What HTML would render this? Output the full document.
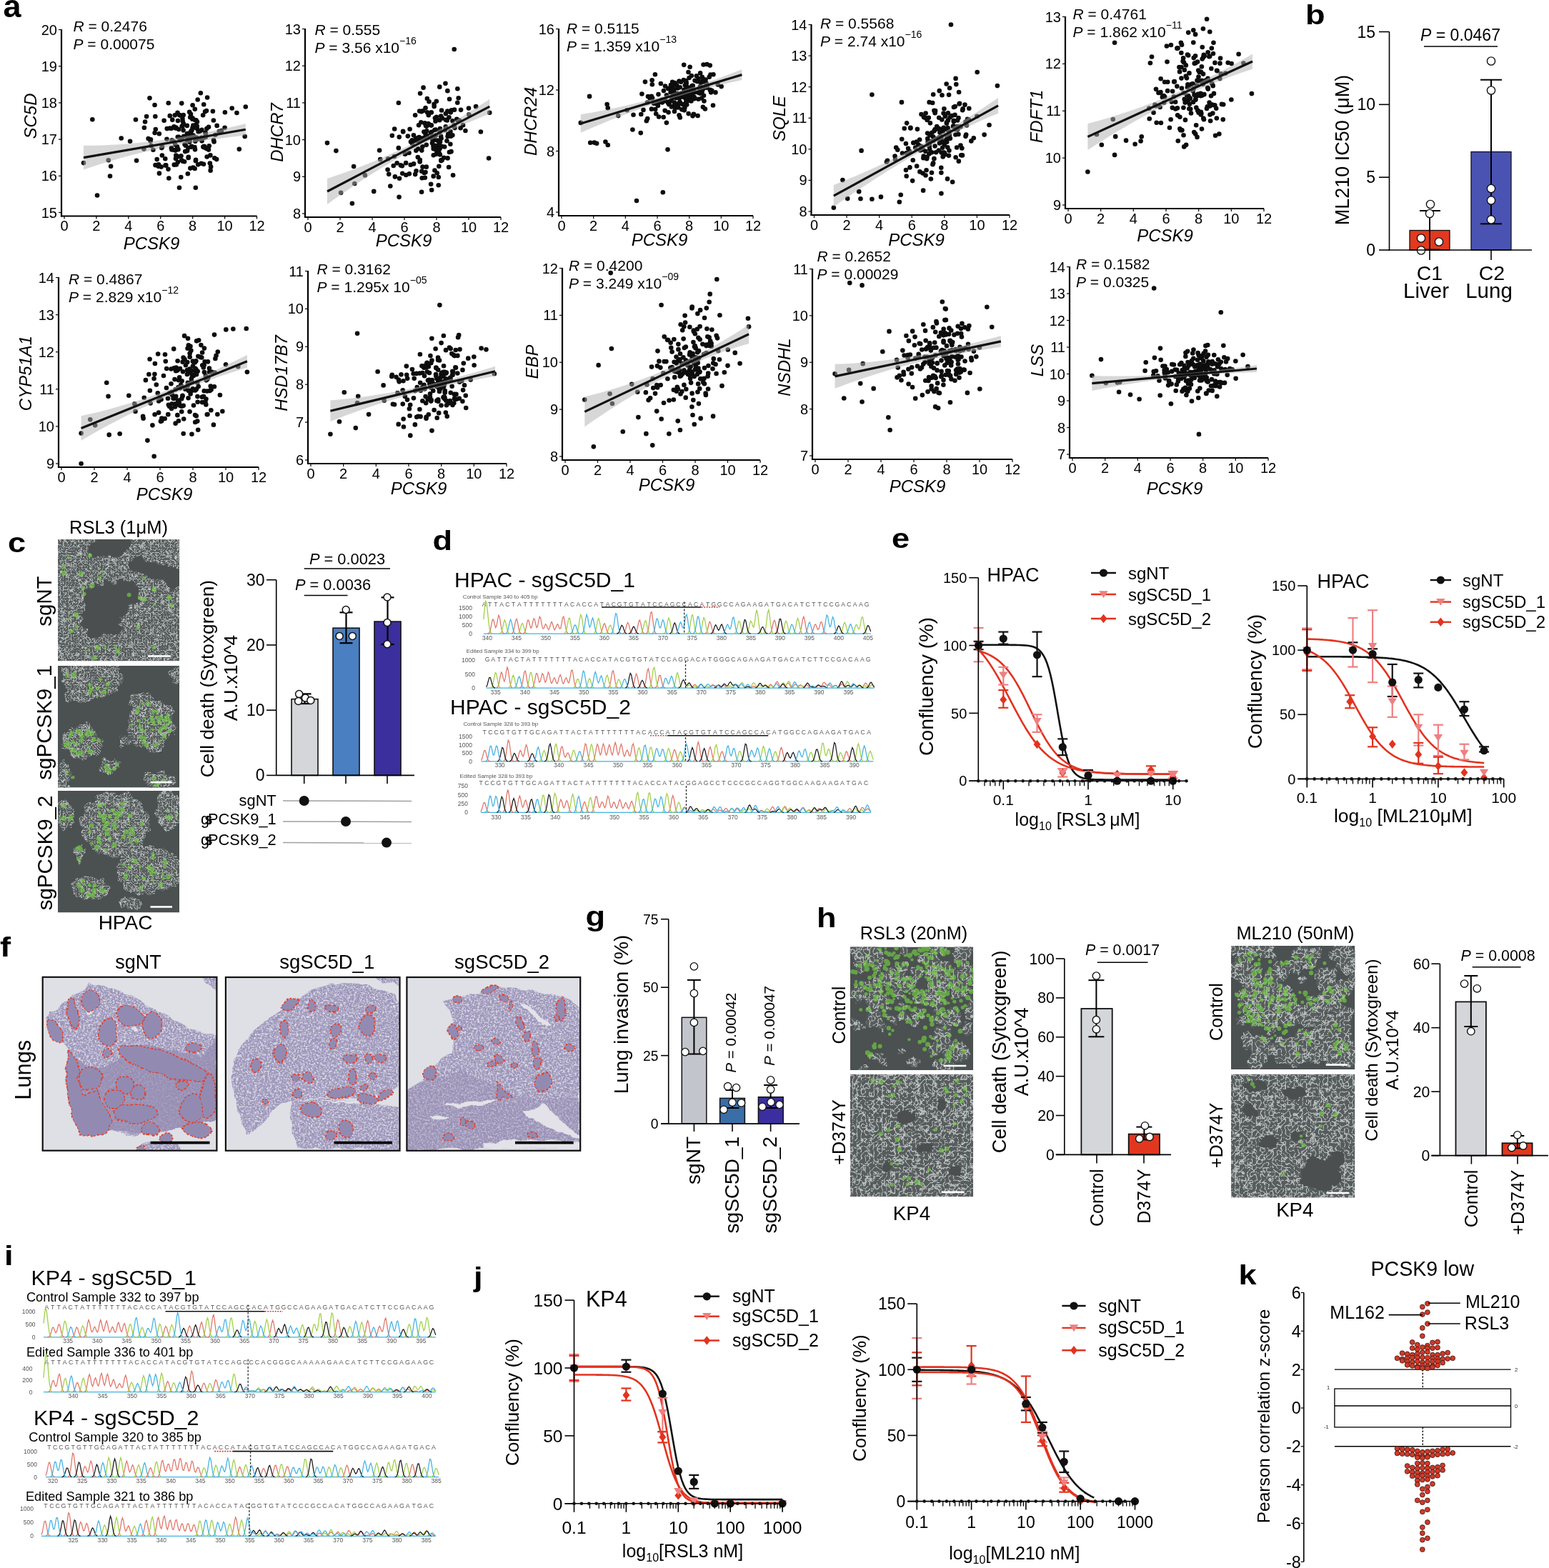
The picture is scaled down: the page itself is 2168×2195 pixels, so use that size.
<!DOCTYPE html>
<html><head><meta charset="utf-8"><title>Figure</title><style>html,body{margin:0;padding:0;background:#fff;width:2168px;height:2195px;overflow:hidden}svg{display:block}</style></head><body>
<svg width="2168" height="2195" viewBox="0 0 2168 2195" font-family="'Liberation Sans', Arial, Helvetica, sans-serif">
<defs>
<filter id="cellTex" x="0" y="0" width="100%" height="100%" color-interpolation-filters="sRGB">
  <feTurbulence type="turbulence" baseFrequency="0.27" numOctaves="2" seed="5" result="n"/>
  <feColorMatrix in="n" type="matrix" values="0 0 0 0 0.76  0 0 0 0 0.78  0 0 0 0 0.78  -6 0 0 0 1.45" result="w"/>
  <feFlood flood-color="#575c5c" result="d"/>
  <feComposite in="w" in2="d" operator="over" result="c"/>
  <feGaussianBlur in="c" stdDeviation="0.4" result="cb"/>
  <feComposite in="cb" in2="SourceAlpha" operator="in"/>
</filter>
<filter id="cellTex2" x="0" y="0" width="100%" height="100%" color-interpolation-filters="sRGB">
  <feTurbulence type="turbulence" baseFrequency="0.17" numOctaves="2" seed="9" result="n"/>
  <feColorMatrix in="n" type="matrix" values="0 0 0 0 0.75  0 0 0 0 0.77  0 0 0 0 0.77  -6 0 0 0 1.42" result="w"/>
  <feFlood flood-color="#575c5c" result="d"/>
  <feComposite in="w" in2="d" operator="over" result="c"/>
  <feGaussianBlur in="c" stdDeviation="0.4" result="cb"/>
  <feComposite in="cb" in2="SourceAlpha" operator="in"/>
</filter>
<filter id="greenTex" x="0" y="0" width="100%" height="100%" color-interpolation-filters="sRGB">
  <feTurbulence type="fractalNoise" baseFrequency="0.16" numOctaves="2" seed="5" result="n"/>
  <feColorMatrix in="n" type="matrix" values="0 0 0 0 0.36  0 0 0 0 0.82  0 0 0 0 0.24  5 0 0 0 -2.2" result="g"/>
  <feComposite in="g" in2="SourceAlpha" operator="in"/>
</filter>
<filter id="soft" x="-20%" y="-20%" width="140%" height="140%"><feGaussianBlur stdDeviation="0.7"/></filter>
<filter id="rough2" x="-5%" y="-5%" width="110%" height="110%">
  <feTurbulence type="fractalNoise" baseFrequency="0.05" numOctaves="2" seed="21" result="dn"/>
  <feDisplacementMap in="SourceGraphic" in2="dn" scale="9" xChannelSelector="R" yChannelSelector="G"/>
</filter>
<filter id="rough" x="-10%" y="-10%" width="120%" height="120%">
  <feTurbulence type="fractalNoise" baseFrequency="0.07" numOctaves="3" seed="12" result="dn"/>
  <feDisplacementMap in="SourceGraphic" in2="dn" scale="16" xChannelSelector="R" yChannelSelector="G"/>
</filter>
<filter id="lungTex" x="0" y="0" width="100%" height="100%" color-interpolation-filters="sRGB">
  <feTurbulence type="fractalNoise" baseFrequency="0.42" numOctaves="2" seed="6" result="n"/>
  <feColorMatrix in="n" type="matrix" values="0 0 0 0 0  0 0 0 0 0  0 0 0 0 0  -3.2 0 0 0 1.85" result="a"/>
  <feFlood flood-color="#dddce6" result="w"/>
  <feComposite in="w" in2="a" operator="in" result="wa"/>
  <feComposite in="wa" in2="SourceAlpha" operator="in"/>
</filter>
</defs>
<rect width="2168" height="2195" fill="#fff"/>
<text x="0" y="0" font-size="45" font-weight="bold" transform="translate(4.5 24.3) scale(1 1)">a</text>
<g fill="#0d0d0d"><circle cx="251.25" cy="161.08" r="3.3"/><circle cx="272.79" cy="152.8" r="3.3"/><circle cx="252.09" cy="195.34" r="3.3"/><circle cx="249.59" cy="219.18" r="3.3"/><circle cx="232.33" cy="231.4" r="3.3"/><circle cx="252.45" cy="196.27" r="3.3"/><circle cx="289.65" cy="219.47" r="3.3"/><circle cx="270.34" cy="234.5" r="3.3"/><circle cx="287.55" cy="185.44" r="3.3"/><circle cx="265.42" cy="191.14" r="3.3"/><circle cx="269.52" cy="178.79" r="3.3"/><circle cx="263.64" cy="220.94" r="3.3"/><circle cx="211.67" cy="204.1" r="3.3"/><circle cx="282.45" cy="193.76" r="3.3"/><circle cx="272.65" cy="236.04" r="3.3"/><circle cx="272.44" cy="178.52" r="3.3"/><circle cx="210.96" cy="195.33" r="3.3"/><circle cx="209.48" cy="137.34" r="3.3"/><circle cx="233.46" cy="194.73" r="3.3"/><circle cx="245.29" cy="202.47" r="3.3"/><circle cx="267.01" cy="159.9" r="3.3"/><circle cx="257.15" cy="190.73" r="3.3"/><circle cx="273.06" cy="167.97" r="3.3"/><circle cx="240.41" cy="209.54" r="3.3"/><circle cx="267.1" cy="188.46" r="3.3"/><circle cx="269.5" cy="165.34" r="3.3"/><circle cx="239.88" cy="179.73" r="3.3"/><circle cx="306.65" cy="184.11" r="3.3"/><circle cx="274.06" cy="223.87" r="3.3"/><circle cx="292.04" cy="177.73" r="3.3"/><circle cx="241.02" cy="196.97" r="3.3"/><circle cx="237.68" cy="179.43" r="3.3"/><circle cx="248.78" cy="191.7" r="3.3"/><circle cx="255.45" cy="165.98" r="3.3"/><circle cx="276.18" cy="194.48" r="3.3"/><circle cx="265.41" cy="189.21" r="3.3"/><circle cx="245.88" cy="179.52" r="3.3"/><circle cx="231.57" cy="231.38" r="3.3"/><circle cx="243.82" cy="209.96" r="3.3"/><circle cx="292.71" cy="204.23" r="3.3"/><circle cx="235.76" cy="144.28" r="3.3"/><circle cx="265.31" cy="197.53" r="3.3"/><circle cx="270.41" cy="175.66" r="3.3"/><circle cx="216.62" cy="185.94" r="3.3"/><circle cx="259.8" cy="203.78" r="3.3"/><circle cx="295.11" cy="233.41" r="3.3"/><circle cx="201.89" cy="178.77" r="3.3"/><circle cx="249.41" cy="209.14" r="3.3"/><circle cx="255.46" cy="176.41" r="3.3"/><circle cx="235.49" cy="236.85" r="3.3"/><circle cx="272.4" cy="206.02" r="3.3"/><circle cx="256.69" cy="161.02" r="3.3"/><circle cx="217.32" cy="162.96" r="3.3"/><circle cx="281.68" cy="228.75" r="3.3"/><circle cx="277.23" cy="230.37" r="3.3"/><circle cx="284.99" cy="192.74" r="3.3"/><circle cx="298.88" cy="168.57" r="3.3"/><circle cx="268.61" cy="189.82" r="3.3"/><circle cx="261.79" cy="186.98" r="3.3"/><circle cx="221.97" cy="230.29" r="3.3"/><circle cx="275.71" cy="176.58" r="3.3"/><circle cx="241.26" cy="167.64" r="3.3"/><circle cx="245.73" cy="210.59" r="3.3"/><circle cx="222.93" cy="242.65" r="3.3"/><circle cx="231.27" cy="222.2" r="3.3"/><circle cx="243.53" cy="177.25" r="3.3"/><circle cx="294.62" cy="238.64" r="3.3"/><circle cx="201.4" cy="208.61" r="3.3"/><circle cx="217.52" cy="231.13" r="3.3"/><circle cx="265.16" cy="198.63" r="3.3"/><circle cx="298.96" cy="195.95" r="3.3"/><circle cx="274.68" cy="192.84" r="3.3"/><circle cx="205.1" cy="163.11" r="3.3"/><circle cx="268.47" cy="182.52" r="3.3"/><circle cx="237.77" cy="162.14" r="3.3"/><circle cx="227" cy="205.55" r="3.3"/><circle cx="285.88" cy="204.85" r="3.3"/><circle cx="289.37" cy="180.07" r="3.3"/><circle cx="262.85" cy="243.26" r="3.3"/><circle cx="265.34" cy="196.03" r="3.3"/><circle cx="270.63" cy="189.48" r="3.3"/><circle cx="303.19" cy="223.11" r="3.3"/><circle cx="275.82" cy="180.01" r="3.3"/><circle cx="273" cy="209.33" r="3.3"/><circle cx="273.81" cy="262.68" r="3.3"/><circle cx="214.41" cy="209.77" r="3.3"/><circle cx="294.42" cy="217.42" r="3.3"/><circle cx="285.25" cy="206.11" r="3.3"/><circle cx="273.31" cy="197.81" r="3.3"/><circle cx="203.03" cy="170.51" r="3.3"/><circle cx="240.65" cy="196.3" r="3.3"/><circle cx="282.08" cy="192.8" r="3.3"/><circle cx="207.59" cy="193.99" r="3.3"/><circle cx="253.27" cy="248.04" r="3.3"/><circle cx="287.06" cy="156.21" r="3.3"/><circle cx="221.63" cy="232.84" r="3.3"/><circle cx="303.64" cy="175.89" r="3.3"/><circle cx="273.93" cy="225.15" r="3.3"/><circle cx="254.22" cy="224.34" r="3.3"/><circle cx="267.56" cy="205.68" r="3.3"/><circle cx="276.68" cy="139.55" r="3.3"/><circle cx="261.82" cy="175.88" r="3.3"/><circle cx="290.6" cy="207.53" r="3.3"/><circle cx="239.87" cy="207.34" r="3.3"/><circle cx="246.79" cy="230.56" r="3.3"/><circle cx="287.68" cy="191.99" r="3.3"/><circle cx="259.19" cy="212.12" r="3.3"/><circle cx="233.72" cy="180.08" r="3.3"/><circle cx="285.01" cy="229.71" r="3.3"/><circle cx="299.58" cy="198.38" r="3.3"/><circle cx="245.95" cy="221.99" r="3.3"/><circle cx="219.7" cy="223.08" r="3.3"/><circle cx="254.65" cy="176.74" r="3.3"/><circle cx="254.25" cy="193.28" r="3.3"/><circle cx="250.07" cy="181.08" r="3.3"/><circle cx="297.87" cy="155.77" r="3.3"/><circle cx="229.61" cy="168.75" r="3.3"/><circle cx="293.83" cy="228.59" r="3.3"/><circle cx="222.83" cy="187.18" r="3.3"/><circle cx="236.34" cy="249.55" r="3.3"/><circle cx="276.17" cy="194.83" r="3.3"/><circle cx="290.12" cy="136.56" r="3.3"/><circle cx="282.55" cy="197.37" r="3.3"/><circle cx="268.13" cy="204.82" r="3.3"/><circle cx="262.43" cy="190.62" r="3.3"/><circle cx="262.72" cy="194.86" r="3.3"/><circle cx="274.59" cy="192.55" r="3.3"/><circle cx="253.49" cy="218.29" r="3.3"/><circle cx="266.23" cy="164.29" r="3.3"/><circle cx="274.52" cy="168.28" r="3.3"/><circle cx="258.46" cy="202.08" r="3.3"/><circle cx="279.88" cy="183.52" r="3.3"/><circle cx="274.32" cy="174.81" r="3.3"/><circle cx="314.88" cy="157.23" r="3.3"/><circle cx="267.56" cy="183.46" r="3.3"/><circle cx="246.43" cy="178.62" r="3.3"/><circle cx="247.98" cy="205.34" r="3.3"/><circle cx="258.07" cy="226.29" r="3.3"/><circle cx="284.37" cy="205.55" r="3.3"/><circle cx="248.99" cy="169.05" r="3.3"/><circle cx="269.27" cy="166.69" r="3.3"/><circle cx="310.02" cy="183.03" r="3.3"/><circle cx="226.89" cy="217.57" r="3.3"/><circle cx="265.28" cy="186.25" r="3.3"/><circle cx="269.62" cy="147.32" r="3.3"/><circle cx="265.13" cy="156.8" r="3.3"/><circle cx="246.33" cy="217.46" r="3.3"/><circle cx="276.83" cy="194.14" r="3.3"/><circle cx="266.36" cy="235.61" r="3.3"/><circle cx="243.78" cy="230.63" r="3.3"/><circle cx="268.41" cy="189.07" r="3.3"/><circle cx="242.88" cy="198.12" r="3.3"/><circle cx="255.65" cy="169.43" r="3.3"/><circle cx="252.1" cy="161.51" r="3.3"/><circle cx="256.68" cy="172.9" r="3.3"/><circle cx="244.77" cy="161.32" r="3.3"/><circle cx="286.75" cy="206.59" r="3.3"/><circle cx="225.63" cy="233.6" r="3.3"/><circle cx="256.57" cy="182.34" r="3.3"/><circle cx="285.21" cy="146.2" r="3.3"/><circle cx="282.47" cy="181.88" r="3.3"/><circle cx="300.3" cy="221.27" r="3.3"/><circle cx="210.67" cy="197.58" r="3.3"/><circle cx="248.52" cy="157.69" r="3.3"/><circle cx="248.87" cy="226.9" r="3.3"/><circle cx="275.94" cy="170.44" r="3.3"/><circle cx="289.09" cy="207.99" r="3.3"/><circle cx="289" cy="154.95" r="3.3"/><circle cx="217.8" cy="181.05" r="3.3"/><circle cx="277.62" cy="184.21" r="3.3"/><circle cx="216.55" cy="147.07" r="3.3"/><circle cx="263.37" cy="206.77" r="3.3"/><circle cx="291.97" cy="209.6" r="3.3"/><circle cx="254.25" cy="144.61" r="3.3"/><circle cx="263.8" cy="219.86" r="3.3"/><circle cx="280.82" cy="130.3" r="3.3"/><circle cx="262.41" cy="196.55" r="3.3"/><circle cx="255.95" cy="225.73" r="3.3"/><circle cx="301.48" cy="188.68" r="3.3"/><circle cx="287.87" cy="187.32" r="3.3"/><circle cx="250.19" cy="191.88" r="3.3"/><circle cx="226.24" cy="207.11" r="3.3"/><circle cx="284.11" cy="161.2" r="3.3"/><circle cx="250.98" cy="262.73" r="3.3"/><circle cx="262.15" cy="211.08" r="3.3"/><circle cx="116.95" cy="228.08" r="3.3"/><circle cx="129.3" cy="167.31" r="3.3"/><circle cx="136.04" cy="273.5" r="3.3"/><circle cx="151.76" cy="224.22" r="3.3"/><circle cx="154.01" cy="246.45" r="3.3"/><circle cx="155.13" cy="232.79" r="3.3"/><circle cx="169.73" cy="193.49" r="3.3"/><circle cx="182.08" cy="197.81" r="3.3"/><circle cx="189.94" cy="167.46" r="3.3"/><circle cx="191.06" cy="224.7" r="3.3"/><circle cx="314.58" cy="178.78" r="3.3"/><circle cx="324.69" cy="151.55" r="3.3"/><circle cx="331.43" cy="157.98" r="3.3"/><circle cx="342.66" cy="190.93" r="3.3"/><circle cx="343.78" cy="149.51" r="3.3"/><circle cx="334.8" cy="208.85" r="3.3"/></g>
<polygon points="116.95,203.8 124.51,203.75 132.07,203.63 139.63,203.44 147.19,203.17 154.75,202.84 162.32,202.43 169.88,201.95 177.44,201.39 185,200.77 192.56,200.07 200.12,199.31 207.68,198.47 215.24,197.56 222.8,196.57 230.36,195.52 237.93,194.39 245.49,193.19 253.05,191.93 260.61,190.59 268.17,189.22 275.73,187.8 283.29,186.34 290.85,184.84 298.41,183.29 305.97,181.7 313.54,180.06 321.1,178.38 328.66,176.66 336.22,174.89 343.78,173.08 343.78,189.47 336.22,190.29 328.66,191.15 321.1,192.05 313.54,193 305.97,194 298.41,195.03 290.85,196.11 283.29,197.24 275.73,198.4 268.17,199.61 260.61,200.87 253.05,202.17 245.49,203.52 237.93,204.95 230.36,206.46 222.8,208.03 215.24,209.68 207.68,211.39 200.12,213.18 192.56,215.04 185,216.98 177.44,218.98 169.88,221.06 162.32,223.2 154.75,225.42 147.19,227.71 139.63,230.08 132.07,232.51 124.51,235.02 116.95,237.6" fill="#b0b0b0" fill-opacity="0.5"/>
<line x1="116.95" y1="220.7" x2="343.78" y2="181.28" stroke="#111" stroke-width="3.2"/>
<line x1="86" y1="41" x2="86" y2="303.5" stroke="#000" stroke-width="2.2"/>
<line x1="85" y1="302.5" x2="359.5" y2="302.5" stroke="#000" stroke-width="2.2"/>
<line x1="82" y1="297.5" x2="86" y2="297.5" stroke="#000" stroke-width="1.2"/>
<text x="80" y="304.5" font-size="20" text-anchor="end">15</text>
<line x1="82" y1="246.3" x2="86" y2="246.3" stroke="#000" stroke-width="1.2"/>
<text x="80" y="253.3" font-size="20" text-anchor="end">16</text>
<line x1="82" y1="195.1" x2="86" y2="195.1" stroke="#000" stroke-width="1.2"/>
<text x="80" y="202.1" font-size="20" text-anchor="end">17</text>
<line x1="82" y1="143.9" x2="86" y2="143.9" stroke="#000" stroke-width="1.2"/>
<text x="80" y="150.9" font-size="20" text-anchor="end">18</text>
<line x1="82" y1="92.7" x2="86" y2="92.7" stroke="#000" stroke-width="1.2"/>
<text x="80" y="99.7" font-size="20" text-anchor="end">19</text>
<line x1="82" y1="41.5" x2="86" y2="41.5" stroke="#000" stroke-width="1.2"/>
<text x="80" y="48.5" font-size="20" text-anchor="end">20</text>
<line x1="90" y1="302.5" x2="90" y2="306.5" stroke="#000" stroke-width="1.2"/>
<text x="90" y="323" font-size="20" text-anchor="middle">0</text>
<line x1="134.92" y1="302.5" x2="134.92" y2="306.5" stroke="#000" stroke-width="1.2"/>
<text x="134.92" y="323" font-size="20" text-anchor="middle">2</text>
<line x1="179.83" y1="302.5" x2="179.83" y2="306.5" stroke="#000" stroke-width="1.2"/>
<text x="179.83" y="323" font-size="20" text-anchor="middle">4</text>
<line x1="224.75" y1="302.5" x2="224.75" y2="306.5" stroke="#000" stroke-width="1.2"/>
<text x="224.75" y="323" font-size="20" text-anchor="middle">6</text>
<line x1="269.67" y1="302.5" x2="269.67" y2="306.5" stroke="#000" stroke-width="1.2"/>
<text x="269.67" y="323" font-size="20" text-anchor="middle">8</text>
<line x1="314.58" y1="302.5" x2="314.58" y2="306.5" stroke="#000" stroke-width="1.2"/>
<text x="314.58" y="323" font-size="20" text-anchor="middle">10</text>
<line x1="359.5" y1="302.5" x2="359.5" y2="306.5" stroke="#000" stroke-width="1.2"/>
<text x="359.5" y="323" font-size="20" text-anchor="middle">12</text>
<text x="212" y="349" font-size="24" text-anchor="middle" font-style="italic">PCSK9</text>
<text x="42.5" y="162.5" font-size="24" text-anchor="middle" font-style="italic" transform="rotate(-90 42.5 162.5)" dy="8.6">SC5D</text>
<text x="102.5" y="44" font-size="21"><tspan font-style="italic">R</tspan> = 0.2476</text>
<text x="102.5" y="69" font-size="21"><tspan font-style="italic">P</tspan> = 0.00075</text>
<g fill="#0d0d0d"><circle cx="592.55" cy="122.63" r="3.3"/><circle cx="614.13" cy="207.53" r="3.3"/><circle cx="593.39" cy="184.48" r="3.3"/><circle cx="590.89" cy="193.75" r="3.3"/><circle cx="573.59" cy="180.73" r="3.3"/><circle cx="593.75" cy="241.89" r="3.3"/><circle cx="631.02" cy="190.74" r="3.3"/><circle cx="611.68" cy="211.65" r="3.3"/><circle cx="628.91" cy="213" r="3.3"/><circle cx="606.75" cy="217.19" r="3.3"/><circle cx="610.85" cy="204.42" r="3.3"/><circle cx="604.96" cy="200.27" r="3.3"/><circle cx="552.89" cy="247.39" r="3.3"/><circle cx="623.8" cy="167.69" r="3.3"/><circle cx="613.99" cy="203.91" r="3.3"/><circle cx="613.78" cy="247.97" r="3.3"/><circle cx="552.18" cy="180.53" r="3.3"/><circle cx="550.7" cy="232.03" r="3.3"/><circle cx="574.73" cy="230.73" r="3.3"/><circle cx="586.58" cy="192.1" r="3.3"/><circle cx="608.34" cy="181.94" r="3.3"/><circle cx="598.46" cy="192.79" r="3.3"/><circle cx="614.4" cy="213.53" r="3.3"/><circle cx="581.69" cy="197.12" r="3.3"/><circle cx="608.43" cy="238.55" r="3.3"/><circle cx="610.84" cy="141.74" r="3.3"/><circle cx="581.16" cy="244.1" r="3.3"/><circle cx="648.06" cy="175.15" r="3.3"/><circle cx="615.4" cy="185" r="3.3"/><circle cx="633.42" cy="169.18" r="3.3"/><circle cx="582.3" cy="210.84" r="3.3"/><circle cx="578.95" cy="189.21" r="3.3"/><circle cx="590.07" cy="268.78" r="3.3"/><circle cx="596.76" cy="202.87" r="3.3"/><circle cx="617.53" cy="193.79" r="3.3"/><circle cx="606.74" cy="208.22" r="3.3"/><circle cx="587.17" cy="155.5" r="3.3"/><circle cx="572.84" cy="243.37" r="3.3"/><circle cx="585.11" cy="208.3" r="3.3"/><circle cx="634.09" cy="245.3" r="3.3"/><circle cx="577.03" cy="201.12" r="3.3"/><circle cx="606.63" cy="246.63" r="3.3"/><circle cx="611.75" cy="242.29" r="3.3"/><circle cx="557.85" cy="144.02" r="3.3"/><circle cx="601.11" cy="174.63" r="3.3"/><circle cx="636.49" cy="179.09" r="3.3"/><circle cx="543.1" cy="222.18" r="3.3"/><circle cx="590.71" cy="249.32" r="3.3"/><circle cx="596.76" cy="233.63" r="3.3"/><circle cx="576.76" cy="196.37" r="3.3"/><circle cx="613.74" cy="259.27" r="3.3"/><circle cx="598" cy="190.15" r="3.3"/><circle cx="558.56" cy="275.86" r="3.3"/><circle cx="623.03" cy="181.95" r="3.3"/><circle cx="618.58" cy="224.29" r="3.3"/><circle cx="626.35" cy="127.16" r="3.3"/><circle cx="640.27" cy="143.82" r="3.3"/><circle cx="609.94" cy="209.48" r="3.3"/><circle cx="603.1" cy="257.73" r="3.3"/><circle cx="563.21" cy="242.68" r="3.3"/><circle cx="617.06" cy="190.82" r="3.3"/><circle cx="582.54" cy="239.32" r="3.3"/><circle cx="587.02" cy="195.47" r="3.3"/><circle cx="564.18" cy="184.46" r="3.3"/><circle cx="572.54" cy="214.07" r="3.3"/><circle cx="584.81" cy="219.98" r="3.3"/><circle cx="636" cy="153.63" r="3.3"/><circle cx="542.61" cy="237.56" r="3.3"/><circle cx="558.75" cy="191.84" r="3.3"/><circle cx="606.48" cy="204.87" r="3.3"/><circle cx="640.34" cy="124.19" r="3.3"/><circle cx="616.02" cy="198.58" r="3.3"/><circle cx="546.31" cy="260.47" r="3.3"/><circle cx="609.8" cy="189.58" r="3.3"/><circle cx="579.04" cy="229.42" r="3.3"/><circle cx="568.26" cy="245.04" r="3.3"/><circle cx="627.24" cy="187.71" r="3.3"/><circle cx="630.74" cy="157.35" r="3.3"/><circle cx="604.17" cy="266.05" r="3.3"/><circle cx="606.66" cy="195.77" r="3.3"/><circle cx="611.97" cy="196.49" r="3.3"/><circle cx="644.58" cy="179.23" r="3.3"/><circle cx="617.16" cy="162.62" r="3.3"/><circle cx="614.34" cy="232.79" r="3.3"/><circle cx="615.16" cy="168.27" r="3.3"/><circle cx="555.64" cy="228.34" r="3.3"/><circle cx="635.8" cy="175.31" r="3.3"/><circle cx="626.61" cy="190.9" r="3.3"/><circle cx="614.65" cy="200.68" r="3.3"/><circle cx="544.23" cy="243.84" r="3.3"/><circle cx="581.93" cy="193.56" r="3.3"/><circle cx="623.44" cy="116.69" r="3.3"/><circle cx="548.81" cy="189.86" r="3.3"/><circle cx="594.57" cy="172.39" r="3.3"/><circle cx="628.42" cy="164.21" r="3.3"/><circle cx="562.87" cy="232.18" r="3.3"/><circle cx="645.03" cy="153.87" r="3.3"/><circle cx="615.27" cy="121.63" r="3.3"/><circle cx="595.53" cy="241.09" r="3.3"/><circle cx="608.89" cy="165.31" r="3.3"/><circle cx="618.03" cy="154.44" r="3.3"/><circle cx="603.14" cy="185.99" r="3.3"/><circle cx="631.97" cy="154.36" r="3.3"/><circle cx="581.14" cy="161.29" r="3.3"/><circle cx="588.09" cy="130.78" r="3.3"/><circle cx="629.05" cy="138.81" r="3.3"/><circle cx="600.5" cy="142.24" r="3.3"/><circle cx="574.99" cy="198.55" r="3.3"/><circle cx="626.37" cy="155.46" r="3.3"/><circle cx="640.97" cy="168.98" r="3.3"/><circle cx="587.24" cy="193.09" r="3.3"/><circle cx="560.94" cy="231.39" r="3.3"/><circle cx="595.96" cy="175.91" r="3.3"/><circle cx="595.56" cy="151.04" r="3.3"/><circle cx="591.37" cy="205.36" r="3.3"/><circle cx="639.26" cy="166.86" r="3.3"/><circle cx="570.87" cy="190.59" r="3.3"/><circle cx="635.2" cy="176.41" r="3.3"/><circle cx="564.08" cy="183.79" r="3.3"/><circle cx="577.61" cy="198.74" r="3.3"/><circle cx="617.51" cy="224.07" r="3.3"/><circle cx="631.49" cy="212.17" r="3.3"/><circle cx="623.91" cy="159.13" r="3.3"/><circle cx="609.46" cy="169.76" r="3.3"/><circle cx="603.75" cy="157.39" r="3.3"/><circle cx="604.04" cy="184.84" r="3.3"/><circle cx="615.93" cy="180.07" r="3.3"/><circle cx="594.79" cy="248.75" r="3.3"/><circle cx="607.55" cy="145.79" r="3.3"/><circle cx="615.86" cy="216.45" r="3.3"/><circle cx="599.77" cy="161.27" r="3.3"/><circle cx="621.24" cy="220.68" r="3.3"/><circle cx="615.67" cy="208.06" r="3.3"/><circle cx="656.3" cy="160.32" r="3.3"/><circle cx="608.89" cy="203.88" r="3.3"/><circle cx="587.72" cy="223.78" r="3.3"/><circle cx="589.27" cy="171.3" r="3.3"/><circle cx="599.38" cy="173.11" r="3.3"/><circle cx="625.73" cy="168.39" r="3.3"/><circle cx="590.28" cy="210.62" r="3.3"/><circle cx="610.6" cy="215.7" r="3.3"/><circle cx="651.42" cy="183.06" r="3.3"/><circle cx="568.14" cy="228.13" r="3.3"/><circle cx="606.61" cy="191.88" r="3.3"/><circle cx="610.95" cy="163.91" r="3.3"/><circle cx="606.46" cy="196.51" r="3.3"/><circle cx="587.62" cy="226.44" r="3.3"/><circle cx="618.18" cy="204.84" r="3.3"/><circle cx="607.68" cy="148.96" r="3.3"/><circle cx="585.07" cy="196.86" r="3.3"/><circle cx="609.74" cy="181.63" r="3.3"/><circle cx="584.16" cy="193.49" r="3.3"/><circle cx="596.95" cy="176.69" r="3.3"/><circle cx="593.41" cy="193.15" r="3.3"/><circle cx="597.99" cy="157.23" r="3.3"/><circle cx="586.06" cy="175.19" r="3.3"/><circle cx="628.12" cy="233.98" r="3.3"/><circle cx="566.88" cy="215.77" r="3.3"/><circle cx="597.87" cy="137.96" r="3.3"/><circle cx="626.57" cy="221.38" r="3.3"/><circle cx="623.83" cy="177.39" r="3.3"/><circle cx="641.69" cy="137.31" r="3.3"/><circle cx="551.9" cy="219.06" r="3.3"/><circle cx="589.81" cy="156.13" r="3.3"/><circle cx="590.16" cy="239.72" r="3.3"/><circle cx="617.28" cy="225.1" r="3.3"/><circle cx="630.46" cy="183.96" r="3.3"/><circle cx="630.37" cy="201.68" r="3.3"/><circle cx="559.04" cy="249.79" r="3.3"/><circle cx="618.96" cy="165.53" r="3.3"/><circle cx="557.78" cy="207.15" r="3.3"/><circle cx="604.7" cy="190.96" r="3.3"/><circle cx="633.35" cy="189.3" r="3.3"/><circle cx="595.55" cy="187.56" r="3.3"/><circle cx="605.12" cy="194.9" r="3.3"/><circle cx="622.17" cy="205.55" r="3.3"/><circle cx="603.73" cy="175.29" r="3.3"/><circle cx="597.26" cy="183.2" r="3.3"/><circle cx="642.87" cy="168.65" r="3.3"/><circle cx="629.24" cy="156.09" r="3.3"/><circle cx="591.49" cy="233.65" r="3.3"/><circle cx="567.5" cy="215.34" r="3.3"/><circle cx="625.47" cy="197.18" r="3.3"/><circle cx="592.28" cy="154.99" r="3.3"/><circle cx="603.47" cy="175.55" r="3.3"/><circle cx="458" cy="200.12" r="3.3"/><circle cx="470.38" cy="211.1" r="3.3"/><circle cx="477.12" cy="269.87" r="3.3"/><circle cx="492.88" cy="284.82" r="3.3"/><circle cx="495.12" cy="233.04" r="3.3"/><circle cx="496.25" cy="257.04" r="3.3"/><circle cx="510.88" cy="245.38" r="3.3"/><circle cx="523.25" cy="267.88" r="3.3"/><circle cx="531.12" cy="210.45" r="3.3"/><circle cx="532.25" cy="223.17" r="3.3"/><circle cx="656" cy="151.46" r="3.3"/><circle cx="666.12" cy="149.13" r="3.3"/><circle cx="672.88" cy="184.5" r="3.3"/><circle cx="684.12" cy="221.44" r="3.3"/><circle cx="685.25" cy="157.78" r="3.3"/><circle cx="635.75" cy="68.94" r="3.3"/></g>
<polygon points="458,249.89 465.57,247.42 473.15,244.87 480.73,242.23 488.3,239.51 495.88,236.71 503.45,233.82 511.03,230.84 518.6,227.78 526.17,224.64 533.75,221.4 541.33,218.09 548.9,214.69 556.48,211.2 564.05,207.63 571.62,203.98 579.2,200.23 586.77,196.41 594.35,192.5 601.92,188.5 609.5,184.42 617.08,180.24 624.65,175.98 632.23,171.63 639.8,167.2 647.38,162.67 654.95,158.06 662.53,153.36 670.1,148.57 677.67,143.69 685.25,138.73 685.25,159.41 677.67,162.37 670.1,165.42 662.53,168.56 654.95,171.79 647.38,175.11 639.8,178.51 632.23,182 624.65,185.58 617.08,189.24 609.5,193 601.92,196.84 594.35,200.77 586.77,204.79 579.2,208.89 571.62,213.07 564.05,217.35 556.48,221.7 548.9,226.14 541.33,230.67 533.75,235.28 526.17,239.98 518.6,244.76 511.03,249.63 503.45,254.58 495.88,259.62 488.3,264.74 480.73,269.94 473.15,275.24 465.57,280.61 458,286.07" fill="#b0b0b0" fill-opacity="0.5"/>
<line x1="458" y1="267.98" x2="685.25" y2="149.07" stroke="#111" stroke-width="3.2"/>
<line x1="427" y1="40" x2="427" y2="305" stroke="#000" stroke-width="2.2"/>
<line x1="426" y1="304" x2="701" y2="304" stroke="#000" stroke-width="2.2"/>
<line x1="423" y1="299" x2="427" y2="299" stroke="#000" stroke-width="1.2"/>
<text x="421" y="306" font-size="20" text-anchor="end">8</text>
<line x1="423" y1="247.3" x2="427" y2="247.3" stroke="#000" stroke-width="1.2"/>
<text x="421" y="254.3" font-size="20" text-anchor="end">9</text>
<line x1="423" y1="195.6" x2="427" y2="195.6" stroke="#000" stroke-width="1.2"/>
<text x="421" y="202.6" font-size="20" text-anchor="end">10</text>
<line x1="423" y1="143.9" x2="427" y2="143.9" stroke="#000" stroke-width="1.2"/>
<text x="421" y="150.9" font-size="20" text-anchor="end">11</text>
<line x1="423" y1="92.2" x2="427" y2="92.2" stroke="#000" stroke-width="1.2"/>
<text x="421" y="99.2" font-size="20" text-anchor="end">12</text>
<line x1="423" y1="40.5" x2="427" y2="40.5" stroke="#000" stroke-width="1.2"/>
<text x="421" y="47.5" font-size="20" text-anchor="end">13</text>
<line x1="431" y1="304" x2="431" y2="308" stroke="#000" stroke-width="1.2"/>
<text x="431" y="324.5" font-size="20" text-anchor="middle">0</text>
<line x1="476" y1="304" x2="476" y2="308" stroke="#000" stroke-width="1.2"/>
<text x="476" y="324.5" font-size="20" text-anchor="middle">2</text>
<line x1="521" y1="304" x2="521" y2="308" stroke="#000" stroke-width="1.2"/>
<text x="521" y="324.5" font-size="20" text-anchor="middle">4</text>
<line x1="566" y1="304" x2="566" y2="308" stroke="#000" stroke-width="1.2"/>
<text x="566" y="324.5" font-size="20" text-anchor="middle">6</text>
<line x1="611" y1="304" x2="611" y2="308" stroke="#000" stroke-width="1.2"/>
<text x="611" y="324.5" font-size="20" text-anchor="middle">8</text>
<line x1="656" y1="304" x2="656" y2="308" stroke="#000" stroke-width="1.2"/>
<text x="656" y="324.5" font-size="20" text-anchor="middle">10</text>
<line x1="701" y1="304" x2="701" y2="308" stroke="#000" stroke-width="1.2"/>
<text x="701" y="324.5" font-size="20" text-anchor="middle">12</text>
<text x="565" y="345" font-size="24" text-anchor="middle" font-style="italic">PCSK9</text>
<text x="387.4" y="185.5" font-size="24" text-anchor="middle" font-style="italic" transform="rotate(-90 387.4 185.5)" dy="8.6">DHCR7</text>
<text x="440.5" y="49" font-size="21"><tspan font-style="italic">R</tspan> = 0.555</text>
<text x="440.5" y="74" font-size="21"><tspan font-style="italic">P</tspan> = 3.56 x10<tspan font-size="14" dy="-12">−16</tspan></text>
<g fill="#0d0d0d"><circle cx="946.36" cy="131.01" r="3.3"/><circle cx="967.78" cy="105.99" r="3.3"/><circle cx="947.19" cy="147.2" r="3.3"/><circle cx="944.7" cy="117.12" r="3.3"/><circle cx="927.54" cy="142.39" r="3.3"/><circle cx="947.55" cy="136.36" r="3.3"/><circle cx="984.54" cy="90.49" r="3.3"/><circle cx="965.34" cy="124.24" r="3.3"/><circle cx="982.45" cy="122.27" r="3.3"/><circle cx="960.45" cy="116.56" r="3.3"/><circle cx="964.52" cy="108.95" r="3.3"/><circle cx="958.67" cy="129.29" r="3.3"/><circle cx="906.99" cy="135.04" r="3.3"/><circle cx="977.38" cy="138.73" r="3.3"/><circle cx="967.64" cy="131.95" r="3.3"/><circle cx="967.43" cy="133.16" r="3.3"/><circle cx="906.28" cy="166.04" r="3.3"/><circle cx="904.82" cy="169.31" r="3.3"/><circle cx="928.66" cy="163.97" r="3.3"/><circle cx="940.43" cy="138.15" r="3.3"/><circle cx="962.03" cy="130.54" r="3.3"/><circle cx="952.22" cy="135.88" r="3.3"/><circle cx="968.04" cy="124.84" r="3.3"/><circle cx="935.57" cy="157.21" r="3.3"/><circle cx="962.12" cy="129.02" r="3.3"/><circle cx="964.5" cy="123.21" r="3.3"/><circle cx="935.04" cy="123.92" r="3.3"/><circle cx="1001.45" cy="129.39" r="3.3"/><circle cx="969.04" cy="132.06" r="3.3"/><circle cx="986.92" cy="152.53" r="3.3"/><circle cx="936.18" cy="143.69" r="3.3"/><circle cx="932.86" cy="171.84" r="3.3"/><circle cx="943.9" cy="156.03" r="3.3"/><circle cx="950.53" cy="113.6" r="3.3"/><circle cx="971.15" cy="160.3" r="3.3"/><circle cx="960.44" cy="115.45" r="3.3"/><circle cx="941.01" cy="128.89" r="3.3"/><circle cx="926.79" cy="143.47" r="3.3"/><circle cx="938.97" cy="127.4" r="3.3"/><circle cx="987.58" cy="111.57" r="3.3"/><circle cx="930.94" cy="120.44" r="3.3"/><circle cx="960.33" cy="131.98" r="3.3"/><circle cx="965.41" cy="136.24" r="3.3"/><circle cx="911.91" cy="152.66" r="3.3"/><circle cx="954.85" cy="145.76" r="3.3"/><circle cx="989.97" cy="120.02" r="3.3"/><circle cx="897.27" cy="160.01" r="3.3"/><circle cx="944.52" cy="115.95" r="3.3"/><circle cx="950.54" cy="161.23" r="3.3"/><circle cx="930.68" cy="154.81" r="3.3"/><circle cx="967.39" cy="141.43" r="3.3"/><circle cx="951.76" cy="164.44" r="3.3"/><circle cx="912.61" cy="112.26" r="3.3"/><circle cx="976.61" cy="161.96" r="3.3"/><circle cx="972.19" cy="129.23" r="3.3"/><circle cx="979.9" cy="130.77" r="3.3"/><circle cx="993.72" cy="91.62" r="3.3"/><circle cx="963.61" cy="159.12" r="3.3"/><circle cx="956.83" cy="112.17" r="3.3"/><circle cx="917.23" cy="153.08" r="3.3"/><circle cx="970.68" cy="127.64" r="3.3"/><circle cx="936.42" cy="146.29" r="3.3"/><circle cx="940.86" cy="123.92" r="3.3"/><circle cx="918.19" cy="159.3" r="3.3"/><circle cx="926.49" cy="139.82" r="3.3"/><circle cx="938.67" cy="129.19" r="3.3"/><circle cx="989.48" cy="89.95" r="3.3"/><circle cx="896.78" cy="186.12" r="3.3"/><circle cx="912.81" cy="118.25" r="3.3"/><circle cx="960.18" cy="113.13" r="3.3"/><circle cx="993.79" cy="125.89" r="3.3"/><circle cx="969.65" cy="120.57" r="3.3"/><circle cx="900.46" cy="153.91" r="3.3"/><circle cx="963.48" cy="100.94" r="3.3"/><circle cx="932.95" cy="133.23" r="3.3"/><circle cx="922.24" cy="143.29" r="3.3"/><circle cx="980.78" cy="125.74" r="3.3"/><circle cx="984.26" cy="124.24" r="3.3"/><circle cx="957.89" cy="131.86" r="3.3"/><circle cx="960.36" cy="142.37" r="3.3"/><circle cx="965.63" cy="93.68" r="3.3"/><circle cx="998" cy="147.5" r="3.3"/><circle cx="970.78" cy="159.8" r="3.3"/><circle cx="967.98" cy="127.94" r="3.3"/><circle cx="968.79" cy="128.07" r="3.3"/><circle cx="909.72" cy="137.67" r="3.3"/><circle cx="989.28" cy="122.79" r="3.3"/><circle cx="980.16" cy="124.65" r="3.3"/><circle cx="968.29" cy="120.55" r="3.3"/><circle cx="898.4" cy="131.54" r="3.3"/><circle cx="935.81" cy="142.91" r="3.3"/><circle cx="977.01" cy="129.21" r="3.3"/><circle cx="902.94" cy="114.58" r="3.3"/><circle cx="948.36" cy="123.42" r="3.3"/><circle cx="981.96" cy="137.53" r="3.3"/><circle cx="916.9" cy="104.2" r="3.3"/><circle cx="998.45" cy="104.29" r="3.3"/><circle cx="968.91" cy="135.13" r="3.3"/><circle cx="949.31" cy="150.46" r="3.3"/><circle cx="962.57" cy="122.83" r="3.3"/><circle cx="971.64" cy="138.2" r="3.3"/><circle cx="956.86" cy="146.29" r="3.3"/><circle cx="985.48" cy="141.44" r="3.3"/><circle cx="935.03" cy="144.07" r="3.3"/><circle cx="941.92" cy="116.12" r="3.3"/><circle cx="982.58" cy="128.49" r="3.3"/><circle cx="954.25" cy="153.37" r="3.3"/><circle cx="928.92" cy="127.09" r="3.3"/><circle cx="979.92" cy="121.29" r="3.3"/><circle cx="994.41" cy="104.43" r="3.3"/><circle cx="941.08" cy="114.86" r="3.3"/><circle cx="914.98" cy="144.75" r="3.3"/><circle cx="949.74" cy="133.82" r="3.3"/><circle cx="949.34" cy="132.35" r="3.3"/><circle cx="945.18" cy="151.07" r="3.3"/><circle cx="992.72" cy="107.74" r="3.3"/><circle cx="924.83" cy="117.05" r="3.3"/><circle cx="988.69" cy="116.9" r="3.3"/><circle cx="918.09" cy="144.9" r="3.3"/><circle cx="931.53" cy="141.19" r="3.3"/><circle cx="971.13" cy="137.53" r="3.3"/><circle cx="985.01" cy="133.69" r="3.3"/><circle cx="977.48" cy="129.51" r="3.3"/><circle cx="963.14" cy="140.93" r="3.3"/><circle cx="957.47" cy="136.17" r="3.3"/><circle cx="957.76" cy="154.35" r="3.3"/><circle cx="969.56" cy="119.88" r="3.3"/><circle cx="948.58" cy="131.06" r="3.3"/><circle cx="961.25" cy="146.49" r="3.3"/><circle cx="969.49" cy="162.36" r="3.3"/><circle cx="953.52" cy="130.48" r="3.3"/><circle cx="974.83" cy="106.19" r="3.3"/><circle cx="969.3" cy="137.33" r="3.3"/><circle cx="1009.63" cy="121.08" r="3.3"/><circle cx="962.57" cy="136.72" r="3.3"/><circle cx="941.56" cy="123.51" r="3.3"/><circle cx="943.1" cy="148.2" r="3.3"/><circle cx="953.13" cy="114.67" r="3.3"/><circle cx="979.29" cy="127.4" r="3.3"/><circle cx="944.1" cy="118.38" r="3.3"/><circle cx="964.27" cy="126.57" r="3.3"/><circle cx="1004.79" cy="118.51" r="3.3"/><circle cx="922.12" cy="163.57" r="3.3"/><circle cx="960.31" cy="139.31" r="3.3"/><circle cx="964.62" cy="131.18" r="3.3"/><circle cx="960.16" cy="117.76" r="3.3"/><circle cx="941.46" cy="130.08" r="3.3"/><circle cx="971.79" cy="135.98" r="3.3"/><circle cx="961.38" cy="121.4" r="3.3"/><circle cx="938.93" cy="118.95" r="3.3"/><circle cx="963.41" cy="129.74" r="3.3"/><circle cx="938.03" cy="142.09" r="3.3"/><circle cx="950.72" cy="137.51" r="3.3"/><circle cx="947.2" cy="119.27" r="3.3"/><circle cx="951.75" cy="122.26" r="3.3"/><circle cx="939.91" cy="149.38" r="3.3"/><circle cx="981.66" cy="115.81" r="3.3"/><circle cx="920.88" cy="147.95" r="3.3"/><circle cx="951.64" cy="142.97" r="3.3"/><circle cx="980.12" cy="102.42" r="3.3"/><circle cx="977.4" cy="109.95" r="3.3"/><circle cx="995.13" cy="129.36" r="3.3"/><circle cx="906" cy="143.49" r="3.3"/><circle cx="943.63" cy="125.31" r="3.3"/><circle cx="943.98" cy="143.5" r="3.3"/><circle cx="970.9" cy="127.01" r="3.3"/><circle cx="983.98" cy="110.43" r="3.3"/><circle cx="983.89" cy="149.83" r="3.3"/><circle cx="913.09" cy="137.36" r="3.3"/><circle cx="972.57" cy="112.73" r="3.3"/><circle cx="911.84" cy="134.91" r="3.3"/><circle cx="958.41" cy="150.38" r="3.3"/><circle cx="986.85" cy="115.14" r="3.3"/><circle cx="949.33" cy="145.47" r="3.3"/><circle cx="958.83" cy="119.6" r="3.3"/><circle cx="975.75" cy="113.92" r="3.3"/><circle cx="957.45" cy="125.69" r="3.3"/><circle cx="951.03" cy="143.38" r="3.3"/><circle cx="996.3" cy="126.86" r="3.3"/><circle cx="982.77" cy="107.79" r="3.3"/><circle cx="945.3" cy="147.26" r="3.3"/><circle cx="921.48" cy="132.12" r="3.3"/><circle cx="979.03" cy="114.42" r="3.3"/><circle cx="946.08" cy="137.08" r="3.3"/><circle cx="957.2" cy="90.85" r="3.3"/><circle cx="812.8" cy="171.9" r="3.3"/><circle cx="825.08" cy="134.89" r="3.3"/><circle cx="831.78" cy="199.59" r="3.3"/><circle cx="847.42" cy="198.5" r="3.3"/><circle cx="849.65" cy="146.11" r="3.3"/><circle cx="850.77" cy="151.31" r="3.3"/><circle cx="865.28" cy="162.12" r="3.3"/><circle cx="877.57" cy="154.24" r="3.3"/><circle cx="885.38" cy="181.52" r="3.3"/><circle cx="886.5" cy="160.76" r="3.3"/><circle cx="850.77" cy="202.95" r="3.3"/><circle cx="835.13" cy="200.81" r="3.3"/><circle cx="826.2" cy="199.74" r="3.3"/><circle cx="934.52" cy="209.36" r="3.3"/><circle cx="927.82" cy="269.21" r="3.3"/><circle cx="890.97" cy="280.97" r="3.3"/></g>
<polygon points="812.8,160.2 820.32,158.95 827.84,157.65 835.36,156.28 842.88,154.86 850.39,153.38 857.91,151.84 865.43,150.24 872.95,148.58 880.47,146.86 887.99,145.09 895.51,143.25 903.03,141.36 910.55,139.41 918.06,137.4 925.58,135.33 933.1,133.21 940.62,131.02 948.14,128.78 955.66,126.48 963.18,124.11 970.7,121.69 978.22,119.2 985.73,116.66 993.25,114.05 1000.77,111.38 1008.29,108.66 1015.81,105.87 1023.33,103.02 1030.85,100.11 1038.37,97.14 1038.37,112.11 1030.85,113.7 1023.33,115.35 1015.81,117.06 1008.29,118.83 1000.77,120.67 993.25,122.56 985.73,124.51 978.22,126.53 970.7,128.6 963.18,130.74 955.66,132.93 948.14,135.19 940.62,137.51 933.1,139.88 925.58,142.32 918.06,144.81 910.55,147.36 903.03,149.97 895.51,152.64 887.99,155.36 880.47,158.15 872.95,160.99 865.43,163.89 857.91,166.85 850.39,169.87 842.88,172.95 835.36,176.09 827.84,179.28 820.32,182.54 812.8,185.85" fill="#b0b0b0" fill-opacity="0.5"/>
<line x1="812.8" y1="173.02" x2="1038.37" y2="104.62" stroke="#111" stroke-width="3.2"/>
<line x1="782" y1="40" x2="782" y2="303" stroke="#000" stroke-width="2.2"/>
<line x1="781" y1="302" x2="1054" y2="302" stroke="#000" stroke-width="2.2"/>
<line x1="778" y1="297" x2="782" y2="297" stroke="#000" stroke-width="1.2"/>
<text x="776" y="304" font-size="20" text-anchor="end">4</text>
<line x1="778" y1="211.5" x2="782" y2="211.5" stroke="#000" stroke-width="1.2"/>
<text x="776" y="218.5" font-size="20" text-anchor="end">8</text>
<line x1="778" y1="126" x2="782" y2="126" stroke="#000" stroke-width="1.2"/>
<text x="776" y="133" font-size="20" text-anchor="end">12</text>
<line x1="778" y1="40.5" x2="782" y2="40.5" stroke="#000" stroke-width="1.2"/>
<text x="776" y="47.5" font-size="20" text-anchor="end">16</text>
<line x1="786" y1="302" x2="786" y2="306" stroke="#000" stroke-width="1.2"/>
<text x="786" y="322.5" font-size="20" text-anchor="middle">0</text>
<line x1="830.67" y1="302" x2="830.67" y2="306" stroke="#000" stroke-width="1.2"/>
<text x="830.67" y="322.5" font-size="20" text-anchor="middle">2</text>
<line x1="875.33" y1="302" x2="875.33" y2="306" stroke="#000" stroke-width="1.2"/>
<text x="875.33" y="322.5" font-size="20" text-anchor="middle">4</text>
<line x1="920" y1="302" x2="920" y2="306" stroke="#000" stroke-width="1.2"/>
<text x="920" y="322.5" font-size="20" text-anchor="middle">6</text>
<line x1="964.67" y1="302" x2="964.67" y2="306" stroke="#000" stroke-width="1.2"/>
<text x="964.67" y="322.5" font-size="20" text-anchor="middle">8</text>
<line x1="1009.33" y1="302" x2="1009.33" y2="306" stroke="#000" stroke-width="1.2"/>
<text x="1009.33" y="322.5" font-size="20" text-anchor="middle">10</text>
<line x1="1054" y1="302" x2="1054" y2="306" stroke="#000" stroke-width="1.2"/>
<text x="1054" y="322.5" font-size="20" text-anchor="middle">12</text>
<text x="923" y="343.5" font-size="24" text-anchor="middle" font-style="italic">PCSK9</text>
<text x="742" y="170" font-size="24" text-anchor="middle" font-style="italic" transform="rotate(-90 742 170)" dy="8.6">DHCR24</text>
<text x="793" y="47" font-size="21"><tspan font-style="italic">R</tspan> = 0.5115</text>
<text x="793" y="72" font-size="21"><tspan font-style="italic">P</tspan> = 1.359 x10<tspan font-size="14" dy="-12">−13</tspan></text>
<g fill="#0d0d0d"><circle cx="1303.15" cy="198.09" r="3.3"/><circle cx="1325.01" cy="172.78" r="3.3"/><circle cx="1304" cy="213.37" r="3.3"/><circle cx="1301.46" cy="189.23" r="3.3"/><circle cx="1283.94" cy="180.85" r="3.3"/><circle cx="1304.36" cy="185.8" r="3.3"/><circle cx="1342.12" cy="128.96" r="3.3"/><circle cx="1322.52" cy="216.51" r="3.3"/><circle cx="1339.98" cy="177.04" r="3.3"/><circle cx="1317.53" cy="213.61" r="3.3"/><circle cx="1321.68" cy="213.78" r="3.3"/><circle cx="1315.72" cy="198.24" r="3.3"/><circle cx="1262.97" cy="214.49" r="3.3"/><circle cx="1334.8" cy="168.84" r="3.3"/><circle cx="1324.86" cy="171.5" r="3.3"/><circle cx="1324.65" cy="117.47" r="3.3"/><circle cx="1262.25" cy="194.76" r="3.3"/><circle cx="1260.75" cy="272.69" r="3.3"/><circle cx="1285.09" cy="202.87" r="3.3"/><circle cx="1297.1" cy="222.24" r="3.3"/><circle cx="1319.14" cy="206.78" r="3.3"/><circle cx="1309.13" cy="155.1" r="3.3"/><circle cx="1325.28" cy="194.22" r="3.3"/><circle cx="1292.14" cy="266.65" r="3.3"/><circle cx="1319.23" cy="180.79" r="3.3"/><circle cx="1321.67" cy="198.35" r="3.3"/><circle cx="1291.6" cy="242.57" r="3.3"/><circle cx="1359.37" cy="197.41" r="3.3"/><circle cx="1326.3" cy="206.28" r="3.3"/><circle cx="1344.54" cy="177.38" r="3.3"/><circle cx="1292.76" cy="218.46" r="3.3"/><circle cx="1289.37" cy="204.7" r="3.3"/><circle cx="1300.64" cy="143.13" r="3.3"/><circle cx="1307.41" cy="222.15" r="3.3"/><circle cx="1328.45" cy="210.82" r="3.3"/><circle cx="1317.52" cy="199.3" r="3.3"/><circle cx="1297.69" cy="167.99" r="3.3"/><circle cx="1283.18" cy="232.5" r="3.3"/><circle cx="1295.61" cy="158.51" r="3.3"/><circle cx="1345.22" cy="217.32" r="3.3"/><circle cx="1287.42" cy="240.4" r="3.3"/><circle cx="1317.41" cy="193.25" r="3.3"/><circle cx="1322.59" cy="215.79" r="3.3"/><circle cx="1268" cy="238.08" r="3.3"/><circle cx="1311.82" cy="180.45" r="3.3"/><circle cx="1347.65" cy="152.21" r="3.3"/><circle cx="1253.05" cy="223.3" r="3.3"/><circle cx="1301.28" cy="209.02" r="3.3"/><circle cx="1307.41" cy="154.85" r="3.3"/><circle cx="1287.15" cy="195.52" r="3.3"/><circle cx="1324.61" cy="194.97" r="3.3"/><circle cx="1308.66" cy="158.24" r="3.3"/><circle cx="1268.71" cy="246.57" r="3.3"/><circle cx="1334.02" cy="177.25" r="3.3"/><circle cx="1329.51" cy="164.2" r="3.3"/><circle cx="1337.38" cy="180.93" r="3.3"/><circle cx="1351.48" cy="190.86" r="3.3"/><circle cx="1320.76" cy="178.7" r="3.3"/><circle cx="1313.84" cy="210.47" r="3.3"/><circle cx="1273.42" cy="234.38" r="3.3"/><circle cx="1327.97" cy="217.84" r="3.3"/><circle cx="1293.01" cy="164" r="3.3"/><circle cx="1297.54" cy="219.69" r="3.3"/><circle cx="1274.4" cy="178.92" r="3.3"/><circle cx="1282.87" cy="198.57" r="3.3"/><circle cx="1295.31" cy="211.87" r="3.3"/><circle cx="1347.16" cy="154.26" r="3.3"/><circle cx="1252.55" cy="218.61" r="3.3"/><circle cx="1268.91" cy="214.05" r="3.3"/><circle cx="1317.26" cy="234.81" r="3.3"/><circle cx="1351.56" cy="170.57" r="3.3"/><circle cx="1326.92" cy="158.27" r="3.3"/><circle cx="1256.31" cy="209.79" r="3.3"/><circle cx="1320.62" cy="158.54" r="3.3"/><circle cx="1289.46" cy="160.12" r="3.3"/><circle cx="1278.54" cy="199.99" r="3.3"/><circle cx="1338.28" cy="118.11" r="3.3"/><circle cx="1341.83" cy="225.63" r="3.3"/><circle cx="1314.92" cy="200.46" r="3.3"/><circle cx="1317.44" cy="270.75" r="3.3"/><circle cx="1322.81" cy="162.83" r="3.3"/><circle cx="1355.85" cy="167.48" r="3.3"/><circle cx="1328.07" cy="132.7" r="3.3"/><circle cx="1325.21" cy="198.75" r="3.3"/><circle cx="1326.04" cy="250.39" r="3.3"/><circle cx="1265.76" cy="179.79" r="3.3"/><circle cx="1346.95" cy="217.41" r="3.3"/><circle cx="1337.65" cy="220.21" r="3.3"/><circle cx="1325.53" cy="192.6" r="3.3"/><circle cx="1254.2" cy="206.55" r="3.3"/><circle cx="1292.38" cy="221.24" r="3.3"/><circle cx="1334.43" cy="176.35" r="3.3"/><circle cx="1258.84" cy="282.72" r="3.3"/><circle cx="1305.19" cy="143.96" r="3.3"/><circle cx="1339.48" cy="181.53" r="3.3"/><circle cx="1273.08" cy="212.12" r="3.3"/><circle cx="1356.31" cy="151.81" r="3.3"/><circle cx="1326.16" cy="181.42" r="3.3"/><circle cx="1306.16" cy="191.45" r="3.3"/><circle cx="1319.69" cy="219.41" r="3.3"/><circle cx="1328.95" cy="188.76" r="3.3"/><circle cx="1313.87" cy="179.76" r="3.3"/><circle cx="1343.08" cy="144.71" r="3.3"/><circle cx="1291.59" cy="209.49" r="3.3"/><circle cx="1298.62" cy="198.99" r="3.3"/><circle cx="1340.11" cy="168.48" r="3.3"/><circle cx="1311.2" cy="177.02" r="3.3"/><circle cx="1285.35" cy="202.65" r="3.3"/><circle cx="1337.4" cy="188.49" r="3.3"/><circle cx="1352.19" cy="188.46" r="3.3"/><circle cx="1297.76" cy="167.07" r="3.3"/><circle cx="1271.12" cy="207.69" r="3.3"/><circle cx="1306.6" cy="196.83" r="3.3"/><circle cx="1306.19" cy="132.22" r="3.3"/><circle cx="1301.95" cy="172.33" r="3.3"/><circle cx="1350.46" cy="146.63" r="3.3"/><circle cx="1281.18" cy="206.64" r="3.3"/><circle cx="1346.35" cy="207.49" r="3.3"/><circle cx="1274.3" cy="179.55" r="3.3"/><circle cx="1288.02" cy="210.45" r="3.3"/><circle cx="1328.43" cy="183.84" r="3.3"/><circle cx="1342.59" cy="145.49" r="3.3"/><circle cx="1334.91" cy="149.99" r="3.3"/><circle cx="1320.27" cy="182.44" r="3.3"/><circle cx="1314.49" cy="192.56" r="3.3"/><circle cx="1314.78" cy="127.15" r="3.3"/><circle cx="1326.83" cy="168.4" r="3.3"/><circle cx="1305.42" cy="230.32" r="3.3"/><circle cx="1318.34" cy="167.46" r="3.3"/><circle cx="1326.75" cy="181.66" r="3.3"/><circle cx="1310.46" cy="194.33" r="3.3"/><circle cx="1332.2" cy="162.01" r="3.3"/><circle cx="1326.56" cy="179.16" r="3.3"/><circle cx="1367.72" cy="100.99" r="3.3"/><circle cx="1319.69" cy="183.88" r="3.3"/><circle cx="1298.26" cy="194.14" r="3.3"/><circle cx="1299.82" cy="164.76" r="3.3"/><circle cx="1310.06" cy="213.27" r="3.3"/><circle cx="1336.76" cy="149.1" r="3.3"/><circle cx="1300.85" cy="202.52" r="3.3"/><circle cx="1321.43" cy="152.19" r="3.3"/><circle cx="1362.78" cy="193.28" r="3.3"/><circle cx="1278.42" cy="199.78" r="3.3"/><circle cx="1317.39" cy="241.71" r="3.3"/><circle cx="1321.79" cy="202.99" r="3.3"/><circle cx="1317.23" cy="191.14" r="3.3"/><circle cx="1298.15" cy="186.59" r="3.3"/><circle cx="1329.1" cy="123.19" r="3.3"/><circle cx="1318.48" cy="133.3" r="3.3"/><circle cx="1295.56" cy="245.56" r="3.3"/><circle cx="1320.56" cy="213.57" r="3.3"/><circle cx="1294.65" cy="164.77" r="3.3"/><circle cx="1307.6" cy="183.15" r="3.3"/><circle cx="1304.01" cy="241.75" r="3.3"/><circle cx="1308.65" cy="181.12" r="3.3"/><circle cx="1296.57" cy="238.29" r="3.3"/><circle cx="1339.17" cy="206.51" r="3.3"/><circle cx="1277.15" cy="253.11" r="3.3"/><circle cx="1308.54" cy="204.56" r="3.3"/><circle cx="1337.6" cy="109.9" r="3.3"/><circle cx="1334.83" cy="170.1" r="3.3"/><circle cx="1352.92" cy="175.39" r="3.3"/><circle cx="1261.96" cy="143.13" r="3.3"/><circle cx="1300.37" cy="215.38" r="3.3"/><circle cx="1300.72" cy="205.35" r="3.3"/><circle cx="1328.19" cy="193.87" r="3.3"/><circle cx="1341.54" cy="165.09" r="3.3"/><circle cx="1341.45" cy="188.06" r="3.3"/><circle cx="1269.2" cy="172.37" r="3.3"/><circle cx="1329.9" cy="193.83" r="3.3"/><circle cx="1267.93" cy="201.08" r="3.3"/><circle cx="1315.45" cy="185.58" r="3.3"/><circle cx="1344.47" cy="203.58" r="3.3"/><circle cx="1306.18" cy="228.29" r="3.3"/><circle cx="1315.88" cy="193.96" r="3.3"/><circle cx="1333.15" cy="254.77" r="3.3"/><circle cx="1314.47" cy="192.66" r="3.3"/><circle cx="1307.92" cy="194.26" r="3.3"/><circle cx="1354.12" cy="166.88" r="3.3"/><circle cx="1340.31" cy="181.36" r="3.3"/><circle cx="1302.07" cy="188.85" r="3.3"/><circle cx="1277.76" cy="224.22" r="3.3"/><circle cx="1336.49" cy="160.91" r="3.3"/><circle cx="1302.87" cy="250.54" r="3.3"/><circle cx="1314.21" cy="164.73" r="3.3"/><circle cx="1166.85" cy="290.77" r="3.3"/><circle cx="1179.39" cy="252.09" r="3.3"/><circle cx="1186.22" cy="278.11" r="3.3"/><circle cx="1202.18" cy="268.13" r="3.3"/><circle cx="1204.46" cy="278.32" r="3.3"/><circle cx="1205.6" cy="210.88" r="3.3"/><circle cx="1220.41" cy="278.82" r="3.3"/><circle cx="1232.95" cy="275.67" r="3.3"/><circle cx="1240.92" cy="226.71" r="3.3"/><circle cx="1242.06" cy="224.75" r="3.3"/><circle cx="1367.42" cy="162.72" r="3.3"/><circle cx="1377.67" cy="188.59" r="3.3"/><circle cx="1384.51" cy="175.04" r="3.3"/><circle cx="1395.91" cy="120.09" r="3.3"/><circle cx="1220.41" cy="132.56" r="3.3"/><circle cx="1330.95" cy="34.5" r="3.3"/></g>
<polygon points="1166.85,258.95 1174.52,255.91 1182.2,252.8 1189.87,249.62 1197.54,246.38 1205.22,243.07 1212.89,239.7 1220.56,236.26 1228.24,232.75 1235.91,229.17 1243.58,225.53 1251.26,221.82 1258.93,218.05 1266.6,214.21 1274.27,210.3 1281.95,206.33 1289.62,202.29 1297.29,198.19 1304.97,194.01 1312.64,189.77 1320.31,185.42 1327.99,180.99 1335.66,176.47 1343.33,171.85 1351.01,167.13 1358.68,162.33 1366.35,157.43 1374.03,152.44 1381.7,147.36 1389.37,142.19 1397.05,136.92 1397.05,158.71 1389.37,161.87 1381.7,165.12 1374.03,168.47 1366.35,171.9 1358.68,175.43 1351.01,179.06 1343.33,182.77 1335.66,186.58 1327.99,190.48 1320.31,194.47 1312.64,198.55 1304.97,202.73 1297.29,206.99 1289.62,211.31 1281.95,215.69 1274.27,220.15 1266.6,224.67 1258.93,229.25 1251.26,233.91 1243.58,238.62 1235.91,243.41 1228.24,248.26 1220.56,253.18 1212.89,258.16 1205.22,263.21 1197.54,268.33 1189.87,273.51 1182.2,278.76 1174.52,284.08 1166.85,289.46" fill="#b0b0b0" fill-opacity="0.5"/>
<line x1="1166.85" y1="274.21" x2="1397.05" y2="147.82" stroke="#111" stroke-width="3.2"/>
<line x1="1135.5" y1="34" x2="1135.5" y2="302" stroke="#000" stroke-width="2.2"/>
<line x1="1134.5" y1="301" x2="1413" y2="301" stroke="#000" stroke-width="2.2"/>
<line x1="1131.5" y1="296" x2="1135.5" y2="296" stroke="#000" stroke-width="1.2"/>
<text x="1129.5" y="303" font-size="20" text-anchor="end">8</text>
<line x1="1131.5" y1="252.42" x2="1135.5" y2="252.42" stroke="#000" stroke-width="1.2"/>
<text x="1129.5" y="259.42" font-size="20" text-anchor="end">9</text>
<line x1="1131.5" y1="208.83" x2="1135.5" y2="208.83" stroke="#000" stroke-width="1.2"/>
<text x="1129.5" y="215.83" font-size="20" text-anchor="end">10</text>
<line x1="1131.5" y1="165.25" x2="1135.5" y2="165.25" stroke="#000" stroke-width="1.2"/>
<text x="1129.5" y="172.25" font-size="20" text-anchor="end">11</text>
<line x1="1131.5" y1="121.67" x2="1135.5" y2="121.67" stroke="#000" stroke-width="1.2"/>
<text x="1129.5" y="128.67" font-size="20" text-anchor="end">12</text>
<line x1="1131.5" y1="78.08" x2="1135.5" y2="78.08" stroke="#000" stroke-width="1.2"/>
<text x="1129.5" y="85.08" font-size="20" text-anchor="end">13</text>
<line x1="1131.5" y1="34.5" x2="1135.5" y2="34.5" stroke="#000" stroke-width="1.2"/>
<text x="1129.5" y="41.5" font-size="20" text-anchor="end">14</text>
<line x1="1139.5" y1="301" x2="1139.5" y2="305" stroke="#000" stroke-width="1.2"/>
<text x="1139.5" y="321.5" font-size="20" text-anchor="middle">0</text>
<line x1="1185.08" y1="301" x2="1185.08" y2="305" stroke="#000" stroke-width="1.2"/>
<text x="1185.08" y="321.5" font-size="20" text-anchor="middle">2</text>
<line x1="1230.67" y1="301" x2="1230.67" y2="305" stroke="#000" stroke-width="1.2"/>
<text x="1230.67" y="321.5" font-size="20" text-anchor="middle">4</text>
<line x1="1276.25" y1="301" x2="1276.25" y2="305" stroke="#000" stroke-width="1.2"/>
<text x="1276.25" y="321.5" font-size="20" text-anchor="middle">6</text>
<line x1="1321.83" y1="301" x2="1321.83" y2="305" stroke="#000" stroke-width="1.2"/>
<text x="1321.83" y="321.5" font-size="20" text-anchor="middle">8</text>
<line x1="1367.42" y1="301" x2="1367.42" y2="305" stroke="#000" stroke-width="1.2"/>
<text x="1367.42" y="321.5" font-size="20" text-anchor="middle">10</text>
<line x1="1413" y1="301" x2="1413" y2="305" stroke="#000" stroke-width="1.2"/>
<text x="1413" y="321.5" font-size="20" text-anchor="middle">12</text>
<text x="1282.5" y="343.5" font-size="24" text-anchor="middle" font-style="italic">PCSK9</text>
<text x="1090" y="166" font-size="24" text-anchor="middle" font-style="italic" transform="rotate(-90 1090 166)" dy="8.6">SQLE</text>
<text x="1148" y="39.5" font-size="21"><tspan font-style="italic">R</tspan> = 0.5568</text>
<text x="1148" y="64.5" font-size="21"><tspan font-style="italic">P</tspan> = 2.74 x10<tspan font-size="14" dy="-12">−16</tspan></text>
<g fill="#0d0d0d"><circle cx="1658.95" cy="167.9" r="3.3"/><circle cx="1680.85" cy="156.88" r="3.3"/><circle cx="1659.8" cy="106.64" r="3.3"/><circle cx="1657.26" cy="205.4" r="3.3"/><circle cx="1639.71" cy="142.59" r="3.3"/><circle cx="1660.16" cy="202.83" r="3.3"/><circle cx="1697.99" cy="74.97" r="3.3"/><circle cx="1678.36" cy="113.52" r="3.3"/><circle cx="1695.84" cy="67.54" r="3.3"/><circle cx="1673.35" cy="139.1" r="3.3"/><circle cx="1677.52" cy="107.47" r="3.3"/><circle cx="1671.54" cy="132.74" r="3.3"/><circle cx="1618.7" cy="171.79" r="3.3"/><circle cx="1690.66" cy="109.79" r="3.3"/><circle cx="1680.7" cy="160.54" r="3.3"/><circle cx="1680.49" cy="130.91" r="3.3"/><circle cx="1617.98" cy="124.86" r="3.3"/><circle cx="1616.48" cy="146.59" r="3.3"/><circle cx="1640.86" cy="150.86" r="3.3"/><circle cx="1652.89" cy="59.73" r="3.3"/><circle cx="1674.97" cy="119.84" r="3.3"/><circle cx="1664.94" cy="145.66" r="3.3"/><circle cx="1681.12" cy="113.69" r="3.3"/><circle cx="1647.92" cy="151.33" r="3.3"/><circle cx="1675.06" cy="134.39" r="3.3"/><circle cx="1677.5" cy="132.13" r="3.3"/><circle cx="1647.38" cy="67.65" r="3.3"/><circle cx="1715.27" cy="102.59" r="3.3"/><circle cx="1682.14" cy="112.69" r="3.3"/><circle cx="1700.41" cy="87.92" r="3.3"/><circle cx="1648.54" cy="67.4" r="3.3"/><circle cx="1645.14" cy="142.75" r="3.3"/><circle cx="1656.43" cy="150.77" r="3.3"/><circle cx="1663.21" cy="45.62" r="3.3"/><circle cx="1684.29" cy="165.57" r="3.3"/><circle cx="1673.34" cy="134.59" r="3.3"/><circle cx="1653.48" cy="109.61" r="3.3"/><circle cx="1638.94" cy="63" r="3.3"/><circle cx="1651.39" cy="163.81" r="3.3"/><circle cx="1701.1" cy="189.77" r="3.3"/><circle cx="1643.19" cy="114.48" r="3.3"/><circle cx="1673.24" cy="139.73" r="3.3"/><circle cx="1678.42" cy="132.94" r="3.3"/><circle cx="1623.73" cy="129.98" r="3.3"/><circle cx="1667.63" cy="117.74" r="3.3"/><circle cx="1703.53" cy="99.11" r="3.3"/><circle cx="1608.76" cy="166.21" r="3.3"/><circle cx="1657.07" cy="87.47" r="3.3"/><circle cx="1663.22" cy="77.55" r="3.3"/><circle cx="1642.92" cy="135.34" r="3.3"/><circle cx="1680.45" cy="134.13" r="3.3"/><circle cx="1664.47" cy="102.39" r="3.3"/><circle cx="1624.45" cy="129.11" r="3.3"/><circle cx="1689.88" cy="149.21" r="3.3"/><circle cx="1685.35" cy="132.16" r="3.3"/><circle cx="1693.25" cy="78.84" r="3.3"/><circle cx="1707.37" cy="110.12" r="3.3"/><circle cx="1676.59" cy="131.84" r="3.3"/><circle cx="1669.65" cy="117.18" r="3.3"/><circle cx="1629.17" cy="143.79" r="3.3"/><circle cx="1683.82" cy="117.79" r="3.3"/><circle cx="1648.79" cy="197.31" r="3.3"/><circle cx="1653.33" cy="74.02" r="3.3"/><circle cx="1630.15" cy="135.67" r="3.3"/><circle cx="1638.63" cy="167.23" r="3.3"/><circle cx="1651.09" cy="100.4" r="3.3"/><circle cx="1703.04" cy="98.75" r="3.3"/><circle cx="1608.26" cy="151.66" r="3.3"/><circle cx="1624.64" cy="110.23" r="3.3"/><circle cx="1673.08" cy="48.14" r="3.3"/><circle cx="1707.45" cy="88.67" r="3.3"/><circle cx="1682.76" cy="65.98" r="3.3"/><circle cx="1612.02" cy="79.46" r="3.3"/><circle cx="1676.45" cy="154.7" r="3.3"/><circle cx="1645.24" cy="152.57" r="3.3"/><circle cx="1634.29" cy="114.77" r="3.3"/><circle cx="1694.15" cy="169.24" r="3.3"/><circle cx="1697.7" cy="120.17" r="3.3"/><circle cx="1670.74" cy="81.1" r="3.3"/><circle cx="1673.26" cy="88.17" r="3.3"/><circle cx="1678.65" cy="100.98" r="3.3"/><circle cx="1711.75" cy="167.37" r="3.3"/><circle cx="1683.92" cy="40.23" r="3.3"/><circle cx="1681.05" cy="100.83" r="3.3"/><circle cx="1681.88" cy="93.33" r="3.3"/><circle cx="1621.49" cy="129.9" r="3.3"/><circle cx="1702.83" cy="165.54" r="3.3"/><circle cx="1693.51" cy="160.54" r="3.3"/><circle cx="1681.37" cy="158.9" r="3.3"/><circle cx="1609.91" cy="88.31" r="3.3"/><circle cx="1648.16" cy="161.37" r="3.3"/><circle cx="1690.29" cy="122.73" r="3.3"/><circle cx="1614.55" cy="157.75" r="3.3"/><circle cx="1661" cy="109.33" r="3.3"/><circle cx="1695.35" cy="95.95" r="3.3"/><circle cx="1628.83" cy="134.02" r="3.3"/><circle cx="1712.21" cy="146.29" r="3.3"/><circle cx="1682" cy="180.57" r="3.3"/><circle cx="1661.96" cy="122.21" r="3.3"/><circle cx="1675.52" cy="112.67" r="3.3"/><circle cx="1684.8" cy="76.73" r="3.3"/><circle cx="1669.69" cy="127.56" r="3.3"/><circle cx="1698.95" cy="130.92" r="3.3"/><circle cx="1647.37" cy="120.85" r="3.3"/><circle cx="1654.41" cy="182.34" r="3.3"/><circle cx="1695.98" cy="146.45" r="3.3"/><circle cx="1667.01" cy="158.53" r="3.3"/><circle cx="1641.12" cy="127.74" r="3.3"/><circle cx="1693.26" cy="44.51" r="3.3"/><circle cx="1708.08" cy="81.48" r="3.3"/><circle cx="1653.55" cy="93.93" r="3.3"/><circle cx="1626.86" cy="135.89" r="3.3"/><circle cx="1662.4" cy="118.3" r="3.3"/><circle cx="1662" cy="142.48" r="3.3"/><circle cx="1657.74" cy="138.89" r="3.3"/><circle cx="1706.34" cy="187.45" r="3.3"/><circle cx="1636.94" cy="178.74" r="3.3"/><circle cx="1702.23" cy="151.68" r="3.3"/><circle cx="1630.05" cy="114.71" r="3.3"/><circle cx="1643.79" cy="114.16" r="3.3"/><circle cx="1684.27" cy="79.89" r="3.3"/><circle cx="1698.46" cy="59.76" r="3.3"/><circle cx="1690.77" cy="124.59" r="3.3"/><circle cx="1676.1" cy="86.47" r="3.3"/><circle cx="1670.31" cy="59.47" r="3.3"/><circle cx="1670.6" cy="124.03" r="3.3"/><circle cx="1682.67" cy="82.43" r="3.3"/><circle cx="1661.22" cy="133.47" r="3.3"/><circle cx="1674.17" cy="175.23" r="3.3"/><circle cx="1682.6" cy="114.31" r="3.3"/><circle cx="1666.27" cy="152.81" r="3.3"/><circle cx="1688.06" cy="112.18" r="3.3"/><circle cx="1682.4" cy="133.61" r="3.3"/><circle cx="1723.64" cy="88.97" r="3.3"/><circle cx="1675.52" cy="191.89" r="3.3"/><circle cx="1654.05" cy="62.67" r="3.3"/><circle cx="1655.62" cy="85.81" r="3.3"/><circle cx="1665.88" cy="137.46" r="3.3"/><circle cx="1692.62" cy="143.63" r="3.3"/><circle cx="1656.64" cy="130" r="3.3"/><circle cx="1677.26" cy="98.45" r="3.3"/><circle cx="1718.69" cy="87.82" r="3.3"/><circle cx="1634.17" cy="127.17" r="3.3"/><circle cx="1673.21" cy="187.43" r="3.3"/><circle cx="1677.62" cy="157.78" r="3.3"/><circle cx="1673.06" cy="78.37" r="3.3"/><circle cx="1653.94" cy="123.46" r="3.3"/><circle cx="1684.95" cy="167.3" r="3.3"/><circle cx="1674.3" cy="150.66" r="3.3"/><circle cx="1651.35" cy="180.24" r="3.3"/><circle cx="1676.39" cy="154.73" r="3.3"/><circle cx="1650.43" cy="94.06" r="3.3"/><circle cx="1663.41" cy="134.35" r="3.3"/><circle cx="1659.81" cy="91.41" r="3.3"/><circle cx="1664.46" cy="120.31" r="3.3"/><circle cx="1652.35" cy="182.17" r="3.3"/><circle cx="1695.04" cy="134.2" r="3.3"/><circle cx="1632.9" cy="64.51" r="3.3"/><circle cx="1664.35" cy="152.2" r="3.3"/><circle cx="1693.46" cy="148.38" r="3.3"/><circle cx="1690.69" cy="73.23" r="3.3"/><circle cx="1708.81" cy="103.27" r="3.3"/><circle cx="1617.69" cy="148.14" r="3.3"/><circle cx="1656.16" cy="81.19" r="3.3"/><circle cx="1656.52" cy="189.22" r="3.3"/><circle cx="1684.04" cy="103.61" r="3.3"/><circle cx="1697.41" cy="146.86" r="3.3"/><circle cx="1697.32" cy="158.6" r="3.3"/><circle cx="1624.93" cy="171.94" r="3.3"/><circle cx="1685.75" cy="78.16" r="3.3"/><circle cx="1623.66" cy="149.92" r="3.3"/><circle cx="1671.27" cy="185.08" r="3.3"/><circle cx="1700.35" cy="147.42" r="3.3"/><circle cx="1661.99" cy="76.43" r="3.3"/><circle cx="1671.7" cy="88.84" r="3.3"/><circle cx="1689" cy="152.02" r="3.3"/><circle cx="1670.29" cy="42.34" r="3.3"/><circle cx="1663.72" cy="139.22" r="3.3"/><circle cx="1710.01" cy="145.91" r="3.3"/><circle cx="1696.18" cy="116.66" r="3.3"/><circle cx="1657.86" cy="98.05" r="3.3"/><circle cx="1633.52" cy="86.5" r="3.3"/><circle cx="1692.35" cy="79.16" r="3.3"/><circle cx="1658.67" cy="143.58" r="3.3"/><circle cx="1670.03" cy="142.91" r="3.3"/><circle cx="1522.4" cy="240.5" r="3.3"/><circle cx="1534.96" cy="188.23" r="3.3"/><circle cx="1541.81" cy="202.68" r="3.3"/><circle cx="1557.79" cy="167.07" r="3.3"/><circle cx="1560.08" cy="216.91" r="3.3"/><circle cx="1561.22" cy="191.16" r="3.3"/><circle cx="1576.06" cy="196.65" r="3.3"/><circle cx="1588.62" cy="201.75" r="3.3"/><circle cx="1596.61" cy="197.46" r="3.3"/><circle cx="1597.75" cy="191.35" r="3.3"/><circle cx="1723.33" cy="139.5" r="3.3"/><circle cx="1733.61" cy="75.79" r="3.3"/><circle cx="1740.46" cy="88.46" r="3.3"/><circle cx="1751.88" cy="131.1" r="3.3"/><circle cx="1560.08" cy="59.73" r="3.3"/><circle cx="1689.08" cy="26.79" r="3.3"/></g>
<polygon points="1522.4,173.04 1530.09,171.01 1537.77,168.9 1545.46,166.7 1553.15,164.42 1560.84,162.05 1568.52,159.6 1576.21,157.07 1583.9,154.45 1591.59,151.75 1599.27,148.96 1606.96,146.09 1614.65,143.13 1622.33,140.09 1630.02,136.97 1637.71,133.76 1645.4,130.47 1653.08,127.09 1660.77,123.63 1668.46,120.08 1676.14,116.45 1683.83,112.74 1691.52,108.94 1699.21,105.06 1706.89,101.1 1714.58,97.05 1722.27,92.91 1729.95,88.7 1737.64,84.4 1745.33,80.01 1753.02,75.54 1753.02,96.62 1745.33,99.18 1737.64,101.82 1729.95,104.55 1722.27,107.35 1714.58,110.25 1706.89,113.23 1699.21,116.29 1691.52,119.43 1683.83,122.66 1676.14,125.97 1668.46,129.37 1660.77,132.85 1653.08,136.42 1645.4,140.07 1637.71,143.8 1630.02,147.62 1622.33,151.52 1614.65,155.51 1606.96,159.58 1599.27,163.74 1591.59,167.98 1583.9,172.3 1576.21,176.71 1568.52,181.2 1560.84,185.78 1553.15,190.44 1545.46,195.18 1537.77,200.01 1530.09,204.93 1522.4,209.93" fill="#b0b0b0" fill-opacity="0.5"/>
<line x1="1522.4" y1="191.48" x2="1753.02" y2="86.08" stroke="#111" stroke-width="3.2"/>
<line x1="1491" y1="23" x2="1491" y2="293" stroke="#000" stroke-width="2.2"/>
<line x1="1490" y1="292" x2="1769" y2="292" stroke="#000" stroke-width="2.2"/>
<line x1="1487" y1="287" x2="1491" y2="287" stroke="#000" stroke-width="1.2"/>
<text x="1485" y="294" font-size="20" text-anchor="end">9</text>
<line x1="1487" y1="221.12" x2="1491" y2="221.12" stroke="#000" stroke-width="1.2"/>
<text x="1485" y="228.12" font-size="20" text-anchor="end">10</text>
<line x1="1487" y1="155.25" x2="1491" y2="155.25" stroke="#000" stroke-width="1.2"/>
<text x="1485" y="162.25" font-size="20" text-anchor="end">11</text>
<line x1="1487" y1="89.38" x2="1491" y2="89.38" stroke="#000" stroke-width="1.2"/>
<text x="1485" y="96.38" font-size="20" text-anchor="end">12</text>
<line x1="1487" y1="23.5" x2="1491" y2="23.5" stroke="#000" stroke-width="1.2"/>
<text x="1485" y="30.5" font-size="20" text-anchor="end">13</text>
<line x1="1495" y1="292" x2="1495" y2="296" stroke="#000" stroke-width="1.2"/>
<text x="1495" y="312.5" font-size="20" text-anchor="middle">0</text>
<line x1="1540.67" y1="292" x2="1540.67" y2="296" stroke="#000" stroke-width="1.2"/>
<text x="1540.67" y="312.5" font-size="20" text-anchor="middle">2</text>
<line x1="1586.33" y1="292" x2="1586.33" y2="296" stroke="#000" stroke-width="1.2"/>
<text x="1586.33" y="312.5" font-size="20" text-anchor="middle">4</text>
<line x1="1632" y1="292" x2="1632" y2="296" stroke="#000" stroke-width="1.2"/>
<text x="1632" y="312.5" font-size="20" text-anchor="middle">6</text>
<line x1="1677.67" y1="292" x2="1677.67" y2="296" stroke="#000" stroke-width="1.2"/>
<text x="1677.67" y="312.5" font-size="20" text-anchor="middle">8</text>
<line x1="1723.33" y1="292" x2="1723.33" y2="296" stroke="#000" stroke-width="1.2"/>
<text x="1723.33" y="312.5" font-size="20" text-anchor="middle">10</text>
<line x1="1769" y1="292" x2="1769" y2="296" stroke="#000" stroke-width="1.2"/>
<text x="1769" y="312.5" font-size="20" text-anchor="middle">12</text>
<text x="1630.5" y="338" font-size="24" text-anchor="middle" font-style="italic">PCSK9</text>
<text x="1450.5" y="163" font-size="24" text-anchor="middle" font-style="italic" transform="rotate(-90 1450.5 163)" dy="8.6">FDFT1</text>
<text x="1501.5" y="26.5" font-size="21"><tspan font-style="italic">R</tspan> = 0.4761</text>
<text x="1501.5" y="51.5" font-size="21"><tspan font-style="italic">P</tspan> = 1.862 x10<tspan font-size="14" dy="-12">−11</tspan></text>
<g fill="#0d0d0d"><circle cx="251.14" cy="528.36" r="3.3"/><circle cx="273.2" cy="591.01" r="3.3"/><circle cx="252" cy="567.87" r="3.3"/><circle cx="249.44" cy="542.38" r="3.3"/><circle cx="231.76" cy="505.71" r="3.3"/><circle cx="252.37" cy="543.35" r="3.3"/><circle cx="290.47" cy="579.98" r="3.3"/><circle cx="270.69" cy="526.28" r="3.3"/><circle cx="288.31" cy="566.44" r="3.3"/><circle cx="265.66" cy="499.78" r="3.3"/><circle cx="269.85" cy="544.42" r="3.3"/><circle cx="263.83" cy="483.18" r="3.3"/><circle cx="210.6" cy="564.43" r="3.3"/><circle cx="283.09" cy="563.14" r="3.3"/><circle cx="273.06" cy="581.09" r="3.3"/><circle cx="272.84" cy="546.5" r="3.3"/><circle cx="209.87" cy="546.72" r="3.3"/><circle cx="208.36" cy="524.07" r="3.3"/><circle cx="232.92" cy="543" r="3.3"/><circle cx="245.04" cy="569.54" r="3.3"/><circle cx="267.28" cy="521.81" r="3.3"/><circle cx="257.18" cy="586.45" r="3.3"/><circle cx="273.48" cy="519.18" r="3.3"/><circle cx="240.04" cy="571.91" r="3.3"/><circle cx="267.38" cy="490.65" r="3.3"/><circle cx="269.83" cy="505.44" r="3.3"/><circle cx="239.49" cy="537.23" r="3.3"/><circle cx="307.88" cy="553.02" r="3.3"/><circle cx="274.5" cy="517.33" r="3.3"/><circle cx="292.91" cy="515.6" r="3.3"/><circle cx="240.67" cy="565.37" r="3.3"/><circle cx="237.24" cy="569.04" r="3.3"/><circle cx="248.61" cy="505.27" r="3.3"/><circle cx="255.44" cy="554.78" r="3.3"/><circle cx="276.67" cy="519.81" r="3.3"/><circle cx="265.64" cy="494.65" r="3.3"/><circle cx="245.64" cy="592.63" r="3.3"/><circle cx="230.99" cy="496.26" r="3.3"/><circle cx="243.53" cy="515.38" r="3.3"/><circle cx="293.6" cy="547.08" r="3.3"/><circle cx="235.27" cy="580.13" r="3.3"/><circle cx="265.54" cy="576.31" r="3.3"/><circle cx="270.76" cy="506.82" r="3.3"/><circle cx="215.67" cy="638.71" r="3.3"/><circle cx="259.89" cy="511.31" r="3.3"/><circle cx="296.05" cy="520.59" r="3.3"/><circle cx="200.59" cy="585.76" r="3.3"/><circle cx="249.25" cy="560.63" r="3.3"/><circle cx="255.45" cy="553.72" r="3.3"/><circle cx="235" cy="557.69" r="3.3"/><circle cx="272.8" cy="507.41" r="3.3"/><circle cx="256.71" cy="567.84" r="3.3"/><circle cx="216.39" cy="523.79" r="3.3"/><circle cx="282.3" cy="500.53" r="3.3"/><circle cx="277.74" cy="541.12" r="3.3"/><circle cx="285.69" cy="510.93" r="3.3"/><circle cx="299.92" cy="541.24" r="3.3"/><circle cx="268.91" cy="535.07" r="3.3"/><circle cx="261.93" cy="524.01" r="3.3"/><circle cx="221.15" cy="495.44" r="3.3"/><circle cx="276.19" cy="535.45" r="3.3"/><circle cx="240.91" cy="552.81" r="3.3"/><circle cx="245.48" cy="545.25" r="3.3"/><circle cx="222.14" cy="561.4" r="3.3"/><circle cx="230.68" cy="585.95" r="3.3"/><circle cx="243.23" cy="488.42" r="3.3"/><circle cx="295.55" cy="545.5" r="3.3"/><circle cx="200.09" cy="582.92" r="3.3"/><circle cx="216.59" cy="580.2" r="3.3"/><circle cx="265.38" cy="516.62" r="3.3"/><circle cx="300" cy="468.59" r="3.3"/><circle cx="275.13" cy="477.33" r="3.3"/><circle cx="203.88" cy="532.14" r="3.3"/><circle cx="268.78" cy="525.99" r="3.3"/><circle cx="237.33" cy="550.28" r="3.3"/><circle cx="226.31" cy="585.48" r="3.3"/><circle cx="286.6" cy="506.38" r="3.3"/><circle cx="290.18" cy="531.02" r="3.3"/><circle cx="263.02" cy="473.76" r="3.3"/><circle cx="265.57" cy="546.73" r="3.3"/><circle cx="270.99" cy="567.5" r="3.3"/><circle cx="304.33" cy="580.05" r="3.3"/><circle cx="276.3" cy="589.58" r="3.3"/><circle cx="273.41" cy="515.78" r="3.3"/><circle cx="274.25" cy="523.88" r="3.3"/><circle cx="213.41" cy="595.34" r="3.3"/><circle cx="295.35" cy="574.21" r="3.3"/><circle cx="285.96" cy="521.04" r="3.3"/><circle cx="273.73" cy="546.01" r="3.3"/><circle cx="201.75" cy="556.75" r="3.3"/><circle cx="240.28" cy="548.9" r="3.3"/><circle cx="282.72" cy="555.8" r="3.3"/><circle cx="206.43" cy="616.6" r="3.3"/><circle cx="253.21" cy="538.91" r="3.3"/><circle cx="287.81" cy="526.09" r="3.3"/><circle cx="220.8" cy="550.42" r="3.3"/><circle cx="304.79" cy="492.55" r="3.3"/><circle cx="274.37" cy="505.39" r="3.3"/><circle cx="254.18" cy="558.21" r="3.3"/><circle cx="267.84" cy="518.8" r="3.3"/><circle cx="277.18" cy="601.8" r="3.3"/><circle cx="261.96" cy="518.13" r="3.3"/><circle cx="291.44" cy="528.67" r="3.3"/><circle cx="239.48" cy="516.56" r="3.3"/><circle cx="246.58" cy="514.59" r="3.3"/><circle cx="288.45" cy="558.51" r="3.3"/><circle cx="259.27" cy="544.69" r="3.3"/><circle cx="233.19" cy="515.98" r="3.3"/><circle cx="285.71" cy="547.18" r="3.3"/><circle cx="300.63" cy="521.67" r="3.3"/><circle cx="245.71" cy="565.34" r="3.3"/><circle cx="218.83" cy="538.44" r="3.3"/><circle cx="254.63" cy="533.26" r="3.3"/><circle cx="254.22" cy="568.75" r="3.3"/><circle cx="249.93" cy="589.32" r="3.3"/><circle cx="298.89" cy="594.65" r="3.3"/><circle cx="228.98" cy="526.04" r="3.3"/><circle cx="294.74" cy="540.49" r="3.3"/><circle cx="222.04" cy="577.63" r="3.3"/><circle cx="235.87" cy="566.7" r="3.3"/><circle cx="276.66" cy="562.71" r="3.3"/><circle cx="290.95" cy="506.33" r="3.3"/><circle cx="283.2" cy="511.25" r="3.3"/><circle cx="268.43" cy="607.71" r="3.3"/><circle cx="262.59" cy="540.24" r="3.3"/><circle cx="262.88" cy="535.87" r="3.3"/><circle cx="275.04" cy="544.51" r="3.3"/><circle cx="253.43" cy="539.7" r="3.3"/><circle cx="266.48" cy="484.87" r="3.3"/><circle cx="274.97" cy="524.23" r="3.3"/><circle cx="258.52" cy="503.08" r="3.3"/><circle cx="280.46" cy="499.9" r="3.3"/><circle cx="274.77" cy="582.21" r="3.3"/><circle cx="316.31" cy="461.4" r="3.3"/><circle cx="267.84" cy="530.45" r="3.3"/><circle cx="246.21" cy="554.89" r="3.3"/><circle cx="247.79" cy="518.58" r="3.3"/><circle cx="258.12" cy="470.17" r="3.3"/><circle cx="285.06" cy="555.06" r="3.3"/><circle cx="248.82" cy="566.32" r="3.3"/><circle cx="269.59" cy="524.99" r="3.3"/><circle cx="311.32" cy="575.8" r="3.3"/><circle cx="226.19" cy="589.17" r="3.3"/><circle cx="265.51" cy="536.34" r="3.3"/><circle cx="269.95" cy="512.43" r="3.3"/><circle cx="265.36" cy="520.8" r="3.3"/><circle cx="246.1" cy="519.15" r="3.3"/><circle cx="277.34" cy="498.79" r="3.3"/><circle cx="266.61" cy="551.42" r="3.3"/><circle cx="243.49" cy="557.9" r="3.3"/><circle cx="268.71" cy="546.7" r="3.3"/><circle cx="242.57" cy="557.63" r="3.3"/><circle cx="255.64" cy="506.66" r="3.3"/><circle cx="252.01" cy="515.94" r="3.3"/><circle cx="256.7" cy="606.93" r="3.3"/><circle cx="244.5" cy="531.1" r="3.3"/><circle cx="287.5" cy="562.75" r="3.3"/><circle cx="224.9" cy="589.83" r="3.3"/><circle cx="256.58" cy="500.52" r="3.3"/><circle cx="285.91" cy="487.62" r="3.3"/><circle cx="283.12" cy="493.54" r="3.3"/><circle cx="301.37" cy="501.97" r="3.3"/><circle cx="209.58" cy="502.82" r="3.3"/><circle cx="248.34" cy="581.17" r="3.3"/><circle cx="248.7" cy="518.1" r="3.3"/><circle cx="276.42" cy="555.08" r="3.3"/><circle cx="289.89" cy="547.47" r="3.3"/><circle cx="289.8" cy="580.3" r="3.3"/><circle cx="216.88" cy="509" r="3.3"/><circle cx="278.14" cy="476.24" r="3.3"/><circle cx="215.6" cy="530.01" r="3.3"/><circle cx="263.56" cy="557.25" r="3.3"/><circle cx="292.85" cy="521.08" r="3.3"/><circle cx="254.21" cy="576.23" r="3.3"/><circle cx="263.99" cy="546.94" r="3.3"/><circle cx="281.42" cy="483.08" r="3.3"/><circle cx="262.56" cy="487.7" r="3.3"/><circle cx="255.96" cy="520.19" r="3.3"/><circle cx="302.58" cy="497.79" r="3.3"/><circle cx="288.64" cy="532.36" r="3.3"/><circle cx="250.05" cy="532.28" r="3.3"/><circle cx="225.53" cy="559.16" r="3.3"/><circle cx="284.8" cy="514.49" r="3.3"/><circle cx="250.86" cy="563.8" r="3.3"/><circle cx="262.31" cy="507.04" r="3.3"/><circle cx="113.6" cy="606.49" r="3.3"/><circle cx="126.25" cy="587.37" r="3.3"/><circle cx="133.15" cy="595.35" r="3.3"/><circle cx="149.25" cy="535.69" r="3.3"/><circle cx="151.55" cy="554.69" r="3.3"/><circle cx="152.7" cy="608.66" r="3.3"/><circle cx="167.65" cy="607.29" r="3.3"/><circle cx="180.3" cy="553.7" r="3.3"/><circle cx="188.35" cy="565.39" r="3.3"/><circle cx="189.5" cy="575.88" r="3.3"/><circle cx="316" cy="510.37" r="3.3"/><circle cx="326.35" cy="460.45" r="3.3"/><circle cx="333.25" cy="513.16" r="3.3"/><circle cx="344.75" cy="460.03" r="3.3"/><circle cx="345.9" cy="520.79" r="3.3"/><circle cx="113.6" cy="649" r="3.3"/></g>
<polygon points="113.6,582.31 121.34,580.58 129.09,578.78 136.83,576.89 144.57,574.92 152.32,572.88 160.06,570.75 167.8,568.55 175.55,566.27 183.29,563.9 191.03,561.46 198.78,558.94 206.52,556.34 214.26,553.66 222.01,550.9 229.75,548.06 237.49,545.14 245.24,542.15 252.98,539.07 260.72,535.92 268.47,532.7 276.21,529.42 283.95,526.06 291.7,522.65 299.44,519.16 307.18,515.61 314.93,512 322.67,508.31 330.41,504.57 338.16,500.75 345.9,496.87 345.9,514.58 338.16,516.95 330.41,519.39 322.67,521.89 314.93,524.46 307.18,527.1 299.44,529.8 291.7,532.57 283.95,535.4 276.21,538.3 268.47,541.27 260.72,544.3 252.98,547.41 245.24,550.58 237.49,553.84 229.75,557.17 222.01,560.58 214.26,564.07 206.52,567.65 198.78,571.3 191.03,575.03 183.29,578.84 175.55,582.73 167.8,586.7 160.06,590.74 152.32,594.87 144.57,599.08 136.83,603.36 129.09,607.73 121.34,612.17 113.6,616.7" fill="#b0b0b0" fill-opacity="0.5"/>
<line x1="113.6" y1="599.5" x2="345.9" y2="505.73" stroke="#111" stroke-width="3.2"/>
<line x1="82" y1="388" x2="82" y2="655" stroke="#000" stroke-width="2.2"/>
<line x1="81" y1="654" x2="362" y2="654" stroke="#000" stroke-width="2.2"/>
<line x1="78" y1="649" x2="82" y2="649" stroke="#000" stroke-width="1.2"/>
<text x="76" y="656" font-size="20" text-anchor="end">9</text>
<line x1="78" y1="596.9" x2="82" y2="596.9" stroke="#000" stroke-width="1.2"/>
<text x="76" y="603.9" font-size="20" text-anchor="end">10</text>
<line x1="78" y1="544.8" x2="82" y2="544.8" stroke="#000" stroke-width="1.2"/>
<text x="76" y="551.8" font-size="20" text-anchor="end">11</text>
<line x1="78" y1="492.7" x2="82" y2="492.7" stroke="#000" stroke-width="1.2"/>
<text x="76" y="499.7" font-size="20" text-anchor="end">12</text>
<line x1="78" y1="440.6" x2="82" y2="440.6" stroke="#000" stroke-width="1.2"/>
<text x="76" y="447.6" font-size="20" text-anchor="end">13</text>
<line x1="78" y1="388.5" x2="82" y2="388.5" stroke="#000" stroke-width="1.2"/>
<text x="76" y="395.5" font-size="20" text-anchor="end">14</text>
<line x1="86" y1="654" x2="86" y2="658" stroke="#000" stroke-width="1.2"/>
<text x="86" y="674.5" font-size="20" text-anchor="middle">0</text>
<line x1="132" y1="654" x2="132" y2="658" stroke="#000" stroke-width="1.2"/>
<text x="132" y="674.5" font-size="20" text-anchor="middle">2</text>
<line x1="178" y1="654" x2="178" y2="658" stroke="#000" stroke-width="1.2"/>
<text x="178" y="674.5" font-size="20" text-anchor="middle">4</text>
<line x1="224" y1="654" x2="224" y2="658" stroke="#000" stroke-width="1.2"/>
<text x="224" y="674.5" font-size="20" text-anchor="middle">6</text>
<line x1="270" y1="654" x2="270" y2="658" stroke="#000" stroke-width="1.2"/>
<text x="270" y="674.5" font-size="20" text-anchor="middle">8</text>
<line x1="316" y1="654" x2="316" y2="658" stroke="#000" stroke-width="1.2"/>
<text x="316" y="674.5" font-size="20" text-anchor="middle">10</text>
<line x1="362" y1="654" x2="362" y2="658" stroke="#000" stroke-width="1.2"/>
<text x="362" y="674.5" font-size="20" text-anchor="middle">12</text>
<text x="230" y="700" font-size="24" text-anchor="middle" font-style="italic">PCSK9</text>
<text x="35" y="522.5" font-size="24" text-anchor="middle" font-style="italic" transform="rotate(-90 35 522.5)" dy="8.6">CYP51A1</text>
<text x="96" y="398" font-size="21"><tspan font-style="italic">R</tspan> = 0.4867</text>
<text x="96" y="423" font-size="21"><tspan font-style="italic">P</tspan> = 2.829 x10<tspan font-size="14" dy="-12">−12</tspan></text>
<g fill="#0d0d0d"><circle cx="598.95" cy="532.47" r="3.3"/><circle cx="620.85" cy="470.07" r="3.3"/><circle cx="599.8" cy="513.17" r="3.3"/><circle cx="597.26" cy="513.29" r="3.3"/><circle cx="579.71" cy="529.82" r="3.3"/><circle cx="600.16" cy="531.88" r="3.3"/><circle cx="637.99" cy="514.81" r="3.3"/><circle cx="618.36" cy="537.77" r="3.3"/><circle cx="635.84" cy="551.88" r="3.3"/><circle cx="613.35" cy="561.68" r="3.3"/><circle cx="617.52" cy="567.46" r="3.3"/><circle cx="611.54" cy="530.34" r="3.3"/><circle cx="558.7" cy="534.34" r="3.3"/><circle cx="630.66" cy="488.11" r="3.3"/><circle cx="620.7" cy="520.76" r="3.3"/><circle cx="620.49" cy="526.85" r="3.3"/><circle cx="557.98" cy="531.54" r="3.3"/><circle cx="556.48" cy="549.96" r="3.3"/><circle cx="580.86" cy="594.39" r="3.3"/><circle cx="592.89" cy="512.55" r="3.3"/><circle cx="614.97" cy="547.91" r="3.3"/><circle cx="604.94" cy="531.95" r="3.3"/><circle cx="621.12" cy="541.29" r="3.3"/><circle cx="587.92" cy="496" r="3.3"/><circle cx="615.06" cy="504.51" r="3.3"/><circle cx="617.5" cy="523.66" r="3.3"/><circle cx="587.38" cy="573.01" r="3.3"/><circle cx="655.27" cy="501.66" r="3.3"/><circle cx="622.14" cy="558.15" r="3.3"/><circle cx="640.41" cy="497.9" r="3.3"/><circle cx="588.54" cy="583.16" r="3.3"/><circle cx="585.14" cy="545.08" r="3.3"/><circle cx="596.43" cy="514.53" r="3.3"/><circle cx="603.21" cy="561.59" r="3.3"/><circle cx="624.29" cy="530.19" r="3.3"/><circle cx="613.34" cy="531.36" r="3.3"/><circle cx="593.48" cy="514.77" r="3.3"/><circle cx="578.94" cy="557.35" r="3.3"/><circle cx="591.39" cy="522.08" r="3.3"/><circle cx="641.1" cy="472.21" r="3.3"/><circle cx="583.19" cy="583.72" r="3.3"/><circle cx="613.24" cy="559.25" r="3.3"/><circle cx="618.42" cy="521.75" r="3.3"/><circle cx="563.73" cy="565.58" r="3.3"/><circle cx="607.63" cy="573.96" r="3.3"/><circle cx="643.53" cy="489.08" r="3.3"/><circle cx="548.76" cy="524.69" r="3.3"/><circle cx="597.07" cy="509.07" r="3.3"/><circle cx="603.22" cy="508.2" r="3.3"/><circle cx="582.92" cy="522.89" r="3.3"/><circle cx="620.45" cy="556.34" r="3.3"/><circle cx="604.47" cy="602.85" r="3.3"/><circle cx="564.45" cy="533.3" r="3.3"/><circle cx="629.88" cy="560.95" r="3.3"/><circle cx="625.35" cy="531.11" r="3.3"/><circle cx="633.25" cy="519.8" r="3.3"/><circle cx="647.37" cy="561.75" r="3.3"/><circle cx="616.59" cy="543.76" r="3.3"/><circle cx="609.65" cy="488.26" r="3.3"/><circle cx="569.17" cy="524.71" r="3.3"/><circle cx="623.82" cy="577.43" r="3.3"/><circle cx="588.79" cy="546.7" r="3.3"/><circle cx="593.33" cy="539.98" r="3.3"/><circle cx="570.15" cy="529.85" r="3.3"/><circle cx="578.63" cy="523.05" r="3.3"/><circle cx="591.09" cy="542.42" r="3.3"/><circle cx="643.04" cy="534.65" r="3.3"/><circle cx="548.26" cy="526.95" r="3.3"/><circle cx="564.64" cy="586.49" r="3.3"/><circle cx="613.08" cy="503.91" r="3.3"/><circle cx="647.45" cy="517.91" r="3.3"/><circle cx="622.76" cy="546.96" r="3.3"/><circle cx="552.02" cy="566.32" r="3.3"/><circle cx="616.45" cy="528.45" r="3.3"/><circle cx="585.24" cy="582.89" r="3.3"/><circle cx="574.29" cy="609.64" r="3.3"/><circle cx="634.15" cy="520.41" r="3.3"/><circle cx="637.7" cy="489.95" r="3.3"/><circle cx="610.74" cy="540.84" r="3.3"/><circle cx="613.26" cy="534.79" r="3.3"/><circle cx="618.65" cy="535.43" r="3.3"/><circle cx="651.75" cy="553.72" r="3.3"/><circle cx="623.92" cy="522.72" r="3.3"/><circle cx="621.05" cy="512.21" r="3.3"/><circle cx="621.88" cy="533.7" r="3.3"/><circle cx="561.49" cy="524.37" r="3.3"/><circle cx="642.83" cy="557.72" r="3.3"/><circle cx="633.51" cy="524.87" r="3.3"/><circle cx="621.37" cy="555.49" r="3.3"/><circle cx="549.91" cy="565.68" r="3.3"/><circle cx="588.16" cy="535.71" r="3.3"/><circle cx="630.29" cy="528.51" r="3.3"/><circle cx="554.55" cy="527.87" r="3.3"/><circle cx="601" cy="521.94" r="3.3"/><circle cx="635.35" cy="564.23" r="3.3"/><circle cx="568.83" cy="512.62" r="3.3"/><circle cx="652.21" cy="571.01" r="3.3"/><circle cx="622" cy="538.07" r="3.3"/><circle cx="601.96" cy="532.15" r="3.3"/><circle cx="615.52" cy="539.54" r="3.3"/><circle cx="624.8" cy="521.65" r="3.3"/><circle cx="609.69" cy="538.21" r="3.3"/><circle cx="638.95" cy="558.81" r="3.3"/><circle cx="587.37" cy="522.51" r="3.3"/><circle cx="594.41" cy="544.4" r="3.3"/><circle cx="635.98" cy="558.02" r="3.3"/><circle cx="607.01" cy="538.42" r="3.3"/><circle cx="581.12" cy="547.08" r="3.3"/><circle cx="633.26" cy="524.76" r="3.3"/><circle cx="648.08" cy="546.1" r="3.3"/><circle cx="593.55" cy="538.78" r="3.3"/><circle cx="566.86" cy="554.92" r="3.3"/><circle cx="602.4" cy="497.93" r="3.3"/><circle cx="602" cy="551.3" r="3.3"/><circle cx="597.74" cy="507.85" r="3.3"/><circle cx="646.34" cy="533.01" r="3.3"/><circle cx="576.94" cy="516.96" r="3.3"/><circle cx="642.23" cy="469" r="3.3"/><circle cx="570.05" cy="559.6" r="3.3"/><circle cx="583.79" cy="542.03" r="3.3"/><circle cx="624.27" cy="560.7" r="3.3"/><circle cx="638.46" cy="551.9" r="3.3"/><circle cx="630.77" cy="549.79" r="3.3"/><circle cx="616.1" cy="535.64" r="3.3"/><circle cx="610.31" cy="514.49" r="3.3"/><circle cx="610.6" cy="515.34" r="3.3"/><circle cx="622.67" cy="549.78" r="3.3"/><circle cx="601.22" cy="537.77" r="3.3"/><circle cx="614.17" cy="578.17" r="3.3"/><circle cx="622.6" cy="520.86" r="3.3"/><circle cx="606.27" cy="547" r="3.3"/><circle cx="628.06" cy="564.49" r="3.3"/><circle cx="622.4" cy="556.35" r="3.3"/><circle cx="663.64" cy="511.27" r="3.3"/><circle cx="615.52" cy="535.66" r="3.3"/><circle cx="594.05" cy="526.18" r="3.3"/><circle cx="595.62" cy="555.09" r="3.3"/><circle cx="605.88" cy="536.48" r="3.3"/><circle cx="632.62" cy="540.69" r="3.3"/><circle cx="596.64" cy="583.91" r="3.3"/><circle cx="617.26" cy="542.26" r="3.3"/><circle cx="658.69" cy="531.6" r="3.3"/><circle cx="574.17" cy="566.81" r="3.3"/><circle cx="613.21" cy="517.69" r="3.3"/><circle cx="617.62" cy="480.1" r="3.3"/><circle cx="613.06" cy="500.58" r="3.3"/><circle cx="593.94" cy="542.44" r="3.3"/><circle cx="624.95" cy="567.32" r="3.3"/><circle cx="614.3" cy="543.56" r="3.3"/><circle cx="591.35" cy="561.18" r="3.3"/><circle cx="616.39" cy="533.98" r="3.3"/><circle cx="590.43" cy="512.35" r="3.3"/><circle cx="603.41" cy="542.72" r="3.3"/><circle cx="599.81" cy="580.29" r="3.3"/><circle cx="604.46" cy="504.59" r="3.3"/><circle cx="592.35" cy="542.4" r="3.3"/><circle cx="635.04" cy="496.99" r="3.3"/><circle cx="572.9" cy="572.25" r="3.3"/><circle cx="604.35" cy="473.82" r="3.3"/><circle cx="633.46" cy="566.92" r="3.3"/><circle cx="630.69" cy="531.04" r="3.3"/><circle cx="648.81" cy="508.46" r="3.3"/><circle cx="557.69" cy="593.91" r="3.3"/><circle cx="596.16" cy="564.28" r="3.3"/><circle cx="596.52" cy="585.84" r="3.3"/><circle cx="624.04" cy="490.17" r="3.3"/><circle cx="637.41" cy="514.26" r="3.3"/><circle cx="637.32" cy="558.83" r="3.3"/><circle cx="564.93" cy="597.43" r="3.3"/><circle cx="625.75" cy="582.85" r="3.3"/><circle cx="563.66" cy="546.24" r="3.3"/><circle cx="611.27" cy="561.04" r="3.3"/><circle cx="640.35" cy="522.49" r="3.3"/><circle cx="601.99" cy="556" r="3.3"/><circle cx="611.7" cy="584.95" r="3.3"/><circle cx="629" cy="486.44" r="3.3"/><circle cx="610.29" cy="526.51" r="3.3"/><circle cx="603.72" cy="559.94" r="3.3"/><circle cx="650.01" cy="539.22" r="3.3"/><circle cx="636.18" cy="498.1" r="3.3"/><circle cx="597.86" cy="520.52" r="3.3"/><circle cx="573.52" cy="582.02" r="3.3"/><circle cx="632.35" cy="495.01" r="3.3"/><circle cx="598.67" cy="559.1" r="3.3"/><circle cx="610.03" cy="524.14" r="3.3"/><circle cx="462.4" cy="607.76" r="3.3"/><circle cx="474.96" cy="590.31" r="3.3"/><circle cx="481.81" cy="549.28" r="3.3"/><circle cx="497.79" cy="599.09" r="3.3"/><circle cx="500.07" cy="564.11" r="3.3"/><circle cx="501.22" cy="554.87" r="3.3"/><circle cx="516.06" cy="580.11" r="3.3"/><circle cx="528.62" cy="520.22" r="3.3"/><circle cx="536.61" cy="539.39" r="3.3"/><circle cx="537.75" cy="560.69" r="3.3"/><circle cx="663.33" cy="499.48" r="3.3"/><circle cx="673.61" cy="487.48" r="3.3"/><circle cx="680.46" cy="489.34" r="3.3"/><circle cx="691.88" cy="523.25" r="3.3"/><circle cx="500.07" cy="466.79" r="3.3"/><circle cx="615.38" cy="427.11" r="3.3"/></g>
<polygon points="462.4,560.42 470.09,559.76 477.77,559.03 485.46,558.24 493.15,557.38 500.84,556.45 508.52,555.45 516.21,554.38 523.9,553.25 531.59,552.05 539.27,550.78 546.96,549.45 554.65,548.04 562.33,546.57 570.02,545.03 577.71,543.43 585.4,541.75 593.08,540.01 600.77,538.2 608.46,536.33 616.14,534.42 623.83,532.46 631.52,530.46 639.21,528.41 646.89,526.31 654.58,524.17 662.27,521.99 669.96,519.76 677.64,517.49 685.33,515.17 693.02,512.81 693.02,526.56 685.33,527.9 677.64,529.29 669.96,530.72 662.27,532.19 654.58,533.71 646.89,535.27 639.21,536.88 631.52,538.54 623.83,540.24 616.14,541.98 608.46,543.77 600.77,545.61 593.08,547.5 585.4,549.46 577.71,551.49 570.02,553.59 562.33,555.75 554.65,557.98 546.96,560.28 539.27,562.65 531.59,565.08 523.9,567.59 516.21,570.16 508.52,572.79 500.84,575.5 493.15,578.27 485.46,581.11 477.77,584.02 470.09,587 462.4,590.04" fill="#b0b0b0" fill-opacity="0.5"/>
<line x1="462.4" y1="575.23" x2="693.02" y2="519.69" stroke="#111" stroke-width="3.2"/>
<line x1="431" y1="379" x2="431" y2="650" stroke="#000" stroke-width="2.2"/>
<line x1="430" y1="649" x2="709" y2="649" stroke="#000" stroke-width="2.2"/>
<line x1="427" y1="644" x2="431" y2="644" stroke="#000" stroke-width="1.2"/>
<text x="425" y="651" font-size="20" text-anchor="end">6</text>
<line x1="427" y1="591.1" x2="431" y2="591.1" stroke="#000" stroke-width="1.2"/>
<text x="425" y="598.1" font-size="20" text-anchor="end">7</text>
<line x1="427" y1="538.2" x2="431" y2="538.2" stroke="#000" stroke-width="1.2"/>
<text x="425" y="545.2" font-size="20" text-anchor="end">8</text>
<line x1="427" y1="485.3" x2="431" y2="485.3" stroke="#000" stroke-width="1.2"/>
<text x="425" y="492.3" font-size="20" text-anchor="end">9</text>
<line x1="427" y1="432.4" x2="431" y2="432.4" stroke="#000" stroke-width="1.2"/>
<text x="425" y="439.4" font-size="20" text-anchor="end">10</text>
<line x1="427" y1="379.5" x2="431" y2="379.5" stroke="#000" stroke-width="1.2"/>
<text x="425" y="386.5" font-size="20" text-anchor="end">11</text>
<line x1="435" y1="649" x2="435" y2="653" stroke="#000" stroke-width="1.2"/>
<text x="435" y="669.5" font-size="20" text-anchor="middle">0</text>
<line x1="480.67" y1="649" x2="480.67" y2="653" stroke="#000" stroke-width="1.2"/>
<text x="480.67" y="669.5" font-size="20" text-anchor="middle">2</text>
<line x1="526.33" y1="649" x2="526.33" y2="653" stroke="#000" stroke-width="1.2"/>
<text x="526.33" y="669.5" font-size="20" text-anchor="middle">4</text>
<line x1="572" y1="649" x2="572" y2="653" stroke="#000" stroke-width="1.2"/>
<text x="572" y="669.5" font-size="20" text-anchor="middle">6</text>
<line x1="617.67" y1="649" x2="617.67" y2="653" stroke="#000" stroke-width="1.2"/>
<text x="617.67" y="669.5" font-size="20" text-anchor="middle">8</text>
<line x1="663.33" y1="649" x2="663.33" y2="653" stroke="#000" stroke-width="1.2"/>
<text x="663.33" y="669.5" font-size="20" text-anchor="middle">10</text>
<line x1="709" y1="649" x2="709" y2="653" stroke="#000" stroke-width="1.2"/>
<text x="709" y="669.5" font-size="20" text-anchor="middle">12</text>
<text x="586" y="692" font-size="24" text-anchor="middle" font-style="italic">PCSK9</text>
<text x="393.4" y="522.4" font-size="24" text-anchor="middle" font-style="italic" transform="rotate(-90 393.4 522.4)" dy="8.6">HSD17B7</text>
<text x="443.5" y="384" font-size="21"><tspan font-style="italic">R</tspan> = 0.3162</text>
<text x="443.5" y="409" font-size="21"><tspan font-style="italic">P</tspan> = 1.295x 10<tspan font-size="14" dy="-12">−05</tspan></text>
<g fill="#0d0d0d"><circle cx="954.35" cy="548.01" r="3.3"/><circle cx="976.17" cy="493.23" r="3.3"/><circle cx="955.2" cy="462.24" r="3.3"/><circle cx="952.67" cy="454.22" r="3.3"/><circle cx="935.18" cy="476" r="3.3"/><circle cx="955.56" cy="509.66" r="3.3"/><circle cx="993.25" cy="481.07" r="3.3"/><circle cx="973.69" cy="512.27" r="3.3"/><circle cx="991.11" cy="544.53" r="3.3"/><circle cx="968.7" cy="522.97" r="3.3"/><circle cx="972.85" cy="467.24" r="3.3"/><circle cx="966.9" cy="496.65" r="3.3"/><circle cx="914.25" cy="543.11" r="3.3"/><circle cx="985.95" cy="537.24" r="3.3"/><circle cx="976.03" cy="505.29" r="3.3"/><circle cx="975.81" cy="523.98" r="3.3"/><circle cx="913.53" cy="529.98" r="3.3"/><circle cx="912.03" cy="513.6" r="3.3"/><circle cx="936.33" cy="607.22" r="3.3"/><circle cx="948.31" cy="518.33" r="3.3"/><circle cx="970.31" cy="560.07" r="3.3"/><circle cx="960.32" cy="544.71" r="3.3"/><circle cx="976.44" cy="548.71" r="3.3"/><circle cx="943.36" cy="475.03" r="3.3"/><circle cx="970.4" cy="479.02" r="3.3"/><circle cx="972.83" cy="484.42" r="3.3"/><circle cx="942.82" cy="545.68" r="3.3"/><circle cx="1010.47" cy="540.14" r="3.3"/><circle cx="977.45" cy="515.56" r="3.3"/><circle cx="995.66" cy="484.79" r="3.3"/><circle cx="943.98" cy="519.72" r="3.3"/><circle cx="940.6" cy="492.49" r="3.3"/><circle cx="951.84" cy="526.79" r="3.3"/><circle cx="958.6" cy="441.8" r="3.3"/><circle cx="979.6" cy="475.25" r="3.3"/><circle cx="968.69" cy="429.57" r="3.3"/><circle cx="948.9" cy="505.32" r="3.3"/><circle cx="934.41" cy="530.31" r="3.3"/><circle cx="946.82" cy="547.8" r="3.3"/><circle cx="996.34" cy="461.53" r="3.3"/><circle cx="938.65" cy="479.75" r="3.3"/><circle cx="968.59" cy="499.42" r="3.3"/><circle cx="973.75" cy="487.38" r="3.3"/><circle cx="919.26" cy="538.99" r="3.3"/><circle cx="963" cy="523.91" r="3.3"/><circle cx="998.77" cy="502.15" r="3.3"/><circle cx="904.34" cy="607.16" r="3.3"/><circle cx="952.48" cy="551.47" r="3.3"/><circle cx="958.61" cy="508.62" r="3.3"/><circle cx="938.38" cy="514.91" r="3.3"/><circle cx="975.77" cy="460.73" r="3.3"/><circle cx="959.85" cy="485.61" r="3.3"/><circle cx="919.97" cy="512.33" r="3.3"/><circle cx="985.17" cy="495.72" r="3.3"/><circle cx="980.66" cy="585.67" r="3.3"/><circle cx="988.52" cy="494.13" r="3.3"/><circle cx="1002.59" cy="522.99" r="3.3"/><circle cx="971.93" cy="485.22" r="3.3"/><circle cx="965.02" cy="517.91" r="3.3"/><circle cx="924.68" cy="539.05" r="3.3"/><circle cx="979.13" cy="520.96" r="3.3"/><circle cx="944.23" cy="528.15" r="3.3"/><circle cx="948.75" cy="589.36" r="3.3"/><circle cx="925.66" cy="586.51" r="3.3"/><circle cx="934.11" cy="475.8" r="3.3"/><circle cx="946.52" cy="499.53" r="3.3"/><circle cx="998.28" cy="508.33" r="3.3"/><circle cx="903.85" cy="549.42" r="3.3"/><circle cx="920.17" cy="542.48" r="3.3"/><circle cx="968.43" cy="431.43" r="3.3"/><circle cx="1002.67" cy="469.77" r="3.3"/><circle cx="978.08" cy="501.09" r="3.3"/><circle cx="907.6" cy="560.09" r="3.3"/><circle cx="971.79" cy="593.98" r="3.3"/><circle cx="940.69" cy="514.17" r="3.3"/><circle cx="929.78" cy="471.35" r="3.3"/><circle cx="989.42" cy="460.32" r="3.3"/><circle cx="992.96" cy="484.06" r="3.3"/><circle cx="966.1" cy="529.93" r="3.3"/><circle cx="968.61" cy="550.66" r="3.3"/><circle cx="973.98" cy="500.27" r="3.3"/><circle cx="1006.95" cy="503.26" r="3.3"/><circle cx="979.23" cy="544.06" r="3.3"/><circle cx="976.37" cy="439.11" r="3.3"/><circle cx="977.2" cy="537.4" r="3.3"/><circle cx="917.03" cy="550.83" r="3.3"/><circle cx="998.07" cy="582.64" r="3.3"/><circle cx="988.79" cy="431.35" r="3.3"/><circle cx="976.69" cy="508.06" r="3.3"/><circle cx="905.49" cy="538.49" r="3.3"/><circle cx="943.6" cy="506.73" r="3.3"/><circle cx="985.58" cy="529.77" r="3.3"/><circle cx="910.12" cy="557.19" r="3.3"/><circle cx="956.39" cy="500.36" r="3.3"/><circle cx="990.62" cy="526.69" r="3.3"/><circle cx="924.34" cy="514.59" r="3.3"/><circle cx="1007.41" cy="441.29" r="3.3"/><circle cx="977.32" cy="472.68" r="3.3"/><circle cx="957.36" cy="457.28" r="3.3"/><circle cx="970.86" cy="463.89" r="3.3"/><circle cx="980.1" cy="434.16" r="3.3"/><circle cx="965.05" cy="496.43" r="3.3"/><circle cx="994.2" cy="477.35" r="3.3"/><circle cx="942.81" cy="559.43" r="3.3"/><circle cx="949.83" cy="521.47" r="3.3"/><circle cx="991.25" cy="522.54" r="3.3"/><circle cx="962.39" cy="511.38" r="3.3"/><circle cx="936.59" cy="560.54" r="3.3"/><circle cx="988.54" cy="484.12" r="3.3"/><circle cx="1003.3" cy="391.06" r="3.3"/><circle cx="948.98" cy="544.59" r="3.3"/><circle cx="922.38" cy="505.66" r="3.3"/><circle cx="957.79" cy="487.06" r="3.3"/><circle cx="957.39" cy="538.91" r="3.3"/><circle cx="953.15" cy="524.22" r="3.3"/><circle cx="1001.57" cy="510.05" r="3.3"/><circle cx="932.42" cy="506.08" r="3.3"/><circle cx="997.47" cy="516.3" r="3.3"/><circle cx="925.56" cy="426.94" r="3.3"/><circle cx="939.24" cy="486.78" r="3.3"/><circle cx="979.58" cy="456.99" r="3.3"/><circle cx="993.72" cy="411.65" r="3.3"/><circle cx="986.05" cy="445.07" r="3.3"/><circle cx="971.44" cy="508.51" r="3.3"/><circle cx="965.67" cy="493.2" r="3.3"/><circle cx="965.96" cy="505.56" r="3.3"/><circle cx="977.98" cy="491.13" r="3.3"/><circle cx="956.61" cy="474.35" r="3.3"/><circle cx="969.51" cy="580.97" r="3.3"/><circle cx="977.91" cy="565.11" r="3.3"/><circle cx="961.65" cy="521.45" r="3.3"/><circle cx="983.35" cy="481.68" r="3.3"/><circle cx="977.72" cy="520.22" r="3.3"/><circle cx="1018.8" cy="489.45" r="3.3"/><circle cx="970.87" cy="462.59" r="3.3"/><circle cx="949.47" cy="489.17" r="3.3"/><circle cx="951.03" cy="518.32" r="3.3"/><circle cx="961.25" cy="522.07" r="3.3"/><circle cx="987.9" cy="553.04" r="3.3"/><circle cx="952.05" cy="495.23" r="3.3"/><circle cx="972.6" cy="500.09" r="3.3"/><circle cx="1013.87" cy="521.3" r="3.3"/><circle cx="929.66" cy="506.09" r="3.3"/><circle cx="968.56" cy="520.48" r="3.3"/><circle cx="972.95" cy="517.4" r="3.3"/><circle cx="968.41" cy="569.54" r="3.3"/><circle cx="949.36" cy="481.84" r="3.3"/><circle cx="980.26" cy="530.3" r="3.3"/><circle cx="969.65" cy="495.05" r="3.3"/><circle cx="946.78" cy="508.61" r="3.3"/><circle cx="971.72" cy="527.03" r="3.3"/><circle cx="945.86" cy="520.32" r="3.3"/><circle cx="958.8" cy="520.96" r="3.3"/><circle cx="955.21" cy="523.32" r="3.3"/><circle cx="959.84" cy="504.36" r="3.3"/><circle cx="947.78" cy="541.79" r="3.3"/><circle cx="990.31" cy="471.37" r="3.3"/><circle cx="928.39" cy="522.4" r="3.3"/><circle cx="959.73" cy="556.63" r="3.3"/><circle cx="988.74" cy="482.65" r="3.3"/><circle cx="985.97" cy="515.09" r="3.3"/><circle cx="1004.03" cy="473.35" r="3.3"/><circle cx="913.24" cy="623.36" r="3.3"/><circle cx="951.58" cy="502.98" r="3.3"/><circle cx="951.93" cy="601.94" r="3.3"/><circle cx="979.35" cy="520.32" r="3.3"/><circle cx="992.67" cy="422.73" r="3.3"/><circle cx="992.58" cy="472.28" r="3.3"/><circle cx="920.46" cy="491.37" r="3.3"/><circle cx="981.05" cy="530.2" r="3.3"/><circle cx="919.19" cy="575.6" r="3.3"/><circle cx="966.63" cy="513.23" r="3.3"/><circle cx="995.6" cy="480.69" r="3.3"/><circle cx="957.38" cy="518.2" r="3.3"/><circle cx="967.06" cy="535.84" r="3.3"/><circle cx="984.29" cy="535.23" r="3.3"/><circle cx="965.65" cy="525.8" r="3.3"/><circle cx="959.11" cy="451.47" r="3.3"/><circle cx="1005.23" cy="491.26" r="3.3"/><circle cx="991.44" cy="512.05" r="3.3"/><circle cx="953.27" cy="525.67" r="3.3"/><circle cx="929.01" cy="563.96" r="3.3"/><circle cx="987.63" cy="550.59" r="3.3"/><circle cx="954.07" cy="508.85" r="3.3"/><circle cx="965.39" cy="457.76" r="3.3"/><circle cx="818.3" cy="559.46" r="3.3"/><circle cx="830.81" cy="625.34" r="3.3"/><circle cx="837.64" cy="511.13" r="3.3"/><circle cx="853.56" cy="551.31" r="3.3"/><circle cx="855.84" cy="488.05" r="3.3"/><circle cx="856.98" cy="564.97" r="3.3"/><circle cx="871.76" cy="604.2" r="3.3"/><circle cx="884.27" cy="537.85" r="3.3"/><circle cx="892.24" cy="548.72" r="3.3"/><circle cx="893.38" cy="584.1" r="3.3"/><circle cx="1018.5" cy="511.85" r="3.3"/><circle cx="1028.74" cy="493.92" r="3.3"/><circle cx="1035.56" cy="508.76" r="3.3"/><circle cx="1046.94" cy="445.81" r="3.3"/><circle cx="1048.08" cy="457.34" r="3.3"/><circle cx="854.7" cy="382.09" r="3.3"/></g>
<polygon points="818.3,555.34 825.96,553.48 833.62,551.53 841.28,549.47 848.94,547.32 856.6,545.06 864.25,542.7 871.91,540.24 879.57,537.69 887.23,535.03 894.89,532.27 902.55,529.41 910.21,526.45 917.87,523.39 925.53,520.23 933.19,516.97 940.85,513.61 948.51,510.15 956.16,506.59 963.82,502.92 971.48,499.13 979.14,495.22 986.8,491.18 994.46,487.03 1002.12,482.75 1009.78,478.36 1017.44,473.84 1025.1,469.2 1032.76,464.44 1040.42,459.55 1048.08,454.55 1048.08,480.9 1040.42,483.14 1032.76,485.51 1025.1,487.99 1017.44,490.6 1009.78,493.32 1002.12,496.17 994.46,499.14 986.8,502.24 979.14,505.45 971.48,508.78 963.82,512.24 956.16,515.81 948.51,519.5 940.85,523.29 933.19,527.17 925.53,531.16 917.87,535.24 910.21,539.43 902.55,543.72 894.89,548.11 887.23,552.59 879.57,557.18 871.91,561.87 864.25,566.66 856.6,571.55 848.94,576.54 841.28,581.63 833.62,586.82 825.96,592.11 818.3,597.5" fill="#b0b0b0" fill-opacity="0.5"/>
<line x1="818.3" y1="576.42" x2="1048.08" y2="467.73" stroke="#111" stroke-width="3.2"/>
<line x1="787" y1="375" x2="787" y2="645" stroke="#000" stroke-width="2.2"/>
<line x1="786" y1="644" x2="1064" y2="644" stroke="#000" stroke-width="2.2"/>
<line x1="783" y1="639" x2="787" y2="639" stroke="#000" stroke-width="1.2"/>
<text x="781" y="646" font-size="20" text-anchor="end">8</text>
<line x1="783" y1="573.12" x2="787" y2="573.12" stroke="#000" stroke-width="1.2"/>
<text x="781" y="580.12" font-size="20" text-anchor="end">9</text>
<line x1="783" y1="507.25" x2="787" y2="507.25" stroke="#000" stroke-width="1.2"/>
<text x="781" y="514.25" font-size="20" text-anchor="end">10</text>
<line x1="783" y1="441.38" x2="787" y2="441.38" stroke="#000" stroke-width="1.2"/>
<text x="781" y="448.38" font-size="20" text-anchor="end">11</text>
<line x1="783" y1="375.5" x2="787" y2="375.5" stroke="#000" stroke-width="1.2"/>
<text x="781" y="382.5" font-size="20" text-anchor="end">12</text>
<line x1="791" y1="644" x2="791" y2="648" stroke="#000" stroke-width="1.2"/>
<text x="791" y="664.5" font-size="20" text-anchor="middle">0</text>
<line x1="836.5" y1="644" x2="836.5" y2="648" stroke="#000" stroke-width="1.2"/>
<text x="836.5" y="664.5" font-size="20" text-anchor="middle">2</text>
<line x1="882" y1="644" x2="882" y2="648" stroke="#000" stroke-width="1.2"/>
<text x="882" y="664.5" font-size="20" text-anchor="middle">4</text>
<line x1="927.5" y1="644" x2="927.5" y2="648" stroke="#000" stroke-width="1.2"/>
<text x="927.5" y="664.5" font-size="20" text-anchor="middle">6</text>
<line x1="973" y1="644" x2="973" y2="648" stroke="#000" stroke-width="1.2"/>
<text x="973" y="664.5" font-size="20" text-anchor="middle">8</text>
<line x1="1018.5" y1="644" x2="1018.5" y2="648" stroke="#000" stroke-width="1.2"/>
<text x="1018.5" y="664.5" font-size="20" text-anchor="middle">10</text>
<line x1="1064" y1="644" x2="1064" y2="648" stroke="#000" stroke-width="1.2"/>
<text x="1064" y="664.5" font-size="20" text-anchor="middle">12</text>
<text x="933" y="687" font-size="24" text-anchor="middle" font-style="italic">PCSK9</text>
<text x="744.4" y="506.5" font-size="24" text-anchor="middle" font-style="italic" transform="rotate(-90 744.4 506.5)" dy="8.6">EBP</text>
<text x="796" y="379" font-size="21"><tspan font-style="italic">R</tspan> = 0.4200</text>
<text x="796" y="404" font-size="21"><tspan font-style="italic">P</tspan> = 3.249 x10<tspan font-size="14" dy="-12">−09</tspan></text>
<g fill="#0d0d0d"><circle cx="1306.14" cy="525.89" r="3.3"/><circle cx="1328.2" cy="506.68" r="3.3"/><circle cx="1307" cy="515.28" r="3.3"/><circle cx="1304.44" cy="507.61" r="3.3"/><circle cx="1286.76" cy="480.69" r="3.3"/><circle cx="1307.37" cy="548.09" r="3.3"/><circle cx="1345.47" cy="499.44" r="3.3"/><circle cx="1325.69" cy="507.99" r="3.3"/><circle cx="1343.31" cy="515.99" r="3.3"/><circle cx="1320.66" cy="498.16" r="3.3"/><circle cx="1324.85" cy="493.88" r="3.3"/><circle cx="1318.83" cy="422.45" r="3.3"/><circle cx="1265.6" cy="497.51" r="3.3"/><circle cx="1338.09" cy="491.28" r="3.3"/><circle cx="1328.06" cy="467.68" r="3.3"/><circle cx="1327.84" cy="524.05" r="3.3"/><circle cx="1264.87" cy="524.22" r="3.3"/><circle cx="1263.36" cy="490.59" r="3.3"/><circle cx="1287.92" cy="516.44" r="3.3"/><circle cx="1300.04" cy="528.08" r="3.3"/><circle cx="1322.28" cy="511.41" r="3.3"/><circle cx="1312.18" cy="536.41" r="3.3"/><circle cx="1328.48" cy="459.39" r="3.3"/><circle cx="1295.04" cy="462.89" r="3.3"/><circle cx="1322.38" cy="448.08" r="3.3"/><circle cx="1324.83" cy="502.45" r="3.3"/><circle cx="1294.49" cy="506.99" r="3.3"/><circle cx="1362.88" cy="491.64" r="3.3"/><circle cx="1329.5" cy="477.13" r="3.3"/><circle cx="1347.91" cy="488.61" r="3.3"/><circle cx="1295.67" cy="476.75" r="3.3"/><circle cx="1292.24" cy="509.82" r="3.3"/><circle cx="1303.61" cy="540.29" r="3.3"/><circle cx="1310.44" cy="450.05" r="3.3"/><circle cx="1331.67" cy="507.05" r="3.3"/><circle cx="1320.64" cy="460.64" r="3.3"/><circle cx="1300.64" cy="508.92" r="3.3"/><circle cx="1285.99" cy="497.87" r="3.3"/><circle cx="1298.53" cy="548.34" r="3.3"/><circle cx="1348.6" cy="517.6" r="3.3"/><circle cx="1290.27" cy="489.55" r="3.3"/><circle cx="1320.54" cy="477.35" r="3.3"/><circle cx="1325.76" cy="500.58" r="3.3"/><circle cx="1270.67" cy="501.12" r="3.3"/><circle cx="1314.89" cy="550.28" r="3.3"/><circle cx="1351.05" cy="487.19" r="3.3"/><circle cx="1255.59" cy="528.37" r="3.3"/><circle cx="1304.25" cy="528.64" r="3.3"/><circle cx="1310.45" cy="486.64" r="3.3"/><circle cx="1290" cy="514.47" r="3.3"/><circle cx="1327.8" cy="519.24" r="3.3"/><circle cx="1311.71" cy="508.33" r="3.3"/><circle cx="1271.39" cy="516.75" r="3.3"/><circle cx="1337.3" cy="499.82" r="3.3"/><circle cx="1332.74" cy="490.1" r="3.3"/><circle cx="1340.69" cy="503.63" r="3.3"/><circle cx="1354.92" cy="460.75" r="3.3"/><circle cx="1323.91" cy="447.89" r="3.3"/><circle cx="1316.93" cy="465.88" r="3.3"/><circle cx="1276.15" cy="514.28" r="3.3"/><circle cx="1331.19" cy="511.48" r="3.3"/><circle cx="1295.91" cy="488.64" r="3.3"/><circle cx="1300.48" cy="505.33" r="3.3"/><circle cx="1277.14" cy="463.67" r="3.3"/><circle cx="1285.68" cy="495.7" r="3.3"/><circle cx="1298.23" cy="486.13" r="3.3"/><circle cx="1350.55" cy="505.44" r="3.3"/><circle cx="1255.09" cy="503.76" r="3.3"/><circle cx="1271.59" cy="537.56" r="3.3"/><circle cx="1320.38" cy="538.72" r="3.3"/><circle cx="1355" cy="481.73" r="3.3"/><circle cx="1330.13" cy="525.92" r="3.3"/><circle cx="1258.88" cy="525.89" r="3.3"/><circle cx="1323.78" cy="468.41" r="3.3"/><circle cx="1292.33" cy="454.31" r="3.3"/><circle cx="1281.31" cy="501.61" r="3.3"/><circle cx="1341.6" cy="503.02" r="3.3"/><circle cx="1345.18" cy="467.11" r="3.3"/><circle cx="1318.02" cy="467.21" r="3.3"/><circle cx="1320.57" cy="479.35" r="3.3"/><circle cx="1325.99" cy="519.04" r="3.3"/><circle cx="1359.33" cy="501.17" r="3.3"/><circle cx="1331.3" cy="462.49" r="3.3"/><circle cx="1328.41" cy="525.3" r="3.3"/><circle cx="1329.25" cy="491.02" r="3.3"/><circle cx="1268.41" cy="469.93" r="3.3"/><circle cx="1350.35" cy="458.34" r="3.3"/><circle cx="1340.96" cy="509.48" r="3.3"/><circle cx="1328.73" cy="501.55" r="3.3"/><circle cx="1256.75" cy="514.6" r="3.3"/><circle cx="1295.28" cy="532.78" r="3.3"/><circle cx="1337.72" cy="488.99" r="3.3"/><circle cx="1261.43" cy="532.26" r="3.3"/><circle cx="1308.21" cy="479.51" r="3.3"/><circle cx="1342.81" cy="521.6" r="3.3"/><circle cx="1275.8" cy="522.85" r="3.3"/><circle cx="1359.79" cy="504.19" r="3.3"/><circle cx="1329.37" cy="491.81" r="3.3"/><circle cx="1309.18" cy="569.42" r="3.3"/><circle cx="1322.84" cy="466.41" r="3.3"/><circle cx="1332.18" cy="499.13" r="3.3"/><circle cx="1316.96" cy="491.54" r="3.3"/><circle cx="1346.44" cy="452.9" r="3.3"/><circle cx="1294.48" cy="499.65" r="3.3"/><circle cx="1301.58" cy="486.47" r="3.3"/><circle cx="1343.45" cy="485.9" r="3.3"/><circle cx="1314.27" cy="471.02" r="3.3"/><circle cx="1288.19" cy="481.18" r="3.3"/><circle cx="1340.71" cy="456.68" r="3.3"/><circle cx="1355.63" cy="488.94" r="3.3"/><circle cx="1300.71" cy="529.43" r="3.3"/><circle cx="1273.83" cy="496.56" r="3.3"/><circle cx="1309.63" cy="529.12" r="3.3"/><circle cx="1309.22" cy="497.41" r="3.3"/><circle cx="1304.93" cy="507.44" r="3.3"/><circle cx="1353.89" cy="549.91" r="3.3"/><circle cx="1283.98" cy="512.44" r="3.3"/><circle cx="1349.74" cy="517.86" r="3.3"/><circle cx="1277.04" cy="542.04" r="3.3"/><circle cx="1290.87" cy="553.12" r="3.3"/><circle cx="1331.66" cy="480.12" r="3.3"/><circle cx="1345.95" cy="471.62" r="3.3"/><circle cx="1338.2" cy="523.92" r="3.3"/><circle cx="1323.43" cy="524.7" r="3.3"/><circle cx="1317.59" cy="519.91" r="3.3"/><circle cx="1317.88" cy="525.97" r="3.3"/><circle cx="1330.04" cy="476.71" r="3.3"/><circle cx="1308.43" cy="526.84" r="3.3"/><circle cx="1321.48" cy="467.92" r="3.3"/><circle cx="1329.97" cy="563.27" r="3.3"/><circle cx="1313.52" cy="549.75" r="3.3"/><circle cx="1335.46" cy="468.64" r="3.3"/><circle cx="1329.77" cy="505.06" r="3.3"/><circle cx="1371.31" cy="544.5" r="3.3"/><circle cx="1322.84" cy="432" r="3.3"/><circle cx="1301.21" cy="480.25" r="3.3"/><circle cx="1302.79" cy="490.58" r="3.3"/><circle cx="1313.12" cy="571.29" r="3.3"/><circle cx="1340.06" cy="466.72" r="3.3"/><circle cx="1303.82" cy="501.15" r="3.3"/><circle cx="1324.59" cy="501.76" r="3.3"/><circle cx="1366.32" cy="499.36" r="3.3"/><circle cx="1281.19" cy="557.7" r="3.3"/><circle cx="1320.51" cy="531.97" r="3.3"/><circle cx="1324.95" cy="484.13" r="3.3"/><circle cx="1320.36" cy="469.33" r="3.3"/><circle cx="1301.1" cy="481.92" r="3.3"/><circle cx="1332.34" cy="483" r="3.3"/><circle cx="1321.61" cy="491.1" r="3.3"/><circle cx="1298.49" cy="486.69" r="3.3"/><circle cx="1323.71" cy="432.62" r="3.3"/><circle cx="1297.57" cy="499.76" r="3.3"/><circle cx="1310.64" cy="544.17" r="3.3"/><circle cx="1307.01" cy="486.69" r="3.3"/><circle cx="1311.7" cy="508.73" r="3.3"/><circle cx="1299.5" cy="532.9" r="3.3"/><circle cx="1342.5" cy="528.69" r="3.3"/><circle cx="1279.9" cy="483.28" r="3.3"/><circle cx="1311.58" cy="518.42" r="3.3"/><circle cx="1340.91" cy="498.4" r="3.3"/><circle cx="1338.12" cy="518.28" r="3.3"/><circle cx="1356.37" cy="456.11" r="3.3"/><circle cx="1264.58" cy="520.68" r="3.3"/><circle cx="1303.34" cy="512.88" r="3.3"/><circle cx="1303.7" cy="544.62" r="3.3"/><circle cx="1331.42" cy="530.67" r="3.3"/><circle cx="1344.89" cy="460.12" r="3.3"/><circle cx="1344.8" cy="520.6" r="3.3"/><circle cx="1271.88" cy="477.14" r="3.3"/><circle cx="1333.14" cy="478.96" r="3.3"/><circle cx="1270.6" cy="496.93" r="3.3"/><circle cx="1318.56" cy="489.95" r="3.3"/><circle cx="1347.85" cy="489.99" r="3.3"/><circle cx="1309.21" cy="464.69" r="3.3"/><circle cx="1318.99" cy="492.67" r="3.3"/><circle cx="1336.42" cy="532.79" r="3.3"/><circle cx="1317.56" cy="504.61" r="3.3"/><circle cx="1310.96" cy="452.42" r="3.3"/><circle cx="1357.58" cy="521.96" r="3.3"/><circle cx="1343.64" cy="491.35" r="3.3"/><circle cx="1305.05" cy="500.78" r="3.3"/><circle cx="1280.53" cy="471.59" r="3.3"/><circle cx="1339.8" cy="516.5" r="3.3"/><circle cx="1305.86" cy="458.14" r="3.3"/><circle cx="1317.31" cy="527.29" r="3.3"/><circle cx="1168.6" cy="523.37" r="3.3"/><circle cx="1181.25" cy="557.48" r="3.3"/><circle cx="1188.15" cy="517.89" r="3.3"/><circle cx="1204.25" cy="536.71" r="3.3"/><circle cx="1206.55" cy="562.45" r="3.3"/><circle cx="1207.7" cy="509.15" r="3.3"/><circle cx="1222.65" cy="543.91" r="3.3"/><circle cx="1235.3" cy="492.23" r="3.3"/><circle cx="1243.35" cy="584.34" r="3.3"/><circle cx="1244.5" cy="463.91" r="3.3"/><circle cx="1371" cy="486.4" r="3.3"/><circle cx="1381.35" cy="429.69" r="3.3"/><circle cx="1388.25" cy="457.69" r="3.3"/><circle cx="1245.65" cy="602.04" r="3.3"/><circle cx="1206.55" cy="399.38" r="3.3"/><circle cx="1189.3" cy="396.11" r="3.3"/></g>
<polygon points="1168.6,509.87 1176.34,509.56 1184.09,509.19 1191.83,508.73 1199.57,508.21 1207.32,507.6 1215.06,506.92 1222.8,506.17 1230.55,505.34 1238.29,504.43 1246.03,503.45 1253.78,502.39 1261.52,501.26 1269.26,500.05 1277.01,498.76 1284.75,497.4 1292.49,495.97 1300.24,494.45 1307.98,492.87 1315.72,491.22 1323.47,489.52 1331.21,487.77 1338.95,485.98 1346.7,484.14 1354.44,482.26 1362.18,480.33 1369.93,478.35 1377.67,476.33 1385.41,474.26 1393.16,472.15 1400.9,469.99 1400.9,485.68 1393.16,486.78 1385.41,487.94 1377.67,489.14 1369.93,490.38 1362.18,491.68 1354.44,493.01 1346.7,494.4 1338.95,495.83 1331.21,497.31 1323.47,498.83 1315.72,500.4 1307.98,502.02 1300.24,503.7 1292.49,505.46 1284.75,507.29 1277.01,509.2 1269.26,511.18 1261.52,513.24 1253.78,515.38 1246.03,517.59 1238.29,519.88 1230.55,522.24 1222.8,524.68 1215.06,527.19 1207.32,529.78 1199.57,532.44 1191.83,535.18 1184.09,538 1176.34,540.89 1168.6,543.86" fill="#b0b0b0" fill-opacity="0.5"/>
<line x1="1168.6" y1="526.86" x2="1400.9" y2="477.83" stroke="#111" stroke-width="3.2"/>
<line x1="1137" y1="376" x2="1137" y2="644" stroke="#000" stroke-width="2.2"/>
<line x1="1136" y1="643" x2="1417" y2="643" stroke="#000" stroke-width="2.2"/>
<line x1="1133" y1="638" x2="1137" y2="638" stroke="#000" stroke-width="1.2"/>
<text x="1131" y="645" font-size="20" text-anchor="end">7</text>
<line x1="1133" y1="572.62" x2="1137" y2="572.62" stroke="#000" stroke-width="1.2"/>
<text x="1131" y="579.62" font-size="20" text-anchor="end">8</text>
<line x1="1133" y1="507.25" x2="1137" y2="507.25" stroke="#000" stroke-width="1.2"/>
<text x="1131" y="514.25" font-size="20" text-anchor="end">9</text>
<line x1="1133" y1="441.88" x2="1137" y2="441.88" stroke="#000" stroke-width="1.2"/>
<text x="1131" y="448.88" font-size="20" text-anchor="end">10</text>
<line x1="1133" y1="376.5" x2="1137" y2="376.5" stroke="#000" stroke-width="1.2"/>
<text x="1131" y="383.5" font-size="20" text-anchor="end">11</text>
<line x1="1141" y1="643" x2="1141" y2="647" stroke="#000" stroke-width="1.2"/>
<text x="1141" y="663.5" font-size="20" text-anchor="middle">0</text>
<line x1="1187" y1="643" x2="1187" y2="647" stroke="#000" stroke-width="1.2"/>
<text x="1187" y="663.5" font-size="20" text-anchor="middle">2</text>
<line x1="1233" y1="643" x2="1233" y2="647" stroke="#000" stroke-width="1.2"/>
<text x="1233" y="663.5" font-size="20" text-anchor="middle">4</text>
<line x1="1279" y1="643" x2="1279" y2="647" stroke="#000" stroke-width="1.2"/>
<text x="1279" y="663.5" font-size="20" text-anchor="middle">6</text>
<line x1="1325" y1="643" x2="1325" y2="647" stroke="#000" stroke-width="1.2"/>
<text x="1325" y="663.5" font-size="20" text-anchor="middle">8</text>
<line x1="1371" y1="643" x2="1371" y2="647" stroke="#000" stroke-width="1.2"/>
<text x="1371" y="663.5" font-size="20" text-anchor="middle">10</text>
<line x1="1417" y1="643" x2="1417" y2="647" stroke="#000" stroke-width="1.2"/>
<text x="1417" y="663.5" font-size="20" text-anchor="middle">12</text>
<text x="1284" y="688.5" font-size="24" text-anchor="middle" font-style="italic">PCSK9</text>
<text x="1097" y="514" font-size="24" text-anchor="middle" font-style="italic" transform="rotate(-90 1097 514)" dy="8.6">NSDHL</text>
<text x="1143.5" y="366" font-size="21"><tspan font-style="italic">R</tspan> = 0.2652</text>
<text x="1143.5" y="391" font-size="21"><tspan font-style="italic">P</tspan> = 0.00029</text>
<g fill="#0d0d0d"><circle cx="1664.95" cy="543.69" r="3.3"/><circle cx="1686.85" cy="516.51" r="3.3"/><circle cx="1665.8" cy="508.67" r="3.3"/><circle cx="1663.26" cy="532.65" r="3.3"/><circle cx="1645.71" cy="547.07" r="3.3"/><circle cx="1666.16" cy="525.34" r="3.3"/><circle cx="1703.99" cy="513.39" r="3.3"/><circle cx="1684.36" cy="505.38" r="3.3"/><circle cx="1701.84" cy="540.26" r="3.3"/><circle cx="1679.35" cy="543.49" r="3.3"/><circle cx="1683.52" cy="511.63" r="3.3"/><circle cx="1677.54" cy="515.82" r="3.3"/><circle cx="1624.7" cy="503.86" r="3.3"/><circle cx="1696.66" cy="506.1" r="3.3"/><circle cx="1686.7" cy="524.07" r="3.3"/><circle cx="1686.49" cy="526.81" r="3.3"/><circle cx="1623.98" cy="487.59" r="3.3"/><circle cx="1622.48" cy="532.76" r="3.3"/><circle cx="1646.86" cy="538.39" r="3.3"/><circle cx="1658.89" cy="542.88" r="3.3"/><circle cx="1680.97" cy="521.48" r="3.3"/><circle cx="1670.94" cy="521.59" r="3.3"/><circle cx="1687.12" cy="527.86" r="3.3"/><circle cx="1653.92" cy="526.38" r="3.3"/><circle cx="1681.06" cy="518.67" r="3.3"/><circle cx="1683.5" cy="511.85" r="3.3"/><circle cx="1653.38" cy="508.17" r="3.3"/><circle cx="1721.27" cy="516.07" r="3.3"/><circle cx="1688.14" cy="550.53" r="3.3"/><circle cx="1706.41" cy="509.65" r="3.3"/><circle cx="1654.54" cy="547.7" r="3.3"/><circle cx="1651.14" cy="528.35" r="3.3"/><circle cx="1662.43" cy="547.85" r="3.3"/><circle cx="1669.21" cy="524" r="3.3"/><circle cx="1690.29" cy="534.41" r="3.3"/><circle cx="1679.34" cy="519.76" r="3.3"/><circle cx="1659.48" cy="493.71" r="3.3"/><circle cx="1644.94" cy="526.97" r="3.3"/><circle cx="1657.39" cy="511.82" r="3.3"/><circle cx="1707.1" cy="541.49" r="3.3"/><circle cx="1649.19" cy="530.36" r="3.3"/><circle cx="1679.24" cy="512.7" r="3.3"/><circle cx="1684.42" cy="524.13" r="3.3"/><circle cx="1629.73" cy="521.73" r="3.3"/><circle cx="1673.63" cy="522.01" r="3.3"/><circle cx="1709.53" cy="536.27" r="3.3"/><circle cx="1614.76" cy="520.02" r="3.3"/><circle cx="1663.07" cy="537.37" r="3.3"/><circle cx="1669.22" cy="494.55" r="3.3"/><circle cx="1648.92" cy="533.8" r="3.3"/><circle cx="1686.45" cy="511.68" r="3.3"/><circle cx="1670.47" cy="523.88" r="3.3"/><circle cx="1630.45" cy="512.5" r="3.3"/><circle cx="1695.88" cy="531.13" r="3.3"/><circle cx="1691.35" cy="506.32" r="3.3"/><circle cx="1699.25" cy="523.3" r="3.3"/><circle cx="1713.37" cy="500.19" r="3.3"/><circle cx="1682.59" cy="513" r="3.3"/><circle cx="1675.65" cy="521.23" r="3.3"/><circle cx="1635.17" cy="539.37" r="3.3"/><circle cx="1689.82" cy="510.1" r="3.3"/><circle cx="1654.79" cy="517.95" r="3.3"/><circle cx="1659.33" cy="499.06" r="3.3"/><circle cx="1636.15" cy="532.93" r="3.3"/><circle cx="1644.63" cy="517.49" r="3.3"/><circle cx="1657.09" cy="517.12" r="3.3"/><circle cx="1709.04" cy="516.01" r="3.3"/><circle cx="1614.26" cy="525.66" r="3.3"/><circle cx="1630.64" cy="524.61" r="3.3"/><circle cx="1679.08" cy="532.57" r="3.3"/><circle cx="1713.45" cy="536.05" r="3.3"/><circle cx="1688.76" cy="528.53" r="3.3"/><circle cx="1618.02" cy="519.3" r="3.3"/><circle cx="1682.45" cy="499.05" r="3.3"/><circle cx="1651.24" cy="510.25" r="3.3"/><circle cx="1640.29" cy="510.03" r="3.3"/><circle cx="1700.15" cy="509.02" r="3.3"/><circle cx="1703.7" cy="509.95" r="3.3"/><circle cx="1676.74" cy="520.47" r="3.3"/><circle cx="1679.26" cy="510.98" r="3.3"/><circle cx="1684.65" cy="494.72" r="3.3"/><circle cx="1717.75" cy="524.85" r="3.3"/><circle cx="1689.92" cy="533.11" r="3.3"/><circle cx="1687.05" cy="491.56" r="3.3"/><circle cx="1687.88" cy="518.51" r="3.3"/><circle cx="1627.49" cy="512.47" r="3.3"/><circle cx="1708.83" cy="506.72" r="3.3"/><circle cx="1699.51" cy="539.21" r="3.3"/><circle cx="1687.37" cy="484.08" r="3.3"/><circle cx="1615.91" cy="500.83" r="3.3"/><circle cx="1654.16" cy="522.59" r="3.3"/><circle cx="1696.29" cy="509.76" r="3.3"/><circle cx="1620.55" cy="526.38" r="3.3"/><circle cx="1667" cy="538.16" r="3.3"/><circle cx="1701.35" cy="522.92" r="3.3"/><circle cx="1634.83" cy="521.22" r="3.3"/><circle cx="1718.21" cy="502.08" r="3.3"/><circle cx="1688" cy="511.18" r="3.3"/><circle cx="1667.96" cy="523.21" r="3.3"/><circle cx="1681.52" cy="501.59" r="3.3"/><circle cx="1690.8" cy="534.08" r="3.3"/><circle cx="1675.69" cy="510.96" r="3.3"/><circle cx="1704.95" cy="503.32" r="3.3"/><circle cx="1653.37" cy="530.05" r="3.3"/><circle cx="1660.41" cy="553.02" r="3.3"/><circle cx="1701.98" cy="535.38" r="3.3"/><circle cx="1673.01" cy="519.96" r="3.3"/><circle cx="1647.12" cy="517.69" r="3.3"/><circle cx="1699.26" cy="496.96" r="3.3"/><circle cx="1714.08" cy="535.83" r="3.3"/><circle cx="1659.55" cy="524.86" r="3.3"/><circle cx="1632.86" cy="517.06" r="3.3"/><circle cx="1668.4" cy="526.59" r="3.3"/><circle cx="1668" cy="561.46" r="3.3"/><circle cx="1663.74" cy="511.82" r="3.3"/><circle cx="1712.34" cy="483.76" r="3.3"/><circle cx="1642.94" cy="510.56" r="3.3"/><circle cx="1708.23" cy="534.99" r="3.3"/><circle cx="1636.05" cy="533.49" r="3.3"/><circle cx="1649.79" cy="522.28" r="3.3"/><circle cx="1690.27" cy="482.95" r="3.3"/><circle cx="1704.46" cy="511.15" r="3.3"/><circle cx="1696.77" cy="519.78" r="3.3"/><circle cx="1682.1" cy="498.35" r="3.3"/><circle cx="1676.31" cy="524.68" r="3.3"/><circle cx="1676.6" cy="494.05" r="3.3"/><circle cx="1688.67" cy="533.08" r="3.3"/><circle cx="1667.22" cy="531.69" r="3.3"/><circle cx="1680.17" cy="511.7" r="3.3"/><circle cx="1688.6" cy="499.86" r="3.3"/><circle cx="1672.27" cy="513.46" r="3.3"/><circle cx="1694.06" cy="517.06" r="3.3"/><circle cx="1688.4" cy="551.01" r="3.3"/><circle cx="1729.64" cy="529.86" r="3.3"/><circle cx="1681.52" cy="532.55" r="3.3"/><circle cx="1660.05" cy="533.26" r="3.3"/><circle cx="1661.62" cy="515.47" r="3.3"/><circle cx="1671.88" cy="529.07" r="3.3"/><circle cx="1698.62" cy="509" r="3.3"/><circle cx="1662.64" cy="523.32" r="3.3"/><circle cx="1683.26" cy="528.02" r="3.3"/><circle cx="1724.69" cy="517.21" r="3.3"/><circle cx="1640.17" cy="519.88" r="3.3"/><circle cx="1679.21" cy="509.62" r="3.3"/><circle cx="1683.62" cy="530.26" r="3.3"/><circle cx="1679.06" cy="526.82" r="3.3"/><circle cx="1659.94" cy="546.34" r="3.3"/><circle cx="1690.95" cy="496.83" r="3.3"/><circle cx="1680.3" cy="500.17" r="3.3"/><circle cx="1657.35" cy="527.91" r="3.3"/><circle cx="1682.39" cy="530.39" r="3.3"/><circle cx="1656.43" cy="544.64" r="3.3"/><circle cx="1669.41" cy="521.34" r="3.3"/><circle cx="1665.81" cy="521.09" r="3.3"/><circle cx="1670.46" cy="489.56" r="3.3"/><circle cx="1658.35" cy="521.12" r="3.3"/><circle cx="1701.04" cy="533.44" r="3.3"/><circle cx="1638.9" cy="565.25" r="3.3"/><circle cx="1670.35" cy="501.73" r="3.3"/><circle cx="1699.46" cy="518.34" r="3.3"/><circle cx="1696.69" cy="546.92" r="3.3"/><circle cx="1714.81" cy="517.11" r="3.3"/><circle cx="1623.69" cy="553.44" r="3.3"/><circle cx="1662.16" cy="491.77" r="3.3"/><circle cx="1662.52" cy="507.01" r="3.3"/><circle cx="1690.04" cy="513.15" r="3.3"/><circle cx="1703.41" cy="523.73" r="3.3"/><circle cx="1703.32" cy="554.68" r="3.3"/><circle cx="1630.93" cy="529.45" r="3.3"/><circle cx="1691.75" cy="546.5" r="3.3"/><circle cx="1629.66" cy="518.18" r="3.3"/><circle cx="1677.27" cy="557" r="3.3"/><circle cx="1706.35" cy="535.01" r="3.3"/><circle cx="1667.99" cy="504.93" r="3.3"/><circle cx="1677.7" cy="497.38" r="3.3"/><circle cx="1695" cy="540.33" r="3.3"/><circle cx="1676.29" cy="547.56" r="3.3"/><circle cx="1669.72" cy="510.14" r="3.3"/><circle cx="1716.01" cy="506.41" r="3.3"/><circle cx="1702.18" cy="536.62" r="3.3"/><circle cx="1663.86" cy="535.45" r="3.3"/><circle cx="1639.52" cy="537.62" r="3.3"/><circle cx="1698.35" cy="540.16" r="3.3"/><circle cx="1664.67" cy="535.15" r="3.3"/><circle cx="1676.03" cy="503.72" r="3.3"/><circle cx="1528.4" cy="525.76" r="3.3"/><circle cx="1540.96" cy="503.11" r="3.3"/><circle cx="1547.81" cy="536.25" r="3.3"/><circle cx="1563.79" cy="535.59" r="3.3"/><circle cx="1566.08" cy="548.73" r="3.3"/><circle cx="1567.22" cy="535.1" r="3.3"/><circle cx="1582.06" cy="552.51" r="3.3"/><circle cx="1594.62" cy="558.7" r="3.3"/><circle cx="1602.61" cy="519.01" r="3.3"/><circle cx="1603.75" cy="507.2" r="3.3"/><circle cx="1729.33" cy="505.47" r="3.3"/><circle cx="1739.61" cy="496.75" r="3.3"/><circle cx="1746.46" cy="513.15" r="3.3"/><circle cx="1677.96" cy="607.88" r="3.3"/><circle cx="1708.78" cy="437.25" r="3.3"/><circle cx="1615.17" cy="403.5" r="3.3"/></g>
<polygon points="1528.4,526.12 1536.09,526.32 1543.77,526.47 1551.46,526.57 1559.15,526.62 1566.84,526.61 1574.52,526.56 1582.21,526.46 1589.9,526.3 1597.59,526.1 1605.27,525.84 1612.96,525.54 1620.65,525.18 1628.33,524.78 1636.02,524.32 1643.71,523.82 1651.4,523.26 1659.08,522.66 1666.77,522 1674.46,521.3 1682.14,520.56 1689.83,519.78 1697.52,518.97 1705.21,518.12 1712.89,517.23 1720.58,516.31 1728.27,515.34 1735.95,514.35 1743.64,513.31 1751.33,512.24 1759.02,511.12 1759.02,520.88 1751.33,521.14 1743.64,521.44 1735.95,521.78 1728.27,522.16 1720.58,522.57 1712.89,523.02 1705.21,523.51 1697.52,524.03 1689.83,524.59 1682.14,525.19 1674.46,525.83 1666.77,526.5 1659.08,527.22 1651.4,527.99 1643.71,528.81 1636.02,529.68 1628.33,530.6 1620.65,531.57 1612.96,532.59 1605.27,533.66 1597.59,534.78 1589.9,535.95 1582.21,537.17 1574.52,538.44 1566.84,539.76 1559.15,541.13 1551.46,542.56 1543.77,544.03 1536.09,545.55 1528.4,547.12" fill="#b0b0b0" fill-opacity="0.5"/>
<line x1="1528.4" y1="536.62" x2="1759.02" y2="516" stroke="#111" stroke-width="3.2"/>
<line x1="1497" y1="373" x2="1497" y2="642" stroke="#000" stroke-width="2.2"/>
<line x1="1496" y1="641" x2="1775" y2="641" stroke="#000" stroke-width="2.2"/>
<line x1="1493" y1="636" x2="1497" y2="636" stroke="#000" stroke-width="1.2"/>
<text x="1491" y="643" font-size="20" text-anchor="end">7</text>
<line x1="1493" y1="598.5" x2="1497" y2="598.5" stroke="#000" stroke-width="1.2"/>
<text x="1491" y="605.5" font-size="20" text-anchor="end">8</text>
<line x1="1493" y1="561" x2="1497" y2="561" stroke="#000" stroke-width="1.2"/>
<text x="1491" y="568" font-size="20" text-anchor="end">9</text>
<line x1="1493" y1="523.5" x2="1497" y2="523.5" stroke="#000" stroke-width="1.2"/>
<text x="1491" y="530.5" font-size="20" text-anchor="end">10</text>
<line x1="1493" y1="486" x2="1497" y2="486" stroke="#000" stroke-width="1.2"/>
<text x="1491" y="493" font-size="20" text-anchor="end">11</text>
<line x1="1493" y1="448.5" x2="1497" y2="448.5" stroke="#000" stroke-width="1.2"/>
<text x="1491" y="455.5" font-size="20" text-anchor="end">12</text>
<line x1="1493" y1="411" x2="1497" y2="411" stroke="#000" stroke-width="1.2"/>
<text x="1491" y="418" font-size="20" text-anchor="end">13</text>
<line x1="1493" y1="373.5" x2="1497" y2="373.5" stroke="#000" stroke-width="1.2"/>
<text x="1491" y="380.5" font-size="20" text-anchor="end">14</text>
<line x1="1501" y1="641" x2="1501" y2="645" stroke="#000" stroke-width="1.2"/>
<text x="1501" y="661.5" font-size="20" text-anchor="middle">0</text>
<line x1="1546.67" y1="641" x2="1546.67" y2="645" stroke="#000" stroke-width="1.2"/>
<text x="1546.67" y="661.5" font-size="20" text-anchor="middle">2</text>
<line x1="1592.33" y1="641" x2="1592.33" y2="645" stroke="#000" stroke-width="1.2"/>
<text x="1592.33" y="661.5" font-size="20" text-anchor="middle">4</text>
<line x1="1638" y1="641" x2="1638" y2="645" stroke="#000" stroke-width="1.2"/>
<text x="1638" y="661.5" font-size="20" text-anchor="middle">6</text>
<line x1="1683.67" y1="641" x2="1683.67" y2="645" stroke="#000" stroke-width="1.2"/>
<text x="1683.67" y="661.5" font-size="20" text-anchor="middle">8</text>
<line x1="1729.33" y1="641" x2="1729.33" y2="645" stroke="#000" stroke-width="1.2"/>
<text x="1729.33" y="661.5" font-size="20" text-anchor="middle">10</text>
<line x1="1775" y1="641" x2="1775" y2="645" stroke="#000" stroke-width="1.2"/>
<text x="1775" y="661.5" font-size="20" text-anchor="middle">12</text>
<text x="1644" y="691.5" font-size="24" text-anchor="middle" font-style="italic">PCSK9</text>
<text x="1451.4" y="504.5" font-size="24" text-anchor="middle" font-style="italic" transform="rotate(-90 1451.4 504.5)" dy="8.6">LSS</text>
<text x="1506" y="377" font-size="21"><tspan font-style="italic">R</tspan> = 0.1582</text>
<text x="1506" y="402" font-size="21"><tspan font-style="italic">P</tspan> = 0.0325</text>
<rect x="1973" y="322.5" width="56" height="27.5" fill="#e2391f" stroke="#111" stroke-width="1.3"/>
<rect x="2059" y="212.53" width="56" height="137.47" fill="#4a53b2" stroke="#111" stroke-width="1.3"/>
<line x1="2001" y1="295.01" x2="2001" y2="350" stroke="#000" stroke-width="2"/>
<line x1="1987" y1="295.01" x2="2016" y2="295.01" stroke="#000" stroke-width="2"/>
<line x1="1987" y1="349.5" x2="2015" y2="349.5" stroke="#000" stroke-width="2"/>
<line x1="2087" y1="111.71" x2="2087" y2="313.34" stroke="#000" stroke-width="2"/>
<line x1="2072" y1="111.71" x2="2102" y2="111.71" stroke="#000" stroke-width="2"/>
<line x1="2072" y1="313.34" x2="2102" y2="313.34" stroke="#000" stroke-width="2"/>
<circle cx="2002" cy="286" r="5.6" fill="#fff" stroke="#111" stroke-width="1.4"/>
<circle cx="2001" cy="299" r="5.6" fill="#fff" stroke="#111" stroke-width="1.4"/>
<circle cx="1989" cy="333.5" r="5.6" fill="#fff" stroke="#111" stroke-width="1.4"/>
<circle cx="2014" cy="338.5" r="5.6" fill="#fff" stroke="#111" stroke-width="1.4"/>
<circle cx="1989" cy="350.5" r="5.6" fill="#fff" stroke="#111" stroke-width="1.4"/>
<circle cx="2087" cy="85.5" r="5.6" fill="#fff" stroke="#111" stroke-width="1.4"/>
<circle cx="2087" cy="126.5" r="5.6" fill="#fff" stroke="#111" stroke-width="1.4"/>
<circle cx="2087" cy="264" r="5.6" fill="#fff" stroke="#111" stroke-width="1.4"/>
<circle cx="2087" cy="280.5" r="5.6" fill="#fff" stroke="#111" stroke-width="1.4"/>
<circle cx="2087" cy="307.5" r="5.6" fill="#fff" stroke="#111" stroke-width="1.4"/>
<line x1="1944.5" y1="44.5" x2="1944.5" y2="351" stroke="#000" stroke-width="1.6"/>
<line x1="1943.5" y1="350" x2="2144" y2="350" stroke="#000" stroke-width="1.6"/>
<line x1="1930" y1="350" x2="1944.5" y2="350" stroke="#000" stroke-width="1.6"/>
<text x="1925" y="358" font-size="23" text-anchor="end">0</text>
<line x1="1930" y1="248.17" x2="1944.5" y2="248.17" stroke="#000" stroke-width="1.6"/>
<text x="1925" y="256.17" font-size="23" text-anchor="end">5</text>
<line x1="1930" y1="146.33" x2="1944.5" y2="146.33" stroke="#000" stroke-width="1.6"/>
<text x="1925" y="154.33" font-size="23" text-anchor="end">10</text>
<line x1="1930" y1="44.5" x2="1944.5" y2="44.5" stroke="#000" stroke-width="1.6"/>
<text x="1925" y="52.5" font-size="23" text-anchor="end">15</text>
<line x1="2001" y1="350" x2="2001" y2="364" stroke="#000" stroke-width="1.6"/>
<line x1="2087" y1="350" x2="2087" y2="364" stroke="#000" stroke-width="1.6"/>
<text x="2001" y="392" font-size="28.5" text-anchor="middle">C1</text>
<text x="1996" y="417" font-size="29.5" text-anchor="middle">Liver</text>
<text x="2088" y="392" font-size="28.5" text-anchor="middle">C2</text>
<text x="2084" y="417" font-size="29.5" text-anchor="middle">Lung</text>
<text x="1878" y="210" font-size="27" text-anchor="middle" transform="rotate(-90 1878 210)" dy="9.5">ML210 IC50 (μM)</text>
<text x="2044" y="57" font-size="23" text-anchor="middle"><tspan font-style="italic">P</tspan> = 0.0467</text>
<line x1="1993" y1="65" x2="2096" y2="65" stroke="#000" stroke-width="1.6"/>
<text x="0" y="0" font-size="40" font-weight="bold" transform="translate(1827 33.8) scale(1.13 0.95)">b</text>
<text x="0" y="0" font-size="40" font-weight="bold" transform="translate(11 773) scale(1.13 0.95)">c</text>
<text x="166" y="747" font-size="25.5" text-anchor="middle">RSL3 (1μM)</text>
<clipPath id="clipc1"><rect x="81" y="755" width="170" height="170.5"/></clipPath>
<g clip-path="url(#clipc1)">
<rect x="81" y="755" width="170" height="170.5" fill="#888" filter="url(#cellTex)"/>
<g fill="#4b5050" filter="url(#rough)"><ellipse cx="149" cy="843.66" rx="34" ry="28.99"/><ellipse cx="135.4" cy="867.53" rx="22.1" ry="23.87"/><ellipse cx="176.2" cy="831.73" rx="18.7" ry="20.46"/><ellipse cx="157.5" cy="877.76" rx="13.6" ry="13.64"/><ellipse cx="155.8" cy="763.52" rx="27.2" ry="13.64"/><ellipse cx="132" cy="770.35" rx="10.2" ry="8.53"/><ellipse cx="217" cy="797.62" rx="40.8" ry="10.23" transform="rotate(12 217 797.62)"/><ellipse cx="242.5" cy="811.26" rx="11.9" ry="13.64"/><ellipse cx="193.2" cy="789.1" rx="10.2" ry="10.23"/></g>
<g fill="#72cc44" opacity="0.68" filter="url(#soft)"><circle cx="116.71" cy="822.71" r="2.47"/><circle cx="95.77" cy="781.24" r="1.92"/><circle cx="142.91" cy="800.2" r="2.27"/><circle cx="118" cy="831.49" r="2.65"/><circle cx="125.92" cy="777.48" r="2.95"/><circle cx="129.25" cy="819.67" r="3.36"/><circle cx="88.93" cy="793.36" r="3.01"/><circle cx="139.52" cy="809.25" r="2.86"/><circle cx="113.29" cy="803.32" r="3.36"/><circle cx="89.44" cy="802.55" r="3.38"/><circle cx="201.21" cy="809.45" r="2.51"/><circle cx="215.63" cy="824.92" r="3.48"/><circle cx="216.19" cy="846.29" r="2.04"/><circle cx="215.38" cy="906.48" r="2.59"/><circle cx="195.45" cy="837.25" r="2.71"/><circle cx="193.32" cy="877.21" r="2.85"/><circle cx="180.59" cy="832.74" r="3.03"/><circle cx="236.88" cy="836.86" r="3.58"/><circle cx="201.98" cy="839.12" r="3.35"/><circle cx="240.04" cy="846.58" r="2.82"/><circle cx="136.98" cy="907.28" r="3.3"/><circle cx="124.25" cy="909.43" r="1.91"/><circle cx="161.05" cy="903.78" r="1.96"/><circle cx="147.31" cy="905.63" r="2.07"/><circle cx="132.38" cy="920.49" r="3.37"/><circle cx="166.13" cy="914.06" r="1.88"/><circle cx="136.65" cy="906.09" r="3.39"/><circle cx="164.49" cy="910.98" r="3.6"/><circle cx="100.02" cy="883.15" r="2.88"/><circle cx="107.33" cy="877.32" r="2.53"/><circle cx="97.27" cy="865.73" r="1.88"/><circle cx="106.54" cy="860.24" r="3.53"/></g>
</g>
<line x1="207" y1="918.5" x2="239" y2="918.5" stroke="#fff" stroke-width="2.6"/>
<clipPath id="clipc2"><rect x="81" y="932" width="170" height="170.6"/></clipPath>
<g clip-path="url(#clipc2)">
<rect x="81" y="932" width="170" height="170.6" fill="#4b5050"/>
<g fill="#888" filter="url(#cellTex)"><g filter="url(#rough)"><ellipse cx="128.6" cy="949.06" rx="42.5" ry="29"/><ellipse cx="111.6" cy="966.12" rx="20.4" ry="17.06"/><ellipse cx="210.2" cy="1013.89" rx="34" ry="37.53"/><ellipse cx="200" cy="983.18" rx="20.4" ry="13.65"/><ellipse cx="115" cy="1037.77" rx="28.9" ry="23.88"/><ellipse cx="154.1" cy="1071.89" rx="13.6" ry="10.24"/><ellipse cx="222.1" cy="1092.36" rx="22.1" ry="13.65"/><ellipse cx="89.5" cy="1085.54" rx="10.2" ry="20.47"/><ellipse cx="245.9" cy="945.65" rx="8.5" ry="11.94"/><ellipse cx="174.5" cy="1037.77" rx="6.8" ry="8.53"/></g></g>
<g fill="#72cc44" opacity="0.68" filter="url(#soft)"><circle cx="192.37" cy="995.43" r="3.23"/><circle cx="233.45" cy="1004.54" r="3.46"/><circle cx="229.59" cy="1017.69" r="3.5"/><circle cx="193.93" cy="990.42" r="2"/><circle cx="196.12" cy="1016.83" r="2.78"/><circle cx="207.24" cy="1012.31" r="2.19"/><circle cx="205.1" cy="1042.78" r="3.18"/><circle cx="224.08" cy="1037" r="2.05"/><circle cx="202.59" cy="1006.53" r="1.8"/><circle cx="219.34" cy="1003.73" r="2.19"/><circle cx="237.03" cy="1010.73" r="2.32"/><circle cx="230.8" cy="1008.48" r="3.02"/><circle cx="218.06" cy="1042.48" r="3.04"/><circle cx="236.92" cy="1007.83" r="2.34"/><circle cx="202.63" cy="1023.47" r="2.06"/><circle cx="224.75" cy="1020.6" r="2.89"/><circle cx="233.99" cy="1014.43" r="2.41"/><circle cx="200.58" cy="1039.72" r="2.67"/><circle cx="202.15" cy="1033.4" r="3.07"/><circle cx="236.93" cy="1024.52" r="1.84"/><circle cx="210.17" cy="985.66" r="1.83"/><circle cx="214.31" cy="995.83" r="2.84"/><circle cx="216.44" cy="1014.27" r="2.13"/><circle cx="222.51" cy="1010.1" r="3.16"/><circle cx="235.55" cy="1001.14" r="2.42"/><circle cx="197.39" cy="1031.48" r="3.2"/><circle cx="229.66" cy="1030.57" r="3.24"/><circle cx="213.72" cy="1009.35" r="3.5"/><circle cx="224.38" cy="1023.6" r="2.9"/><circle cx="224.87" cy="1005.07" r="3.46"/><circle cx="194.69" cy="1009.08" r="2.37"/><circle cx="213.76" cy="1021.6" r="2.07"/><circle cx="199.44" cy="985.44" r="2.09"/><circle cx="237.58" cy="1023.05" r="2.76"/><circle cx="198.51" cy="1022.23" r="2.87"/><circle cx="219.2" cy="995.5" r="2.56"/><circle cx="236.18" cy="1023.97" r="1.86"/><circle cx="183.76" cy="1015.02" r="2.04"/><circle cx="206.96" cy="984.16" r="2.93"/><circle cx="212.43" cy="1004.15" r="2.58"/><circle cx="127.94" cy="1051.68" r="2.33"/><circle cx="92.23" cy="1043.21" r="3.33"/><circle cx="130.85" cy="1035.87" r="2.68"/><circle cx="112.88" cy="1024.89" r="2.32"/><circle cx="107.5" cy="1041.85" r="2.48"/><circle cx="138.25" cy="1036.43" r="2.93"/><circle cx="101.15" cy="1037.82" r="1.96"/><circle cx="112.06" cy="1054.2" r="3.36"/><circle cx="101.41" cy="1050.5" r="3.19"/><circle cx="108.38" cy="1023.4" r="3.17"/><circle cx="101.94" cy="1049.69" r="2.31"/><circle cx="94.2" cy="1039.25" r="3.04"/><circle cx="108.7" cy="1055.33" r="2.97"/><circle cx="112.76" cy="1036.79" r="2.78"/><circle cx="114.92" cy="1053.15" r="2.63"/><circle cx="122.79" cy="1023.98" r="3.24"/><circle cx="103.98" cy="1050.07" r="3.13"/><circle cx="121.64" cy="1027.98" r="3.32"/><circle cx="128.51" cy="1026.42" r="3.56"/><circle cx="131.5" cy="1034.13" r="2.75"/><circle cx="125.94" cy="1052.61" r="3.49"/><circle cx="95.41" cy="1040" r="3.1"/><circle cx="113.79" cy="1030.05" r="3.2"/><circle cx="98.04" cy="1030.33" r="2.56"/><circle cx="100.07" cy="1026.19" r="2.95"/><circle cx="114.27" cy="1034.71" r="2.09"/><circle cx="97.11" cy="1043.25" r="2.19"/><circle cx="107.6" cy="1024.06" r="1.88"/><circle cx="103.86" cy="1039.36" r="1.9"/><circle cx="123.96" cy="1045.64" r="2.13"/><circle cx="136.52" cy="963.42" r="2.64"/><circle cx="125.69" cy="968.29" r="2.86"/><circle cx="136.63" cy="973.93" r="1.8"/><circle cx="127.97" cy="965.04" r="2.54"/><circle cx="147.02" cy="969.24" r="2.47"/><circle cx="148.38" cy="963.4" r="1.97"/><circle cx="125.89" cy="958.77" r="2.85"/><circle cx="150.26" cy="957.8" r="2.55"/><circle cx="140.65" cy="950.91" r="2.46"/><circle cx="143.63" cy="969.21" r="2.81"/><circle cx="151.52" cy="957.44" r="2.9"/><circle cx="125.86" cy="971.39" r="1.8"/><circle cx="103.98" cy="943.75" r="2.91"/><circle cx="103.13" cy="944.72" r="3.4"/><circle cx="93.24" cy="943.68" r="2.21"/><circle cx="95.41" cy="947.03" r="2.48"/><circle cx="163.56" cy="1069.92" r="2.87"/><circle cx="153.48" cy="1080.32" r="2.69"/><circle cx="149.13" cy="1074.33" r="3.57"/><circle cx="148.65" cy="1072.13" r="2.66"/><circle cx="159.9" cy="1076.55" r="2.6"/><circle cx="151.69" cy="1079.16" r="3.29"/><circle cx="227.82" cy="1094.48" r="2.29"/><circle cx="228.68" cy="1091.68" r="2.24"/><circle cx="219.95" cy="1096.74" r="3.58"/><circle cx="218.27" cy="1099.2" r="2.65"/><circle cx="215.54" cy="1089.88" r="3.14"/><circle cx="102.37" cy="1088.16" r="2.34"/><circle cx="94.14" cy="1080.89" r="2.33"/><circle cx="93.45" cy="1080.83" r="2.45"/></g>
</g>
<line x1="210.5" y1="1095" x2="240.5" y2="1095" stroke="#fff" stroke-width="2.6"/>
<clipPath id="clipc3"><rect x="81" y="1107" width="170" height="170.5"/></clipPath>
<g clip-path="url(#clipc3)">
<rect x="81" y="1107" width="170" height="170.5" fill="#4b5050"/>
<g fill="#888" filter="url(#cellTex)"><g filter="url(#rough)"><ellipse cx="91.2" cy="1141.1" rx="11.9" ry="22.16"/><ellipse cx="160.9" cy="1154.74" rx="47.6" ry="46.04"/><ellipse cx="235.7" cy="1132.58" rx="17" ry="28.99"/><ellipse cx="208.5" cy="1217.83" rx="45.9" ry="34.1"/><ellipse cx="126.9" cy="1243.4" rx="25.5" ry="17.05"/><ellipse cx="109.9" cy="1195.66" rx="6.8" ry="11.94"/><ellipse cx="183" cy="1263.86" rx="17" ry="10.23"/></g></g>
<g fill="#72cc44" opacity="0.68" filter="url(#soft)"><circle cx="170.85" cy="1125.4" r="2.67"/><circle cx="160.84" cy="1158.95" r="2.99"/><circle cx="125.96" cy="1164.23" r="2.47"/><circle cx="163.59" cy="1138.72" r="3.24"/><circle cx="157.58" cy="1134.21" r="2.77"/><circle cx="153.48" cy="1143.15" r="2.8"/><circle cx="168.04" cy="1139.97" r="3.25"/><circle cx="146.16" cy="1126.46" r="2.4"/><circle cx="191.33" cy="1176.68" r="3.25"/><circle cx="149.14" cy="1162.03" r="2.15"/><circle cx="146.33" cy="1142.97" r="3.51"/><circle cx="145.37" cy="1149.27" r="2.98"/><circle cx="135.71" cy="1186.01" r="3.44"/><circle cx="128.28" cy="1155.38" r="3.06"/><circle cx="174.68" cy="1123.32" r="1.85"/><circle cx="140.52" cy="1180.41" r="2.35"/><circle cx="150.55" cy="1152.18" r="3.38"/><circle cx="147.13" cy="1156.12" r="2.99"/><circle cx="154.01" cy="1173.51" r="2.67"/><circle cx="172.99" cy="1171.26" r="3.36"/><circle cx="159.44" cy="1154.17" r="3.2"/><circle cx="184.31" cy="1160.47" r="3.43"/><circle cx="144.47" cy="1143.92" r="2.48"/><circle cx="149.75" cy="1166.72" r="3.6"/><circle cx="185.93" cy="1166.24" r="3.14"/><circle cx="128.54" cy="1180.41" r="2.24"/><circle cx="199.11" cy="1153.54" r="3.01"/><circle cx="181.87" cy="1142.1" r="3.3"/><circle cx="169.28" cy="1132.31" r="2.65"/><circle cx="153.73" cy="1135.08" r="1.95"/><circle cx="160.44" cy="1138.82" r="2.68"/><circle cx="164.49" cy="1142.94" r="1.84"/><circle cx="183.26" cy="1178.32" r="2.45"/><circle cx="159.81" cy="1183.34" r="3.47"/><circle cx="160.12" cy="1182.17" r="3.38"/><circle cx="144.81" cy="1145.57" r="2.65"/><circle cx="145.66" cy="1160.05" r="2.48"/><circle cx="148.36" cy="1189.76" r="2.38"/><circle cx="139.2" cy="1127.04" r="3.46"/><circle cx="138.35" cy="1178.61" r="2.38"/><circle cx="138.02" cy="1173.78" r="3.23"/><circle cx="181.18" cy="1150.31" r="1.81"/><circle cx="151.64" cy="1160.95" r="1.85"/><circle cx="162.92" cy="1145.73" r="3.09"/><circle cx="135.32" cy="1185.85" r="3.34"/><circle cx="177.45" cy="1164.43" r="3.51"/><circle cx="140.84" cy="1142.21" r="3.21"/><circle cx="172.02" cy="1133.91" r="2.64"/><circle cx="180.74" cy="1171.43" r="2.06"/><circle cx="138.51" cy="1137.42" r="2.06"/><circle cx="196.04" cy="1213.78" r="1.99"/><circle cx="189.29" cy="1205.75" r="3.42"/><circle cx="183.8" cy="1203.99" r="2.03"/><circle cx="208.28" cy="1213.11" r="2.91"/><circle cx="230.9" cy="1206.66" r="3.41"/><circle cx="176.36" cy="1225.86" r="3.22"/><circle cx="224.91" cy="1238.38" r="3.44"/><circle cx="175.45" cy="1227.72" r="2.6"/><circle cx="198.66" cy="1240.82" r="1.91"/><circle cx="213.83" cy="1195.48" r="2.31"/><circle cx="212.54" cy="1216.79" r="3.34"/><circle cx="197.18" cy="1244.23" r="2.58"/><circle cx="208.76" cy="1217.38" r="1.95"/><circle cx="214.4" cy="1200.84" r="2.76"/><circle cx="217.26" cy="1221.7" r="2.47"/><circle cx="235.48" cy="1227.72" r="3.18"/><circle cx="230.46" cy="1212.89" r="2.42"/><circle cx="229.09" cy="1229.78" r="2.01"/><circle cx="181.25" cy="1214.45" r="2.69"/><circle cx="211.63" cy="1222.69" r="2.74"/><circle cx="227.59" cy="1223.06" r="2.07"/><circle cx="200.79" cy="1229.27" r="2.82"/><circle cx="191.14" cy="1227.33" r="2.2"/><circle cx="173.55" cy="1209.97" r="2.55"/><circle cx="213.32" cy="1231.83" r="2.23"/><circle cx="110.65" cy="1238.09" r="2.82"/><circle cx="131.31" cy="1250.6" r="2.49"/><circle cx="114.91" cy="1246.52" r="3.6"/><circle cx="111.15" cy="1239.9" r="3.09"/><circle cx="115.69" cy="1233.72" r="2.47"/><circle cx="116.83" cy="1231.76" r="2.1"/><circle cx="117.98" cy="1237.4" r="1.91"/><circle cx="144.12" cy="1246.35" r="2.01"/><circle cx="125.34" cy="1239.21" r="2.46"/><circle cx="141.62" cy="1245.42" r="3.22"/><circle cx="129.24" cy="1253.53" r="3.46"/><circle cx="123.12" cy="1252.41" r="3.1"/><circle cx="132.41" cy="1239.18" r="2.99"/><circle cx="131.88" cy="1246.53" r="3.57"/><circle cx="145.51" cy="1247.44" r="3.15"/><circle cx="107.95" cy="1187.85" r="2.97"/><circle cx="109.12" cy="1202.29" r="2.16"/><circle cx="112.75" cy="1188.68" r="3.22"/><circle cx="110.78" cy="1203.33" r="2.26"/><circle cx="111.01" cy="1187.12" r="3.59"/><circle cx="89.37" cy="1127.48" r="3.2"/><circle cx="96.65" cy="1148.4" r="1.86"/><circle cx="89.25" cy="1145.42" r="3.51"/><circle cx="99.23" cy="1143.97" r="3.51"/><circle cx="84.07" cy="1147.22" r="1.89"/><circle cx="239.64" cy="1142.4" r="1.92"/><circle cx="246.84" cy="1141.35" r="1.96"/><circle cx="235.36" cy="1136.29" r="2.04"/><circle cx="235.93" cy="1144.63" r="3.56"/></g>
</g>
<line x1="210.5" y1="1269.5" x2="241" y2="1269.5" stroke="#fff" stroke-width="2.6"/>
<text x="62" y="841.6" font-size="29.5" text-anchor="middle" transform="rotate(-90 62 841.6)" dy="10.5">sgNT</text>
<text x="62" y="1011.3" font-size="29.5" text-anchor="middle" transform="rotate(-90 62 1011.3)" dy="10.5">sgPCSK9_1</text>
<text x="62" y="1194" font-size="29.5" text-anchor="middle" transform="rotate(-90 62 1194)" dy="10.5">sgPCSK9_2</text>
<text x="175.5" y="1301" font-size="28" text-anchor="middle">HPAC</text>
<rect x="408" y="978.66" width="37" height="106.74" fill="#d5d6da" stroke="#111" stroke-width="1.6"/>
<rect x="466" y="879.21" width="37" height="206.19" fill="#4a7fc2" stroke="#111" stroke-width="1.6"/>
<rect x="524" y="870.09" width="37" height="215.31" fill="#3a2f9c" stroke="#111" stroke-width="1.6"/>
<line x1="426.5" y1="971.36" x2="426.5" y2="985.04" stroke="#000" stroke-width="2.2"/>
<line x1="417.5" y1="971.36" x2="435.5" y2="971.36" stroke="#000" stroke-width="2.2"/>
<line x1="417.5" y1="985.04" x2="435.5" y2="985.04" stroke="#000" stroke-width="2.2"/>
<line x1="484.5" y1="857.32" x2="484.5" y2="900.2" stroke="#000" stroke-width="2.2"/>
<line x1="475.5" y1="857.32" x2="493.5" y2="857.32" stroke="#000" stroke-width="2.2"/>
<line x1="475.5" y1="900.2" x2="493.5" y2="900.2" stroke="#000" stroke-width="2.2"/>
<line x1="542.5" y1="836.33" x2="542.5" y2="902.02" stroke="#000" stroke-width="2.2"/>
<line x1="533.5" y1="836.33" x2="551.5" y2="836.33" stroke="#000" stroke-width="2.2"/>
<line x1="533.5" y1="902.02" x2="551.5" y2="902.02" stroke="#000" stroke-width="2.2"/>
<circle cx="418.6" cy="971.6" r="5" fill="#fff" stroke="#111" stroke-width="1.5"/>
<circle cx="427.4" cy="977" r="5" fill="#fff" stroke="#111" stroke-width="1.5"/>
<circle cx="434.8" cy="980.4" r="5" fill="#fff" stroke="#111" stroke-width="1.5"/>
<circle cx="417.6" cy="981.4" r="5" fill="#fff" stroke="#111" stroke-width="1.5"/>
<circle cx="484.2" cy="853.6" r="5" fill="#fff" stroke="#111" stroke-width="1.5"/>
<circle cx="475.1" cy="890.4" r="5" fill="#fff" stroke="#111" stroke-width="1.5"/>
<circle cx="493.3" cy="890.4" r="5" fill="#fff" stroke="#111" stroke-width="1.5"/>
<circle cx="542" cy="836" r="5" fill="#fff" stroke="#111" stroke-width="1.5"/>
<circle cx="542" cy="871.5" r="5" fill="#fff" stroke="#111" stroke-width="1.5"/>
<circle cx="542" cy="901.7" r="5" fill="#fff" stroke="#111" stroke-width="1.5"/>
<line x1="386.7" y1="811.7" x2="386.7" y2="1085.4" stroke="#000" stroke-width="1.6"/>
<line x1="386.7" y1="1085.4" x2="580" y2="1085.4" stroke="#000" stroke-width="1.6"/>
<line x1="373" y1="1085.4" x2="386.7" y2="1085.4" stroke="#000" stroke-width="1.6"/>
<text x="370.5" y="1093.4" font-size="23" text-anchor="end">0</text>
<line x1="373" y1="994.17" x2="386.7" y2="994.17" stroke="#000" stroke-width="1.6"/>
<text x="370.5" y="1002.17" font-size="23" text-anchor="end">10</text>
<line x1="373" y1="902.93" x2="386.7" y2="902.93" stroke="#000" stroke-width="1.6"/>
<text x="370.5" y="910.93" font-size="23" text-anchor="end">20</text>
<line x1="373" y1="811.7" x2="386.7" y2="811.7" stroke="#000" stroke-width="1.6"/>
<text x="370.5" y="819.7" font-size="23" text-anchor="end">30</text>
<line x1="425.7" y1="1085.4" x2="425.7" y2="1097" stroke="#000" stroke-width="1.6"/>
<line x1="484" y1="1085.4" x2="484" y2="1097" stroke="#000" stroke-width="1.6"/>
<line x1="542" y1="1085.4" x2="542" y2="1097" stroke="#000" stroke-width="1.6"/>
<text x="486" y="789.6" font-size="21.8" text-anchor="middle"><tspan font-style="italic">P</tspan> = 0.0023</text>
<line x1="425.7" y1="796" x2="546" y2="796" stroke="#000" stroke-width="1.6"/>
<text x="466" y="826" font-size="21.8" text-anchor="middle"><tspan font-style="italic">P</tspan> = 0.0036</text>
<line x1="425.7" y1="833.5" x2="486.5" y2="833.5" stroke="#000" stroke-width="1.6"/>
<text x="289" y="950" font-size="26.3" text-anchor="middle" transform="rotate(-90 289 950)" dy="9.5">Cell death (Sytoxgreen)</text>
<text x="322" y="949" font-size="26.3" text-anchor="middle" transform="rotate(-90 322 949)" dy="9.5">A.U.x10^4</text>
<line x1="396" y1="1121" x2="576" y2="1121.5" stroke="#a0a0a0" stroke-width="1.5"/>
<circle cx="425.7" cy="1121" r="7" fill="#111"/>
<text x="386.7" y="1127.6" font-size="21.8" text-anchor="end">sgNT</text>
<line x1="396" y1="1150" x2="576" y2="1150.5" stroke="#a0a0a0" stroke-width="1.5"/>
<circle cx="484" cy="1150" r="7" fill="#111"/>
<text x="386.7" y="1153.6" font-size="21.8" text-anchor="end">PCSK9_1</text>
<text x="281" y="1153.6" font-size="21.8">g</text>
<text x="286.5" y="1153.6" font-size="21.8">s</text>
<line x1="396" y1="1179.6" x2="576" y2="1180.1" stroke="#a0a0a0" stroke-width="1.5"/>
<circle cx="541" cy="1179.6" r="7" fill="#111"/>
<text x="386.7" y="1183" font-size="21.8" text-anchor="end">PCSK9_2</text>
<text x="281" y="1183" font-size="21.8">g</text>
<text x="286.5" y="1183" font-size="21.8">s</text>
<text x="0" y="0" font-size="40" font-weight="bold" transform="translate(605.5 770) scale(1.13 0.95)">d</text>
<text x="636" y="822" font-size="30">HPAC - sgSC5D_1</text>
<text x="630" y="1000" font-size="30">HPAC - sgSC5D_2</text>
<text x="647.7" y="837.5" font-size="7.9" fill="#555">Control Sample 340 to 405 bp</text>
<text x="677.5 685.74 693.98 702.22 710.45 718.69 726.93 735.17 743.41 751.65 759.88 768.12 776.36 784.6 792.84 801.08 809.32 817.55 825.79 834.03 842.27 850.51 858.75 866.98 875.22 883.46 891.7 899.94 908.18 916.42 924.65 932.89 941.13 949.37 957.61 965.85 974.08 982.32 990.56 998.8 1007.04 1015.28 1023.52 1031.75 1039.99 1048.23 1056.47 1064.71 1072.95 1081.18 1089.42 1097.66 1105.9 1114.14 1122.38 1130.62 1138.85 1147.09 1155.33 1163.57 1171.81 1180.05 1188.28 1196.52 1204.76 1213" y="848.8" font-size="8.6" fill="#555" text-anchor="middle">ATTACTATTTTTTTACACCATACGTGTATCCAGCCACATGGCCAGAAGATGACATCTTCCGACAAG</text>
<line x1="842" y1="850" x2="981.6" y2="850" stroke="#111" stroke-width="1.6"/>
<line x1="981.6" y1="850" x2="1007" y2="850" stroke="#e03a2a" stroke-width="1.6" stroke-dasharray="2 1.5"/>
<text x="661" y="854.26" font-size="8.5" text-anchor="end" fill="#555">1500</text>
<text x="661" y="866.06" font-size="8.5" text-anchor="end" fill="#555">1000</text>
<text x="661" y="878.06" font-size="8.5" text-anchor="end" fill="#555">500</text>
<text x="661" y="890.06" font-size="8.5" text-anchor="end" fill="#555">0</text>
<line x1="676.88" y1="887" x2="1218.68" y2="887" stroke="#3fb1e3" stroke-width="1.25"/>
<path d="M682.48 887l1.4 -0.4 1.4 -1.7 1.4 -4.5 1.4 -7.4 1.4 -5.9 1.4 0.9 1.4 6.2 1.4 4.4 1.4 -2.7 1.4 -8.4 1.4 -6.3 1.4 2.6 1.4 9.2 1.4 8.4 1.4 4.1 1.4 1.2 1.4 0.3M716.08 887l1.4 -1.1 1.4 -3.2 1.4 -6.5 1.4 -7.5 1.4 -2.4 1.4 4.9 1.4 7.8 1.4 5.3 1.4 2.1 1.4 0.6M731.48 887l1.4 -0.3 1.4 -1.3 1.4 -3.9 1.4 -6.9 1.4 -6.3 1.4 -0.2 1.4 5.6 1.4 5.3 1.4 -0.7 1.4 -6.3 1.4 -6 1.4 0.9 1.4 6.6 1.4 5.1 1.4 -1.9 1.4 -7.6 1.4 -5.9 1.4 2.3 1.4 8 1.4 6.3 1.4 0.3 1.4 -3.8 1.4 -2.7 1.4 1.9 1.4 4.3 1.4 1.8 1.4 -2.9 1.4 -5.5 1.4 -2.8 1.4 3.1 1.4 5.5 1.4 2.7 1.4 -2.2 1.4 -4.2 1.4 -1.6 1.4 2.9 1.4 3.6 1.4 -0.7 1.4 -6.7 1.4 -8 1.4 -1.6 1.4 6.6 1.4 8.9 1.4 5.6 1.4 2.1 1.4 0.6M839.28 887l1.4 -0.9 1.4 -2.4 1.4 -4.7 1.4 -5 1.4 -1.1 1.4 3.9 1.4 5.2 1.4 3.4 1.4 1.2 1.4 0.4M871.48 887l1.4 -0.5 1.4 -1.7 1.4 -4.1 1.4 -5.7 1.4 -3.5 1.4 2 1.4 5.7 1.4 4.8 1.4 2.2 1.4 0.8M888.28 887l1.4 -1 1.4 -2.7 1.4 -5.8 1.4 -6.9 1.4 -2.5 1.4 4.3 1.4 7 1.4 5 1.4 2 1.4 0.6M903.68 887l1.4 -0.5 1.4 -1.9 1.4 -6 1.4 -10.8 1.4 -10.3 1.4 -0.9 1.4 9.3 1.4 11.3 1.4 6.8 1.4 2.4 1.4 0.6M986.28 887l1.4 -0.5 1.4 -1.7 1.4 -4.3 1.4 -6.2 1.4 -3.9 1.4 2 1.4 6 1.4 5.2 1.4 2.5 1.4 0.9M1075.88 887l1.4 -0.3 1.4 -1.1 1.4 -3.4 1.4 -6.5 1.4 -6.4 1.4 -0.9 1.4 5.5 1.4 6.9 1.4 4.2 1.4 1.6 1.4 0.4M1117.88 887l1.4 -1.1 1.4 -3.2 1.4 -7.1 1.4 -8.7 1.4 -3.7 1.4 4.9 1.4 8.9 1.4 6.4 1.4 2.7 1.4 0.9M1134.68 887l1.4 -0.9 1.4 -2.4 1.4 -4.4 1.4 -4.5 1.4 -0.7 1.4 3.5 1.4 3.6 1.4 -0.5 1.4 -4.8 1.4 -5.1 1.4 0 1.4 5.4 1.4 5.9 1.4 3.4 1.4 1.2 1.4 0.3" fill="none" stroke="#e07366" stroke-width="1.25"/>
<path d="M676.88 867.07l1.4 -15.7 1.4 -9.9 1.4 2.7 1.4 12.4 1.4 14.1 1.4 9.9 1.4 4.6 1.4 1.4 1.4 0.4M699.28 887l1.4 -0.7 1.4 -2.1 1.4 -5.1 1.4 -7.1 1.4 -4 1.4 2.9 1.4 6.9 1.4 5.7 1.4 2.6 1.4 0.9M724.48 887l1.4 -1 1.4 -2.5 1.4 -4.9 1.4 -5.1 1.4 -0.9 1.4 4 1.4 5.4 1.4 3.4 1.4 1.3 1.4 0.3M788.88 887l1.4 -0.4 1.4 -1.4 1.4 -4.4 1.4 -7.8 1.4 -7.2 1.4 -0.4 1.4 6.8 1.4 8 1.4 4.7 1.4 1.7 1.4 0.4M805.68 887l1.4 -0.7 1.4 -2.5 1.4 -6.5 1.4 -9.9 1.4 -7 1.4 2.4 1.4 9.4 1.4 8.8 1.4 4.3 1.4 1.4 1.4 0.3M830.88 887l1.4 -1.1 1.4 -3.1 1.4 -6.6 1.4 -7.7 1.4 -2.7 1.4 4.9 1.4 7.9 1.4 5.5 1.4 2.2 1.4 0.7M847.68 887l1.4 -1 1.4 -2.3 1.4 -4.2 1.4 -3.9 1.4 -0.3 1.4 3.7 1.4 4.3 1.4 2.6 1.4 1.1M896.68 887l1.4 -1.2 1.4 -3.1 1.4 -6 1.4 -6.5 1.4 -1.5 1.4 4.9 1.4 6.8 1.4 4.4 1.4 1.7 1.4 0.5M928.88 887l1.4 -0.7 1.4 -2.3 1.4 -5.7 1.4 -8.2 1.4 -5 1.4 2.8 1.4 7.9 1.4 6.8 1.4 3.3 1.4 1.1M961.08 887l1.4 -0.4 1.4 -1.7 1.4 -5 1.4 -9.2 1.4 -9 1.4 -0.9 1.4 7.9 1.4 9.8 1.4 5.8 1.4 2.1 1.4 0.6M977.88 887l1.4 -0.6 1.4 -1.9 1.4 -5.3 1.4 -8.3 1.4 -6.2 1.4 1.6 1.4 7.8 1.4 7.5 1.4 3.9 1.4 1.2 1.4 0.3M1026.88 887l1.4 -0.3 1.4 -1.3 1.4 -3.7 1.4 -6.4 1.4 -5.6 1.4 0.3 1.4 5.7 1.4 6.3 1.4 3.5 1.4 1.2 1.4 0.3M1043.68 887l1.4 -0.5 1.4 -1.8 1.4 -4.6 1.4 -6.6 1.4 -4.2 1.4 1.9 1.4 5.3 1.4 1.6 1.4 -6.5 1.4 -11.5 1.4 -6.3 1.4 5.5 1.4 12.2 1.4 9.7 1.4 4.3 1.4 1.5M1067.48 887l1.4 -0.4 1.4 -1.6 1.4 -5.3 1.4 -10.7 1.4 -11.9 1.4 -3.3 1.4 8.5 1.4 12.3 1.4 8.3 1.4 3.2 1.4 0.9M1092.68 887l1.4 -0.4 1.4 -1.5 1.4 -4.1 1.4 -6.5 1.4 -5.1 1.4 1.1 1.4 6.1 1.4 6 1.4 3.2 1.4 1.2M1109.48 887l1.4 -0.8 1.4 -2.5 1.4 -5.9 1.4 -8 1.4 -4.3 1.4 3.4 1.4 7.9 1.4 6.4 1.4 2.8 1.4 1M1175.28 887l1.4 -0.7 1.4 -2.1 1.4 -4.6 1.4 -5.8 1.4 -2.5 1.4 3.2 1.4 5.8 1.4 4.3 1.4 1.8 1.4 0.6M1192.08 887l1.4 -0.9 1.4 -2.2 1.4 -4.3 1.4 -4.4 1.4 -0.8 1.4 3.3 1.4 3 1.4 -1.9 1.4 -7.3 1.4 -7.4 1.4 -0.1 1.4 7.5 1.4 8.5 1.4 4.9 1.4 1.7 1.4 0.4" fill="none" stroke="#9fcf45" stroke-width="1.25"/>
<path d="M863.08 887l1.4 -0.3 1.4 -1.1 1.4 -2.8 1.4 -4.3 1.4 -3.2 1.4 1 1.4 4.1 1.4 3.9 1.4 2 1.4 0.7M879.88 887l1.4 -0.4 1.4 -1.2 1.4 -2.9 1.4 -3.6 1.4 -1.8 1.4 1.8 1.4 3.7 1.4 2.8 1.4 1.2 1.4 0.4M937.28 887l1.4 -0.6 1.4 -1.9 1.4 -4.2 1.4 -5.6 1.4 -2.8 1.4 2.6 1.4 5.6 1.4 4.4 1.4 1.9 1.4 0.6M994.68 887l1.4 -0.5 1.4 -1.5 1.4 -3.4 1.4 -4.6 1.4 -2.3 1.4 2 1.4 4 1.4 1.7 1.4 -2.3 1.4 -4.3 1.4 -1.8 1.4 2.8 1.4 4.8 1.4 3.5 1.4 1.5 1.4 0.4M1035.28 887l1.4 -0.5 1.4 -1.7 1.4 -4.5 1.4 -7.3 1.4 -5.5 1.4 1.3 1.4 6.8 1.4 6.6 1.4 3.5 1.4 1 1.4 0.3M1060.48 887l1.4 -0.5 1.4 -1.3 1.4 -2.8 1.4 -3.5 1.4 -1.4 1.4 2 1.4 3.5 1.4 2.6 1.4 1.1 1.4 0.3M1084.28 887l1.4 -0.4 1.4 -1.5 1.4 -4.4 1.4 -7.6 1.4 -6.6 1.4 0.1 1.4 6.8 1.4 7.5 1.4 4.3 1.4 1.4 1.4 0.4M1166.88 887l1.4 -0.4 1.4 -1.3 1.4 -2.9 1.4 -4.1 1.4 -2.3 1.4 1.8 1.4 4 1.4 3.2 1.4 1.5 1.4 0.5M1207.48 887l1.4 -0.3 1.4 -0.9 1.4 -2.6 1.4 -4.2 1.4 -3.4 1.4 0.6 1.4 3.9 1.4 4" fill="none" stroke="#1a1a1a" stroke-width="1.25"/>
<path d="M707.68 887l1.4 -0.9 1.4 -2.5 1.4 -5.8 1.4 -7.2 1.4 -3.3 1.4 3.9 1.4 7.3 1.4 5.4 1.4 2.4 1.4 0.7M797.28 887l1.4 -0.3 1.4 -0.9 1.4 -2.7 1.4 -4.6 1.4 -3.6 1.4 0.4 1.4 4.2 1.4 4.2 1.4 2.4 1.4 0.9M814.08 887l1.4 -0.9 1.4 -2.9 1.4 -7 1.4 -9.9 1.4 -5.9 1.4 3.6 1.4 8.9 1.4 5.3 1.4 -2.5 1.4 -7 1.4 -3.6 1.4 4.1 1.4 8.1 1.4 6.1 1.4 2.7 1.4 0.9M854.68 887l1.4 -0.6 1.4 -2.2 1.4 -6.3 1.4 -10.4 1.4 -8.7 1.4 0.9 1.4 9.6 1.4 10 1.4 5.4 1.4 1.9 1.4 0.4M912.08 887l1.4 -0.4 1.4 -1.7 1.4 -4.5 1.4 -7.8 1.4 -6.5 1.4 0.5 1.4 6.6 1.4 5.7 1.4 -0.4 1.4 -5.8 1.4 -5 1.4 1.6 1.4 6.8 1.4 6.4 1.4 3.2 1.4 1.3M945.68 887l1.4 -0.8 1.4 -2.3 1.4 -4.9 1.4 -5.9 1.4 -2.2 1.4 3.3 1.4 4.6 1.4 -0.2 1.4 -7 1.4 -9.1 1.4 -2.3 1.4 7.1 1.4 10 1.4 6.5 1.4 2.5 1.4 0.7M969.48 887l1.4 -0.5 1.4 -1.8 1.4 -5.1 1.4 -8.8 1.4 -7.6 1.4 0.5 1.4 8 1.4 8.5 1.4 4.8 1.4 1.6 1.4 0.4M1011.48 887l1.4 -0.8 1.4 -2.1 1.4 -4.1 1.4 -4.6 1.4 -1.3 1.4 3.1 1.4 3.3 1.4 -1.1 1.4 -6.8 1.4 -7.6 1.4 -0.9 1.4 6.9 1.4 8.5 1.4 5.1 1.4 1.9 1.4 0.5M1101.08 887l1.4 -0.4 1.4 -1.3 1.4 -3.2 1.4 -4.9 1.4 -3.1 1.4 1.4 1.4 4.7 1.4 4.1 1.4 2 1.4 0.7M1126.28 887l1.4 -0.9 1.4 -2.5 1.4 -5.1 1.4 -5.7 1.4 -1.7 1.4 4 1.4 5.9 1.4 4 1.4 1.5 1.4 0.5M1150.08 887l1.4 -0.6 1.4 -2.2 1.4 -6 1.4 -9.6 1.4 -7.6 1.4 1.4 1.4 8.4 1.4 6.6 1.4 -1.1 1.4 -7.1 1.4 -5.5 1.4 2.5 1.4 8.4 1.4 7.4 1.4 3.7 1.4 1.3M1183.68 887l1.4 -0.8 1.4 -2 1.4 -4.3 1.4 -4.8 1.4 -1.4 1.4 3.2 1.4 5 1.4 3.4 1.4 1.3 1.4 0.4" fill="none" stroke="#3fb1e3" stroke-width="1.25"/>
<text x="681.8" y="895.5" font-size="8.5" text-anchor="middle" fill="#555">340</text>
<text x="722.8" y="895.5" font-size="8.5" text-anchor="middle" fill="#555">345</text>
<text x="763.8" y="895.5" font-size="8.5" text-anchor="middle" fill="#555">350</text>
<text x="804.8" y="895.5" font-size="8.5" text-anchor="middle" fill="#555">355</text>
<text x="845.8" y="895.5" font-size="8.5" text-anchor="middle" fill="#555">360</text>
<text x="886.8" y="895.5" font-size="8.5" text-anchor="middle" fill="#555">365</text>
<text x="927.8" y="895.5" font-size="8.5" text-anchor="middle" fill="#555">370</text>
<text x="968.8" y="895.5" font-size="8.5" text-anchor="middle" fill="#555">375</text>
<text x="1009.8" y="895.5" font-size="8.5" text-anchor="middle" fill="#555">380</text>
<text x="1050.8" y="895.5" font-size="8.5" text-anchor="middle" fill="#555">385</text>
<text x="1091.8" y="895.5" font-size="8.5" text-anchor="middle" fill="#555">390</text>
<text x="1132.8" y="895.5" font-size="8.5" text-anchor="middle" fill="#555">395</text>
<text x="1173.8" y="895.5" font-size="8.5" text-anchor="middle" fill="#555">400</text>
<text x="1214.8" y="895.5" font-size="8.5" text-anchor="middle" fill="#555">405</text>
<line x1="957.7" y1="842.6" x2="957.7" y2="887" stroke="#333" stroke-width="1.3" stroke-dasharray="3 2"/>
<text x="652.8" y="914.2" font-size="7.9" fill="#555">Edited Sample 334 to 399 bp</text>
<text x="682 690.2 698.4 706.6 714.8 723 731.2 739.4 747.6 755.8 764 772.2 780.4 788.6 796.8 805 813.2 821.4 829.6 837.8 846 854.2 862.4 870.6 878.8 887 895.2 903.4 911.6 919.8 928 936.2 944.4 952.6 960.8 969 977.2 985.4 993.6 1001.8 1010 1018.2 1026.4 1034.6 1042.8 1051 1059.2 1067.4 1075.6 1083.8 1092 1100.2 1108.4 1116.6 1124.8 1133 1141.2 1149.4 1157.6 1165.8 1174 1182.2 1190.4 1198.6 1206.8 1215" y="925.5" font-size="8.6" fill="#555" text-anchor="middle">GATTACTATTTTTTTACACCATACGTGTATCCAGGACATGGGCAGAAGATGACATCTTCCGACAAG</text>
<text x="665" y="926.76" font-size="8.5" text-anchor="end" fill="#555">1000</text>
<text x="665" y="946.96" font-size="8.5" text-anchor="end" fill="#555">500</text>
<text x="665" y="966.06" font-size="8.5" text-anchor="end" fill="#555">0</text>
<line x1="680.58" y1="963" x2="1223.78" y2="963" stroke="#3fb1e3" stroke-width="1.25"/>
<path d="M694.58 963l1.4 -0.6 1.4 -2.1 1.4 -5.4 1.4 -8.1 1.4 -5.7 1.4 2 1.4 7 1.4 3.8 1.4 -4.2 1.4 -9.6 1.4 -6 1.4 4.2 1.4 10.6 1.4 8.7 1.4 4 1.4 1.4M726.78 963l1.4 -0.3 1.4 -1.3 1.4 -4.1 1.4 -8 1.4 -8.4 1.4 -1.7 1.4 6.5 1.4 8.9 1.4 5.7 1.4 2.1 1.4 0.6M743.58 963l1.4 -0.4 1.4 -1.6 1.4 -4.6 1.4 -7.5 1.4 -6.3 1.4 0.6 1.4 6.5 1.4 5.3 1.4 -0.9 1.4 -6.2 1.4 -5.1 1.4 1.6 1.4 6.5 1.4 4.4 1.4 -2.4 1.4 -7.1 1.4 -4.8 1.4 2.9 1.4 7.5 1.4 5 1.4 -0.9 1.4 -4.2 1.4 -2.5 1.4 2.4 1.4 4.5 1.4 1.3 1.4 -3.9 1.4 -6.2 1.4 -2.5 1.4 4 1.4 6.2 1.4 2.5 1.4 -2.6 1.4 -4.5 1.4 -1.2 1.4 3.4 1.4 3.7 1.4 -1.3 1.4 -7.5 1.4 -8.2 1.4 -0.8 1.4 7.5 1.4 9.3 1.4 5.6 1.4 2 1.4 0.5M849.98 963l1.4 -0.3 1.4 -1.5 1.4 -4.4 1.4 -8.4 1.4 -8.3 1.4 -1.2 1.4 7 1.4 9 1.4 5.5 1.4 2 1.4 0.6M883.58 963l1.4 -0.7 1.4 -2.3 1.4 -5.3 1.4 -7.3 1.4 -4.1 1.4 3.1 1.4 7.1 1.4 5.9 1.4 2.7 1.4 0.9M898.98 963l1.4 -0.3 1.4 -1.2 1.4 -4.1 1.4 -8.5 1.4 -9.6 1.4 -3.1 1.4 6.5 1.4 9.9 1.4 6.9 1.4 2.7 1.4 0.8M915.78 963l1.4 -0.3 1.4 -1.2 1.4 -3.6 1.4 -6.4 1.4 -5.9 1.4 -0.2 1.4 5.6 1.4 6.5 1.4 3.8 1.4 1.4 1.4 0.3M966.18 963l1.4 -0.4 1.4 -1 1.4 -1.7 1.4 -1.6 1.4 0 1.4 1.5 1.4 1.7 1.4 1.1 1.4 0.4M991.38 963l1.4 -0.5 1.4 -1.1 1.4 -1.6 1.4 -1.2 1.4 0.3 1.4 1.6 1.4 1.5 1.4 0.7 1.4 0.3M1006.78 963l1.4 -0.4 1.4 -0.9 1.4 -1.3 1.4 -0.9 1.4 0.3 1.4 1.3 1.4 1.1 1.4 0.8M1048.78 963l1.4 -0.3 1.4 -0.6 1.4 -0.9 1.4 -0.6 1.4 0.3 1.4 0.8 1.4 0.8 1.4 0.5M1072.58 963l1.4 -0.6 1.4 -1.2 1.4 -1.8 1.4 -1.4 1.4 0.5 1.4 1.6 1.4 1.2 1.4 -0.5 1.4 -2.7 1.4 -3.2 1.4 -0.9 1.4 2.2 1.4 3.4 1.4 2.2 1.4 0.9 1.4 0.3M1096.38 963l1.4 -0.5 1.4 -1.2 1.4 -2.3 1.4 -2.5 1.4 -0.5 1.4 1.9 1.4 2.6 1.4 1.5 1.4 0.1 1.4 -1.2 1.4 -1.9 1.4 -1.2 1.4 0.5 1.4 1.5 1.4 0.6 1.4 -0.8 1.4 -0.9 1.4 0.5 1.4 1.3 1.4 0.9 1.4 -0.5 1.4 -1.5 1.4 -0.9 1.4 0.7 1.4 1.6 1.4 1.4 1.4 0.8M1139.78 963l1.4 -0.9 1.4 -1.3 1.4 -1.5 1.4 -0.6 1.4 1 1.4 1.1 1.4 -0.2 1.4 -2.2 1.4 -2.6 1.4 -0.6 1.4 1.8 1.4 1.9 1.4 0.1 1.4 -0.7 1.4 0.3 1.4 1.5 1.4 1.6 1.4 0.9 1.4 0.4M1171.98 963l1.4 -0.5 1.4 -1.3 1.4 -2 1.4 -1.7 1.4 0.1 1.4 1.9 1.4 1.9 1.4 1.1 1.4 0.5M1205.58 963l1.4 -0.9 1.4 -1.7 1.4 -2.6 1.4 -1.7 1.4 0.7 1.4 2.5 1.4 2.2 1.4 1.1 1.4 0.4" fill="none" stroke="#e07366" stroke-width="1.25"/>
<path d="M686.18 963l1.4 -0.5 1.4 -1.7 1.4 -4.9 1.4 -7.9 1.4 -6.3 1.4 1 1.4 7.3 1.4 7.4 1.4 4 1.4 1.3 1.4 0.3M711.38 963l1.4 -0.8 1.4 -2.2 1.4 -5.1 1.4 -6.5 1.4 -3 1.4 3.3 1.4 6.6 1.4 4.9 1.4 2.1 1.4 0.7M735.18 963l1.4 -0.4 1.4 -1.4 1.4 -4.3 1.4 -7.8 1.4 -7.2 1.4 -0.5 1.4 6.8 1.4 8 1.4 4.7 1.4 1.7 1.4 0.4M802.38 963l1.4 -1.2 1.4 -2.6 1.4 -4.6 1.4 -3.9 1.4 0.2 1.4 4.1 1.4 4.5 1.4 2.5 1.4 1M817.78 963l1.4 -0.4 1.4 -1.3 1.4 -3.3 1.4 -4.9 1.4 -3.1 1.4 1.6 1.4 4.7 1.4 4 1.4 2 1.4 0.7M842.98 963l1.4 -1.1 1.4 -2.8 1.4 -5.8 1.4 -6.4 1.4 -1.8 1.4 4.5 1.4 6.7 1.4 4.4 1.4 1.8 1.4 0.5M859.78 963l1.4 -1.1 1.4 -2.4 1.4 -4.3 1.4 -3.8 1.4 0 1.4 3.8 1.4 4.3 1.4 2.4 1.4 1.1M907.38 963l1.4 -0.4 1.4 -1.6 1.4 -5.1 1.4 -9.8 1.4 -10 1.4 -1.9 1.4 8.1 1.4 10.7 1.4 6.8 1.4 2.5 1.4 0.7M940.98 963l1.4 -0.7 1.4 -2.4 1.4 -5.6 1.4 -8 1.4 -4.6 1.4 2.9 1.4 7.8 1.4 6.5 1.4 3 1.4 1.1M959.18 963l1.4 -0.7 1.4 -1.3 1.4 -1.6 1.4 -0.8 1.4 0.8 1.4 1.5 1.4 0.9 1.4 -0.3 1.4 -0.7 1.4 -0.1 1.4 0.6 1.4 0.9 1.4 0.5 1.4 0.3M984.38 963l1.4 -0.7 1.4 -0.9 1.4 -0.7 1.4 0.1 1.4 0.8 1.4 0.8 1.4 0.6M1016.58 963l1.4 -0.4 1.4 -0.8 1.4 -0.9 1.4 -0.4 1.4 0.5 1.4 0.9 1.4 0.7 1.4 0.4M1031.98 963l1.4 -0.6 1.4 -1.3 1.4 -2.6 1.4 -2.5 1.4 -0.4 1.4 2.2 1.4 2.8 1.4 1.6 1.4 0.8M1048.78 963l1.4 -0.8 1.4 -1.7 1.4 -2.7 1.4 -2 1.4 0.4 1.4 2.4 1.4 2.1 1.4 0.3 1.4 -1 1.4 -0.9 1.4 0.4 1.4 1.3 1.4 0.6 1.4 -0.7 1.4 -1.6 1.4 -0.7 1.4 0.8 1.4 1.6 1.4 0.9 1.4 -0.4 1.4 -1 1.4 -0.4 1.4 0.6 1.4 1.2 1.4 0.8 1.4 0.5M1089.38 963l1.4 -0.3 1.4 -1.1 1.4 -2.2 1.4 -2.7 1.4 -1.2 1.4 1.4 1.4 2.1 1.4 0.2 1.4 -2.5 1.4 -2.8 1.4 0 1.4 3 1.4 3.3 1.4 2 1.4 0.8M1114.58 963l1.4 -0.4 1.4 -0.9 1.4 -1.3 1.4 -0.9 1.4 0.4 1.4 1.2 1.4 1.1 1.4 0.8M1163.58 963l1.4 -0.8 1.4 -1.2 1.4 -1.4 1.4 -0.5 1.4 1 1.4 1.4 1.4 1 1.4 0.5M1178.98 963l1.4 -0.3 1.4 -1 1.4 -2.3 1.4 -3.4 1.4 -2 1.4 1.2 1.4 3.3 1.4 2.7 1.4 1.3 1.4 0.5M1197.18 963l1.4 -0.9 1.4 -1.3 1.4 -1.6 1.4 -0.6 1.4 1 1.4 1.4 1.4 0.7 1.4 -0.5 1.4 -0.9 1.4 -0.2 1.4 0.7 1.4 1.1 1.4 0.4 1.4 -0.6 1.4 -1.5 1.4 -1.5 1.4 -0.1 1.4 1.4 1.4 1.6" fill="none" stroke="#9fcf45" stroke-width="1.25"/>
<path d="M680.58 961.7l1.4 -3 1.4 -5.4 1.4 -4.8 1.4 -0.1 1.4 4.7 1.4 5.4 1.4 3.1 1.4 1.1 1.4 0.3M875.18 963l1.4 -0.6 1.4 -2 1.4 -5.1 1.4 -7.7 1.4 -5.1 1.4 2.1 1.4 7.4 1.4 6.6 1.4 3.2 1.4 1.2M891.98 963l1.4 -0.5 1.4 -1.4 1.4 -3.1 1.4 -3.9 1.4 -1.7 1.4 2.1 1.4 3.9 1.4 2.9 1.4 1.3 1.4 0.4M949.38 963l1.4 -0.5 1.4 -1.4 1.4 -3.4 1.4 -4.2 1.4 -2 1.4 2.1 1.4 3.9 1.4 2.2 1.4 -0.8 1.4 -2.2 1.4 -0.8 1.4 1.6 1.4 2.7 1.4 1.8 1.4 1M974.58 963l1.4 -0.4 1.4 -0.9 1.4 -1.7 1.4 -1.8 1.4 -0.3 1.4 1.4 1.4 1.9 1.4 1.2 1.4 0.6M999.78 963l1.4 -0.6 1.4 -1 1.4 -1.6 1.4 -0.9 1.4 0.5 1.4 1.3 1.4 0.6 1.4 -1 1.4 -2 1.4 -1 1.4 0.9 1.4 1.8 1.4 0.4 1.4 -1.8 1.4 -2.8 1.4 -1.2 1.4 1.6 1.4 2.6 1.4 0.8 1.4 -0.9 1.4 -0.8 1.4 0.9 1.4 1.8 1.4 1.5 1.4 0.9M1041.78 963l1.4 -0.6 1.4 -0.7 1.4 -0.6 1.4 0 1.4 0.7 1.4 0.6 1.4 0.6M1057.18 963l1.4 -0.5 1.4 -1.1 1.4 -2.2 1.4 -2.3 1.4 -0.4 1.4 1.7 1.4 2 1.4 0.5 1.4 -0.7 1.4 -0.6 1.4 0.6 1.4 1.3 1.4 1.1 1.4 0.6M1089.38 963l1.4 -0.4 1.4 -1 1.4 -1.9 1.4 -1.9 1.4 -0.3 1.4 1.6 1.4 2 1.4 1.3 1.4 0.6M1124.38 963l1.4 -1 1.4 -1.8 1.4 -2.5 1.4 -1.6 1.4 0.9 1.4 2.3 1.4 1.8 1.4 0.6 1.4 -0.1 1.4 0.2 1.4 0.4 1.4 0 1.4 -0.8 1.4 -1.4 1.4 -1 1.4 0.5 1.4 1.1 1.4 0.6 1.4 -0.4 1.4 -0.5 1.4 0.3 1.4 1 1.4 0.8 1.4 0.6M1171.98 963l1.4 -1.1 1.4 -2.2 1.4 -3.5 1.4 -2.4 1.4 0.8 1.4 3.2 1.4 2.8 1.4 1 1.4 -0.8 1.4 -1.2 1.4 -0.3 1.4 0.9 1.4 1.1 1.4 0.1 1.4 -1.3 1.4 -1.5 1.4 -0.4 1.4 1.3 1.4 1.4 1.4 0.2 1.4 -0.9 1.4 -0.8 1.4 0.5 1.4 1.3 1.4 1.1 1.4 0.7M1212.58 963l1.4 -0.6 1.4 -1.5 1.4 -2.7 1.4 -2.6 1.4 -0.3 1.4 2.4 1.4 2.8 1.4 1.7" fill="none" stroke="#1a1a1a" stroke-width="1.25"/>
<path d="M719.78 963l1.4 -0.9 1.4 -2.4 1.4 -4.9 1.4 -5.8 1.4 -2 1.4 3.7 1.4 6 1.4 4.1 1.4 1.7 1.4 0.5M809.38 963l1.4 -0.6 1.4 -2.1 1.4 -5.6 1.4 -9 1.4 -6.6 1.4 1.6 1.4 8.4 1.4 8.1 1.4 4.2 1.4 1.3 1.4 0.3M826.18 963l1.4 -0.9 1.4 -2.6 1.4 -6.2 1.4 -8.3 1.4 -4.4 1.4 3.6 1.4 7.5 1.4 4.2 1.4 -2.1 1.4 -5.4 1.4 -2.4 1.4 3.6 1.4 6.3 1.4 4.6 1.4 1.9 1.4 0.6M866.78 963l1.4 -0.3 1.4 -1.1 1.4 -2.8 1.4 -4.7 1.4 -3.6 1.4 0.7 1.4 4.3 1.4 4.3 1.4 2.3 1.4 0.9M924.18 963l1.4 -0.3 1.4 -1.1 1.4 -3 1.4 -5.1 1.4 -4 1.4 0.4 1.4 4.3 1.4 3.2 1.4 -1.5 1.4 -5.3 1.4 -4.1 1.4 1.5 1.4 5.9 1.4 5.4 1.4 2.7 1.4 1M974.58 963l1.4 -0.4 1.4 -1 1.4 -1.9 1.4 -1.8 1.4 -0.1 1.4 1.6 1.4 1.8 1.4 0.8 1.4 -0.6 1.4 -1.8 1.4 -1.7 1.4 -0.1 1.4 1.5 1.4 1.6 1.4 0.2 1.4 -0.9 1.4 -0.8 1.4 0.2 1.4 0.6 1.4 0 1.4 -0.6 1.4 0.1 1.4 1.1 1.4 1.2 1.4 0.7 1.4 0.3M1023.58 963l1.4 -0.3 1.4 -0.8 1.4 -1.6 1.4 -1.8 1.4 -0.5 1.4 1 1.4 1.1 1.4 -0.5 1.4 -1.6 1.4 -0.6 1.4 1.3 1.4 2 1.4 1.1 1.4 -0.5 1.4 -1.6 1.4 -1.5 1.4 0.1 1.4 1.6 1.4 1.7 1.4 1 1.4 0.4M1080.98 963l1.4 -1 1.4 -1.7 1.4 -2.4 1.4 -1.2 1.4 1.1 1.4 2.3 1.4 1.8 1.4 0.8 1.4 0.3M1106.18 963l1.4 -0.9 1.4 -1.9 1.4 -3.1 1.4 -2.5 1.4 0.4 1.4 2.9 1.4 2.9 1.4 1.6 1.4 0.6M1131.38 963l1.4 -0.5 1.4 -0.9 1.4 -1.1 1.4 -0.5 1.4 0.6 1.4 1.1 1.4 0.8 1.4 0.5M1155.18 963l1.4 -0.6 1.4 -1.3 1.4 -2.5 1.4 -2.2 1.4 -0.2 1.4 2.1 1.4 2.2 1.4 0.7 1.4 -0.9 1.4 -1 1.4 0.2 1.4 1.2 1.4 1.3 1.4 0.7 1.4 0.3M1187.38 963l1.4 -0.3 1.4 -0.7 1.4 -1.8 1.4 -2.4 1.4 -1.1 1.4 1.1 1.4 2.4 1.4 1.8 1.4 0.7 1.4 0.3" fill="none" stroke="#3fb1e3" stroke-width="1.25"/>
<text x="693.7" y="972" font-size="8.5" text-anchor="middle" fill="#555">335</text>
<text x="734.85" y="972" font-size="8.5" text-anchor="middle" fill="#555">340</text>
<text x="776" y="972" font-size="8.5" text-anchor="middle" fill="#555">345</text>
<text x="817.15" y="972" font-size="8.5" text-anchor="middle" fill="#555">350</text>
<text x="858.3" y="972" font-size="8.5" text-anchor="middle" fill="#555">355</text>
<text x="899.45" y="972" font-size="8.5" text-anchor="middle" fill="#555">360</text>
<text x="940.6" y="972" font-size="8.5" text-anchor="middle" fill="#555">365</text>
<text x="981.75" y="972" font-size="8.5" text-anchor="middle" fill="#555">370</text>
<text x="1022.9" y="972" font-size="8.5" text-anchor="middle" fill="#555">375</text>
<text x="1064.05" y="972" font-size="8.5" text-anchor="middle" fill="#555">380</text>
<text x="1105.2" y="972" font-size="8.5" text-anchor="middle" fill="#555">385</text>
<text x="1146.35" y="972" font-size="8.5" text-anchor="middle" fill="#555">390</text>
<text x="1187.5" y="972" font-size="8.5" text-anchor="middle" fill="#555">395</text>
<line x1="959.5" y1="925" x2="959.5" y2="963" stroke="#333" stroke-width="1.3" stroke-dasharray="3 2"/>
<text x="648.4" y="1016.4" font-size="7.9" fill="#555">Control Sample 328 to 393 bp</text>
<text x="678 686.28 694.55 702.83 711.11 719.38 727.66 735.94 744.22 752.49 760.77 769.05 777.32 785.6 793.88 802.15 810.43 818.71 826.98 835.26 843.54 851.82 860.09 868.37 876.65 884.92 893.2 901.48 909.75 918.03 926.31 934.58 942.86 951.14 959.42 967.69 975.97 984.25 992.52 1000.8 1009.08 1017.35 1025.63 1033.91 1042.18 1050.46 1058.74 1067.02 1075.29 1083.57 1091.85 1100.12 1108.4 1116.68 1124.95 1133.23 1141.51 1149.78 1158.06 1166.34 1174.62 1182.89 1191.17 1199.45 1207.72 1216" y="1027.7" font-size="8.6" fill="#555" text-anchor="middle">TCCGTGTTGCAGATTACTATTTTTTTACACCATACGTGTATCCAGCCACATGGCCAGAAGATGACA</text>
<line x1="934" y1="1029.8" x2="1075.3" y2="1029.8" stroke="#111" stroke-width="1.6"/>
<line x1="910" y1="1029.8" x2="934" y2="1029.8" stroke="#e03a2a" stroke-width="1.6" stroke-dasharray="2 1.5"/>
<text x="661" y="1033.76" font-size="8.5" text-anchor="end" fill="#555">1500</text>
<text x="661" y="1045.76" font-size="8.5" text-anchor="end" fill="#555">1000</text>
<text x="661" y="1057.06" font-size="8.5" text-anchor="end" fill="#555">500</text>
<text x="661" y="1068.86" font-size="8.5" text-anchor="end" fill="#555">0</text>
<line x1="673.52" y1="1065.8" x2="1222.32" y2="1065.8" stroke="#3fb1e3" stroke-width="1.25"/>
<path d="M673.52 1064.46l1.4 -3.1 1.4 -5.5 1.4 -5 1.4 -0.4 1.4 4.7 1.4 5.6 1.4 3.4 1.4 1.3 1.4 0.3M704.32 1065.8l1.4 -0.9 1.4 -2.8 1.4 -7.3 1.4 -10.9 1.4 -7.7 1.4 2.5 1.4 10.3 1.4 9.8 1.4 5 1.4 1.6 1.4 0.4M721.12 1065.8l1.4 -0.6 1.4 -1.7 1.4 -4 1.4 -5.7 1.4 -3.3 1.4 1.9 1.4 4.7 1.4 1.9 1.4 -4.2 1.4 -7.7 1.4 -4.4 1.4 3.7 1.4 8.3 1.4 6.8 1.4 3.2 1.4 1.1M778.52 1065.8l1.4 -0.3 1.4 -1.3 1.4 -3.9 1.4 -7.1 1.4 -7 1.4 -1.1 1.4 5.8 1.4 6.8 1.4 2.4 1.4 -2.4 1.4 -3.4 1.4 -0.2 1.4 3.6 1.4 4.3 1.4 2.6 1.4 0.9 1.4 0.3M812.12 1065.8l1.4 -0.6 1.4 -2.3 1.4 -5.7 1.4 -9.1 1.4 -7 1.4 1.5 1.4 8.4 1.4 8.4 1.4 4.5 1.4 1.5 1.4 0.4M828.92 1065.8l1.4 -0.8 1.4 -2.5 1.4 -6.1 1.4 -8.9 1.4 -5.8 1.4 2.6 1.4 7.7 1.4 4.9 1.4 -2.7 1.4 -7.8 1.4 -5.1 1.4 3.2 1.4 8 1.4 4.6 1.4 -2.8 1.4 -7.5 1.4 -4.3 1.4 3.5 1.4 7.5 1.4 3.4 1.4 -4.5 1.4 -8.7 1.4 -4.4 1.4 4.7 1.4 8.6 1.4 4.1 1.4 -3.8 1.4 -7.7 1.4 -3.5 1.4 4.8 1.4 8.1 1.4 4.2 1.4 -2.1 1.4 -4.8 1.4 -1.9 1.4 3.3 1.4 4.6 1.4 0.1 1.4 -6.2 1.4 -8.3 1.4 -2.4 1.4 6.1 1.4 9.2 1.4 6.1 1.4 2.5 1.4 0.8M936.72 1065.8l1.4 -0.5 1.4 -1.6 1.4 -4 1.4 -6.1 1.4 -4.3 1.4 1.4 1.4 5.8 1.4 5.4 1.4 2.8 1.4 1.1M970.32 1065.8l1.4 -1.2 1.4 -3.5 1.4 -7.8 1.4 -9.8 1.4 -4.7 1.4 4.9 1.4 9.9 1.4 7.6 1.4 3.4 1.4 1.2M987.12 1065.8l1.4 -1.1 1.4 -3.1 1.4 -6.3 1.4 -7.2 1.4 -2.6 1.4 4.6 1.4 7.5 1.4 5.3 1.4 2.2 1.4 0.7M1003.92 1065.8l1.4 -1 1.4 -2.4 1.4 -4.5 1.4 -4.8 1.4 -1 1.4 3.7 1.4 5 1.4 3.3 1.4 1.3 1.4 0.4M1086.52 1065.8l1.4 -0.9 1.4 -2.5 1.4 -5.6 1.4 -7.1 1.4 -3.3 1.4 3.5 1.4 7.1 1.4 5.5 1.4 2.5 1.4 0.8M1177.52 1065.8l1.4 -0.5 1.4 -1.4 1.4 -3.6 1.4 -5.1 1.4 -3.4 1.4 1.6 1.4 4.9 1.4 4.5 1.4 2.2 1.4 0.8" fill="none" stroke="#e07366" stroke-width="1.25"/>
<path d="M754.72 1065.8l1.4 -0.9 1.4 -2.2 1.4 -4.7 1.4 -5.4 1.4 -1.9 1.4 3.4 1.4 5.6 1.4 3.9 1.4 1.7 1.4 0.5M770.12 1065.8l1.4 -0.3 1.4 -1.4 1.4 -4.3 1.4 -8.1 1.4 -8.4 1.4 -1.8 1.4 6.5 1.4 9 1.4 5.8 1.4 2.3 1.4 0.7M795.32 1065.8l1.4 -0.3 1.4 -1.2 1.4 -3.3 1.4 -5.7 1.4 -4.9 1.4 0.1 1.4 5 1.4 5.6 1.4 3.3 1.4 1.1 1.4 0.3M820.52 1065.8l1.4 -0.7 1.4 -2.3 1.4 -5.9 1.4 -8.8 1.4 -6.2 1.4 2 1.4 8.3 1.4 7.9 1.4 4.1 1.4 1.3 1.4 0.3M886.32 1065.8l1.4 -0.3 1.4 -1 1.4 -3.4 1.4 -6.3 1.4 -6.6 1.4 -1.4 1.4 5.1 1.4 7 1.4 4.6 1.4 1.8 1.4 0.5M903.12 1065.8l1.4 -0.4 1.4 -1.3 1.4 -4 1.4 -7.1 1.4 -6.5 1.4 -0.5 1.4 6.1 1.4 7.3 1.4 4.4 1.4 1.6 1.4 0.4M928.32 1065.8l1.4 -0.5 1.4 -1.6 1.4 -4.2 1.4 -6.7 1.4 -5.1 1.4 1.1 1.4 6.2 1.4 6.1 1.4 3.3 1.4 1.1 1.4 0.3M945.12 1065.8l1.4 -0.4 1.4 -1.5 1.4 -3.4 1.4 -5 1.4 -3.3 1.4 1.5 1.4 4.8 1.4 4.3 1.4 2.2 1.4 0.8M994.12 1065.8l1.4 -0.3 1.4 -1.2 1.4 -3.7 1.4 -7.5 1.4 -8.1 1.4 -2.3 1.4 5.7 1.4 8.5 1.4 5.8 1.4 2.4 1.4 0.7M1027.72 1065.8l1.4 -0.3 1.4 -1.1 1.4 -3 1.4 -5.1 1.4 -4.4 1.4 0 1.4 4.6 1.4 5 1.4 3 1.4 1 1.4 0.3M1061.32 1065.8l1.4 -0.7 1.4 -2.2 1.4 -5.3 1.4 -7.8 1.4 -5 1.4 2.3 1.4 7.5 1.4 6.6 1.4 3.3 1.4 1.3M1078.12 1065.8l1.4 -0.6 1.4 -1.6 1.4 -3.9 1.4 -5.1 1.4 -2.7 1.4 2.2 1.4 5 1.4 4.1 1.4 1.9 1.4 0.7M1128.52 1065.8l1.4 -1 1.4 -2.4 1.4 -4.4 1.4 -4.3 1.4 -0.6 1.4 3.7 1.4 4.7 1.4 2.9 1.4 1.1 1.4 0.3M1143.92 1065.8l1.4 -0.5 1.4 -2 1.4 -5.4 1.4 -9.3 1.4 -8.1 1.4 0.1 1.4 7.9 1.4 7.7 1.4 1.5 1.4 -4.5 1.4 -4.7 1.4 0.6 1.4 5.8 1.4 6.1 1.4 3.3 1.4 1.2 1.4 0.3M1169.12 1065.8l1.4 -0.4 1.4 -1.2 1.4 -3 1.4 -4.6 1.4 -3.2 1.4 1.1 1.4 4.3 1.4 4.1 1.4 2.1 1.4 0.8M1194.32 1065.8l1.4 -1 1.4 -3 1.4 -6.8 1.4 -9.1 1.4 -4.8 1.4 3.9 1.4 9 1.4 7.2 1.4 3.4 1.4 1.2M1211.12 1065.8l1.4 -0.7 1.4 -2 1.4 -4.3 1.4 -5.2 1.4 -2.1 1.4 2.9 1.4 5.3 1.4 3.9" fill="none" stroke="#9fcf45" stroke-width="1.25"/>
<path d="M695.92 1065.8l1.4 -0.5 1.4 -1.7 1.4 -4.6 1.4 -7.2 1.4 -5.5 1.4 1.2 1.4 6.6 1.4 6.7 1.4 3.5 1.4 1.2 1.4 0.3M712.72 1065.8l1.4 -0.4 1.4 -1.1 1.4 -2.9 1.4 -4.1 1.4 -2.7 1.4 1.2 1.4 4 1.4 3.5 1.4 1.8 1.4 0.7M737.92 1065.8l1.4 -0.5 1.4 -1.5 1.4 -3.1 1.4 -4.1 1.4 -1.9 1.4 2 1.4 4.1 1.4 3.1 1.4 1.4 1.4 0.5M761.72 1065.8l1.4 -0.3 1.4 -1.3 1.4 -4 1.4 -7.9 1.4 -8.7 1.4 -2.4 1.4 6.1 1.4 9.1 1.4 6.1 1.4 2.5 1.4 0.8M961.92 1065.8l1.4 -0.8 1.4 -2.3 1.4 -5.3 1.4 -7.1 1.4 -3.8 1.4 3.1 1.4 7 1.4 5.6 1.4 2.7 1.4 0.9M978.72 1065.8l1.4 -0.9 1.4 -2.5 1.4 -5.4 1.4 -6.5 1.4 -2.7 1.4 3.7 1.4 6.6 1.4 4.9 1.4 2.1 1.4 0.7M1036.12 1065.8l1.4 -0.6 1.4 -2 1.4 -5.5 1.4 -9 1.4 -7.3 1.4 0.8 1.4 8.1 1.4 8.6 1.4 4.8 1.4 1.7 1.4 0.4M1094.92 1065.8l1.4 -0.6 1.4 -1.8 1.4 -3.7 1.4 -4.4 1.4 -1.9 1.4 2.4 1.4 4 1.4 1.5 1.4 -2.4 1.4 -4 1.4 -1.5 1.4 2.8 1.4 4.6 1.4 3.2 1.4 1.4 1.4 0.4M1135.52 1065.8l1.4 -0.3 1.4 -1.2 1.4 -3.4 1.4 -6 1.4 -5.6 1.4 -0.3 1.4 5.1 1.4 6.2 1.4 3.8 1.4 1.3 1.4 0.4M1160.72 1065.8l1.4 -0.7 1.4 -2.3 1.4 -6.2 1.4 -9.7 1.4 -7.4 1.4 1.5 1.4 9 1.4 9 1.4 4.8 1.4 1.6 1.4 0.4M1185.92 1065.8l1.4 -0.7 1.4 -2.2 1.4 -5.1 1.4 -7.1 1.4 -4.2 1.4 2.6 1.4 6.9 1.4 5.9 1.4 2.9 1.4 1" fill="none" stroke="#1a1a1a" stroke-width="1.25"/>
<path d="M679.12 1065.8l1.4 -0.4 1.4 -1.7 1.4 -4.6 1.4 -7.9 1.4 -6.8 1.4 0.1 1.4 6.5 1.4 6 1.4 -0.4 1.4 -6.4 1.4 -6.1 1.4 0.8 1.4 7.2 1.4 7.6 1.4 4.3 1.4 1.4 1.4 0.4M746.32 1065.8l1.4 -1 1.4 -2.8 1.4 -6 1.4 -7.2 1.4 -3 1.4 4.1 1.4 7.3 1.4 5.5 1.4 2.3 1.4 0.8M803.72 1065.8l1.4 -0.3 1.4 -1.2 1.4 -3 1.4 -5.1 1.4 -4.1 1.4 0.5 1.4 4.5 1.4 4.9 1.4 2.6 1.4 1.2M894.72 1065.8l1.4 -0.4 1.4 -1.4 1.4 -4.3 1.4 -7.9 1.4 -7.7 1.4 -1.1 1.4 6.6 1.4 8.4 1.4 5.2 1.4 2 1.4 0.6M911.52 1065.8l1.4 -0.4 1.4 -1.3 1.4 -3.8 1.4 -6.5 1.4 -5.6 1.4 0 1.4 5.4 1.4 5 1.4 -0.1 1.4 -4.9 1.4 -4.7 1.4 0.6 1.4 5.6 1.4 6 1.4 3.3 1.4 1.1 1.4 0.3M953.52 1065.8l1.4 -0.9 1.4 -2.7 1.4 -6.5 1.4 -9 1.4 -5.3 1.4 3.3 1.4 8.8 1.4 7.4 1.4 3.6 1.4 1.3M1010.92 1065.8l1.4 -0.3 1.4 -1.4 1.4 -4.1 1.4 -7.5 1.4 -7.3 1.4 -1.1 1.4 6 1.4 6.7 1.4 1.4 1.4 -4.6 1.4 -5.5 1.4 -0.3 1.4 5.6 1.4 6.6 1.4 4 1.4 1.4 1.4 0.4M1044.52 1065.8l1.4 -0.4 1.4 -1.4 1.4 -3.6 1.4 -5.7 1.4 -4.3 1.4 0.8 1.4 4.8 1.4 3.5 1.4 -1.8 1.4 -5.9 1.4 -4.7 1.4 1.6 1.4 6.5 1.4 6.2 1.4 3.1 1.4 1.3M1069.72 1065.8l1.4 -0.6 1.4 -2.1 1.4 -4.7 1.4 -6.6 1.4 -3.9 1.4 2.4 1.4 6.4 1.4 5.5 1.4 2.6 1.4 1M1111.72 1065.8l1.4 -0.9 1.4 -2.4 1.4 -4.8 1.4 -5.1 1.4 -1.6 1.4 3.5 1.4 4.4 1.4 0.7 1.4 -4.2 1.4 -5.6 1.4 -1.2 1.4 4.6 1.4 6.4 1.4 4.1 1.4 1.6 1.4 0.5M1202.72 1065.8l1.4 -1 1.4 -2.8 1.4 -6.2 1.4 -7.9 1.4 -3.8 1.4 4 1.4 7.9 1.4 6.1 1.4 2.8 1.4 0.9" fill="none" stroke="#3fb1e3" stroke-width="1.25"/>
<text x="699.5" y="1074" font-size="8.5" text-anchor="middle" fill="#555">330</text>
<text x="740.85" y="1074" font-size="8.5" text-anchor="middle" fill="#555">335</text>
<text x="782.2" y="1074" font-size="8.5" text-anchor="middle" fill="#555">340</text>
<text x="823.55" y="1074" font-size="8.5" text-anchor="middle" fill="#555">345</text>
<text x="864.9" y="1074" font-size="8.5" text-anchor="middle" fill="#555">350</text>
<text x="906.25" y="1074" font-size="8.5" text-anchor="middle" fill="#555">355</text>
<text x="947.6" y="1074" font-size="8.5" text-anchor="middle" fill="#555">360</text>
<text x="988.95" y="1074" font-size="8.5" text-anchor="middle" fill="#555">365</text>
<text x="1030.3" y="1074" font-size="8.5" text-anchor="middle" fill="#555">370</text>
<text x="1071.65" y="1074" font-size="8.5" text-anchor="middle" fill="#555">375</text>
<text x="1113" y="1074" font-size="8.5" text-anchor="middle" fill="#555">380</text>
<text x="1154.35" y="1074" font-size="8.5" text-anchor="middle" fill="#555">385</text>
<text x="1195.7" y="1074" font-size="8.5" text-anchor="middle" fill="#555">390</text>
<line x1="959.5" y1="1027" x2="959.5" y2="1065.8" stroke="#333" stroke-width="1.3" stroke-dasharray="3 2"/>
<text x="643.6" y="1088.6" font-size="7.9" fill="#555">Edited Sample 328 to 393 bp</text>
<text x="673 681.29 689.58 697.88 706.17 714.46 722.75 731.05 739.34 747.63 755.92 764.22 772.51 780.8 789.09 797.38 805.68 813.97 822.26 830.55 838.85 847.14 855.43 863.72 872.02 880.31 888.6 896.89 905.18 913.48 921.77 930.06 938.35 946.65 954.94 963.23 971.52 979.82 988.11 996.4 1004.69 1012.98 1021.28 1029.57 1037.86 1046.15 1054.45 1062.74 1071.03 1079.32 1087.62 1095.91 1104.2 1112.49 1120.78 1129.08 1137.37 1145.66 1153.95 1162.25 1170.54 1178.83 1187.12 1195.42 1203.71 1212" y="1098.9" font-size="8.6" fill="#555" text-anchor="middle">TCCGTGTTGCAGATTACTATTTTTTTACACCATACGGAGCCTCCCGCCAGGTGGCAAGAAGATGAC</text>
<text x="655" y="1102.96" font-size="8.5" text-anchor="end" fill="#555">750</text>
<text x="655" y="1115.66" font-size="8.5" text-anchor="end" fill="#555">500</text>
<text x="655" y="1128.06" font-size="8.5" text-anchor="end" fill="#555">250</text>
<text x="655" y="1140.46" font-size="8.5" text-anchor="end" fill="#555">0</text>
<line x1="672.85" y1="1137.4" x2="1218.85" y2="1137.4" stroke="#3fb1e3" stroke-width="1.25"/>
<path d="M672.85 1136.19l1.4 -2.8 1.4 -5 1.4 -4.5 1.4 -0.2 1.4 4.3 1.4 5.1 1.4 3 1.4 1 1.4 0.3M703.65 1137.4l1.4 -1.1 1.4 -3.7 1.4 -8.5 1.4 -11.8 1.4 -6.8 1.4 4.6 1.4 11.6 1.4 9.6 1.4 4.5 1.4 1.3 1.4 0.3M720.45 1137.4l1.4 -1.2 1.4 -3.3 1.4 -7 1.4 -8.4 1.4 -3.3 1.4 4.8 1.4 7.7 1.4 3.5 1.4 -3 1.4 -5.5 1.4 -1.7 1.4 4.3 1.4 6.5 1.4 4.3 1.4 1.8 1.4 0.5M777.85 1137.4l1.4 -0.6 1.4 -2 1.4 -4.9 1.4 -6.8 1.4 -4 1.4 2.3 1.4 6.1 1.4 3.5 1.4 -2 1.4 -5.4 1.4 -3 1.4 2.8 1.4 6.2 1.4 4.9 1.4 2.2 1.4 0.7M811.45 1137.4l1.4 -1 1.4 -2.5 1.4 -5 1.4 -5.1 1.4 -1.2 1.4 4 1.4 5.5 1.4 3.5 1.4 1.4 1.4 0.4M826.85 1137.4l1.4 -0.4 1.4 -1.7 1.4 -4.8 1.4 -8.2 1.4 -7.2 1.4 0.1 1.4 7 1.4 6.9 1.4 1.3 1.4 -3.9 1.4 -4 1.4 0.6 1.4 4.6 1.4 3 1.4 -2.8 1.4 -7.5 1.4 -5.9 1.4 2 1.4 7.6 1.4 6 1.4 0 1.4 -4.1 1.4 -3.2 1.4 1.8 1.4 4.6 1.4 2.4 1.4 -2.8 1.4 -6 1.4 -3.5 1.4 2.8 1.4 6.1 1.4 3.4 1.4 -1.6 1.4 -4.4 1.4 -2.2 1.4 2.6 1.4 4.5 1.4 1.5 1.4 -3.3 1.4 -5.2 1.4 -1.9 1.4 3.6 1.4 5.9 1.4 4.1 1.4 1.7 1.4 0.5M934.65 1137.4l1.4 -0.9 1.4 -2.7 1.4 -6.4 1.4 -8.8 1.4 -4.9 1.4 3.6 1.4 8.6 1.4 7.1 1.4 3.2 1.4 1.2M951.45 1137.4l1.4 -0.6 1.4 -1.5 1.4 -2.6 1.4 -2.5 1.4 -0.1 1.4 2.3 1.4 2.7 1.4 1.6 1.4 0.7M992.05 1137.4l1.4 -0.5 1.4 -1 1.4 -1.7 1.4 -1.4 1.4 0.2 1.4 1.6 1.4 1.4 1.4 0.4 1.4 -0.7 1.4 -1.2 1.4 -0.5 1.4 0.6 1.4 1.1 1.4 0.3 1.4 -1.2 1.4 -2.1 1.4 -1.2 1.4 0.8 1.4 2.1 1.4 1.8 1.4 0.9 1.4 0.3M1025.65 1137.4l1.4 -1 1.4 -1.8 1.4 -2.3 1.4 -1.3 1.4 1 1.4 2.3 1.4 1.9 1.4 0.9 1.4 0.3M1059.25 1137.4l1.4 -0.3 1.4 -0.7 1.4 -1 1.4 -0.9 1.4 0.1 1.4 1 1.4 1 1.4 0.8M1074.65 1137.4l1.4 -0.5 1.4 -1.3 1.4 -2.7 1.4 -2.8 1.4 -0.8 1.4 2.1 1.4 3 1.4 2 1.4 1M1091.45 1137.4l1.4 -0.3 1.4 -1.1 1.4 -2.4 1.4 -3.3 1.4 -1.7 1.4 1.5 1.4 3.2 1.4 2.5 1.4 1.2 1.4 0.4M1109.65 1137.4l1.4 -0.4 1.4 -0.8 1.4 -1.4 1.4 -1.1 1.4 0 1.4 1.1 1.4 0.7 1.4 -0.9 1.4 -2.3 1.4 -1.8 1.4 0.5 1.4 2.4 1.4 2 1.4 0.3 1.4 -1 1.4 -1 1.4 0.1 1.4 1.3 1.4 1.3 1.4 0.7 1.4 0.3M1140.45 1137.4l1.4 -0.7 1.4 -1.4 1.4 -2.2 1.4 -1.5 1.4 0.4 1.4 2.1 1.4 1.9 1.4 1 1.4 0.4M1182.45 1137.4l1.4 -0.3 1.4 -0.8 1.4 -1.7 1.4 -2.1 1.4 -0.7 1.4 1.3 1.4 2 1.4 1.5 1.4 0.8M1200.65 1137.4l1.4 -0.7 1.4 -1.4 1.4 -2.6 1.4 -2.2 1.4 -0.1 1.4 2.1 1.4 1.8 1.4 -0.1 1.4 -1.4 1.4 -0.7 1.4 1.1 1.4 2 1.4 1.4" fill="none" stroke="#e07366" stroke-width="1.25"/>
<path d="M752.65 1137.4l1.4 -0.5 1.4 -1.9 1.4 -5.2 1.4 -9 1.4 -7.6 1.4 0.4 1.4 8 1.4 8.8 1.4 4.9 1.4 1.7 1.4 0.4M769.45 1137.4l1.4 -0.8 1.4 -2.6 1.4 -6.7 1.4 -9.9 1.4 -6.9 1.4 2.6 1.4 9.5 1.4 8.7 1.4 4.4 1.4 1.4 1.4 0.3M794.65 1137.4l1.4 -1.2 1.4 -3.6 1.4 -7.6 1.4 -9.3 1.4 -3.9 1.4 5.2 1.4 9.5 1.4 7 1.4 2.9 1.4 1M818.45 1137.4l1.4 -0.3 1.4 -1.4 1.4 -4 1.4 -7.3 1.4 -7.1 1.4 -0.8 1.4 6.3 1.4 7.7 1.4 4.7 1.4 1.7 1.4 0.5M884.25 1137.4l1.4 -0.3 1.4 -1.5 1.4 -4.7 1.4 -9.2 1.4 -9.9 1.4 -2.5 1.4 7.4 1.4 10.4 1.4 6.8 1.4 2.7 1.4 0.8M901.05 1137.4l1.4 -0.5 1.4 -2 1.4 -5.7 1.4 -9.9 1.4 -9.1 1.4 -0.2 1.4 8.8 1.4 10.1 1.4 5.9 1.4 2.1 1.4 0.5M926.25 1137.4l1.4 -0.8 1.4 -2.8 1.4 -6.7 1.4 -9.8 1.4 -6.4 1.4 3 1.4 9.4 1.4 8.4 1.4 4.2 1.4 1.2 1.4 0.3M943.05 1137.4l1.4 -0.6 1.4 -1.9 1.4 -4.1 1.4 -5.3 1.4 -2.5 1.4 2.7 1.4 5.3 1.4 4 1.4 1.8 1.4 0.6M969.65 1137.4l1.4 -0.8 1.4 -1.1 1.4 -1.1 1.4 -0.1 1.4 0.8 1.4 0.9 1.4 -0.1 1.4 -1.1 1.4 -1.3 1.4 -0.1 1.4 1 1.4 0.7 1.4 -0.5 1.4 -1.1 1.4 -0.2 1.4 1.2 1.4 1.5 1.4 0.9 1.4 0.5M1017.25 1137.4l1.4 -0.3 1.4 -0.8 1.4 -1.7 1.4 -2.1 1.4 -0.8 1.4 1.2 1.4 2.1 1.4 1.5 1.4 0.9M1035.45 1137.4l1.4 -0.3 1.4 -0.8 1.4 -1.5 1.4 -1.3 1.4 -0.2 1.4 0.7 1.4 0.3 1.4 -1.1 1.4 -1.2 1.4 0.5 1.4 1.8 1.4 1.8 1.4 0.9 1.4 0.4M1067.65 1137.4l1.4 -0.6 1.4 -1.2 1.4 -1.9 1.4 -1.5 1.4 0.3 1.4 1.8 1.4 1.8 1.4 0.9 1.4 0.4M1091.45 1137.4l1.4 -0.8 1.4 -1.6 1.4 -2.8 1.4 -2.2 1.4 0.2 1.4 2.4 1.4 2 1.4 -0.1 1.4 -1.8 1.4 -1.5 1.4 0.6 1.4 2.2 1.4 2 1.4 1 1.4 0.4M1126.45 1137.4l1.4 -0.8 1.4 -1.1 1.4 -1.1 1.4 -0.1 1.4 0.8 1.4 0.8 1.4 -0.4 1.4 -1.5 1.4 -1.6 1.4 0 1.4 1.6 1.4 1.9 1.4 1 1.4 0.5M1150.25 1137.4l1.4 -0.7 1.4 -1.3 1.4 -2.1 1.4 -1.5 1.4 0.5 1.4 1.8 1.4 1.6 1.4 0.2 1.4 -0.8 1.4 -0.7 1.4 0.4 1.4 1.1 1.4 0.9 1.4 0.6M1175.45 1137.4l1.4 -0.4 1.4 -0.7 1.4 -0.8 1.4 -0.4 1.4 0.5 1.4 0.7 1.4 0.3 1.4 -0.3 1.4 -0.5 1.4 -0.2 1.4 0.2 1.4 -0.2 1.4 -1.4 1.4 -2 1.4 -0.9 1.4 1.2 1.4 2.2 1.4 1.5 1.4 0 1.4 -1.1 1.4 -1.2 1.4 -0.2 1.4 1.1 1.4 1.3 1.4 0.9 1.4 0.4" fill="none" stroke="#9fcf45" stroke-width="1.25"/>
<path d="M695.25 1137.4l1.4 -0.7 1.4 -2.2 1.4 -5.6 1.4 -8.2 1.4 -5.4 1.4 2.4 1.4 7.9 1.4 7 1.4 3.5 1.4 1.3M712.05 1137.4l1.4 -0.8 1.4 -2.5 1.4 -5.6 1.4 -7.2 1.4 -3.5 1.4 3.5 1.4 7.2 1.4 5.6 1.4 2.5 1.4 0.8M735.85 1137.4l1.4 -0.3 1.4 -1 1.4 -3.3 1.4 -6.3 1.4 -6.4 1.4 -1.3 1.4 5.2 1.4 6.9 1.4 4.4 1.4 1.6 1.4 0.5M761.05 1137.4l1.4 -0.6 1.4 -2.2 1.4 -5.7 1.4 -9.2 1.4 -7.1 1.4 1.4 1.4 8.5 1.4 8.5 1.4 4.6 1.4 1.4 1.4 0.4M959.85 1137.4l1.4 -0.5 1.4 -1.4 1.4 -2.7 1.4 -3 1.4 -0.8 1.4 2 1.4 2.8 1.4 1.1 1.4 -1.2 1.4 -1.7 1.4 -0.3 1.4 1.6 1.4 2.1 1.4 1.4 1.4 0.6M985.05 1137.4l1.4 -0.4 1.4 -0.9 1.4 -1.6 1.4 -1.3 1.4 0.1 1.4 1.4 1.4 1.5 1.4 0.8 1.4 0.4M1042.45 1137.4l1.4 -0.7 1.4 -1.9 1.4 -3.5 1.4 -3.6 1.4 -0.8 1.4 2.7 1.4 3.4 1.4 1.3 1.4 -0.9 1.4 -1.1 1.4 0.6 1.4 1.7 1.4 1.7 1.4 0.8 1.4 0.3M1077.45 1137.4l1.4 -0.7 1.4 -0.6 1.4 -0.5 1.4 0.2 1.4 0.4 1.4 0.1 1.4 -1 1.4 -1.8 1.4 -1.1 1.4 0.6 1.4 1.8 1.4 1.6 1.4 0.7 1.4 0.3M1101.25 1137.4l1.4 -0.8 1.4 -1.2 1.4 -1.5 1.4 -0.7 1.4 0.8 1.4 1.3 1.4 0.5 1.4 -1 1.4 -1.6 1.4 -0.6 1.4 1.2 1.4 1.7 1.4 1.2 1.4 0.7M1133.45 1137.4l1.4 -0.5 1.4 -1.3 1.4 -2.3 1.4 -2.3 1.4 -0.3 1.4 1.9 1.4 2.1 1.4 0.5 1.4 -1.1 1.4 -1.2 1.4 0 1.4 0.9 1.4 -0.1 1.4 -1.7 1.4 -1.7 1.4 0.5 1.4 2.5 1.4 2.4 1.4 1.2 1.4 0.5M1167.05 1137.4l1.4 -0.6 1.4 -1.2 1.4 -1.5 1.4 -0.8 1.4 0.6 1.4 1.5 1.4 1.2 1.4 0.8M1190.85 1137.4l1.4 -0.6 1.4 -1.4 1.4 -3 1.4 -3.1 1.4 -0.9 1.4 2.3 1.4 3.4 1.4 2.2 1.4 0.8 1.4 0.3" fill="none" stroke="#1a1a1a" stroke-width="1.25"/>
<path d="M678.45 1137.4l1.4 -0.5 1.4 -1.9 1.4 -5.1 1.4 -8.5 1.4 -7.1 1.4 0.5 1.4 7.3 1.4 6.2 1.4 -0.8 1.4 -6.9 1.4 -6 1.4 1.7 1.4 7.8 1.4 7.7 1.4 4 1.4 1.3 1.4 0.3M744.25 1137.4l1.4 -0.3 1.4 -1.2 1.4 -3.7 1.4 -6.5 1.4 -6.2 1.4 -0.4 1.4 5.6 1.4 6.8 1.4 4 1.4 1.5 1.4 0.4M803.05 1137.4l1.4 -1.3 1.4 -3.5 1.4 -7.1 1.4 -8.1 1.4 -2.7 1.4 5.4 1.4 8.4 1.4 5.8 1.4 2.4 1.4 0.7M892.65 1137.4l1.4 -0.3 1.4 -1.1 1.4 -3.5 1.4 -6.4 1.4 -6.4 1.4 -0.9 1.4 5.4 1.4 6.9 1.4 4.3 1.4 1.6 1.4 0.4M909.45 1137.4l1.4 -0.4 1.4 -1.6 1.4 -4.2 1.4 -7.1 1.4 -5.8 1.4 0.6 1.4 5.9 1.4 4.8 1.4 -1.6 1.4 -6.9 1.4 -5.8 1.4 1.7 1.4 7.7 1.4 7.4 1.4 3.8 1.4 1.2 1.4 0.3M951.45 1137.4l1.4 -0.4 1.4 -1 1.4 -2.1 1.4 -2.6 1.4 -1 1.4 1.5 1.4 2.5 1.4 1.5 1.4 0 1.4 -0.7 1.4 -0.2 1.4 0.6 1.4 0.9 1.4 0.7 1.4 0.3M979.45 1137.4l1.4 -0.6 1.4 -0.7 1.4 -0.4 1.4 0.1 1.4 0.6 1.4 0.6 1.4 0.4M993.45 1137.4l1.4 -0.9 1.4 -1.8 1.4 -2.9 1.4 -2.2 1.4 0.5 1.4 2.5 1.4 1.8 1.4 -0.6 1.4 -2.4 1.4 -1.9 1.4 0.8 1.4 2.8 1.4 2.4 1.4 0.8 1.4 -0.2 1.4 -0.5 1.4 0.1 1.4 0.4 1.4 -0.2 1.4 -1.4 1.4 -2.1 1.4 -1.1 1.4 1 1.4 2 1.4 0.9 1.4 -1.1 1.4 -2 1.4 -0.9 1.4 1.2 1.4 2 1.4 0.6 1.4 -1.5 1.4 -2.3 1.4 -0.7 1.4 1.7 1.4 2.5 1.4 1.8 1.4 0.9M1050.85 1137.4l1.4 -0.8 1.4 -1.9 1.4 -3.6 1.4 -3.3 1.4 -0.3 1.4 3 1.4 3.5 1.4 1.7 1.4 0.1 1.4 -0.5 1.4 0 1.4 0.6 1.4 0.6 1.4 0 1.4 -0.3 1.4 0 1.4 0.3 1.4 0.5 1.4 0.4M1083.05 1137.4l1.4 -1 1.4 -2.1 1.4 -3 1.4 -2.1 1.4 0.8 1.4 2.9 1.4 2.7 1.4 1.3 1.4 0.5M1116.65 1137.4l1.4 -0.4 1.4 -1.2 1.4 -2.2 1.4 -2.4 1.4 -0.5 1.4 1.7 1.4 2.5 1.4 1.7 1.4 0.8M1160.05 1137.4l1.4 -0.5 1.4 -0.8 1.4 -0.7 1.4 -0.3 1.4 -0.2 1.4 -1.3 1.4 -2.4 1.4 -1.7 1.4 1 1.4 2.7 1.4 2.1 1.4 0.4 1.4 -1 1.4 -1.1 1.4 0.2 1.4 1.3 1.4 1.3 1.4 0.7 1.4 0.3M1207.65 1137.4l1.4 -0.9 1.4 -2.1 1.4 -3.7 1.4 -3.5 1.4 -0.1 1.4 3.3 1.4 3.8 1.4 2.2" fill="none" stroke="#3fb1e3" stroke-width="1.25"/>
<text x="694.4" y="1146.6" font-size="8.5" text-anchor="middle" fill="#555">330</text>
<text x="735.8" y="1146.6" font-size="8.5" text-anchor="middle" fill="#555">335</text>
<text x="777.2" y="1146.6" font-size="8.5" text-anchor="middle" fill="#555">340</text>
<text x="818.6" y="1146.6" font-size="8.5" text-anchor="middle" fill="#555">345</text>
<text x="860" y="1146.6" font-size="8.5" text-anchor="middle" fill="#555">350</text>
<text x="901.4" y="1146.6" font-size="8.5" text-anchor="middle" fill="#555">355</text>
<text x="942.8" y="1146.6" font-size="8.5" text-anchor="middle" fill="#555">360</text>
<text x="984.2" y="1146.6" font-size="8.5" text-anchor="middle" fill="#555">365</text>
<text x="1025.6" y="1146.6" font-size="8.5" text-anchor="middle" fill="#555">370</text>
<text x="1067" y="1146.6" font-size="8.5" text-anchor="middle" fill="#555">375</text>
<text x="1108.4" y="1146.6" font-size="8.5" text-anchor="middle" fill="#555">380</text>
<text x="1149.8" y="1146.6" font-size="8.5" text-anchor="middle" fill="#555">385</text>
<text x="1191.2" y="1146.6" font-size="8.5" text-anchor="middle" fill="#555">390</text>
<line x1="960.5" y1="1100" x2="960.5" y2="1137.4" stroke="#333" stroke-width="1.3" stroke-dasharray="3 2"/>
<text x="0" y="0" font-size="40" font-weight="bold" transform="translate(1248 767) scale(1.13 0.95)">e</text>
<polyline points="1369.28,902.77 1371.57,902.77 1373.86,902.78 1376.15,902.78 1378.44,902.78 1380.73,902.78 1383.02,902.78 1385.31,902.78 1387.6,902.78 1389.89,902.78 1392.18,902.78 1394.47,902.78 1396.76,902.78 1399.05,902.78 1401.34,902.79 1403.63,902.79 1405.92,902.79 1408.21,902.8 1410.5,902.81 1412.79,902.82 1415.08,902.83 1417.37,902.85 1419.66,902.88 1421.95,902.91 1424.24,902.95 1426.53,903.01 1428.82,903.09 1431.11,903.19 1433.4,903.33 1435.69,903.51 1437.98,903.75 1440.27,904.07 1442.56,904.5 1444.85,905.05 1447.14,905.79 1449.43,906.76 1451.72,908.04 1454.01,909.7 1456.3,911.87 1458.59,914.68 1460.88,918.27 1463.17,922.82 1465.46,928.52 1467.75,935.51 1470.04,943.93 1472.33,953.8 1474.62,965.05 1476.91,977.42 1479.2,990.55 1481.49,1003.94 1483.78,1017.06 1486.07,1029.42 1488.36,1040.64 1490.65,1050.49 1492.94,1058.89 1495.23,1065.86 1497.52,1071.53 1499.81,1076.07 1502.1,1079.64 1504.39,1082.44 1506.68,1084.59 1508.97,1086.25 1511.26,1087.52 1513.55,1088.49 1515.84,1089.22 1518.13,1089.78 1520.42,1090.2 1522.71,1090.52 1525,1090.76 1527.29,1090.94 1529.58,1091.08 1531.87,1091.18 1534.16,1091.26 1536.45,1091.32 1538.74,1091.36 1541.03,1091.39 1543.32,1091.42 1545.61,1091.44 1547.9,1091.45 1550.19,1091.46 1552.48,1091.47 1554.77,1091.47 1557.06,1091.48 1559.35,1091.48 1561.64,1091.49 1563.93,1091.49 1566.22,1091.49 1568.51,1091.49 1570.8,1091.49 1573.09,1091.49 1575.38,1091.49 1577.67,1091.49 1579.96,1091.49 1582.25,1091.49 1584.54,1091.49 1586.83,1091.49 1589.12,1091.49 1591.41,1091.49 1593.7,1091.49 1595.99,1091.49 1598.28,1091.49 1600.57,1091.49 1602.86,1091.49 1605.15,1091.49 1607.44,1091.49 1609.73,1091.49 1612.02,1091.49 1614.31,1091.49 1616.59,1091.49 1618.88,1091.49 1621.17,1091.49 1623.46,1091.49 1625.75,1091.49 1628.04,1091.49 1630.33,1091.49 1632.62,1091.49 1634.91,1091.49 1637.2,1091.49 1639.49,1091.49 1641.78,1091.49 1644.07,1091.49" fill="none" stroke="#111111" stroke-width="2.6"/>
<polyline points="1369.28,911.13 1371.57,911.75 1373.86,912.43 1376.15,913.18 1378.44,914.01 1380.73,914.93 1383.02,915.93 1385.31,917.04 1387.6,918.25 1389.89,919.57 1392.18,921.03 1394.47,922.61 1396.76,924.34 1399.05,926.22 1401.34,928.26 1403.63,930.47 1405.92,932.85 1408.21,935.42 1410.5,938.17 1412.79,941.12 1415.08,944.26 1417.37,947.59 1419.66,951.12 1421.95,954.83 1424.24,958.73 1426.53,962.8 1428.82,967.02 1431.11,971.39 1433.4,975.88 1435.69,980.47 1437.98,985.13 1440.27,989.85 1442.56,994.6 1444.85,999.35 1447.14,1004.07 1449.43,1008.74 1451.72,1013.32 1454.01,1017.81 1456.3,1022.18 1458.59,1026.4 1460.88,1030.46 1463.17,1034.36 1465.46,1038.07 1467.75,1041.6 1470.04,1044.93 1472.33,1048.07 1474.62,1051.01 1476.91,1053.76 1479.2,1056.33 1481.49,1058.71 1483.78,1060.91 1486.07,1062.95 1488.36,1064.83 1490.65,1066.55 1492.94,1068.14 1495.23,1069.59 1497.52,1070.91 1499.81,1072.12 1502.1,1073.23 1504.39,1074.23 1506.68,1075.15 1508.97,1075.97 1511.26,1076.73 1513.55,1077.41 1515.84,1078.03 1518.13,1078.58 1520.42,1079.09 1522.71,1079.55 1525,1079.96 1527.29,1080.33 1529.58,1080.67 1531.87,1080.97 1534.16,1081.25 1536.45,1081.49 1538.74,1081.72 1541.03,1081.92 1543.32,1082.1 1545.61,1082.26 1547.9,1082.4 1550.19,1082.54 1552.48,1082.66 1554.77,1082.76 1557.06,1082.86 1559.35,1082.94 1561.64,1083.02 1563.93,1083.09 1566.22,1083.16 1568.51,1083.21 1570.8,1083.26 1573.09,1083.31 1575.38,1083.35 1577.67,1083.39 1579.96,1083.42 1582.25,1083.45 1584.54,1083.48 1586.83,1083.5 1589.12,1083.52 1591.41,1083.54 1593.7,1083.56 1595.99,1083.58 1598.28,1083.59 1600.57,1083.6 1602.86,1083.61 1605.15,1083.62 1607.44,1083.63 1609.73,1083.64 1612.02,1083.65 1614.31,1083.66 1616.59,1083.66 1618.88,1083.67 1621.17,1083.67 1623.46,1083.68 1625.75,1083.68 1628.04,1083.69 1630.33,1083.69 1632.62,1083.69 1634.91,1083.69 1637.2,1083.7 1639.49,1083.7 1641.78,1083.7 1644.07,1083.7" fill="none" stroke="#e2331f" stroke-width="2.6"/>
<polyline points="1369.28,909.06 1371.57,911.53 1373.86,914.14 1376.15,916.89 1378.44,919.79 1380.73,922.82 1383.02,926 1385.31,929.32 1387.6,932.77 1389.89,936.36 1392.18,940.08 1394.47,943.91 1396.76,947.86 1399.05,951.91 1401.34,956.05 1403.63,960.27 1405.92,964.55 1408.21,968.89 1410.5,973.26 1412.79,977.66 1415.08,982.06 1417.37,986.45 1419.66,990.82 1421.95,995.14 1424.24,999.42 1426.53,1003.62 1428.82,1007.74 1431.11,1011.77 1433.4,1015.69 1435.69,1019.51 1437.98,1023.2 1440.27,1026.76 1442.56,1030.18 1444.85,1033.47 1447.14,1036.62 1449.43,1039.63 1451.72,1042.49 1454.01,1045.21 1456.3,1047.79 1458.59,1050.23 1460.88,1052.54 1463.17,1054.71 1465.46,1056.75 1467.75,1058.67 1470.04,1060.48 1472.33,1062.16 1474.62,1063.74 1476.91,1065.21 1479.2,1066.59 1481.49,1067.87 1483.78,1069.06 1486.07,1070.17 1488.36,1071.2 1490.65,1072.16 1492.94,1073.05 1495.23,1073.87 1497.52,1074.63 1499.81,1075.34 1502.1,1075.99 1504.39,1076.59 1506.68,1077.15 1508.97,1077.67 1511.26,1078.14 1513.55,1078.58 1515.84,1078.99 1518.13,1079.37 1520.42,1079.71 1522.71,1080.03 1525,1080.32 1527.29,1080.59 1529.58,1080.84 1531.87,1081.07 1534.16,1081.28 1536.45,1081.48 1538.74,1081.66 1541.03,1081.82 1543.32,1081.97 1545.61,1082.11 1547.9,1082.24 1550.19,1082.36 1552.48,1082.47 1554.77,1082.57 1557.06,1082.66 1559.35,1082.75 1561.64,1082.83 1563.93,1082.9 1566.22,1082.96 1568.51,1083.02 1570.8,1083.08 1573.09,1083.13 1575.38,1083.18 1577.67,1083.22 1579.96,1083.26 1582.25,1083.3 1584.54,1083.33 1586.83,1083.36 1589.12,1083.39 1591.41,1083.42 1593.7,1083.44 1595.99,1083.46 1598.28,1083.49 1600.57,1083.5 1602.86,1083.52 1605.15,1083.54 1607.44,1083.55 1609.73,1083.56 1612.02,1083.58 1614.31,1083.59 1616.59,1083.6 1618.88,1083.61 1621.17,1083.62 1623.46,1083.63 1625.75,1083.63 1628.04,1083.64 1630.33,1083.65 1632.62,1083.65 1634.91,1083.66 1637.2,1083.66 1639.49,1083.67 1641.78,1083.67 1644.07,1083.67" fill="none" stroke="#e2331f" stroke-width="2.6"/>
<line x1="1369.59" y1="909.22" x2="1369.59" y2="897.84" stroke="#111111" stroke-width="2.2"/>
<line x1="1362.59" y1="909.22" x2="1376.59" y2="909.22" stroke="#111111" stroke-width="2.2"/>
<line x1="1362.59" y1="897.84" x2="1376.59" y2="897.84" stroke="#111111" stroke-width="2.2"/>
<line x1="1404.3" y1="901.64" x2="1404.3" y2="884.57" stroke="#111111" stroke-width="2.2"/>
<line x1="1397.3" y1="901.64" x2="1411.3" y2="901.64" stroke="#111111" stroke-width="2.2"/>
<line x1="1397.3" y1="884.57" x2="1411.3" y2="884.57" stroke="#111111" stroke-width="2.2"/>
<line x1="1451.54" y1="947.16" x2="1451.54" y2="884.57" stroke="#111111" stroke-width="2.2"/>
<line x1="1444.54" y1="947.16" x2="1458.54" y2="947.16" stroke="#111111" stroke-width="2.2"/>
<line x1="1444.54" y1="884.57" x2="1458.54" y2="884.57" stroke="#111111" stroke-width="2.2"/>
<line x1="1487.27" y1="1057.16" x2="1487.27" y2="1034.4" stroke="#111111" stroke-width="2.2"/>
<line x1="1480.27" y1="1057.16" x2="1494.27" y2="1057.16" stroke="#111111" stroke-width="2.2"/>
<line x1="1480.27" y1="1034.4" x2="1494.27" y2="1034.4" stroke="#111111" stroke-width="2.2"/>
<line x1="1523" y1="1093.2" x2="1523" y2="1078.03" stroke="#111111" stroke-width="2.2"/>
<line x1="1516" y1="1093.2" x2="1530" y2="1093.2" stroke="#111111" stroke-width="2.2"/>
<line x1="1516" y1="1078.03" x2="1530" y2="1078.03" stroke="#111111" stroke-width="2.2"/>
<line x1="1369.59" y1="926.29" x2="1369.59" y2="878.88" stroke="#ef7f80" stroke-width="2.2"/>
<line x1="1362.59" y1="926.29" x2="1376.59" y2="926.29" stroke="#ef7f80" stroke-width="2.2"/>
<line x1="1362.59" y1="878.88" x2="1376.59" y2="878.88" stroke="#ef7f80" stroke-width="2.2"/>
<line x1="1404.3" y1="958.54" x2="1404.3" y2="933.88" stroke="#ef7f80" stroke-width="2.2"/>
<line x1="1397.3" y1="958.54" x2="1411.3" y2="958.54" stroke="#ef7f80" stroke-width="2.2"/>
<line x1="1397.3" y1="933.88" x2="1411.3" y2="933.88" stroke="#ef7f80" stroke-width="2.2"/>
<line x1="1451.54" y1="1024.92" x2="1451.54" y2="1000.26" stroke="#ef7f80" stroke-width="2.2"/>
<line x1="1444.54" y1="1024.92" x2="1458.54" y2="1024.92" stroke="#ef7f80" stroke-width="2.2"/>
<line x1="1444.54" y1="1000.26" x2="1458.54" y2="1000.26" stroke="#ef7f80" stroke-width="2.2"/>
<line x1="1487.27" y1="1087.51" x2="1487.27" y2="1076.13" stroke="#ef7f80" stroke-width="2.2"/>
<line x1="1480.27" y1="1087.51" x2="1494.27" y2="1087.51" stroke="#ef7f80" stroke-width="2.2"/>
<line x1="1480.27" y1="1076.13" x2="1494.27" y2="1076.13" stroke="#ef7f80" stroke-width="2.2"/>
<line x1="1641.7" y1="1089.41" x2="1641.7" y2="1079.92" stroke="#ef7f80" stroke-width="2.2"/>
<line x1="1634.7" y1="1089.41" x2="1648.7" y2="1089.41" stroke="#ef7f80" stroke-width="2.2"/>
<line x1="1634.7" y1="1079.92" x2="1648.7" y2="1079.92" stroke="#ef7f80" stroke-width="2.2"/>
<line x1="1404.3" y1="990.78" x2="1404.3" y2="966.12" stroke="#e2331f" stroke-width="2.2"/>
<line x1="1397.3" y1="990.78" x2="1411.3" y2="990.78" stroke="#e2331f" stroke-width="2.2"/>
<line x1="1397.3" y1="966.12" x2="1411.3" y2="966.12" stroke="#e2331f" stroke-width="2.2"/>
<line x1="1610.88" y1="1083.72" x2="1610.88" y2="1072.34" stroke="#e2331f" stroke-width="2.2"/>
<line x1="1603.88" y1="1083.72" x2="1617.88" y2="1083.72" stroke="#e2331f" stroke-width="2.2"/>
<line x1="1603.88" y1="1072.34" x2="1617.88" y2="1072.34" stroke="#e2331f" stroke-width="2.2"/>
<polygon points="1369.59,901.13 1374.55,907.33 1369.59,913.53 1364.63,907.33" fill="#e2331f"/>
<polygon points="1404.3,973.2 1409.26,979.4 1404.3,985.6 1399.34,979.4" fill="#e2331f"/>
<polygon points="1451.54,1035.79 1456.5,1041.99 1451.54,1048.19 1446.58,1041.99" fill="#e2331f"/>
<polygon points="1487.27,1075.62 1492.23,1081.82 1487.27,1088.02 1482.31,1081.82" fill="#e2331f"/>
<polygon points="1523,1077.52 1527.96,1083.72 1523,1089.92 1518.04,1083.72" fill="#e2331f"/>
<polygon points="1563.65,1077.52 1568.61,1083.72 1563.65,1089.92 1558.69,1083.72" fill="#e2331f"/>
<polygon points="1610.88,1071.83 1615.84,1078.03 1610.88,1084.23 1605.92,1078.03" fill="#e2331f"/>
<polygon points="1641.7,1081.31 1646.66,1087.51 1641.7,1093.71 1636.74,1087.51" fill="#e2331f"/>
<polygon points="1363.39,898.88 1375.79,898.88 1369.59,908.8" fill="#ef7f80"/>
<polygon points="1398.1,940.61 1410.5,940.61 1404.3,950.53" fill="#ef7f80"/>
<polygon points="1445.34,1005.1 1457.74,1005.1 1451.54,1015.02" fill="#ef7f80"/>
<polygon points="1481.07,1077.17 1493.47,1077.17 1487.27,1087.09" fill="#ef7f80"/>
<polygon points="1516.8,1079.07 1529.2,1079.07 1523,1088.99" fill="#ef7f80"/>
<polygon points="1557.45,1080.96 1569.85,1080.96 1563.65,1090.88" fill="#ef7f80"/>
<polygon points="1604.68,1079.07 1617.08,1079.07 1610.88,1088.99" fill="#ef7f80"/>
<polygon points="1635.5,1080.96 1647.9,1080.96 1641.7,1090.88" fill="#ef7f80"/>
<circle cx="1369.59" cy="903.53" r="5.6" fill="#111111"/>
<circle cx="1404.3" cy="894.05" r="5.6" fill="#111111"/>
<circle cx="1451.54" cy="916.81" r="5.6" fill="#111111"/>
<circle cx="1487.27" cy="1045.78" r="5.6" fill="#111111"/>
<circle cx="1523" cy="1085.61" r="5.6" fill="#111111"/>
<circle cx="1563.65" cy="1093.2" r="5.6" fill="#111111"/>
<circle cx="1610.88" cy="1093.2" r="5.6" fill="#111111"/>
<circle cx="1641.7" cy="1093.2" r="5.6" fill="#111111"/>
<line x1="1369.3" y1="808.7" x2="1369.3" y2="1094.2" stroke="#000" stroke-width="1.6"/>
<line x1="1356.3" y1="1093.2" x2="1662" y2="1093.2" stroke="#000" stroke-width="1.6"/>
<line x1="1356.3" y1="1093.2" x2="1369.3" y2="1093.2" stroke="#000" stroke-width="1.6"/>
<text x="1353.3" y="1100.4" font-size="20" text-anchor="end">0</text>
<line x1="1356.3" y1="998.37" x2="1369.3" y2="998.37" stroke="#000" stroke-width="1.6"/>
<text x="1353.3" y="1005.57" font-size="20" text-anchor="end">50</text>
<line x1="1356.3" y1="903.53" x2="1369.3" y2="903.53" stroke="#000" stroke-width="1.6"/>
<text x="1353.3" y="910.73" font-size="20" text-anchor="end">100</text>
<line x1="1356.3" y1="808.7" x2="1369.3" y2="808.7" stroke="#000" stroke-width="1.6"/>
<text x="1353.3" y="815.9" font-size="20" text-anchor="end">150</text>
<line x1="1377.97" y1="1093.2" x2="1377.97" y2="1100.2" stroke="#000" stroke-width="1.3"/>
<line x1="1385.91" y1="1093.2" x2="1385.91" y2="1100.2" stroke="#000" stroke-width="1.3"/>
<line x1="1392.8" y1="1093.2" x2="1392.8" y2="1100.2" stroke="#000" stroke-width="1.3"/>
<line x1="1398.87" y1="1093.2" x2="1398.87" y2="1100.2" stroke="#000" stroke-width="1.3"/>
<line x1="1404.3" y1="1093.2" x2="1404.3" y2="1105.2" stroke="#000" stroke-width="1.6"/>
<line x1="1440.03" y1="1093.2" x2="1440.03" y2="1100.2" stroke="#000" stroke-width="1.3"/>
<line x1="1460.93" y1="1093.2" x2="1460.93" y2="1100.2" stroke="#000" stroke-width="1.3"/>
<line x1="1475.76" y1="1093.2" x2="1475.76" y2="1100.2" stroke="#000" stroke-width="1.3"/>
<line x1="1487.27" y1="1093.2" x2="1487.27" y2="1100.2" stroke="#000" stroke-width="1.3"/>
<line x1="1496.67" y1="1093.2" x2="1496.67" y2="1100.2" stroke="#000" stroke-width="1.3"/>
<line x1="1504.61" y1="1093.2" x2="1504.61" y2="1100.2" stroke="#000" stroke-width="1.3"/>
<line x1="1511.5" y1="1093.2" x2="1511.5" y2="1100.2" stroke="#000" stroke-width="1.3"/>
<line x1="1517.57" y1="1093.2" x2="1517.57" y2="1100.2" stroke="#000" stroke-width="1.3"/>
<line x1="1523" y1="1093.2" x2="1523" y2="1105.2" stroke="#000" stroke-width="1.6"/>
<line x1="1558.73" y1="1093.2" x2="1558.73" y2="1100.2" stroke="#000" stroke-width="1.3"/>
<line x1="1579.63" y1="1093.2" x2="1579.63" y2="1100.2" stroke="#000" stroke-width="1.3"/>
<line x1="1594.46" y1="1093.2" x2="1594.46" y2="1100.2" stroke="#000" stroke-width="1.3"/>
<line x1="1605.97" y1="1093.2" x2="1605.97" y2="1100.2" stroke="#000" stroke-width="1.3"/>
<line x1="1615.37" y1="1093.2" x2="1615.37" y2="1100.2" stroke="#000" stroke-width="1.3"/>
<line x1="1623.31" y1="1093.2" x2="1623.31" y2="1100.2" stroke="#000" stroke-width="1.3"/>
<line x1="1630.2" y1="1093.2" x2="1630.2" y2="1100.2" stroke="#000" stroke-width="1.3"/>
<line x1="1636.27" y1="1093.2" x2="1636.27" y2="1100.2" stroke="#000" stroke-width="1.3"/>
<line x1="1641.7" y1="1093.2" x2="1641.7" y2="1105.2" stroke="#000" stroke-width="1.6"/>
<g fill="#111"><circle cx="1369.28" cy="1093.2" r="2.3"/><circle cx="1379.68" cy="1093.2" r="2.3"/><circle cx="1390.08" cy="1093.2" r="2.3"/><circle cx="1400.48" cy="1093.2" r="2.3"/><circle cx="1410.88" cy="1093.2" r="2.3"/><circle cx="1421.28" cy="1093.2" r="2.3"/><circle cx="1431.68" cy="1093.2" r="2.3"/><circle cx="1442.08" cy="1093.2" r="2.3"/><circle cx="1452.48" cy="1093.2" r="2.3"/><circle cx="1462.88" cy="1093.2" r="2.3"/><circle cx="1473.28" cy="1093.2" r="2.3"/><circle cx="1483.68" cy="1093.2" r="2.3"/><circle cx="1494.08" cy="1093.2" r="2.3"/><circle cx="1504.48" cy="1093.2" r="2.3"/><circle cx="1514.88" cy="1093.2" r="2.3"/><circle cx="1525.28" cy="1093.2" r="2.3"/><circle cx="1535.68" cy="1093.2" r="2.3"/><circle cx="1546.08" cy="1093.2" r="2.3"/><circle cx="1556.48" cy="1093.2" r="2.3"/><circle cx="1566.88" cy="1093.2" r="2.3"/><circle cx="1577.28" cy="1093.2" r="2.3"/><circle cx="1587.68" cy="1093.2" r="2.3"/><circle cx="1598.08" cy="1093.2" r="2.3"/><circle cx="1608.48" cy="1093.2" r="2.3"/><circle cx="1618.88" cy="1093.2" r="2.3"/><circle cx="1629.28" cy="1093.2" r="2.3"/><circle cx="1639.68" cy="1093.2" r="2.3"/><circle cx="1650.08" cy="1093.2" r="2.3"/><circle cx="1660.48" cy="1093.2" r="2.3"/></g>
<text x="1404.3" y="1127.4" font-size="21" text-anchor="middle">0.1</text>
<text x="1523" y="1127.4" font-size="21" text-anchor="middle">1</text>
<text x="1641.7" y="1127.4" font-size="21" text-anchor="middle">10</text>
<text x="1381.4" y="814" font-size="27">HPAC</text>
<line x1="1527" y1="802" x2="1562" y2="802" stroke="#111111" stroke-width="2.4"/>
<circle cx="1544.5" cy="802" r="5.6" fill="#111111"/>
<text x="1579" y="810.5" font-size="24">sgNT</text>
<line x1="1527" y1="832" x2="1562" y2="832" stroke="#e2331f" stroke-width="2.4"/>
<polygon points="1538.3,827.35 1550.7,827.35 1544.5,837.27" fill="#ef7f80"/>
<text x="1579" y="840.5" font-size="24">sgSC5D_1</text>
<line x1="1527" y1="866" x2="1562" y2="866" stroke="#e2331f" stroke-width="2.4"/>
<polygon points="1544.5,859.8 1549.46,866 1544.5,872.2 1539.54,866" fill="#e2331f"/>
<text x="1579" y="874.5" font-size="24">sgSC5D_2</text>
<text x="1295.8" y="961" font-size="28.4" text-anchor="middle" transform="rotate(-90 1295.8 961)" dy="10.22">Confluency (%)</text>
<text x="1508" y="1156.4" font-size="25" text-anchor="middle">log<tspan font-size="16" dy="6">10</tspan><tspan dy="-6"> [RSL3 μM]</tspan></text>
<polyline points="1829.3,919.17 1831.37,919.17 1833.43,919.18 1835.5,919.18 1837.56,919.18 1839.63,919.18 1841.69,919.19 1843.76,919.19 1845.82,919.2 1847.89,919.2 1849.95,919.2 1852.02,919.21 1854.09,919.21 1856.15,919.22 1858.22,919.23 1860.28,919.23 1862.35,919.24 1864.41,919.25 1866.48,919.26 1868.54,919.27 1870.61,919.28 1872.68,919.29 1874.74,919.3 1876.81,919.31 1878.87,919.33 1880.94,919.34 1883,919.36 1885.07,919.38 1887.13,919.4 1889.2,919.42 1891.26,919.45 1893.33,919.47 1895.4,919.5 1897.46,919.53 1899.53,919.56 1901.59,919.6 1903.66,919.64 1905.72,919.68 1907.79,919.73 1909.85,919.78 1911.92,919.83 1913.99,919.89 1916.05,919.95 1918.12,920.02 1920.18,920.1 1922.25,920.18 1924.31,920.27 1926.38,920.37 1928.44,920.47 1930.51,920.58 1932.58,920.71 1934.64,920.84 1936.71,920.98 1938.77,921.14 1940.84,921.31 1942.9,921.5 1944.97,921.7 1947.03,921.91 1949.1,922.15 1951.16,922.4 1953.23,922.68 1955.3,922.98 1957.36,923.3 1959.43,923.65 1961.49,924.03 1963.56,924.43 1965.62,924.88 1967.69,925.35 1969.75,925.87 1971.82,926.43 1973.88,927.03 1975.95,927.67 1978.02,928.37 1980.08,929.12 1982.15,929.93 1984.21,930.8 1986.28,931.73 1988.34,932.73 1990.41,933.8 1992.47,934.95 1994.54,936.18 1996.61,937.5 1998.67,938.9 2000.74,940.4 2002.8,941.99 2004.87,943.68 2006.93,945.48 2009,947.38 2011.06,949.39 2013.13,951.5 2015.19,953.74 2017.26,956.08 2019.33,958.54 2021.39,961.11 2023.46,963.79 2025.52,966.58 2027.59,969.47 2029.65,972.47 2031.72,975.56 2033.78,978.74 2035.85,982 2037.92,985.33 2039.98,988.73 2042.05,992.18 2044.11,995.67 2046.18,999.19 2048.24,1002.73 2050.31,1006.28 2052.37,1009.82 2054.44,1013.35 2056.51,1016.85 2058.57,1020.3 2060.64,1023.71 2062.7,1027.05 2064.77,1030.32 2066.83,1033.51 2068.9,1036.62 2070.96,1039.63 2073.03,1042.54 2075.09,1045.34 2077.16,1048.04" fill="none" stroke="#111111" stroke-width="2.6"/>
<polyline points="1829.3,894.54 1831.37,894.6 1833.43,894.66 1835.5,894.73 1837.56,894.8 1839.63,894.88 1841.69,894.97 1843.76,895.06 1845.82,895.17 1847.89,895.28 1849.95,895.4 1852.02,895.54 1854.09,895.68 1856.15,895.84 1858.22,896.01 1860.28,896.2 1862.35,896.41 1864.41,896.63 1866.48,896.87 1868.54,897.13 1870.61,897.42 1872.68,897.73 1874.74,898.06 1876.81,898.43 1878.87,898.83 1880.94,899.26 1883,899.72 1885.07,900.23 1887.13,900.78 1889.2,901.38 1891.26,902.02 1893.33,902.71 1895.4,903.47 1897.46,904.28 1899.53,905.16 1901.59,906.1 1903.66,907.12 1905.72,908.22 1907.79,909.4 1909.85,910.66 1911.92,912.02 1913.99,913.48 1916.05,915.03 1918.12,916.69 1920.18,918.46 1922.25,920.35 1924.31,922.35 1926.38,924.47 1928.44,926.72 1930.51,929.09 1932.58,931.59 1934.64,934.21 1936.71,936.96 1938.77,939.84 1940.84,942.83 1942.9,945.94 1944.97,949.16 1947.03,952.49 1949.1,955.91 1951.16,959.43 1953.23,963.02 1955.3,966.67 1957.36,970.39 1959.43,974.14 1961.49,977.92 1963.56,981.72 1965.62,985.51 1967.69,989.29 1969.75,993.05 1971.82,996.76 1973.88,1000.41 1975.95,1004 1978.02,1007.52 1980.08,1010.94 1982.15,1014.27 1984.21,1017.49 1986.28,1020.6 1988.34,1023.59 1990.41,1026.46 1992.47,1029.21 1994.54,1031.83 1996.61,1034.33 1998.67,1036.7 2000.74,1038.94 2002.8,1041.07 2004.87,1043.07 2006.93,1044.95 2009,1046.72 2011.06,1048.38 2013.13,1049.94 2015.19,1051.39 2017.26,1052.75 2019.33,1054.01 2021.39,1055.19 2023.46,1056.29 2025.52,1057.3 2027.59,1058.25 2029.65,1059.13 2031.72,1059.94 2033.78,1060.69 2035.85,1061.39 2037.92,1062.03 2039.98,1062.62 2042.05,1063.17 2044.11,1063.68 2046.18,1064.14 2048.24,1064.58 2050.31,1064.97 2052.37,1065.34 2054.44,1065.67 2056.51,1065.98 2058.57,1066.27 2060.64,1066.53 2062.7,1066.77 2064.77,1066.99 2066.83,1067.2 2068.9,1067.39 2070.96,1067.56 2073.03,1067.72 2075.09,1067.86 2077.16,1068" fill="none" stroke="#e2331f" stroke-width="2.6"/>
<polyline points="1829.3,910.4 1831.37,911.21 1833.43,912.08 1835.5,913.02 1837.56,914.03 1839.63,915.12 1841.69,916.3 1843.76,917.56 1845.82,918.92 1847.89,920.38 1849.95,921.94 1852.02,923.6 1854.09,925.38 1856.15,927.28 1858.22,929.29 1860.28,931.43 1862.35,933.69 1864.41,936.09 1866.48,938.61 1868.54,941.25 1870.61,944.03 1872.68,946.93 1874.74,949.95 1876.81,953.1 1878.87,956.35 1880.94,959.71 1883,963.16 1885.07,966.7 1887.13,970.32 1889.2,974 1891.26,977.73 1893.33,981.5 1895.4,985.29 1897.46,989.08 1899.53,992.87 1901.59,996.64 1903.66,1000.38 1905.72,1004.06 1907.79,1007.69 1909.85,1011.24 1911.92,1014.7 1913.99,1018.07 1916.05,1021.33 1918.12,1024.49 1920.18,1027.52 1922.25,1030.44 1924.31,1033.23 1926.38,1035.89 1928.44,1038.42 1930.51,1040.82 1932.58,1043.1 1934.64,1045.25 1936.71,1047.28 1938.77,1049.19 1940.84,1050.98 1942.9,1052.65 1944.97,1054.22 1947.03,1055.69 1949.1,1057.06 1951.16,1058.33 1953.23,1059.52 1955.3,1060.62 1957.36,1061.64 1959.43,1062.58 1961.49,1063.46 1963.56,1064.27 1965.62,1065.02 1967.69,1065.72 1969.75,1066.35 1971.82,1066.94 1973.88,1067.49 1975.95,1067.99 1978.02,1068.45 1980.08,1068.88 1982.15,1069.27 1984.21,1069.63 1986.28,1069.96 1988.34,1070.26 1990.41,1070.54 1992.47,1070.8 1994.54,1071.03 1996.61,1071.25 1998.67,1071.45 2000.74,1071.63 2002.8,1071.8 2004.87,1071.95 2006.93,1072.09 2009,1072.22 2011.06,1072.34 2013.13,1072.45 2015.19,1072.55 2017.26,1072.64 2019.33,1072.72 2021.39,1072.8 2023.46,1072.87 2025.52,1072.93 2027.59,1072.99 2029.65,1073.05 2031.72,1073.1 2033.78,1073.14 2035.85,1073.18 2037.92,1073.22 2039.98,1073.26 2042.05,1073.29 2044.11,1073.32 2046.18,1073.34 2048.24,1073.37 2050.31,1073.39 2052.37,1073.41 2054.44,1073.43 2056.51,1073.45 2058.57,1073.46 2060.64,1073.48 2062.7,1073.49 2064.77,1073.5 2066.83,1073.51 2068.9,1073.52 2070.96,1073.53 2073.03,1073.54 2075.09,1073.55 2077.16,1073.56" fill="none" stroke="#e2331f" stroke-width="2.6"/>
<line x1="1893.47" y1="919.15" x2="1893.47" y2="899.32" stroke="#111111" stroke-width="2.2"/>
<line x1="1886.47" y1="919.15" x2="1900.47" y2="919.15" stroke="#111111" stroke-width="2.2"/>
<line x1="1886.47" y1="899.32" x2="1900.47" y2="899.32" stroke="#111111" stroke-width="2.2"/>
<line x1="1921.1" y1="920.95" x2="1921.1" y2="908.33" stroke="#111111" stroke-width="2.2"/>
<line x1="1914.1" y1="920.95" x2="1928.1" y2="920.95" stroke="#111111" stroke-width="2.2"/>
<line x1="1914.1" y1="908.33" x2="1928.1" y2="908.33" stroke="#111111" stroke-width="2.2"/>
<line x1="1948.73" y1="975.03" x2="1948.73" y2="929.96" stroke="#111111" stroke-width="2.2"/>
<line x1="1941.73" y1="975.03" x2="1955.73" y2="975.03" stroke="#111111" stroke-width="2.2"/>
<line x1="1941.73" y1="929.96" x2="1955.73" y2="929.96" stroke="#111111" stroke-width="2.2"/>
<line x1="1985.27" y1="962.41" x2="1985.27" y2="942.58" stroke="#111111" stroke-width="2.2"/>
<line x1="1978.27" y1="962.41" x2="1992.27" y2="962.41" stroke="#111111" stroke-width="2.2"/>
<line x1="1978.27" y1="942.58" x2="1992.27" y2="942.58" stroke="#111111" stroke-width="2.2"/>
<line x1="2049.43" y1="1002.07" x2="2049.43" y2="982.24" stroke="#111111" stroke-width="2.2"/>
<line x1="2042.43" y1="1002.07" x2="2056.43" y2="1002.07" stroke="#111111" stroke-width="2.2"/>
<line x1="2042.43" y1="982.24" x2="2056.43" y2="982.24" stroke="#111111" stroke-width="2.2"/>
<line x1="2077.07" y1="1052.54" x2="2077.07" y2="1045.33" stroke="#111111" stroke-width="2.2"/>
<line x1="2070.07" y1="1052.54" x2="2084.07" y2="1052.54" stroke="#111111" stroke-width="2.2"/>
<line x1="2070.07" y1="1045.33" x2="2084.07" y2="1045.33" stroke="#111111" stroke-width="2.2"/>
<line x1="1829.3" y1="937.17" x2="1829.3" y2="879.49" stroke="#ef7f80" stroke-width="2.2"/>
<line x1="1822.3" y1="937.17" x2="1836.3" y2="937.17" stroke="#ef7f80" stroke-width="2.2"/>
<line x1="1822.3" y1="879.49" x2="1836.3" y2="879.49" stroke="#ef7f80" stroke-width="2.2"/>
<line x1="1893.47" y1="933.57" x2="1893.47" y2="865.07" stroke="#ef7f80" stroke-width="2.2"/>
<line x1="1886.47" y1="933.57" x2="1900.47" y2="933.57" stroke="#ef7f80" stroke-width="2.2"/>
<line x1="1886.47" y1="865.07" x2="1900.47" y2="865.07" stroke="#ef7f80" stroke-width="2.2"/>
<line x1="1921.1" y1="955.2" x2="1921.1" y2="854.25" stroke="#ef7f80" stroke-width="2.2"/>
<line x1="1914.1" y1="955.2" x2="1928.1" y2="955.2" stroke="#ef7f80" stroke-width="2.2"/>
<line x1="1914.1" y1="854.25" x2="1928.1" y2="854.25" stroke="#ef7f80" stroke-width="2.2"/>
<line x1="1948.73" y1="1003.87" x2="1948.73" y2="960.61" stroke="#ef7f80" stroke-width="2.2"/>
<line x1="1941.73" y1="1003.87" x2="1955.73" y2="1003.87" stroke="#ef7f80" stroke-width="2.2"/>
<line x1="1941.73" y1="960.61" x2="1955.73" y2="960.61" stroke="#ef7f80" stroke-width="2.2"/>
<line x1="1985.27" y1="1043.53" x2="1985.27" y2="1000.27" stroke="#ef7f80" stroke-width="2.2"/>
<line x1="1978.27" y1="1043.53" x2="1992.27" y2="1043.53" stroke="#ef7f80" stroke-width="2.2"/>
<line x1="1978.27" y1="1000.27" x2="1992.27" y2="1000.27" stroke="#ef7f80" stroke-width="2.2"/>
<line x1="2012.9" y1="1057.95" x2="2012.9" y2="1014.69" stroke="#ef7f80" stroke-width="2.2"/>
<line x1="2005.9" y1="1057.95" x2="2019.9" y2="1057.95" stroke="#ef7f80" stroke-width="2.2"/>
<line x1="2005.9" y1="1014.69" x2="2019.9" y2="1014.69" stroke="#ef7f80" stroke-width="2.2"/>
<line x1="2049.43" y1="1063.36" x2="2049.43" y2="1041.73" stroke="#ef7f80" stroke-width="2.2"/>
<line x1="2042.43" y1="1063.36" x2="2056.43" y2="1063.36" stroke="#ef7f80" stroke-width="2.2"/>
<line x1="2042.43" y1="1041.73" x2="2056.43" y2="1041.73" stroke="#ef7f80" stroke-width="2.2"/>
<line x1="1829.3" y1="938.98" x2="1829.3" y2="881.29" stroke="#e2331f" stroke-width="2.2"/>
<line x1="1822.3" y1="938.98" x2="1836.3" y2="938.98" stroke="#e2331f" stroke-width="2.2"/>
<line x1="1822.3" y1="881.29" x2="1836.3" y2="881.29" stroke="#e2331f" stroke-width="2.2"/>
<line x1="1889.26" y1="991.25" x2="1889.26" y2="973.23" stroke="#e2331f" stroke-width="2.2"/>
<line x1="1882.26" y1="991.25" x2="1896.26" y2="991.25" stroke="#e2331f" stroke-width="2.2"/>
<line x1="1882.26" y1="973.23" x2="1896.26" y2="973.23" stroke="#e2331f" stroke-width="2.2"/>
<line x1="1921.1" y1="1045.33" x2="1921.1" y2="1018.29" stroke="#e2331f" stroke-width="2.2"/>
<line x1="1914.1" y1="1045.33" x2="1928.1" y2="1045.33" stroke="#e2331f" stroke-width="2.2"/>
<line x1="1914.1" y1="1018.29" x2="1928.1" y2="1018.29" stroke="#e2331f" stroke-width="2.2"/>
<line x1="1985.27" y1="1068.77" x2="1985.27" y2="1039.93" stroke="#e2331f" stroke-width="2.2"/>
<line x1="1978.27" y1="1068.77" x2="1992.27" y2="1068.77" stroke="#e2331f" stroke-width="2.2"/>
<line x1="1978.27" y1="1039.93" x2="1992.27" y2="1039.93" stroke="#e2331f" stroke-width="2.2"/>
<line x1="2012.9" y1="1083.19" x2="2012.9" y2="1059.75" stroke="#e2331f" stroke-width="2.2"/>
<line x1="2005.9" y1="1083.19" x2="2019.9" y2="1083.19" stroke="#e2331f" stroke-width="2.2"/>
<line x1="2005.9" y1="1059.75" x2="2019.9" y2="1059.75" stroke="#e2331f" stroke-width="2.2"/>
<polygon points="1829.3,907.54 1834.26,913.74 1829.3,919.94 1824.34,913.74" fill="#e2331f"/>
<polygon points="1889.26,976.04 1894.22,982.24 1889.26,988.44 1884.3,982.24" fill="#e2331f"/>
<polygon points="1921.1,1024.71 1926.06,1030.91 1921.1,1037.11 1916.14,1030.91" fill="#e2331f"/>
<polygon points="1948.73,1035.53 1953.69,1041.73 1948.73,1047.93 1943.77,1041.73" fill="#e2331f"/>
<polygon points="1985.27,1049.95 1990.23,1056.15 1985.27,1062.35 1980.31,1056.15" fill="#e2331f"/>
<polygon points="2012.9,1066.17 2017.86,1072.37 2012.9,1078.57 2007.94,1072.37" fill="#e2331f"/>
<polygon points="2049.43,1075.19 2054.39,1081.39 2049.43,1087.59 2044.47,1081.39" fill="#e2331f"/>
<polygon points="2077.07,1082.4 2082.03,1088.6 2077.07,1094.8 2072.11,1088.6" fill="#e2331f"/>
<polygon points="1823.1,905.48 1835.5,905.48 1829.3,915.4" fill="#ef7f80"/>
<polygon points="1887.27,905.48 1899.67,905.48 1893.47,915.4" fill="#ef7f80"/>
<polygon points="1914.9,900.08 1927.3,900.08 1921.1,910" fill="#ef7f80"/>
<polygon points="1942.53,977.59 1954.93,977.59 1948.73,987.51" fill="#ef7f80"/>
<polygon points="1979.07,1013.64 1991.47,1013.64 1985.27,1023.56" fill="#ef7f80"/>
<polygon points="2006.7,1028.06 2019.1,1028.06 2012.9,1037.98" fill="#ef7f80"/>
<polygon points="2043.23,1049.7 2055.63,1049.7 2049.43,1059.62" fill="#ef7f80"/>
<polygon points="2070.87,1076.74 2083.27,1076.74 2077.07,1086.66" fill="#ef7f80"/>
<circle cx="1829.3" cy="910.13" r="5.6" fill="#111111"/>
<circle cx="1893.47" cy="910.13" r="5.6" fill="#111111"/>
<circle cx="1921.1" cy="915.54" r="5.6" fill="#111111"/>
<circle cx="1948.73" cy="955.2" r="5.6" fill="#111111"/>
<circle cx="1985.27" cy="951.59" r="5.6" fill="#111111"/>
<circle cx="2012.9" cy="962.41" r="5.6" fill="#111111"/>
<circle cx="2049.43" cy="993.06" r="5.6" fill="#111111"/>
<circle cx="2077.07" cy="1050.74" r="5.6" fill="#111111"/>
<line x1="1829.3" y1="820" x2="1829.3" y2="1091.4" stroke="#000" stroke-width="1.6"/>
<line x1="1816.3" y1="1090.4" x2="2104.7" y2="1090.4" stroke="#000" stroke-width="1.6"/>
<line x1="1816.3" y1="1090.4" x2="1829.3" y2="1090.4" stroke="#000" stroke-width="1.6"/>
<text x="1813.3" y="1097.6" font-size="20" text-anchor="end">0</text>
<line x1="1816.3" y1="1000.27" x2="1829.3" y2="1000.27" stroke="#000" stroke-width="1.6"/>
<text x="1813.3" y="1007.47" font-size="20" text-anchor="end">50</text>
<line x1="1816.3" y1="910.13" x2="1829.3" y2="910.13" stroke="#000" stroke-width="1.6"/>
<text x="1813.3" y="917.33" font-size="20" text-anchor="end">100</text>
<line x1="1816.3" y1="820" x2="1829.3" y2="820" stroke="#000" stroke-width="1.6"/>
<text x="1813.3" y="827.2" font-size="20" text-anchor="end">150</text>
<line x1="1829.3" y1="1090.4" x2="1829.3" y2="1102.4" stroke="#000" stroke-width="1.6"/>
<line x1="1856.93" y1="1090.4" x2="1856.93" y2="1097.4" stroke="#000" stroke-width="1.3"/>
<line x1="1873.1" y1="1090.4" x2="1873.1" y2="1097.4" stroke="#000" stroke-width="1.3"/>
<line x1="1884.57" y1="1090.4" x2="1884.57" y2="1097.4" stroke="#000" stroke-width="1.3"/>
<line x1="1893.47" y1="1090.4" x2="1893.47" y2="1097.4" stroke="#000" stroke-width="1.3"/>
<line x1="1900.73" y1="1090.4" x2="1900.73" y2="1097.4" stroke="#000" stroke-width="1.3"/>
<line x1="1906.88" y1="1090.4" x2="1906.88" y2="1097.4" stroke="#000" stroke-width="1.3"/>
<line x1="1912.2" y1="1090.4" x2="1912.2" y2="1097.4" stroke="#000" stroke-width="1.3"/>
<line x1="1916.9" y1="1090.4" x2="1916.9" y2="1097.4" stroke="#000" stroke-width="1.3"/>
<line x1="1921.1" y1="1090.4" x2="1921.1" y2="1102.4" stroke="#000" stroke-width="1.6"/>
<line x1="1948.73" y1="1090.4" x2="1948.73" y2="1097.4" stroke="#000" stroke-width="1.3"/>
<line x1="1964.9" y1="1090.4" x2="1964.9" y2="1097.4" stroke="#000" stroke-width="1.3"/>
<line x1="1976.37" y1="1090.4" x2="1976.37" y2="1097.4" stroke="#000" stroke-width="1.3"/>
<line x1="1985.27" y1="1090.4" x2="1985.27" y2="1097.4" stroke="#000" stroke-width="1.3"/>
<line x1="1992.53" y1="1090.4" x2="1992.53" y2="1097.4" stroke="#000" stroke-width="1.3"/>
<line x1="1998.68" y1="1090.4" x2="1998.68" y2="1097.4" stroke="#000" stroke-width="1.3"/>
<line x1="2004" y1="1090.4" x2="2004" y2="1097.4" stroke="#000" stroke-width="1.3"/>
<line x1="2008.7" y1="1090.4" x2="2008.7" y2="1097.4" stroke="#000" stroke-width="1.3"/>
<line x1="2012.9" y1="1090.4" x2="2012.9" y2="1102.4" stroke="#000" stroke-width="1.6"/>
<line x1="2040.53" y1="1090.4" x2="2040.53" y2="1097.4" stroke="#000" stroke-width="1.3"/>
<line x1="2056.7" y1="1090.4" x2="2056.7" y2="1097.4" stroke="#000" stroke-width="1.3"/>
<line x1="2068.17" y1="1090.4" x2="2068.17" y2="1097.4" stroke="#000" stroke-width="1.3"/>
<line x1="2077.07" y1="1090.4" x2="2077.07" y2="1097.4" stroke="#000" stroke-width="1.3"/>
<line x1="2084.33" y1="1090.4" x2="2084.33" y2="1097.4" stroke="#000" stroke-width="1.3"/>
<line x1="2090.48" y1="1090.4" x2="2090.48" y2="1097.4" stroke="#000" stroke-width="1.3"/>
<line x1="2095.8" y1="1090.4" x2="2095.8" y2="1097.4" stroke="#000" stroke-width="1.3"/>
<line x1="2100.5" y1="1090.4" x2="2100.5" y2="1097.4" stroke="#000" stroke-width="1.3"/>
<line x1="2104.7" y1="1090.4" x2="2104.7" y2="1102.4" stroke="#000" stroke-width="1.6"/>
<g fill="#111"><circle cx="1829.3" cy="1090.4" r="2.3"/><circle cx="1839.7" cy="1090.4" r="2.3"/><circle cx="1850.1" cy="1090.4" r="2.3"/><circle cx="1860.5" cy="1090.4" r="2.3"/><circle cx="1870.9" cy="1090.4" r="2.3"/><circle cx="1881.3" cy="1090.4" r="2.3"/><circle cx="1891.7" cy="1090.4" r="2.3"/><circle cx="1902.1" cy="1090.4" r="2.3"/><circle cx="1912.5" cy="1090.4" r="2.3"/><circle cx="1922.9" cy="1090.4" r="2.3"/><circle cx="1933.3" cy="1090.4" r="2.3"/><circle cx="1943.7" cy="1090.4" r="2.3"/><circle cx="1954.1" cy="1090.4" r="2.3"/><circle cx="1964.5" cy="1090.4" r="2.3"/><circle cx="1974.9" cy="1090.4" r="2.3"/><circle cx="1985.3" cy="1090.4" r="2.3"/><circle cx="1995.7" cy="1090.4" r="2.3"/><circle cx="2006.1" cy="1090.4" r="2.3"/><circle cx="2016.5" cy="1090.4" r="2.3"/><circle cx="2026.9" cy="1090.4" r="2.3"/><circle cx="2037.3" cy="1090.4" r="2.3"/><circle cx="2047.7" cy="1090.4" r="2.3"/><circle cx="2058.1" cy="1090.4" r="2.3"/><circle cx="2068.5" cy="1090.4" r="2.3"/><circle cx="2078.9" cy="1090.4" r="2.3"/><circle cx="2089.3" cy="1090.4" r="2.3"/><circle cx="2099.7" cy="1090.4" r="2.3"/></g>
<text x="1829.3" y="1123.5" font-size="21" text-anchor="middle">0.1</text>
<text x="1921.1" y="1123.5" font-size="21" text-anchor="middle">1</text>
<text x="2012.9" y="1123.5" font-size="21" text-anchor="middle">10</text>
<text x="2104.7" y="1123.5" font-size="21" text-anchor="middle">100</text>
<text x="1843.5" y="823" font-size="27">HPAC</text>
<line x1="2001.7" y1="812" x2="2031" y2="812" stroke="#111111" stroke-width="2.4"/>
<circle cx="2016.35" cy="812" r="5.6" fill="#111111"/>
<text x="2047" y="820.5" font-size="24">sgNT</text>
<line x1="2001.7" y1="842.6" x2="2031" y2="842.6" stroke="#e2331f" stroke-width="2.4"/>
<polygon points="2010.15,837.95 2022.55,837.95 2016.35,847.87" fill="#ef7f80"/>
<text x="2047" y="851.1" font-size="24">sgSC5D_1</text>
<line x1="2001.7" y1="870.8" x2="2031" y2="870.8" stroke="#e2331f" stroke-width="2.4"/>
<polygon points="2016.35,864.6 2021.31,870.8 2016.35,877 2011.39,870.8" fill="#e2331f"/>
<text x="2047" y="879.3" font-size="24">sgSC5D_2</text>
<text x="1756.4" y="954" font-size="27.6" text-anchor="middle" transform="rotate(-90 1756.4 954)" dy="9.94">Confluency (%)</text>
<text x="1963.7" y="1150.5" font-size="26.5" text-anchor="middle">log<tspan font-size="16" dy="6">10</tspan><tspan dy="-6"> [ML210μM]</tspan></text>
<text x="0" y="0" font-size="40" font-weight="bold" transform="translate(0 1339) scale(1.13 0.95)">f</text>
<text x="193.4" y="1356" font-size="27" text-anchor="middle">sgNT</text>
<text x="457.7" y="1356" font-size="27.5" text-anchor="middle">sgSC5D_1</text>
<text x="702.6" y="1356" font-size="27.5" text-anchor="middle">sgSC5D_2</text>
<text x="32" y="1497.8" font-size="30.8" text-anchor="middle" transform="rotate(-90 32 1497.8)" dy="11">Lungs</text>
<clipPath id="lc1"><rect x="59.7" y="1367.8" width="243.7" height="242.9"/></clipPath>
<rect x="59.7" y="1367.8" width="243.7" height="242.9" fill="#dfe0e5"/>
<g clip-path="url(#lc1)"><g filter="url(#rough2)">
<polygon points="64.36,1422.83 69.71,1416.15 81.74,1414.81 89.76,1404.12 99.12,1393.42 111.15,1390.75 124.52,1377.38 137.89,1378.72 155.27,1382.73 175.32,1390.75 195.37,1400.11 215.43,1410.8 235.48,1422.83 255.53,1434.87 275.59,1442.89 303.66,1450.91 303.66,1568.56 282.27,1573.9 255.53,1579.25 228.8,1581.93 202.06,1584.6 186.02,1589.95 175.32,1587.27 156.6,1581.93 135.21,1585.94 115.16,1584.6 105.8,1573.9 99.12,1557.86 93.77,1540.48 92.43,1507.06 93.77,1487.01 96.44,1469.63 89.76,1461.6 75.05,1456.26 65.7,1440.21" fill="#9c95ba"/>
<polygon points="191.36,1611.34 196.71,1600.64 208.74,1599.3 228.8,1600.64 248.85,1601.98 255.53,1611.34" fill="#9c95ba"/>
<polygon points="282.27,1368.02 303.66,1368.02 303.66,1389.41 292.97,1378.72" fill="#9c95ba"/>
<polygon points="64.36,1422.83 69.71,1416.15 81.74,1414.81 89.76,1404.12 99.12,1393.42 111.15,1390.75 124.52,1377.38 137.89,1378.72 155.27,1382.73 175.32,1390.75 195.37,1400.11 215.43,1410.8 235.48,1422.83 255.53,1434.87 275.59,1442.89 303.66,1450.91 303.66,1568.56 282.27,1573.9 255.53,1579.25 228.8,1581.93 202.06,1584.6 186.02,1589.95 175.32,1587.27 156.6,1581.93 135.21,1585.94 115.16,1584.6 105.8,1573.9 99.12,1557.86 93.77,1540.48 92.43,1507.06 93.77,1487.01 96.44,1469.63 89.76,1461.6 75.05,1456.26 65.7,1440.21" fill="#888" filter="url(#lungTex)"/>
<polygon points="191.36,1611.34 196.71,1600.64 208.74,1599.3 228.8,1600.64 248.85,1601.98 255.53,1611.34" fill="#888" filter="url(#lungTex)"/>
<polygon points="282.27,1368.02 303.66,1368.02 303.66,1389.41 292.97,1378.72" fill="#888" filter="url(#lungTex)"/>
<polygon points="95.11,1470.96 111.15,1480.32 121.84,1493.69 148.58,1493.69 175.32,1476.31 202.06,1461.6 242.17,1470.96 282.27,1480.32 303.66,1453.58 303.66,1568.56 255.53,1579.25 202.06,1584.6 156.6,1581.93 115.16,1584.6 99.12,1557.86 93.77,1520.43" fill="#958cb2" opacity="0.75"/>
<polygon points="120.51,1417.49 129.87,1412.14 132.54,1416.15 124.52,1420.16" fill="#e2e2e8"/>
<polygon points="183.34,1440.21 190.03,1437.54 192.7,1442.89 186.02,1444.22" fill="#e2e2e8"/>
</g>
<g filter="url(#rough2)"><ellipse cx="101.79" cy="1418.82" rx="7.35" ry="22.73" fill="#938ab2" stroke="#e2402c" stroke-width="1.7" stroke-dasharray="3.2 2.2" transform="rotate(-10 101.79 1418.82)"/>
<ellipse cx="127.19" cy="1400.11" rx="12.03" ry="14.71" fill="#938ab2" stroke="#e2402c" stroke-width="1.7" stroke-dasharray="3.2 2.2"/>
<ellipse cx="76.39" cy="1442.89" rx="8.02" ry="18.72" fill="#938ab2" stroke="#e2402c" stroke-width="1.7" stroke-dasharray="3.2 2.2" transform="rotate(-30 76.39 1442.89)"/>
<ellipse cx="151.26" cy="1445.56" rx="12.7" ry="20.05" fill="#938ab2" stroke="#e2402c" stroke-width="1.7" stroke-dasharray="3.2 2.2"/>
<ellipse cx="182.01" cy="1422.83" rx="20.05" ry="12.7" fill="#938ab2" stroke="#e2402c" stroke-width="1.7" stroke-dasharray="3.2 2.2" transform="rotate(20 182.01 1422.83)"/>
<ellipse cx="212.75" cy="1434.87" rx="12.7" ry="18.72" fill="#938ab2" stroke="#e2402c" stroke-width="1.7" stroke-dasharray="3.2 2.2"/>
<ellipse cx="227.46" cy="1488.34" rx="64.17" ry="16.04" fill="#938ab2" stroke="#e2402c" stroke-width="1.7" stroke-dasharray="3.2 2.2" transform="rotate(17 227.46 1488.34)"/>
<ellipse cx="125.86" cy="1509.73" rx="17.38" ry="16.04" fill="#938ab2" stroke="#e2402c" stroke-width="1.7" stroke-dasharray="3.2 2.2"/>
<ellipse cx="175.32" cy="1519.09" rx="13.37" ry="12.7" fill="#938ab2" stroke="#e2402c" stroke-width="1.7" stroke-dasharray="3.2 2.2"/>
<ellipse cx="194.04" cy="1529.79" rx="10.03" ry="10.03" fill="#938ab2" stroke="#e2402c" stroke-width="1.7" stroke-dasharray="3.2 2.2"/>
<ellipse cx="160.61" cy="1539.14" rx="12.7" ry="14.71" fill="#938ab2" stroke="#e2402c" stroke-width="1.7" stroke-dasharray="3.2 2.2"/>
<ellipse cx="190.03" cy="1559.2" rx="30.75" ry="12.03" fill="#938ab2" stroke="#e2402c" stroke-width="1.7" stroke-dasharray="3.2 2.2"/>
<ellipse cx="254.2" cy="1519.09" rx="8.69" ry="7.35" fill="#938ab2" stroke="#e2402c" stroke-width="1.7" stroke-dasharray="3.2 2.2"/>
<ellipse cx="270.24" cy="1552.51" rx="18.72" ry="18.72" fill="#938ab2" stroke="#e2402c" stroke-width="1.7" stroke-dasharray="3.2 2.2"/>
<ellipse cx="291.63" cy="1533.8" rx="10.7" ry="32.09" fill="#938ab2" stroke="#e2402c" stroke-width="1.7" stroke-dasharray="3.2 2.2"/>
<ellipse cx="210.08" cy="1580.59" rx="12.03" ry="8.69" fill="#938ab2" stroke="#e2402c" stroke-width="1.7" stroke-dasharray="3.2 2.2"/>
<ellipse cx="275.59" cy="1581.93" rx="20.05" ry="10.03" fill="#938ab2" stroke="#e2402c" stroke-width="1.7" stroke-dasharray="3.2 2.2"/>
<ellipse cx="232.81" cy="1591.28" rx="10.03" ry="7.35" fill="#938ab2" stroke="#e2402c" stroke-width="1.7" stroke-dasharray="3.2 2.2"/>
<ellipse cx="196.71" cy="1607.33" rx="5.35" ry="5.35" fill="#938ab2" stroke="#e2402c" stroke-width="1.7" stroke-dasharray="3.2 2.2"/>
<ellipse cx="271.58" cy="1468.29" rx="10.03" ry="7.35" fill="#938ab2" stroke="#e2402c" stroke-width="1.7" stroke-dasharray="3.2 2.2"/>
<ellipse cx="149.92" cy="1474.97" rx="6.02" ry="6.02" fill="#938ab2" stroke="#e2402c" stroke-width="1.7" stroke-dasharray="3.2 2.2"/>
<polygon points="95.11,1470.96 108.48,1480.32 111.15,1500.37 105.8,1507.06 119.17,1533.8 135.21,1527.11 148.58,1553.85 156.6,1568.56 148.58,1587.27 128.53,1592.62 112.49,1587.27 100.45,1560.53 93.77,1533.8 93.77,1493.69" fill="#938ab2" stroke="#e2402c" stroke-width="1.7" stroke-dasharray="3.2 2.2" stroke-linejoin="round"/></g>
</g>
<rect x="59.7" y="1367.8" width="243.7" height="242.9" fill="none" stroke="#111" stroke-width="2.2"/>
<line x1="210.6" y1="1599.6" x2="293.5" y2="1599.6" stroke="#000" stroke-width="3.6"/>
<clipPath id="lc2"><rect x="315.9" y="1368" width="243.6" height="242.8"/></clipPath>
<rect x="315.9" y="1368" width="243.6" height="242.8" fill="#dfe0e5"/>
<g clip-path="url(#lc2)"><g filter="url(#rough2)">
<polygon points="346.1,1589.95 332.73,1553.85 324.71,1520.43 327.38,1487.01 339.41,1461.6 360.8,1437.54 384.87,1420.16 403.58,1410.8 423.64,1394.76 443.69,1382.73 470.43,1376.04 503.85,1376.71 530.59,1384.06 550.64,1393.42 558.66,1404.12 558.66,1519.09 537.27,1531.12 503.85,1537.81 463.74,1536.47 430.32,1537.81 407.59,1541.82 390.21,1547.17 379.52,1556.52 363.48,1573.9 350.11,1589.95" fill="#9c95ba"/>
<polygon points="407.59,1541.82 457.06,1537.81 497.17,1540.48 537.27,1547.17 558.66,1549.84 558.66,1608.66 416.95,1608.66 408.93,1587.27 406.26,1553.85" fill="#9c95ba"/>
<polygon points="523.9,1368.02 558.66,1368.02 558.66,1380.05 537.27,1374.71" fill="#9c95ba"/>
<polygon points="346.1,1589.95 332.73,1553.85 324.71,1520.43 327.38,1487.01 339.41,1461.6 360.8,1437.54 384.87,1420.16 403.58,1410.8 423.64,1394.76 443.69,1382.73 470.43,1376.04 503.85,1376.71 530.59,1384.06 550.64,1393.42 558.66,1404.12 558.66,1519.09 537.27,1531.12 503.85,1537.81 463.74,1536.47 430.32,1537.81 407.59,1541.82 390.21,1547.17 379.52,1556.52 363.48,1573.9 350.11,1589.95" fill="#888" filter="url(#lungTex)"/>
<polygon points="407.59,1541.82 457.06,1537.81 497.17,1540.48 537.27,1547.17 558.66,1549.84 558.66,1608.66 416.95,1608.66 408.93,1587.27 406.26,1553.85" fill="#888" filter="url(#lungTex)"/>
<polygon points="523.9,1368.02 558.66,1368.02 558.66,1380.05 537.27,1374.71" fill="#888" filter="url(#lungTex)"/>
<polygon points="443.69,1539.81 497.17,1540.48 537.27,1546.5 497.17,1544.49" fill="#e2e2e8"/>
</g>
<g filter="url(#rough2)"><ellipse cx="406.26" cy="1405.45" rx="13.37" ry="7.35" fill="#938ab2" stroke="#e2402c" stroke-width="1.7" stroke-dasharray="3.2 2.2" transform="rotate(-30 406.26 1405.45)"/>
<ellipse cx="435.67" cy="1408.13" rx="6.02" ry="8.02" fill="#938ab2" stroke="#e2402c" stroke-width="1.7" stroke-dasharray="3.2 2.2"/>
<ellipse cx="463.74" cy="1410.8" rx="8.02" ry="4.68" fill="#938ab2" stroke="#e2402c" stroke-width="1.7" stroke-dasharray="3.2 2.2"/>
<ellipse cx="517.89" cy="1412.81" rx="6.02" ry="5.35" fill="#938ab2" stroke="#e2402c" stroke-width="1.7" stroke-dasharray="3.2 2.2"/>
<ellipse cx="514.55" cy="1436.2" rx="11.36" ry="16.71" fill="#938ab2" stroke="#e2402c" stroke-width="1.7" stroke-dasharray="3.2 2.2"/>
<ellipse cx="469.76" cy="1442.22" rx="7.35" ry="10.03" fill="#938ab2" stroke="#e2402c" stroke-width="1.7" stroke-dasharray="3.2 2.2"/>
<ellipse cx="467.09" cy="1461.6" rx="5.35" ry="6.68" fill="#938ab2" stroke="#e2402c" stroke-width="1.7" stroke-dasharray="3.2 2.2"/>
<ellipse cx="397.57" cy="1440.21" rx="6.68" ry="12.03" fill="#938ab2" stroke="#e2402c" stroke-width="1.7" stroke-dasharray="3.2 2.2"/>
<ellipse cx="392.22" cy="1474.97" rx="8.02" ry="13.37" fill="#938ab2" stroke="#e2402c" stroke-width="1.7" stroke-dasharray="3.2 2.2"/>
<ellipse cx="357.46" cy="1491.68" rx="6.68" ry="9.36" fill="#938ab2" stroke="#e2402c" stroke-width="1.7" stroke-dasharray="3.2 2.2"/>
<ellipse cx="490.48" cy="1480.99" rx="10.03" ry="5.61" fill="#938ab2" stroke="#e2402c" stroke-width="1.7" stroke-dasharray="3.2 2.2"/>
<ellipse cx="515.88" cy="1481.66" rx="5.61" ry="7.75" fill="#938ab2" stroke="#e2402c" stroke-width="1.7" stroke-dasharray="3.2 2.2"/>
<ellipse cx="531.93" cy="1480.32" rx="8.02" ry="5.61" fill="#938ab2" stroke="#e2402c" stroke-width="1.7" stroke-dasharray="3.2 2.2"/>
<ellipse cx="493.16" cy="1507.73" rx="5.35" ry="10.7" fill="#938ab2" stroke="#e2402c" stroke-width="1.7" stroke-dasharray="3.2 2.2"/>
<ellipse cx="520.56" cy="1506.39" rx="5.35" ry="5.35" fill="#938ab2" stroke="#e2402c" stroke-width="1.7" stroke-dasharray="3.2 2.2"/>
<ellipse cx="414.28" cy="1508.4" rx="5.35" ry="5.35" fill="#938ab2" stroke="#e2402c" stroke-width="1.7" stroke-dasharray="3.2 2.2"/>
<ellipse cx="430.99" cy="1509.73" rx="8.69" ry="6.68" fill="#938ab2" stroke="#e2402c" stroke-width="1.7" stroke-dasharray="3.2 2.2" transform="rotate(30 430.99 1509.73)"/>
<ellipse cx="509.2" cy="1522.43" rx="5.35" ry="4.68" fill="#938ab2" stroke="#e2402c" stroke-width="1.7" stroke-dasharray="3.2 2.2"/>
<ellipse cx="414.28" cy="1530.45" rx="6.68" ry="6.68" fill="#938ab2" stroke="#e2402c" stroke-width="1.7" stroke-dasharray="3.2 2.2"/>
<ellipse cx="478.45" cy="1529.79" rx="20.72" ry="7.35" fill="#938ab2" stroke="#e2402c" stroke-width="1.7" stroke-dasharray="3.2 2.2" transform="rotate(-5 478.45 1529.79)"/>
<ellipse cx="514.55" cy="1539.14" rx="14.04" ry="7.35" fill="#938ab2" stroke="#e2402c" stroke-width="1.7" stroke-dasharray="3.2 2.2"/>
<ellipse cx="539.95" cy="1532.46" rx="12.7" ry="5.08" fill="#938ab2" stroke="#e2402c" stroke-width="1.7" stroke-dasharray="3.2 2.2" transform="rotate(-30 539.95 1532.46)"/>
<ellipse cx="435.67" cy="1553.85" rx="12.7" ry="10.03" fill="#938ab2" stroke="#e2402c" stroke-width="1.7" stroke-dasharray="3.2 2.2" transform="rotate(15 435.67 1553.85)"/>
<ellipse cx="371.5" cy="1543.82" rx="4.01" ry="4.68" fill="#938ab2" stroke="#e2402c" stroke-width="1.7" stroke-dasharray="3.2 2.2"/>
<ellipse cx="484.47" cy="1580.59" rx="10.03" ry="11.36" fill="#938ab2" stroke="#e2402c" stroke-width="1.7" stroke-dasharray="3.2 2.2"/>
<ellipse cx="463.74" cy="1588.61" rx="8.02" ry="7.35" fill="#938ab2" stroke="#e2402c" stroke-width="1.7" stroke-dasharray="3.2 2.2" transform="rotate(-30 463.74 1588.61)"/></g>
</g>
<rect x="315.9" y="1368" width="243.6" height="242.8" fill="none" stroke="#111" stroke-width="2.2"/>
<line x1="467.6" y1="1599.6" x2="549" y2="1599.6" stroke="#000" stroke-width="3.6"/>
<clipPath id="lc3"><rect x="569.4" y="1368" width="242.8" height="242.8"/></clipPath>
<rect x="569.4" y="1368" width="242.8" height="242.8" fill="#dfe0e5"/>
<g clip-path="url(#lc3)"><g filter="url(#rough2)">
<polygon points="568.35,1525.78 589.74,1513.74 607.12,1493.69 619.15,1480.32 633.86,1474.97 635.19,1453.58 632.52,1426.84 629.84,1416.15 620.49,1404.12 619.15,1401.44 629.84,1398.77 649.9,1396.1 669.95,1390.75 683.32,1384.06 696.69,1382.06 723.43,1384.06 750.17,1388.07 776.9,1393.42 796.96,1398.77 811.66,1408.13 811.66,1608.66 568.35,1608.66" fill="#9c95ba"/>
<polygon points="568.35,1525.78 589.74,1513.74 607.12,1493.69 619.15,1480.32 633.86,1474.97 635.19,1453.58 632.52,1426.84 629.84,1416.15 620.49,1404.12 619.15,1401.44 629.84,1398.77 649.9,1396.1 669.95,1390.75 683.32,1384.06 696.69,1382.06 723.43,1384.06 750.17,1388.07 776.9,1393.42 796.96,1398.77 811.66,1408.13 811.66,1608.66 568.35,1608.66" fill="#888" filter="url(#lungTex)"/>
<polygon points="568.35,1527.11 603.11,1507.06 643.21,1500.37 683.32,1513.74 723.43,1533.8 763.53,1540.48 811.66,1533.8 811.66,1608.66 568.35,1608.66" fill="#958cb2" opacity="0.4"/>
<polygon points="600.43,1564.55 616.48,1561.87 627.17,1565.88 616.48,1569.22 603.11,1568.56" fill="#e2e2e8"/>
<polygon points="732.79,1556.52 760.86,1544.49 776.9,1560.53 811.66,1592.62 811.66,1597.97 763.53,1576.58 736.8,1563.21" fill="#e2e2e8"/>
<polygon points="619.15,1547.17 656.58,1541.82 696.69,1540.48 683.32,1547.17 643.21,1549.84" fill="#e2e2e8"/>
<polygon points="676.64,1600.64 723.43,1595.29 790.27,1596.63 811.66,1600.64 811.66,1608.66 676.64,1608.66" fill="#e2e2e8"/>
<polygon points="730.11,1406.79 736.8,1404.12 770.22,1434.87 763.53,1437.54" fill="#e2e2e8"/>
</g>
<g filter="url(#rough2)"><ellipse cx="684.66" cy="1386.07" rx="12.03" ry="5.35" fill="#938ab2" stroke="#e2402c" stroke-width="1.7" stroke-dasharray="3.2 2.2" transform="rotate(-15 684.66 1386.07)"/>
<ellipse cx="640.54" cy="1398.77" rx="7.35" ry="4.68" fill="#938ab2" stroke="#e2402c" stroke-width="1.7" stroke-dasharray="3.2 2.2"/>
<ellipse cx="704.71" cy="1396.76" rx="5.35" ry="4.68" fill="#938ab2" stroke="#e2402c" stroke-width="1.7" stroke-dasharray="3.2 2.2"/>
<ellipse cx="714.07" cy="1406.79" rx="3.34" ry="6.02" fill="#938ab2" stroke="#e2402c" stroke-width="1.7" stroke-dasharray="3.2 2.2"/>
<ellipse cx="633.86" cy="1444.89" rx="6.68" ry="10.7" fill="#938ab2" stroke="#e2402c" stroke-width="1.7" stroke-dasharray="3.2 2.2"/>
<ellipse cx="643.21" cy="1440.21" rx="4.01" ry="4.01" fill="#938ab2" stroke="#e2402c" stroke-width="1.7" stroke-dasharray="3.2 2.2"/>
<ellipse cx="694.68" cy="1458.26" rx="6.02" ry="4.68" fill="#938ab2" stroke="#e2402c" stroke-width="1.7" stroke-dasharray="3.2 2.2"/>
<ellipse cx="669.28" cy="1467.62" rx="6.68" ry="5.35" fill="#938ab2" stroke="#e2402c" stroke-width="1.7" stroke-dasharray="3.2 2.2"/>
<ellipse cx="728.11" cy="1432.86" rx="4.68" ry="9.36" fill="#938ab2" stroke="#e2402c" stroke-width="1.7" stroke-dasharray="3.2 2.2" transform="rotate(-30 728.11 1432.86)"/>
<ellipse cx="739.47" cy="1450.91" rx="4.68" ry="6.68" fill="#938ab2" stroke="#e2402c" stroke-width="1.7" stroke-dasharray="3.2 2.2"/>
<ellipse cx="748.16" cy="1468.96" rx="5.35" ry="9.36" fill="#938ab2" stroke="#e2402c" stroke-width="1.7" stroke-dasharray="3.2 2.2"/>
<ellipse cx="752.84" cy="1489.01" rx="6.02" ry="7.35" fill="#938ab2" stroke="#e2402c" stroke-width="1.7" stroke-dasharray="3.2 2.2"/>
<ellipse cx="796.96" cy="1467.62" rx="6.02" ry="6.02" fill="#938ab2" stroke="#e2402c" stroke-width="1.7" stroke-dasharray="3.2 2.2"/>
<ellipse cx="784.93" cy="1413.48" rx="6.68" ry="16.04" fill="#938ab2" stroke="#e2402c" stroke-width="1.7" stroke-dasharray="3.2 2.2"/>
<ellipse cx="779.58" cy="1425.51" rx="4.01" ry="4.01" fill="#938ab2" stroke="#e2402c" stroke-width="1.7" stroke-dasharray="3.2 2.2"/>
<ellipse cx="697.36" cy="1482.99" rx="6.68" ry="6.02" fill="#938ab2" stroke="#e2402c" stroke-width="1.7" stroke-dasharray="3.2 2.2"/>
<ellipse cx="687.33" cy="1490.35" rx="5.35" ry="4.68" fill="#938ab2" stroke="#e2402c" stroke-width="1.7" stroke-dasharray="3.2 2.2"/>
<ellipse cx="720.75" cy="1491.02" rx="6.02" ry="4.01" fill="#938ab2" stroke="#e2402c" stroke-width="1.7" stroke-dasharray="3.2 2.2"/>
<ellipse cx="601.1" cy="1501.71" rx="9.36" ry="9.36" fill="#938ab2" stroke="#e2402c" stroke-width="1.7" stroke-dasharray="3.2 2.2" transform="rotate(-40 601.1 1501.71)"/>
<ellipse cx="759.52" cy="1515.08" rx="10.7" ry="13.37" fill="#938ab2" stroke="#e2402c" stroke-width="1.7" stroke-dasharray="3.2 2.2"/>
<ellipse cx="648.56" cy="1570.56" rx="4.68" ry="5.35" fill="#938ab2" stroke="#e2402c" stroke-width="1.7" stroke-dasharray="3.2 2.2"/>
<ellipse cx="659.26" cy="1573.9" rx="6.68" ry="6.68" fill="#938ab2" stroke="#e2402c" stroke-width="1.7" stroke-dasharray="3.2 2.2"/>
<ellipse cx="628.51" cy="1591.95" rx="8.02" ry="6.68" fill="#938ab2" stroke="#e2402c" stroke-width="1.7" stroke-dasharray="3.2 2.2"/>
<ellipse cx="744.82" cy="1588.61" rx="6.02" ry="4.01" fill="#938ab2" stroke="#e2402c" stroke-width="1.7" stroke-dasharray="3.2 2.2"/>
<polygon points="695.35,1513.74 718.08,1536.47 710.06,1537.81 704.71,1532.46 699.36,1541.82 695.35,1537.81" fill="#938ab2" stroke="#e2402c" stroke-width="1.7" stroke-dasharray="3.2 2.2" stroke-linejoin="round"/></g>
</g>
<rect x="569.4" y="1368" width="242.8" height="242.8" fill="none" stroke="#111" stroke-width="2.2"/>
<line x1="721" y1="1599.6" x2="802.7" y2="1599.6" stroke="#000" stroke-width="3.6"/>
<text x="0" y="0" font-size="40" font-weight="bold" transform="translate(819.5 1296) scale(1.13 0.95)">g</text>
<rect x="954.3" y="1424.3" width="34.5" height="148.8" fill="#c3c5cc" stroke="#111" stroke-width="1.5"/>
<rect x="1007.6" y="1537.4" width="34.8" height="35.7" fill="#3a6ea6" stroke="#111" stroke-width="1.5"/>
<rect x="1061.4" y="1535.7" width="34.8" height="37.4" fill="#3b2ea0" stroke="#111" stroke-width="1.5"/>
<line x1="971.4" y1="1371.9" x2="971.4" y2="1475.5" stroke="#000" stroke-width="2"/>
<line x1="961.9" y1="1371.9" x2="980.9" y2="1371.9" stroke="#000" stroke-width="2"/>
<line x1="961.9" y1="1475.5" x2="980.9" y2="1475.5" stroke="#000" stroke-width="2"/>
<line x1="1025" y1="1526" x2="1025" y2="1551" stroke="#000" stroke-width="2"/>
<line x1="1015.5" y1="1526" x2="1034.5" y2="1526" stroke="#000" stroke-width="2"/>
<line x1="1015.5" y1="1551" x2="1034.5" y2="1551" stroke="#000" stroke-width="2"/>
<line x1="1078.6" y1="1519" x2="1078.6" y2="1551" stroke="#000" stroke-width="2"/>
<line x1="1069.1" y1="1519" x2="1088.1" y2="1519" stroke="#000" stroke-width="2"/>
<line x1="1069.1" y1="1551" x2="1088.1" y2="1551" stroke="#000" stroke-width="2"/>
<circle cx="971.4" cy="1352.9" r="5.2" fill="#fff" stroke="#111" stroke-width="1.3"/>
<circle cx="971.4" cy="1390.5" r="5.2" fill="#fff" stroke="#111" stroke-width="1.3"/>
<circle cx="971.4" cy="1431.4" r="5.2" fill="#fff" stroke="#111" stroke-width="1.3"/>
<circle cx="959" cy="1472.6" r="5.2" fill="#fff" stroke="#111" stroke-width="1.3"/>
<circle cx="983.8" cy="1471.4" r="5.2" fill="#fff" stroke="#111" stroke-width="1.3"/>
<circle cx="1018.6" cy="1520.7" r="5.2" fill="#fff" stroke="#111" stroke-width="1.3"/>
<circle cx="1030.5" cy="1522.6" r="5.2" fill="#fff" stroke="#111" stroke-width="1.3"/>
<circle cx="1013" cy="1553.3" r="5.2" fill="#fff" stroke="#111" stroke-width="1.3"/>
<circle cx="1025" cy="1543.3" r="5.2" fill="#fff" stroke="#111" stroke-width="1.3"/>
<circle cx="1037.6" cy="1544" r="5.2" fill="#fff" stroke="#111" stroke-width="1.3"/>
<circle cx="1078.6" cy="1511.9" r="5.2" fill="#fff" stroke="#111" stroke-width="1.3"/>
<circle cx="1078.6" cy="1525" r="5.2" fill="#fff" stroke="#111" stroke-width="1.3"/>
<circle cx="1067" cy="1549.3" r="5.2" fill="#fff" stroke="#111" stroke-width="1.3"/>
<circle cx="1079" cy="1542.9" r="5.2" fill="#fff" stroke="#111" stroke-width="1.3"/>
<circle cx="1091" cy="1546.4" r="5.2" fill="#fff" stroke="#111" stroke-width="1.3"/>
<line x1="935.7" y1="1286.7" x2="935.7" y2="1573.1" stroke="#000" stroke-width="1.6"/>
<line x1="925" y1="1573.1" x2="1119" y2="1573.1" stroke="#000" stroke-width="1.6"/>
<line x1="925" y1="1573.1" x2="935.7" y2="1573.1" stroke="#000" stroke-width="1.6"/>
<text x="921.4" y="1580.1" font-size="19.3" text-anchor="end">0</text>
<line x1="925" y1="1477.63" x2="935.7" y2="1477.63" stroke="#000" stroke-width="1.6"/>
<text x="921.4" y="1484.63" font-size="19.3" text-anchor="end">25</text>
<line x1="925" y1="1382.17" x2="935.7" y2="1382.17" stroke="#000" stroke-width="1.6"/>
<text x="921.4" y="1389.17" font-size="19.3" text-anchor="end">50</text>
<line x1="925" y1="1286.7" x2="935.7" y2="1286.7" stroke="#000" stroke-width="1.6"/>
<text x="921.4" y="1293.7" font-size="19.3" text-anchor="end">75</text>
<line x1="971.4" y1="1573.1" x2="971.4" y2="1584" stroke="#000" stroke-width="1.6"/>
<line x1="1025" y1="1573.1" x2="1025" y2="1584" stroke="#000" stroke-width="1.6"/>
<line x1="1078.6" y1="1573.1" x2="1078.6" y2="1584" stroke="#000" stroke-width="1.6"/>
<text x="869" y="1420" font-size="27.8" text-anchor="middle" transform="rotate(-90 869 1420)" dy="10">Lung invasion (%)</text>
<text x="1022.6" y="1445.7" font-size="20.7" text-anchor="middle" transform="rotate(-90 1022.6 1445.7)" dy="7.5"><tspan font-style="italic">P</tspan> = 0.00042</text>
<text x="1076" y="1436" font-size="20.7" text-anchor="middle" transform="rotate(-90 1076 1436)" dy="7.5"><tspan font-style="italic">P</tspan> = 0.00047</text>
<text x="969.5" y="1591" font-size="28" text-anchor="end" transform="rotate(-90 969.5 1591)" dy="10">sgNT</text>
<text x="1023.5" y="1591" font-size="28" text-anchor="end" transform="rotate(-90 1023.5 1591)" dy="10">sgSC5D_1</text>
<text x="1077" y="1591" font-size="28" text-anchor="end" transform="rotate(-90 1077 1591)" dy="10">sgSC5D_2</text>
<text x="0" y="0" font-size="40" font-weight="bold" transform="translate(1143 1298) scale(1.13 0.95)">h</text>
<text x="1279" y="1315" font-size="25.3" text-anchor="middle">RSL3 (20nM)</text>
<text x="1813" y="1314.6" font-size="25.4" text-anchor="middle">ML210 (50nM)</text>
<text x="1276" y="1708" font-size="27.7" text-anchor="middle">KP4</text>
<text x="1812.3" y="1703.3" font-size="27.7" text-anchor="middle">KP4</text>
<text x="1173.5" y="1421" font-size="25.1" text-anchor="middle" transform="rotate(-90 1173.5 1421)" dy="9">Control</text>
<text x="1173.5" y="1585" font-size="25.1" text-anchor="middle" transform="rotate(-90 1173.5 1585)" dy="9">+D374Y</text>
<text x="1701.6" y="1416.5" font-size="25.1" text-anchor="middle" transform="rotate(-90 1701.6 1416.5)" dy="9">Control</text>
<text x="1701.6" y="1589.5" font-size="25.1" text-anchor="middle" transform="rotate(-90 1701.6 1589.5)" dy="9">+D374Y</text>
<clipPath id="cliph1"><rect x="1189.8" y="1325.5" width="172.4" height="172.5"/></clipPath>
<g clip-path="url(#cliph1)">
<rect x="1189.8" y="1325.5" width="172.4" height="172.5" fill="#4b5050"/>
<g fill="#888" filter="url(#cellTex2)"><g filter="url(#rough)"><ellipse cx="1223.38" cy="1428.73" rx="12.77" ry="9.99"/><ellipse cx="1226.78" cy="1349.21" rx="9.51" ry="12.16"/><ellipse cx="1357.22" cy="1333.02" rx="5.71" ry="5.28"/><ellipse cx="1252.99" cy="1375.95" rx="10.58" ry="12.79"/><ellipse cx="1225.71" cy="1371.5" rx="7.64" ry="6.64"/><ellipse cx="1307.06" cy="1396.6" rx="15.09" ry="11.5"/><ellipse cx="1262.72" cy="1368.77" rx="9.3" ry="5.95"/><ellipse cx="1282.05" cy="1362.45" rx="6.54" ry="10.3"/><ellipse cx="1287.1" cy="1341.9" rx="3.79" ry="4.25"/><ellipse cx="1215.79" cy="1398.75" rx="6.52" ry="5.27"/><ellipse cx="1271.71" cy="1378.81" rx="13.23" ry="9.58"/><ellipse cx="1308.94" cy="1398.6" rx="8.92" ry="9.51"/><ellipse cx="1249.41" cy="1426.69" rx="6.68" ry="6.56"/><ellipse cx="1311.47" cy="1408.33" rx="7.35" ry="7.29"/><ellipse cx="1220.63" cy="1410.26" rx="7.29" ry="7.89"/><ellipse cx="1343.16" cy="1340.41" rx="11.49" ry="11.11"/><ellipse cx="1201.45" cy="1384.17" rx="9" ry="7.36"/><ellipse cx="1237.84" cy="1413.68" rx="4.28" ry="7.16"/><ellipse cx="1225.05" cy="1337.5" rx="9.44" ry="9.1"/><ellipse cx="1206.29" cy="1395.37" rx="9.77" ry="5.61"/><ellipse cx="1337.5" cy="1374.57" rx="11.07" ry="12.58"/><ellipse cx="1236.91" cy="1396.13" rx="7.46" ry="7.39"/><ellipse cx="1351.33" cy="1356.32" rx="8.92" ry="9.96"/><ellipse cx="1199.17" cy="1349.07" rx="6.38" ry="6.81"/><ellipse cx="1248.85" cy="1365.06" rx="6.01" ry="6.83"/><ellipse cx="1308.28" cy="1364.47" rx="12.08" ry="11.34"/><ellipse cx="1283.9" cy="1359.55" rx="6.93" ry="7.16"/><ellipse cx="1264.82" cy="1374.15" rx="6.36" ry="5.25"/><ellipse cx="1360.96" cy="1404.64" rx="5.39" ry="6.16"/><ellipse cx="1312.27" cy="1427.19" rx="8.72" ry="7.34"/><ellipse cx="1348.77" cy="1331.73" rx="12.93" ry="13.27"/><ellipse cx="1296.08" cy="1340.84" rx="8.65" ry="9.16"/><ellipse cx="1309.12" cy="1353.95" rx="6.18" ry="6.36"/><ellipse cx="1327.39" cy="1361.75" rx="15.47" ry="10.72"/><ellipse cx="1261.72" cy="1353.86" rx="9.55" ry="9.4"/><ellipse cx="1206.37" cy="1350.35" rx="9.81" ry="9.57"/><ellipse cx="1291.06" cy="1396.6" rx="14.22" ry="11.12"/><ellipse cx="1222.43" cy="1380.75" rx="6.21" ry="6.88"/><ellipse cx="1228.9" cy="1388.89" rx="12.08" ry="8.62"/><ellipse cx="1345.62" cy="1387.2" rx="13.05" ry="10.27"/><ellipse cx="1196.86" cy="1390.89" rx="6.91" ry="7.94"/><ellipse cx="1361.13" cy="1368.59" rx="8.09" ry="7.63"/><ellipse cx="1281.3" cy="1430.97" rx="6.73" ry="6.44"/><ellipse cx="1256.76" cy="1385.22" rx="9.02" ry="13.83"/><ellipse cx="1319.98" cy="1425.57" rx="11.78" ry="9.43"/><ellipse cx="1344.58" cy="1375.71" rx="6.4" ry="6.17"/><ellipse cx="1265.49" cy="1424.51" rx="8.11" ry="7.61"/><ellipse cx="1222.7" cy="1408.66" rx="9.75" ry="11.88"/><ellipse cx="1343.65" cy="1339.24" rx="5.76" ry="6"/><ellipse cx="1307.43" cy="1365" rx="12.6" ry="13.55"/><ellipse cx="1358.69" cy="1416.39" rx="7.69" ry="11.58"/><ellipse cx="1303.8" cy="1365.21" rx="7.23" ry="4.33"/><ellipse cx="1197.29" cy="1331.56" rx="9.35" ry="10.34"/><ellipse cx="1333.79" cy="1423.55" rx="11.1" ry="15.22"/><ellipse cx="1315.12" cy="1354.34" rx="15.42" ry="13.68"/><ellipse cx="1238.86" cy="1368" rx="12.78" ry="11.19"/><ellipse cx="1348.36" cy="1370.47" rx="11.4" ry="6.83"/><ellipse cx="1312.72" cy="1326.64" rx="10.89" ry="8.5"/><ellipse cx="1297.25" cy="1340.09" rx="13.38" ry="8.94"/><ellipse cx="1266.12" cy="1332.34" rx="4.83" ry="7.35"/><ellipse cx="1283.12" cy="1420.2" rx="5.85" ry="7.15"/><ellipse cx="1218.17" cy="1333.68" rx="14.43" ry="15.05"/><ellipse cx="1312.93" cy="1380.03" rx="15.97" ry="14.34"/><ellipse cx="1346.96" cy="1331.33" rx="13.45" ry="12.35"/><ellipse cx="1233.82" cy="1402.08" rx="5.37" ry="5.48"/><ellipse cx="1287.54" cy="1419.5" rx="9.85" ry="7.89"/><ellipse cx="1204.85" cy="1340.51" rx="11.88" ry="13.73"/><ellipse cx="1215.22" cy="1378.96" rx="5.48" ry="4.87"/><ellipse cx="1263.01" cy="1410.28" rx="5.25" ry="7.74"/><ellipse cx="1233.04" cy="1397.01" rx="4.1" ry="5.2"/><ellipse cx="1325.79" cy="1440.71" rx="6.98" ry="6.6"/><ellipse cx="1325.93" cy="1468.07" rx="5.68" ry="7.97"/><ellipse cx="1316.65" cy="1489.68" rx="10.78" ry="8.75"/><ellipse cx="1279.52" cy="1484.9" rx="7.5" ry="7.18"/><ellipse cx="1314.89" cy="1444.32" rx="8.37" ry="6.47"/><ellipse cx="1327.13" cy="1475.25" rx="8.02" ry="7.14"/><ellipse cx="1332.58" cy="1464.18" rx="8.58" ry="7.16"/><ellipse cx="1353.44" cy="1440.52" rx="6.53" ry="8.35"/><ellipse cx="1308.42" cy="1467.51" rx="9.19" ry="10.5"/><ellipse cx="1345.61" cy="1473.11" rx="11.1" ry="14.34"/><ellipse cx="1326.71" cy="1488.93" rx="9.16" ry="7.72"/><ellipse cx="1324.3" cy="1492.13" rx="11.06" ry="10.51"/><ellipse cx="1317.41" cy="1456.49" rx="15.01" ry="15.07"/><ellipse cx="1274.25" cy="1488.21" rx="7.82" ry="5.92"/><ellipse cx="1225.2" cy="1478.6" rx="7.79" ry="5.66"/><ellipse cx="1236.56" cy="1437.41" rx="3.45" ry="4.59"/><ellipse cx="1199.01" cy="1434.67" rx="5.38" ry="7.73"/><ellipse cx="1207.27" cy="1436.4" rx="2.74" ry="3.58"/><ellipse cx="1221.56" cy="1479.59" rx="4.63" ry="3.87"/><ellipse cx="1234.22" cy="1486.06" rx="5.23" ry="5.68"/><ellipse cx="1263.18" cy="1471.67" rx="5.37" ry="4.64"/><ellipse cx="1206.54" cy="1497.06" rx="5.44" ry="5.47"/></g></g>
<g fill="#72cc44" opacity="0.68" filter="url(#soft)"><circle cx="1316.11" cy="1416.7" r="2.94"/><circle cx="1232.31" cy="1380.61" r="3.23"/><circle cx="1300.13" cy="1340.32" r="2.71"/><circle cx="1276.47" cy="1380.35" r="2.47"/><circle cx="1254.55" cy="1369.83" r="3.23"/><circle cx="1281.09" cy="1403.71" r="1.88"/><circle cx="1357.49" cy="1376.52" r="3.38"/><circle cx="1262.94" cy="1370.47" r="2.39"/><circle cx="1243.74" cy="1377.54" r="3.51"/><circle cx="1250.73" cy="1393.23" r="3.27"/><circle cx="1340.64" cy="1414.82" r="2.62"/><circle cx="1223.41" cy="1366.87" r="2.67"/><circle cx="1283.06" cy="1387.06" r="3.36"/><circle cx="1283.95" cy="1425.79" r="2.18"/><circle cx="1363.93" cy="1367.07" r="3.16"/><circle cx="1281.8" cy="1335.32" r="3.11"/><circle cx="1323" cy="1403.76" r="3.29"/><circle cx="1303.56" cy="1427.8" r="3.4"/><circle cx="1227.69" cy="1395.2" r="2.61"/><circle cx="1204.75" cy="1413.46" r="2.5"/><circle cx="1304.55" cy="1380.08" r="3.09"/><circle cx="1342.71" cy="1375.5" r="2.68"/><circle cx="1198.07" cy="1362.37" r="2.2"/><circle cx="1221.19" cy="1351.22" r="2.92"/><circle cx="1292.5" cy="1397.89" r="2.43"/><circle cx="1326.07" cy="1362.87" r="2.88"/><circle cx="1265.39" cy="1393.88" r="1.92"/><circle cx="1308.56" cy="1332.44" r="2.47"/><circle cx="1244.3" cy="1335.79" r="3.42"/><circle cx="1334.43" cy="1368.12" r="3.58"/><circle cx="1346.74" cy="1367.07" r="3.39"/><circle cx="1217.99" cy="1379.18" r="2.24"/><circle cx="1303.2" cy="1361.64" r="1.92"/><circle cx="1304.39" cy="1331.59" r="2.67"/><circle cx="1287.26" cy="1366.48" r="2.26"/><circle cx="1260.77" cy="1411.89" r="2.11"/><circle cx="1325.97" cy="1390.82" r="3.42"/><circle cx="1357.45" cy="1372.3" r="2.66"/><circle cx="1274.71" cy="1431.3" r="2.75"/><circle cx="1273.86" cy="1368.05" r="2.18"/><circle cx="1320.53" cy="1335.4" r="3.39"/><circle cx="1226.24" cy="1355.82" r="2.85"/><circle cx="1306.75" cy="1352.39" r="2.76"/><circle cx="1262.49" cy="1424.99" r="1.82"/><circle cx="1239.38" cy="1327.73" r="1.84"/><circle cx="1212.72" cy="1352.66" r="3.33"/><circle cx="1234.51" cy="1363.1" r="2.53"/><circle cx="1363.21" cy="1363.78" r="2.04"/><circle cx="1300.05" cy="1386.75" r="1.85"/><circle cx="1242.38" cy="1384.04" r="3.36"/><circle cx="1257.1" cy="1360.99" r="2.77"/><circle cx="1246.02" cy="1411.89" r="2.2"/><circle cx="1296.46" cy="1397.71" r="2.48"/><circle cx="1258.5" cy="1337.6" r="1.88"/><circle cx="1254.43" cy="1327.2" r="3.19"/><circle cx="1278.12" cy="1372.53" r="2.63"/><circle cx="1352.37" cy="1395.99" r="2.12"/><circle cx="1264.57" cy="1350.3" r="3.05"/><circle cx="1268.45" cy="1387.66" r="2.5"/><circle cx="1243.18" cy="1426.03" r="2.33"/><circle cx="1205.74" cy="1376.45" r="3.51"/><circle cx="1335.87" cy="1402.09" r="2.71"/><circle cx="1266.98" cy="1323.22" r="2.36"/><circle cx="1254.53" cy="1339.23" r="2.81"/><circle cx="1354.82" cy="1396.67" r="3.56"/><circle cx="1243.16" cy="1401.82" r="3.59"/><circle cx="1296.4" cy="1386.78" r="1.93"/><circle cx="1308.51" cy="1333.01" r="2.61"/><circle cx="1266.36" cy="1371.89" r="2.96"/><circle cx="1212.18" cy="1391.25" r="2.5"/><circle cx="1239.32" cy="1392.45" r="1.89"/><circle cx="1232.87" cy="1388.32" r="3.07"/><circle cx="1309.1" cy="1334.42" r="2.62"/><circle cx="1281.01" cy="1411.39" r="2.68"/><circle cx="1213.08" cy="1337.34" r="1.95"/><circle cx="1210.04" cy="1382.17" r="3.09"/><circle cx="1340.67" cy="1346.3" r="2.93"/><circle cx="1280.15" cy="1332.2" r="3.35"/><circle cx="1251.33" cy="1333.95" r="2.24"/><circle cx="1327.02" cy="1360.11" r="2.91"/><circle cx="1318.17" cy="1328.94" r="3.58"/><circle cx="1328.97" cy="1378.49" r="2.36"/><circle cx="1247.96" cy="1390.54" r="2.8"/><circle cx="1321.78" cy="1391.8" r="3.5"/><circle cx="1272.9" cy="1339.76" r="1.99"/><circle cx="1352.53" cy="1364.61" r="2.17"/><circle cx="1237.22" cy="1415.27" r="3.03"/><circle cx="1269.69" cy="1430.96" r="2.38"/><circle cx="1273.68" cy="1427.99" r="2.08"/><circle cx="1258.23" cy="1354.84" r="2.88"/><circle cx="1266" cy="1410.73" r="3.49"/><circle cx="1214.67" cy="1384.77" r="2.91"/><circle cx="1268.43" cy="1399.87" r="2.49"/><circle cx="1270.23" cy="1400.98" r="3.53"/><circle cx="1359.38" cy="1387.9" r="3.48"/><circle cx="1272.32" cy="1369.95" r="2.7"/><circle cx="1347.69" cy="1387.76" r="3.06"/><circle cx="1276.51" cy="1382.05" r="2.78"/><circle cx="1319.68" cy="1394.42" r="2.62"/><circle cx="1321.45" cy="1356.58" r="2.04"/><circle cx="1298.28" cy="1328.9" r="2.75"/><circle cx="1315.12" cy="1384.52" r="2.53"/><circle cx="1233.38" cy="1368.86" r="3.24"/><circle cx="1326.55" cy="1333.06" r="3.39"/><circle cx="1347.9" cy="1381.9" r="1.94"/><circle cx="1342.2" cy="1349.13" r="3.17"/><circle cx="1284.76" cy="1389.73" r="3.27"/><circle cx="1217.43" cy="1350.28" r="2.65"/><circle cx="1293.07" cy="1346.74" r="2.29"/><circle cx="1244.76" cy="1401.28" r="2.93"/><circle cx="1295.48" cy="1367.88" r="1.92"/><circle cx="1198.14" cy="1373.9" r="2.14"/><circle cx="1273.14" cy="1390.53" r="1.87"/><circle cx="1197.8" cy="1378.66" r="2.98"/><circle cx="1292.69" cy="1392.18" r="3.48"/><circle cx="1217.17" cy="1368.79" r="3.04"/><circle cx="1266.46" cy="1337.66" r="1.94"/><circle cx="1296.46" cy="1354.68" r="1.87"/><circle cx="1234.53" cy="1409.5" r="2.93"/><circle cx="1312.67" cy="1418.56" r="2.69"/><circle cx="1321.93" cy="1420.58" r="3.25"/><circle cx="1341.02" cy="1352" r="2.19"/><circle cx="1291.59" cy="1325.59" r="2.76"/><circle cx="1354.37" cy="1347.68" r="2.5"/><circle cx="1361.71" cy="1358.16" r="3.23"/><circle cx="1332.11" cy="1379.56" r="2.9"/><circle cx="1211.57" cy="1347.32" r="2.96"/><circle cx="1324.3" cy="1422.48" r="2.77"/><circle cx="1307.75" cy="1360.26" r="3.6"/><circle cx="1197.41" cy="1360.82" r="3.13"/><circle cx="1318.29" cy="1354.93" r="1.95"/><circle cx="1242.81" cy="1390.28" r="2.77"/><circle cx="1298.66" cy="1346.76" r="2.04"/><circle cx="1336.78" cy="1383.31" r="2.84"/><circle cx="1352.3" cy="1384.66" r="2.18"/><circle cx="1347.44" cy="1410.37" r="2.74"/><circle cx="1329.73" cy="1353.01" r="2.02"/><circle cx="1279.86" cy="1413.13" r="2.95"/><circle cx="1286.75" cy="1329.81" r="2.97"/><circle cx="1274.85" cy="1413.45" r="2.48"/><circle cx="1227.25" cy="1379.11" r="2.77"/><circle cx="1258.72" cy="1379.92" r="3.28"/><circle cx="1203.27" cy="1351.69" r="3.13"/><circle cx="1264.65" cy="1322.63" r="2.48"/><circle cx="1271.45" cy="1379.34" r="3"/><circle cx="1213.24" cy="1356.72" r="3.6"/><circle cx="1290.8" cy="1402.12" r="3.12"/><circle cx="1301.17" cy="1341.8" r="1.9"/><circle cx="1216.83" cy="1413.74" r="2.7"/><circle cx="1218.55" cy="1385.5" r="2.93"/><circle cx="1211.7" cy="1350.59" r="3.36"/><circle cx="1276.47" cy="1343.45" r="2.25"/><circle cx="1292.81" cy="1329.08" r="3.47"/><circle cx="1303.61" cy="1425.46" r="3.4"/><circle cx="1322.55" cy="1391.54" r="2.94"/><circle cx="1328.48" cy="1417.24" r="2.28"/><circle cx="1254.73" cy="1349.9" r="2.19"/><circle cx="1293.87" cy="1414.77" r="3.08"/><circle cx="1291.75" cy="1422.05" r="2.4"/><circle cx="1241.97" cy="1350.24" r="2.15"/><circle cx="1290.41" cy="1387.53" r="3.05"/><circle cx="1247.49" cy="1387.25" r="3.39"/><circle cx="1268.23" cy="1370.62" r="3.1"/><circle cx="1223.68" cy="1356.65" r="2.7"/><circle cx="1332.35" cy="1369.31" r="2.95"/><circle cx="1238.27" cy="1352.11" r="2.42"/><circle cx="1278.36" cy="1333.26" r="2.62"/><circle cx="1231.34" cy="1374.99" r="3.22"/><circle cx="1351.45" cy="1382.76" r="2.62"/><circle cx="1288.99" cy="1418.85" r="2.85"/><circle cx="1332.76" cy="1397.29" r="2.1"/><circle cx="1292.46" cy="1347.18" r="2.39"/><circle cx="1280.49" cy="1389.07" r="2.14"/><circle cx="1319.39" cy="1412.8" r="3.33"/><circle cx="1281.74" cy="1395.4" r="2.76"/><circle cx="1321.12" cy="1400.59" r="3.17"/><circle cx="1299.01" cy="1421.44" r="2.77"/><circle cx="1316.2" cy="1391.09" r="2.88"/><circle cx="1311.2" cy="1391.41" r="2.84"/><circle cx="1304.38" cy="1341.02" r="2.99"/><circle cx="1328.08" cy="1378.98" r="2.37"/><circle cx="1324.51" cy="1360.17" r="3.21"/><circle cx="1341.39" cy="1385.59" r="3.4"/><circle cx="1285.64" cy="1335.6" r="2.13"/><circle cx="1299.96" cy="1370.28" r="3.54"/><circle cx="1289.19" cy="1331.06" r="2.76"/><circle cx="1304.49" cy="1404.88" r="3"/><circle cx="1243.05" cy="1348.64" r="3.24"/><circle cx="1323.98" cy="1386.99" r="1.96"/><circle cx="1237.75" cy="1421.07" r="3.16"/><circle cx="1307.12" cy="1401.98" r="2"/><circle cx="1242.84" cy="1346.01" r="2.22"/><circle cx="1213.96" cy="1413.74" r="2.57"/><circle cx="1248.72" cy="1336.5" r="2.65"/><circle cx="1222.36" cy="1365.69" r="2.16"/><circle cx="1223.71" cy="1378.32" r="2.39"/><circle cx="1311.18" cy="1425.87" r="2.57"/><circle cx="1281.19" cy="1386.61" r="2.19"/><circle cx="1313.29" cy="1353.69" r="3"/><circle cx="1285.34" cy="1421.44" r="2.61"/><circle cx="1270.11" cy="1337.27" r="2.48"/><circle cx="1262.26" cy="1419.04" r="3.3"/><circle cx="1252.42" cy="1341.55" r="2.39"/><circle cx="1343.7" cy="1345.23" r="2.06"/><circle cx="1240.17" cy="1333.46" r="3.02"/><circle cx="1362.68" cy="1365.75" r="2.24"/><circle cx="1330.26" cy="1376.6" r="2.48"/><circle cx="1314.35" cy="1373.91" r="2.51"/><circle cx="1241.18" cy="1356.74" r="2.28"/><circle cx="1296.35" cy="1335.7" r="3.14"/><circle cx="1297.98" cy="1327.31" r="3.41"/><circle cx="1317.73" cy="1328.35" r="2.7"/><circle cx="1255.64" cy="1339.5" r="3.54"/><circle cx="1241.04" cy="1347.29" r="3"/><circle cx="1266.5" cy="1396.33" r="2.5"/><circle cx="1279.92" cy="1379.9" r="1.97"/><circle cx="1196.54" cy="1390.89" r="1.89"/><circle cx="1255.33" cy="1363.31" r="2.72"/><circle cx="1258.03" cy="1412.6" r="3.08"/><circle cx="1225.22" cy="1395.13" r="3.11"/><circle cx="1317.81" cy="1398.94" r="3.06"/><circle cx="1323.73" cy="1330.22" r="2.26"/><circle cx="1238.56" cy="1355.4" r="3.06"/><circle cx="1295.8" cy="1360.56" r="2.42"/><circle cx="1327.83" cy="1364.47" r="2.94"/><circle cx="1296.89" cy="1350.77" r="3.21"/><circle cx="1331.31" cy="1377.98" r="2.1"/><circle cx="1251.2" cy="1398.25" r="1.85"/><circle cx="1288.94" cy="1355.53" r="2.83"/><circle cx="1193.62" cy="1360.26" r="3.32"/><circle cx="1247.87" cy="1361.55" r="3.17"/><circle cx="1350.75" cy="1407.84" r="2.36"/><circle cx="1275.23" cy="1402.94" r="2.51"/><circle cx="1298.62" cy="1327.94" r="3.14"/><circle cx="1269.93" cy="1350.21" r="2.38"/><circle cx="1255.14" cy="1411.5" r="3.37"/><circle cx="1303.43" cy="1376.84" r="3.54"/><circle cx="1332.09" cy="1358.86" r="3.05"/><circle cx="1284.82" cy="1353.95" r="2.91"/><circle cx="1364.38" cy="1371.31" r="3.44"/><circle cx="1345.06" cy="1400.94" r="2.68"/><circle cx="1308.6" cy="1365.07" r="2.79"/><circle cx="1337.77" cy="1411.28" r="3.1"/><circle cx="1327.75" cy="1383.22" r="2.05"/><circle cx="1226.39" cy="1344.3" r="1.91"/><circle cx="1364.76" cy="1360.78" r="2.59"/><circle cx="1224.93" cy="1362.3" r="2.89"/><circle cx="1225.45" cy="1399.08" r="3.15"/><circle cx="1296.13" cy="1405.03" r="3.17"/><circle cx="1279.9" cy="1391.55" r="3.44"/><circle cx="1308.73" cy="1407.07" r="2.36"/><circle cx="1271.87" cy="1409.93" r="2.77"/><circle cx="1327.63" cy="1404.11" r="1.89"/><circle cx="1313.5" cy="1389.06" r="2.23"/><circle cx="1248.17" cy="1402.25" r="3.31"/><circle cx="1240.36" cy="1345.45" r="3.19"/><circle cx="1255.12" cy="1348.73" r="2.91"/><circle cx="1274.02" cy="1336.92" r="3.15"/><circle cx="1214.65" cy="1337.86" r="2.28"/><circle cx="1231.67" cy="1329.18" r="2.75"/><circle cx="1327.88" cy="1448.92" r="3.1"/><circle cx="1316.22" cy="1484.62" r="2.56"/><circle cx="1302.33" cy="1451.12" r="2.26"/><circle cx="1337.45" cy="1434.17" r="2.93"/><circle cx="1333.05" cy="1467.29" r="3.54"/><circle cx="1326.42" cy="1479.09" r="3.05"/><circle cx="1293.49" cy="1453.18" r="3.55"/><circle cx="1322.39" cy="1438.4" r="2.57"/><circle cx="1294.14" cy="1468.67" r="3.01"/><circle cx="1317.12" cy="1483.51" r="2.58"/><circle cx="1337.64" cy="1456.66" r="2.48"/><circle cx="1328.34" cy="1481.57" r="3.59"/><circle cx="1343.97" cy="1443.46" r="3.34"/><circle cx="1292.73" cy="1456.26" r="3.41"/><circle cx="1338.41" cy="1462.48" r="2.47"/><circle cx="1306.89" cy="1473.85" r="1.9"/><circle cx="1304.56" cy="1424.43" r="2.22"/><circle cx="1326.94" cy="1473.23" r="3.23"/><circle cx="1323.55" cy="1484.84" r="2.11"/><circle cx="1294.89" cy="1438.4" r="3.01"/><circle cx="1348.19" cy="1471.95" r="3.33"/><circle cx="1287.36" cy="1458.69" r="2.88"/><circle cx="1329.73" cy="1473.83" r="3.28"/><circle cx="1312.22" cy="1456.47" r="2.1"/><circle cx="1329.4" cy="1479.19" r="2.96"/><circle cx="1298.36" cy="1461.93" r="3.53"/><circle cx="1303.53" cy="1478.48" r="2.17"/><circle cx="1304.54" cy="1453.58" r="2"/><circle cx="1313.04" cy="1464.88" r="2.49"/><circle cx="1304.46" cy="1433.92" r="3.23"/><circle cx="1231.62" cy="1464.57" r="3.11"/><circle cx="1217.12" cy="1476.45" r="3.56"/><circle cx="1224.46" cy="1461.54" r="2.44"/><circle cx="1222.04" cy="1463.63" r="1.98"/><circle cx="1219.09" cy="1475.99" r="3.27"/><circle cx="1243.89" cy="1439.24" r="3.24"/><circle cx="1218.02" cy="1474.48" r="1.9"/><circle cx="1249.45" cy="1442.56" r="2.28"/><circle cx="1223.82" cy="1465.84" r="3.23"/><circle cx="1214.23" cy="1473.66" r="3.46"/><circle cx="1245.2" cy="1447.79" r="2.42"/><circle cx="1272.43" cy="1455.28" r="2.14"/></g>
</g>
<line x1="1320.8" y1="1492" x2="1352.3" y2="1492" stroke="#fff" stroke-width="2.6"/>
<clipPath id="cliph2"><rect x="1189.8" y="1503.7" width="172.4" height="171.7"/></clipPath>
<g clip-path="url(#cliph2)">
<rect x="1189.8" y="1503.7" width="172.4" height="171.7" fill="#888" filter="url(#cellTex2)"/>
<g fill="#4b5050" filter="url(#rough)"><ellipse cx="1267.38" cy="1563.8" rx="12.07" ry="8.58"/><ellipse cx="1319.1" cy="1546.62" rx="8.62" ry="6.87"/><ellipse cx="1293.24" cy="1606.72" rx="10.34" ry="6.87"/><ellipse cx="1241.52" cy="1632.47" rx="8.62" ry="6.87"/><ellipse cx="1336.34" cy="1641.06" rx="8.62" ry="8.58"/></g>
<g fill="#72cc44" opacity="0.68" filter="url(#soft)"><circle cx="1250.88" cy="1519.53" r="1.84"/><circle cx="1252.62" cy="1520.82" r="2.02"/><circle cx="1232.69" cy="1514.29" r="3.4"/><circle cx="1244.42" cy="1534.24" r="2.38"/><circle cx="1221.43" cy="1513" r="3.03"/><circle cx="1260.84" cy="1515.55" r="1.89"/><circle cx="1256.11" cy="1513.72" r="2.36"/><circle cx="1250.28" cy="1532.65" r="2.85"/><circle cx="1350.37" cy="1523.72" r="3.53"/><circle cx="1323.17" cy="1523.65" r="2.9"/><circle cx="1335.45" cy="1546.23" r="2.36"/><circle cx="1339.61" cy="1513" r="2.97"/><circle cx="1346.15" cy="1541.61" r="3"/><circle cx="1337.86" cy="1532.95" r="2.76"/><circle cx="1352.58" cy="1532.78" r="2.71"/><circle cx="1325.37" cy="1528.26" r="2.99"/><circle cx="1309.08" cy="1581.44" r="2.47"/><circle cx="1243.35" cy="1581.88" r="2.87"/><circle cx="1232.25" cy="1587.55" r="3.01"/><circle cx="1255.85" cy="1594.99" r="3.59"/><circle cx="1248.07" cy="1629.23" r="2.53"/><circle cx="1336.8" cy="1573" r="2.72"/><circle cx="1258.61" cy="1609.05" r="3.41"/><circle cx="1300.17" cy="1637.26" r="2.43"/><circle cx="1256.53" cy="1629.79" r="2.14"/><circle cx="1325.11" cy="1608.26" r="3.23"/><circle cx="1257.35" cy="1576.61" r="3.05"/><circle cx="1317.85" cy="1610.52" r="3.29"/><circle cx="1282.81" cy="1654.9" r="3.32"/><circle cx="1248.66" cy="1658.3" r="2.85"/><circle cx="1289.65" cy="1657.74" r="2.65"/><circle cx="1264.43" cy="1650.05" r="2.44"/><circle cx="1272.37" cy="1649.12" r="2.9"/><circle cx="1270.64" cy="1657.74" r="2.7"/></g>
</g>
<line x1="1318" y1="1668.8" x2="1349.6" y2="1668.8" stroke="#fff" stroke-width="2.6"/>
<clipPath id="cliph3"><rect x="1723" y="1324" width="173.4" height="173"/></clipPath>
<g clip-path="url(#cliph3)">
<rect x="1723" y="1324" width="173.4" height="173" fill="#4b5050"/>
<g fill="#888" filter="url(#cellTex2)"><g filter="url(#rough)"><ellipse cx="1759.89" cy="1487.06" rx="14.06" ry="13.21"/><ellipse cx="1752.41" cy="1357.49" rx="11.71" ry="10.27"/><ellipse cx="1795.17" cy="1390.35" rx="11.05" ry="10.59"/><ellipse cx="1879.5" cy="1384.59" rx="15.54" ry="11.64"/><ellipse cx="1764.4" cy="1422.39" rx="12.78" ry="16.5"/><ellipse cx="1741.69" cy="1341.18" rx="13.21" ry="11.2"/><ellipse cx="1887.92" cy="1486.73" rx="6.39" ry="6.4"/><ellipse cx="1887.32" cy="1477.71" rx="13.8" ry="14.12"/><ellipse cx="1807.93" cy="1472.24" rx="8.5" ry="12.31"/><ellipse cx="1750.01" cy="1457.28" rx="10.55" ry="16.83"/><ellipse cx="1802.06" cy="1425.03" rx="17.42" ry="12.45"/><ellipse cx="1842.56" cy="1480.25" rx="6.91" ry="10.06"/><ellipse cx="1842.18" cy="1406.56" rx="13.09" ry="10.75"/><ellipse cx="1889.95" cy="1346.26" rx="19.34" ry="17.65"/><ellipse cx="1823.19" cy="1371" rx="5.96" ry="5.99"/><ellipse cx="1874.58" cy="1336.57" rx="10.6" ry="12.31"/><ellipse cx="1847.6" cy="1426.68" rx="11.67" ry="9.95"/><ellipse cx="1792.21" cy="1360.75" rx="11.94" ry="13.16"/><ellipse cx="1886.16" cy="1347.03" rx="9.58" ry="9.23"/><ellipse cx="1731.82" cy="1359.02" rx="13.88" ry="10.42"/><ellipse cx="1744.64" cy="1332.17" rx="12.56" ry="12.45"/><ellipse cx="1834.06" cy="1423.87" rx="9.03" ry="7.73"/><ellipse cx="1769.57" cy="1419.6" rx="9.8" ry="11.42"/><ellipse cx="1779.06" cy="1426.49" rx="11.58" ry="18.27"/><ellipse cx="1825.88" cy="1421.11" rx="8.88" ry="14.14"/><ellipse cx="1756.48" cy="1407.74" rx="8.82" ry="7.86"/><ellipse cx="1781.96" cy="1419.32" rx="15.64" ry="12.38"/><ellipse cx="1781.98" cy="1339.07" rx="5.46" ry="6.23"/><ellipse cx="1829.41" cy="1453.75" rx="15.04" ry="14.21"/><ellipse cx="1782.67" cy="1369.15" rx="12.79" ry="10.87"/><ellipse cx="1770.1" cy="1433.67" rx="5.8" ry="6.98"/><ellipse cx="1853.37" cy="1365.34" rx="9.17" ry="10.82"/><ellipse cx="1878.48" cy="1326.64" rx="12.92" ry="10.71"/><ellipse cx="1766.19" cy="1463.19" rx="14.81" ry="16.98"/><ellipse cx="1872.42" cy="1477.59" rx="13.05" ry="15.25"/><ellipse cx="1861.41" cy="1400.5" rx="17.83" ry="17.37"/><ellipse cx="1799.66" cy="1399.66" rx="13.61" ry="9.01"/><ellipse cx="1746.69" cy="1368.09" rx="17.39" ry="17.08"/><ellipse cx="1774.88" cy="1421.93" rx="11.07" ry="8.9"/><ellipse cx="1797.61" cy="1467.59" rx="13.67" ry="11.83"/><ellipse cx="1796.44" cy="1396.19" rx="9.81" ry="8.1"/><ellipse cx="1813.92" cy="1417.85" rx="15.64" ry="11.57"/><ellipse cx="1724.12" cy="1325.65" rx="10.16" ry="11.26"/><ellipse cx="1759.17" cy="1329.5" rx="12.31" ry="9.39"/><ellipse cx="1832.71" cy="1350.64" rx="7.51" ry="9.14"/><ellipse cx="1789.62" cy="1412.03" rx="13.96" ry="9.01"/><ellipse cx="1763.71" cy="1430.26" rx="9.46" ry="9.54"/><ellipse cx="1846.44" cy="1364.78" rx="9.92" ry="7.71"/><ellipse cx="1878.34" cy="1453.47" rx="11.78" ry="10.54"/><ellipse cx="1769.47" cy="1327.9" rx="12.38" ry="13.01"/><ellipse cx="1880.79" cy="1423.47" rx="14.39" ry="18.46"/><ellipse cx="1855.44" cy="1373.78" rx="12.96" ry="10.95"/><ellipse cx="1870.56" cy="1430.97" rx="15.68" ry="12.42"/><ellipse cx="1736.18" cy="1429.48" rx="7.18" ry="6.15"/><ellipse cx="1838.55" cy="1338.62" rx="10.21" ry="14.86"/><ellipse cx="1859.41" cy="1367.94" rx="9.45" ry="14.18"/><ellipse cx="1824.69" cy="1334.31" rx="12.78" ry="14.31"/><ellipse cx="1812.47" cy="1352.3" rx="10.33" ry="9.21"/><ellipse cx="1890.63" cy="1372.18" rx="5.84" ry="7.9"/><ellipse cx="1864.45" cy="1360.16" rx="7.78" ry="7.53"/><ellipse cx="1766.35" cy="1401.85" rx="34.68" ry="31.14"/><ellipse cx="1861.72" cy="1453.75" rx="31.21" ry="34.6"/><ellipse cx="1809.7" cy="1471.05" rx="34.68" ry="20.76"/></g></g>
<g fill="#72cc44" opacity="0.68" filter="url(#soft)"><circle cx="1799.44" cy="1386.53" r="3.41"/><circle cx="1791.75" cy="1415.19" r="2.56"/><circle cx="1752.82" cy="1399.5" r="2.15"/><circle cx="1749.49" cy="1407.4" r="2.62"/><circle cx="1777.39" cy="1403.42" r="3.08"/><circle cx="1742.31" cy="1413.61" r="3.12"/><circle cx="1760.56" cy="1408.28" r="3.21"/><circle cx="1740.13" cy="1386.94" r="2.92"/><circle cx="1788.94" cy="1398.04" r="3.17"/><circle cx="1746.77" cy="1421.07" r="2.99"/><circle cx="1761.95" cy="1411.16" r="2.65"/><circle cx="1760.48" cy="1375.8" r="2.61"/><circle cx="1756.16" cy="1390.34" r="2.12"/><circle cx="1751.01" cy="1429.84" r="2.15"/><circle cx="1775.37" cy="1409" r="1.87"/><circle cx="1761.73" cy="1427.7" r="3.28"/><circle cx="1755.07" cy="1420.23" r="2.32"/><circle cx="1755" cy="1430.57" r="2.79"/><circle cx="1765.69" cy="1413.16" r="3.21"/><circle cx="1757.11" cy="1371.49" r="2.23"/><circle cx="1731.27" cy="1392.5" r="2.87"/><circle cx="1781.04" cy="1397.1" r="3.56"/><circle cx="1789.46" cy="1409.53" r="1.84"/><circle cx="1777.91" cy="1375.15" r="3.55"/><circle cx="1778.93" cy="1370.14" r="2.77"/><circle cx="1799.27" cy="1399.64" r="2.42"/><circle cx="1789.47" cy="1398.45" r="2.15"/><circle cx="1789.49" cy="1412.69" r="2.15"/><circle cx="1800.35" cy="1388.18" r="2.19"/><circle cx="1788.43" cy="1417.09" r="2.11"/><circle cx="1733.24" cy="1393.4" r="2.26"/><circle cx="1734.43" cy="1417.35" r="2.6"/><circle cx="1746.51" cy="1429.14" r="3.26"/><circle cx="1791.37" cy="1384.29" r="2.54"/><circle cx="1754.17" cy="1372.33" r="2.95"/><circle cx="1767.86" cy="1420.6" r="2.54"/><circle cx="1770.21" cy="1376.26" r="2.79"/><circle cx="1772.16" cy="1391.75" r="2.94"/><circle cx="1752.21" cy="1424.33" r="3.3"/><circle cx="1766.74" cy="1435.6" r="1.94"/><circle cx="1740.38" cy="1392.17" r="2.22"/><circle cx="1742.07" cy="1392.99" r="2.61"/><circle cx="1765.88" cy="1399.72" r="2.48"/><circle cx="1769.54" cy="1389.14" r="3.36"/><circle cx="1775.4" cy="1429.2" r="2.11"/><circle cx="1742.8" cy="1408.89" r="1.95"/><circle cx="1758.12" cy="1379.07" r="3.04"/><circle cx="1738.76" cy="1395.57" r="2.75"/><circle cx="1755.65" cy="1433.18" r="1.96"/><circle cx="1791.67" cy="1379.35" r="2.7"/><circle cx="1771.63" cy="1373.86" r="2.89"/><circle cx="1760.77" cy="1420.75" r="2.43"/><circle cx="1754.32" cy="1433.94" r="2.41"/><circle cx="1747.56" cy="1416.4" r="3.27"/><circle cx="1738.24" cy="1405.44" r="2.26"/><circle cx="1764.35" cy="1412.02" r="2.19"/><circle cx="1763.28" cy="1433.67" r="2.7"/><circle cx="1786.3" cy="1416.9" r="2.02"/><circle cx="1743.14" cy="1392.58" r="3.34"/><circle cx="1764.3" cy="1433.71" r="2.25"/><circle cx="1796.55" cy="1398.85" r="1.88"/><circle cx="1773.39" cy="1384.84" r="2.45"/><circle cx="1787.47" cy="1427.06" r="1.96"/><circle cx="1764.58" cy="1380.14" r="3.02"/><circle cx="1763.5" cy="1411.18" r="3.45"/><circle cx="1757.5" cy="1390.07" r="3.56"/><circle cx="1780.21" cy="1394.07" r="1.83"/><circle cx="1755.44" cy="1393.56" r="3.12"/><circle cx="1734.84" cy="1407.51" r="2.83"/><circle cx="1770.84" cy="1370.75" r="2.89"/><circle cx="1805.89" cy="1396.48" r="2.04"/><circle cx="1838.5" cy="1410.64" r="2.17"/><circle cx="1805.26" cy="1406.18" r="2.92"/><circle cx="1794.79" cy="1398.51" r="2.58"/><circle cx="1804.8" cy="1412.5" r="3.14"/><circle cx="1831.33" cy="1397.49" r="3.4"/><circle cx="1843.97" cy="1399.85" r="2.03"/><circle cx="1801.68" cy="1412.26" r="3.3"/><circle cx="1834.22" cy="1404.52" r="3.1"/><circle cx="1819.36" cy="1389.21" r="2.18"/><circle cx="1813.13" cy="1404.16" r="2.37"/><circle cx="1797.19" cy="1408.77" r="2.86"/><circle cx="1807.29" cy="1406.25" r="2.37"/><circle cx="1810.08" cy="1391.71" r="2.11"/><circle cx="1826.97" cy="1390.04" r="3.54"/><circle cx="1798.37" cy="1398.76" r="2.57"/><circle cx="1798.99" cy="1391.42" r="3.57"/><circle cx="1809.31" cy="1392.23" r="1.91"/><circle cx="1827.11" cy="1392.72" r="2.49"/><circle cx="1822.87" cy="1402.97" r="2.5"/><circle cx="1840.47" cy="1399.5" r="3.08"/><circle cx="1811.71" cy="1393.97" r="2.1"/><circle cx="1813.12" cy="1399.23" r="2.86"/><circle cx="1799.29" cy="1400.69" r="2.02"/><circle cx="1834.67" cy="1406.75" r="2.06"/><circle cx="1748.56" cy="1342.48" r="2.92"/><circle cx="1757.71" cy="1336.48" r="2.76"/><circle cx="1762.66" cy="1359.59" r="3.56"/><circle cx="1756.07" cy="1359.11" r="2.69"/><circle cx="1735.51" cy="1345.57" r="2.33"/><circle cx="1761.45" cy="1349.35" r="3.22"/><circle cx="1735.32" cy="1342.98" r="2.08"/><circle cx="1748.25" cy="1334.33" r="3"/><circle cx="1776.67" cy="1360.72" r="3.55"/><circle cx="1775.83" cy="1360.04" r="1.94"/><circle cx="1777.92" cy="1357.49" r="3.1"/><circle cx="1777.61" cy="1346.3" r="2.72"/><circle cx="1754.96" cy="1362.92" r="3.59"/><circle cx="1742.97" cy="1337.06" r="2.16"/><circle cx="1755.58" cy="1335.22" r="1.93"/><circle cx="1762.34" cy="1343.39" r="2.19"/><circle cx="1777.31" cy="1355.23" r="2.06"/><circle cx="1757.84" cy="1349.93" r="3.26"/><circle cx="1828.55" cy="1339.52" r="2.83"/><circle cx="1835.25" cy="1339.41" r="2.05"/><circle cx="1833.03" cy="1342.07" r="2.85"/><circle cx="1794.17" cy="1348.92" r="2.55"/><circle cx="1833.04" cy="1346.8" r="2.39"/><circle cx="1814.06" cy="1340.44" r="3.3"/><circle cx="1835.17" cy="1361.93" r="3.23"/><circle cx="1835.12" cy="1354" r="2.85"/><circle cx="1853.89" cy="1348.3" r="2.57"/><circle cx="1795.87" cy="1349.41" r="2.74"/><circle cx="1801.04" cy="1347.51" r="3.48"/><circle cx="1836.93" cy="1337.9" r="2.28"/><circle cx="1775.59" cy="1439.89" r="3.09"/><circle cx="1832.7" cy="1446.35" r="2.03"/><circle cx="1780.31" cy="1452.95" r="2.17"/><circle cx="1766.64" cy="1453.62" r="3.18"/><circle cx="1815.05" cy="1461.28" r="2.47"/><circle cx="1818.68" cy="1442.13" r="2.09"/><circle cx="1784.64" cy="1449.75" r="1.87"/><circle cx="1772.2" cy="1439.55" r="3.2"/><circle cx="1799.86" cy="1443.65" r="2.81"/><circle cx="1781.32" cy="1436.61" r="2.6"/><circle cx="1832.58" cy="1461.97" r="2.28"/><circle cx="1799.31" cy="1436.12" r="3.2"/><circle cx="1795.51" cy="1460.47" r="2.57"/><circle cx="1770.4" cy="1456.64" r="2.53"/><circle cx="1790.37" cy="1439.97" r="3.12"/><circle cx="1815.94" cy="1475.39" r="3.5"/><circle cx="1832.81" cy="1457.32" r="3.2"/><circle cx="1797.07" cy="1445.84" r="3.12"/><circle cx="1804.76" cy="1433.4" r="3.53"/><circle cx="1827.12" cy="1446.99" r="3.47"/><circle cx="1876.25" cy="1400.62" r="2.75"/><circle cx="1853.64" cy="1390.8" r="2.94"/><circle cx="1860.5" cy="1383.78" r="3.5"/><circle cx="1858.3" cy="1401.91" r="2.88"/><circle cx="1862.13" cy="1399" r="2.08"/><circle cx="1880.42" cy="1393.89" r="2.34"/><circle cx="1880.93" cy="1399.09" r="2.43"/><circle cx="1884.08" cy="1386.35" r="3"/><circle cx="1875.59" cy="1385.77" r="2.01"/><circle cx="1864.01" cy="1387.95" r="3.57"/><circle cx="1855.85" cy="1400.59" r="2.24"/><circle cx="1881.81" cy="1400.81" r="3.05"/><circle cx="1874.96" cy="1473.72" r="3.55"/><circle cx="1868.99" cy="1434.76" r="3.57"/><circle cx="1884.44" cy="1467.98" r="3.14"/><circle cx="1874.44" cy="1441.73" r="2.78"/><circle cx="1861.99" cy="1443.69" r="1.89"/><circle cx="1868.7" cy="1461.98" r="3.22"/><circle cx="1878.79" cy="1457.2" r="2.01"/><circle cx="1884.12" cy="1462.87" r="3.36"/><circle cx="1872.21" cy="1458.96" r="3.01"/><circle cx="1869.09" cy="1467.37" r="3.15"/></g>
</g>
<line x1="1855.7" y1="1490.6" x2="1885.8" y2="1490.6" stroke="#fff" stroke-width="2.6"/>
<clipPath id="cliph4"><rect x="1723" y="1503.6" width="173.4" height="173.1"/></clipPath>
<g clip-path="url(#cliph4)">
<rect x="1723" y="1503.6" width="173.4" height="173.1" fill="#888" filter="url(#cellTex2)"/>
<g fill="#4b5050" filter="url(#rough)"><ellipse cx="1847.85" cy="1645.54" rx="29.48" ry="22.5"/><ellipse cx="1870.39" cy="1624.77" rx="13.87" ry="13.85"/><ellipse cx="1809.7" cy="1529.56" rx="17.34" ry="8.65"/><ellipse cx="1775.02" cy="1598.8" rx="13.87" ry="8.65"/><ellipse cx="1818.37" cy="1590.15" rx="10.4" ry="6.92"/><ellipse cx="1749.01" cy="1555.53" rx="10.4" ry="8.65"/><ellipse cx="1757.68" cy="1520.91" rx="13.87" ry="8.65"/></g>
<g fill="#72cc44" opacity="0.68" filter="url(#soft)"><circle cx="1747.15" cy="1509.74" r="2.13"/><circle cx="1752.83" cy="1517.41" r="3.01"/><circle cx="1755.34" cy="1521.56" r="2.07"/><circle cx="1858.54" cy="1547.02" r="3.18"/><circle cx="1849.68" cy="1559.01" r="3.58"/><circle cx="1869.18" cy="1560.49" r="3.52"/><circle cx="1861.09" cy="1548.62" r="2.35"/><circle cx="1824.22" cy="1603.05" r="3.17"/><circle cx="1821.12" cy="1590.28" r="2.39"/><circle cx="1796.65" cy="1643.4" r="2.46"/><circle cx="1848.97" cy="1576.53" r="2.37"/><circle cx="1820.53" cy="1599.05" r="1.97"/></g>
</g>
<line x1="1856.5" y1="1670" x2="1888.4" y2="1670" stroke="#fff" stroke-width="2.6"/>
<rect x="1513.4" y="1412" width="43.3" height="204.4" fill="#d5d6da" stroke="#111" stroke-width="1.8"/>
<rect x="1579.7" y="1587.6" width="43.3" height="28.8" fill="#e2371f" stroke="#111" stroke-width="1.8"/>
<line x1="1534.4" y1="1372.2" x2="1534.4" y2="1451.3" stroke="#000" stroke-width="2"/>
<line x1="1523.4" y1="1372.2" x2="1545.4" y2="1372.2" stroke="#000" stroke-width="2"/>
<line x1="1523.4" y1="1451.3" x2="1545.4" y2="1451.3" stroke="#000" stroke-width="2"/>
<line x1="1601.4" y1="1577.6" x2="1601.4" y2="1595.4" stroke="#000" stroke-width="2"/>
<line x1="1590.4" y1="1577.6" x2="1612.4" y2="1577.6" stroke="#000" stroke-width="2"/>
<line x1="1590.4" y1="1595.4" x2="1612.4" y2="1595.4" stroke="#000" stroke-width="2"/>
<circle cx="1534.4" cy="1366.1" r="5.2" fill="#fff" stroke="#111" stroke-width="1.4"/>
<circle cx="1534.4" cy="1427.7" r="5.2" fill="#fff" stroke="#111" stroke-width="1.4"/>
<circle cx="1534.4" cy="1440.8" r="5.2" fill="#fff" stroke="#111" stroke-width="1.4"/>
<circle cx="1602.5" cy="1575.8" r="5.2" fill="#fff" stroke="#111" stroke-width="1.4"/>
<circle cx="1594.7" cy="1594.1" r="5.2" fill="#fff" stroke="#111" stroke-width="1.4"/>
<circle cx="1609" cy="1591.5" r="5.2" fill="#fff" stroke="#111" stroke-width="1.4"/>
<line x1="1489.8" y1="1342" x2="1489.8" y2="1616.4" stroke="#000" stroke-width="1.6"/>
<line x1="1477.8" y1="1616.4" x2="1639" y2="1616.4" stroke="#000" stroke-width="1.6"/>
<line x1="1477.8" y1="1616.4" x2="1489.8" y2="1616.4" stroke="#000" stroke-width="1.6"/>
<text x="1475.8" y="1624" font-size="21.2" text-anchor="end">0</text>
<line x1="1477.8" y1="1561.52" x2="1489.8" y2="1561.52" stroke="#000" stroke-width="1.6"/>
<text x="1475.8" y="1569.12" font-size="21.2" text-anchor="end">20</text>
<line x1="1477.8" y1="1506.64" x2="1489.8" y2="1506.64" stroke="#000" stroke-width="1.6"/>
<text x="1475.8" y="1514.24" font-size="21.2" text-anchor="end">40</text>
<line x1="1477.8" y1="1451.76" x2="1489.8" y2="1451.76" stroke="#000" stroke-width="1.6"/>
<text x="1475.8" y="1459.36" font-size="21.2" text-anchor="end">60</text>
<line x1="1477.8" y1="1396.88" x2="1489.8" y2="1396.88" stroke="#000" stroke-width="1.6"/>
<text x="1475.8" y="1404.48" font-size="21.2" text-anchor="end">80</text>
<line x1="1477.8" y1="1342" x2="1489.8" y2="1342" stroke="#000" stroke-width="1.6"/>
<text x="1475.8" y="1349.6" font-size="21.2" text-anchor="end">100</text>
<text x="1571" y="1337.3" font-size="21.4" text-anchor="middle"><tspan font-style="italic">P</tspan> = 0.0017</text>
<line x1="1535.7" y1="1347.3" x2="1606.5" y2="1347.3" stroke="#000" stroke-width="1.6"/>
<text x="1398" y="1472.3" font-size="27" text-anchor="middle" transform="rotate(-90 1398 1472.3)" dy="9.72">Cell death (Sytoxgreen)</text>
<text x="1429.6" y="1472.3" font-size="27" text-anchor="middle" transform="rotate(-90 1429.6 1472.3)" dy="9.72">A.U.x10^4</text>
<line x1="1535" y1="1616.4" x2="1535" y2="1628.4" stroke="#000" stroke-width="1.6"/>
<text x="1535" y="1636.4" font-size="25" text-anchor="end" transform="rotate(-90 1535 1636.4)" dy="9">Control</text>
<line x1="1601" y1="1616.4" x2="1601" y2="1628.4" stroke="#000" stroke-width="1.6"/>
<text x="1601" y="1636.4" font-size="25" text-anchor="end" transform="rotate(-90 1601 1636.4)" dy="9">D374Y</text>
<rect x="2037.5" y="1402.4" width="42.4" height="215.2" fill="#d5d6da" stroke="#111" stroke-width="1.8"/>
<rect x="2102.5" y="1600.3" width="42.1" height="17.3" fill="#e2371f" stroke="#111" stroke-width="1.8"/>
<line x1="2058.8" y1="1366" x2="2058.8" y2="1437" stroke="#000" stroke-width="2"/>
<line x1="2049.3" y1="1366" x2="2068.3" y2="1366" stroke="#000" stroke-width="2"/>
<line x1="2049.3" y1="1437" x2="2068.3" y2="1437" stroke="#000" stroke-width="2"/>
<line x1="2123.8" y1="1590" x2="2123.8" y2="1607.4" stroke="#000" stroke-width="2"/>
<line x1="2114.3" y1="1590" x2="2133.3" y2="1590" stroke="#000" stroke-width="2"/>
<line x1="2114.3" y1="1607.4" x2="2133.3" y2="1607.4" stroke="#000" stroke-width="2"/>
<circle cx="2049.5" cy="1377.1" r="5.2" fill="#fff" stroke="#111" stroke-width="1.4"/>
<circle cx="2067.3" cy="1383.8" r="5.2" fill="#fff" stroke="#111" stroke-width="1.4"/>
<circle cx="2058.8" cy="1443.7" r="5.2" fill="#fff" stroke="#111" stroke-width="1.4"/>
<circle cx="2123.8" cy="1588.8" r="5.2" fill="#fff" stroke="#111" stroke-width="1.4"/>
<circle cx="2115.8" cy="1606.6" r="5.2" fill="#fff" stroke="#111" stroke-width="1.4"/>
<circle cx="2131.8" cy="1604" r="5.2" fill="#fff" stroke="#111" stroke-width="1.4"/>
<line x1="2015.4" y1="1349.2" x2="2015.4" y2="1617.6" stroke="#000" stroke-width="1.6"/>
<line x1="2003.4" y1="1617.6" x2="2167" y2="1617.6" stroke="#000" stroke-width="1.6"/>
<line x1="2003.4" y1="1617.6" x2="2015.4" y2="1617.6" stroke="#000" stroke-width="1.6"/>
<text x="2001.4" y="1625.2" font-size="21.2" text-anchor="end">0</text>
<line x1="2003.4" y1="1528.13" x2="2015.4" y2="1528.13" stroke="#000" stroke-width="1.6"/>
<text x="2001.4" y="1535.73" font-size="21.2" text-anchor="end">20</text>
<line x1="2003.4" y1="1438.67" x2="2015.4" y2="1438.67" stroke="#000" stroke-width="1.6"/>
<text x="2001.4" y="1446.27" font-size="21.2" text-anchor="end">40</text>
<line x1="2003.4" y1="1349.2" x2="2015.4" y2="1349.2" stroke="#000" stroke-width="1.6"/>
<text x="2001.4" y="1356.8" font-size="21.2" text-anchor="end">60</text>
<text x="2096.6" y="1344.7" font-size="21.4" text-anchor="middle"><tspan font-style="italic">P</tspan> = 0.0008</text>
<line x1="2060.7" y1="1353.7" x2="2128.6" y2="1353.7" stroke="#000" stroke-width="1.6"/>
<text x="1919.3" y="1470" font-size="24.3" text-anchor="middle" transform="rotate(-90 1919.3 1470)" dy="8.75">Cell death (Sytoxgreen)</text>
<text x="1948.7" y="1470" font-size="24.3" text-anchor="middle" transform="rotate(-90 1948.7 1470)" dy="8.75">A.U.x10^4</text>
<line x1="2059.4" y1="1617.6" x2="2059.4" y2="1629.6" stroke="#000" stroke-width="1.6"/>
<text x="2059.4" y="1637.6" font-size="25" text-anchor="end" transform="rotate(-90 2059.4 1637.6)" dy="9">Control</text>
<line x1="2124" y1="1617.6" x2="2124" y2="1629.6" stroke="#000" stroke-width="1.6"/>
<text x="2124" y="1637.6" font-size="25" text-anchor="end" transform="rotate(-90 2124 1637.6)" dy="9">+D374Y</text>
<text x="0" y="0" font-size="40" font-weight="bold" transform="translate(6 1771) scale(1.13 0.95)">i</text>
<text x="43.6" y="1798.7" font-size="30.4">KP4 - sgSC5D_1</text>
<text x="47" y="1995" font-size="30.4">KP4 - sgSC5D_2</text>
<text x="36.9" y="1822" font-size="18.2">Control Sample 332 to 397 bp</text>
<text x="65.5 73.78 82.07 90.35 98.64 106.92 115.21 123.49 131.78 140.06 148.35 156.63 164.92 173.2 181.48 189.77 198.05 206.34 214.62 222.91 231.19 239.48 247.76 256.05 264.33 272.62 280.9 289.18 297.47 305.75 314.04 322.32 330.61 338.89 347.18 355.46 363.75 372.03 380.32 388.6 396.88 405.17 413.45 421.74 430.02 438.31 446.59 454.88 463.16 471.45 479.73 488.02 496.3 504.58 512.87 521.15 529.44 537.72 546.01 554.29 562.58 570.86 579.15 587.43 595.72 604" y="1833.3" font-size="8.8" fill="#555" text-anchor="middle">ATTACTATTTTTTTACACCATACGTGTATCCAGCCACATGGCCAGAAGATGACATCTTCCGACAAG</text>
<line x1="231.5" y1="1835.8" x2="370.7" y2="1835.8" stroke="#111" stroke-width="1.6"/>
<line x1="370.7" y1="1835.8" x2="395.8" y2="1835.8" stroke="#e03a2a" stroke-width="1.6" stroke-dasharray="2 1.5"/>
<text x="49.6" y="1838.66" font-size="8.5" text-anchor="end" fill="#555">1000</text>
<text x="49.6" y="1857.06" font-size="8.5" text-anchor="end" fill="#555">500</text>
<text x="49.6" y="1874.56" font-size="8.5" text-anchor="end" fill="#555">0</text>
<line x1="61.02" y1="1871.8" x2="609.82" y2="1871.8" stroke="#3fb1e3" stroke-width="1.25"/>
<path d="M66.62 1871.8l1.4 -0.3 1.4 -1 1.4 -2.9 1.4 -4.9 1.4 -4.3 1.4 0 1.4 4 1.4 3.4 1.4 -1.1 1.4 -5.6 1.4 -5.1 1.4 0.5 1.4 5.9 1.4 6.3 1.4 3.6 1.4 1.2 1.4 0.3M100.22 1871.8l1.4 -0.4 1.4 -1.4 1.4 -3.5 1.4 -5.1 1.4 -3.5 1.4 1.4 1.4 4.9 1.4 4.5 1.4 2.2 1.4 0.9M117.02 1871.8l1.4 -0.9 1.4 -2.8 1.4 -6.6 1.4 -8.8 1.4 -5 1.4 3.4 1.4 8.1 1.4 5.5 1.4 -0.7 1.4 -4.3 1.4 -2.5 1.4 2.3 1.4 4.3 1.4 1.1 1.4 -5 1.4 -8.2 1.4 -3.9 1.4 4.4 1.4 7.7 1.4 3.5 1.4 -3.8 1.4 -7.3 1.4 -3.2 1.4 4.6 1.4 7.7 1.4 3.9 1.4 -1.8 1.4 -4.4 1.4 -1.7 1.4 3.1 1.4 4.2 1.4 0.4 1.4 -5 1.4 -6.8 1.4 -2 1.4 4.8 1.4 6.5 1.4 1.8 1.4 -4.2 1.4 -6 1.4 -1.4 1.4 5.1 1.4 7 1.4 4.6 1.4 1.8 1.4 0.5M224.82 1871.8l1.4 -0.5 1.4 -1.5 1.4 -3.8 1.4 -5.6 1.4 -3.8 1.4 1.5 1.4 5.3 1.4 4.9 1.4 2.5 1.4 1M258.42 1871.8l1.4 -0.7 1.4 -2.1 1.4 -4.5 1.4 -5.7 1.4 -2.7 1.4 2.9 1.4 5.7 1.4 4.5 1.4 1.9 1.4 0.7M275.22 1871.8l1.4 -1.2 1.4 -3.1 1.4 -6.4 1.4 -7.5 1.4 -2.6 1.4 4.7 1.4 7.6 1.4 5.5 1.4 2.3 1.4 0.7M290.62 1871.8l1.4 -0.4 1.4 -1.8 1.4 -5.3 1.4 -10.3 1.4 -10.8 1.4 -2.5 1.4 8.2 1.4 11.5 1.4 7.5 1.4 3 1.4 0.9M374.62 1871.8l1.4 -1 1.4 -2.9 1.4 -6.5 1.4 -8.7 1.4 -4.6 1.4 3.7 1.4 8.6 1.4 7 1.4 3.3 1.4 1.1M465.62 1871.8l1.4 -0.6 1.4 -2.2 1.4 -5.8 1.4 -8.9 1.4 -6.7 1.4 1.6 1.4 8.3 1.4 8.1 1.4 4.4 1.4 1.4 1.4 0.4M507.62 1871.8l1.4 -1 1.4 -3 1.4 -6.5 1.4 -8.3 1.4 -4.1 1.4 4.1 1.4 8.3 1.4 6.5 1.4 3 1.4 1M524.42 1871.8l1.4 -0.8 1.4 -2.3 1.4 -4.6 1.4 -5.5 1.4 -2.1 1.4 3.1 1.4 4.3 1.4 -0.2 1.4 -6.7 1.4 -8.9 1.4 -2.9 1.4 6.4 1.4 9.8 1.4 6.7 1.4 2.8 1.4 0.9" fill="none" stroke="#e07366" stroke-width="1.25"/>
<path d="M61.02 1852.81l1.4 -14 1.4 -7.7 1.4 4.1 1.4 11.9 1.4 12 1.4 7.8 1.4 3.5 1.4 1.1 1.4 0.3M83.42 1871.8l1.4 -0.6 1.4 -1.9 1.4 -5.3 1.4 -8.2 1.4 -6.4 1.4 1.1 1.4 7.6 1.4 7.8 1.4 4.2 1.4 1.4 1.4 0.3M108.62 1871.8l1.4 -0.5 1.4 -1.8 1.4 -4.1 1.4 -5.8 1.4 -3.6 1.4 1.9 1.4 5.6 1.4 5 1.4 2.4 1.4 0.9M174.42 1871.8l1.4 -0.3 1.4 -1.1 1.4 -3.4 1.4 -6.3 1.4 -6.2 1.4 -1 1.4 5.2 1.4 6.8 1.4 4.2 1.4 1.6 1.4 0.5M191.22 1871.8l1.4 -0.3 1.4 -1 1.4 -2.7 1.4 -4.8 1.4 -4.3 1.4 0 1.4 4.2 1.4 4.8 1.4 2.8 1.4 1 1.4 0.3M216.42 1871.8l1.4 -0.5 1.4 -1.7 1.4 -4.4 1.4 -6.7 1.4 -5 1.4 1.4 1.4 6.3 1.4 6.1 1.4 3.2 1.4 1 1.4 0.3M233.22 1871.8l1.4 -0.6 1.4 -1.8 1.4 -4.5 1.4 -6.4 1.4 -4 1.4 2 1.4 6.2 1.4 5.4 1.4 2.7 1.4 1M282.22 1871.8l1.4 -0.3 1.4 -1.4 1.4 -4.4 1.4 -8.6 1.4 -9.5 1.4 -2.8 1.4 6.6 1.4 10 1.4 6.8 1.4 2.7 1.4 0.9M315.82 1871.8l1.4 -0.5 1.4 -2 1.4 -5.6 1.4 -9.7 1.4 -8.6 1.4 -0.2 1.4 8.5 1.4 9.7 1.4 5.8 1.4 2 1.4 0.6M349.42 1871.8l1.4 -0.7 1.4 -2.2 1.4 -5.5 1.4 -8.2 1.4 -5.6 1.4 2 1.4 7.8 1.4 7.2 1.4 3.7 1.4 1.2 1.4 0.3M366.22 1871.8l1.4 -0.9 1.4 -2.8 1.4 -6.6 1.4 -9.1 1.4 -5.3 1.4 3.4 1.4 8.8 1.4 7.6 1.4 3.6 1.4 1.3M416.62 1871.8l1.4 -1.2 1.4 -2.9 1.4 -5.7 1.4 -6 1.4 -1.5 1.4 4.5 1.4 6.4 1.4 4.2 1.4 1.7 1.4 0.5M432.02 1871.8l1.4 -0.3 1.4 -1.2 1.4 -3.5 1.4 -6.3 1.4 -6 1.4 -0.7 1.4 4.8 1.4 4.2 1.4 -2.8 1.4 -10.3 1.4 -10.3 1.4 -0.3 1.4 10.3 1.4 12 1.4 7.1 1.4 2.6 1.4 0.7M457.22 1871.8l1.4 -0.8 1.4 -2.9 1.4 -7.7 1.4 -12.5 1.4 -10 1.4 1.3 1.4 11.4 1.4 11.9 1.4 6.5 1.4 2.2 1.4 0.6M482.42 1871.8l1.4 -0.5 1.4 -1.6 1.4 -3.8 1.4 -5.5 1.4 -3.5 1.4 1.6 1.4 5.3 1.4 4.7 1.4 2.4 1.4 0.9M499.22 1871.8l1.4 -0.8 1.4 -2.5 1.4 -5.8 1.4 -7.6 1.4 -4.1 1.4 3.2 1.4 7.5 1.4 6.2 1.4 2.9 1.4 1M565.02 1871.8l1.4 -0.3 1.4 -1.3 1.4 -3.7 1.4 -6.4 1.4 -5.8 1.4 -0.3 1.4 5.6 1.4 6.5 1.4 3.9 1.4 1.4 1.4 0.4M581.82 1871.8l1.4 -0.5 1.4 -1.8 1.4 -5 1.4 -8 1.4 -6.5 1.4 0.7 1.4 6.7 1.4 5.2 1.4 -2.2 1.4 -8.6 1.4 -7.3 1.4 1.7 1.4 9.3 1.4 9.3 1.4 4.9 1.4 1.7 1.4 0.4" fill="none" stroke="#9fcf45" stroke-width="1.25"/>
<path d="M250.02 1871.8l1.4 -0.5 1.4 -1.5 1.4 -3.5 1.4 -4.6 1.4 -2.3 1.4 2 1.4 4.5 1.4 3.6 1.4 1.7 1.4 0.6M266.82 1871.8l1.4 -0.9 1.4 -2.4 1.4 -5.1 1.4 -6.2 1.4 -2.5 1.4 3.5 1.4 6.3 1.4 4.6 1.4 2 1.4 0.7M325.62 1871.8l1.4 -1 1.4 -2.2 1.4 -3.6 1.4 -3 1.4 0.2 1.4 3.2 1.4 3.5 1.4 2 1.4 0.9M383.02 1871.8l1.4 -0.6 1.4 -1.5 1.4 -3.6 1.4 -4.4 1.4 -2.2 1.4 2.1 1.4 3.7 1.4 1 1.4 -3.7 1.4 -6 1.4 -2.7 1.4 3.6 1.4 6.6 1.4 4.9 1.4 2.1 1.4 0.7M425.02 1871.8l1.4 -1 1.4 -2.5 1.4 -4.7 1.4 -4.7 1.4 -0.8 1.4 3.8 1.4 5.1 1.4 3.2 1.4 1.2 1.4 0.4M448.82 1871.8l1.4 -0.5 1.4 -1.6 1.4 -4.6 1.4 -7.8 1.4 -6.5 1.4 0.3 1.4 6.9 1.4 7.6 1.4 4.3 1.4 1.5 1.4 0.4M474.02 1871.8l1.4 -0.4 1.4 -1.3 1.4 -3.3 1.4 -5 1.4 -3.5 1.4 1.2 1.4 4.7 1.4 4.4 1.4 2.3 1.4 0.9M558.02 1871.8l1.4 -0.9 1.4 -2 1.4 -3.8 1.4 -3.5 1.4 -0.5 1.4 3.2 1.4 3.9 1.4 2.4 1.4 0.9 1.4 0.3M598.62 1871.8l1.4 -0.3 1.4 -1.2 1.4 -3 1.4 -4.4 1.4 -3.2 1.4 1 1.4 4.2 1.4 4" fill="none" stroke="#1a1a1a" stroke-width="1.25"/>
<path d="M91.82 1871.8l1.4 -0.4 1.4 -1.3 1.4 -3.5 1.4 -5.2 1.4 -3.8 1.4 1.1 1.4 4.9 1.4 4.7 1.4 2.5 1.4 1M182.82 1871.8l1.4 -0.5 1.4 -1.8 1.4 -5.4 1.4 -9.6 1.4 -8.9 1.4 -0.8 1.4 8.2 1.4 9.9 1.4 6.1 1.4 2.2 1.4 0.6M199.62 1871.8l1.4 -0.3 1.4 -1 1.4 -2.6 1.4 -4.5 1.4 -3.7 1.4 0.2 1.4 3.4 1.4 2 1.4 -3.6 1.4 -8.9 1.4 -7.4 1.4 1.3 1.4 8.9 1.4 9.1 1.4 5 1.4 1.7 1.4 0.4M241.62 1871.8l1.4 -1.3 1.4 -4 1.4 -9.3 1.4 -12.7 1.4 -7.4 1.4 4.9 1.4 12.5 1.4 10.5 1.4 5 1.4 1.5 1.4 0.3M300.42 1871.8l1.4 -1.2 1.4 -2.7 1.4 -5.2 1.4 -5.1 1.4 -1 1.4 3.9 1.4 3.9 1.4 -1.3 1.4 -7.3 1.4 -7.9 1.4 -0.7 1.4 7.4 1.4 9.1 1.4 5.5 1.4 2 1.4 0.6M332.62 1871.8l1.4 -0.6 1.4 -2 1.4 -5.3 1.4 -8.5 1.4 -6.8 1.4 1 1.4 7.2 1.4 5.7 1.4 -1.7 1.4 -7.9 1.4 -6.6 1.4 1.8 1.4 8.8 1.4 8.5 1.4 4.5 1.4 1.5 1.4 0.4M357.82 1871.8l1.4 -0.5 1.4 -1.7 1.4 -4 1.4 -5.7 1.4 -3.7 1.4 1.8 1.4 5.5 1.4 4.9 1.4 2.5 1.4 0.9M399.82 1871.8l1.4 -0.9 1.4 -2.3 1.4 -4.8 1.4 -5.6 1.4 -2.1 1.4 3.4 1.4 5.1 1.4 2.1 1.4 -2.4 1.4 -4 1.4 -1.3 1.4 3.1 1.4 4.7 1.4 3.3 1.4 1.3 1.4 0.4M490.82 1871.8l1.4 -0.8 1.4 -2.5 1.4 -5.8 1.4 -8.1 1.4 -4.8 1.4 2.9 1.4 7.9 1.4 6.8 1.4 3.2 1.4 1.2M516.02 1871.8l1.4 -0.7 1.4 -1.9 1.4 -4 1.4 -5 1.4 -2.1 1.4 2.7 1.4 5 1.4 3.8 1.4 1.7 1.4 0.5M539.82 1871.8l1.4 -0.3 1.4 -1.1 1.4 -3.7 1.4 -7 1.4 -7.4 1.4 -2 1.4 5.3 1.4 6.5 1.4 1.2 1.4 -5.6 1.4 -7.3 1.4 -1.3 1.4 6.3 1.4 8.3 1.4 5.4 1.4 2.1 1.4 0.6M573.42 1871.8l1.4 -0.5 1.4 -2 1.4 -5.6 1.4 -9.3 1.4 -8.1 1.4 0.3 1.4 8.3 1.4 9.2 1.4 5.3 1.4 1.9 1.4 0.5" fill="none" stroke="#3fb1e3" stroke-width="1.25"/>
<text x="95" y="1880.2" font-size="8.5" text-anchor="middle" fill="#555">335</text>
<text x="136.2" y="1880.2" font-size="8.5" text-anchor="middle" fill="#555">340</text>
<text x="177.4" y="1880.2" font-size="8.5" text-anchor="middle" fill="#555">345</text>
<text x="218.6" y="1880.2" font-size="8.5" text-anchor="middle" fill="#555">350</text>
<text x="259.8" y="1880.2" font-size="8.5" text-anchor="middle" fill="#555">355</text>
<text x="301" y="1880.2" font-size="8.5" text-anchor="middle" fill="#555">360</text>
<text x="342.2" y="1880.2" font-size="8.5" text-anchor="middle" fill="#555">365</text>
<text x="383.4" y="1880.2" font-size="8.5" text-anchor="middle" fill="#555">370</text>
<text x="424.6" y="1880.2" font-size="8.5" text-anchor="middle" fill="#555">375</text>
<text x="465.8" y="1880.2" font-size="8.5" text-anchor="middle" fill="#555">380</text>
<text x="507" y="1880.2" font-size="8.5" text-anchor="middle" fill="#555">385</text>
<text x="548.2" y="1880.2" font-size="8.5" text-anchor="middle" fill="#555">390</text>
<text x="589.4" y="1880.2" font-size="8.5" text-anchor="middle" fill="#555">395</text>
<line x1="347.2" y1="1826.5" x2="347.2" y2="1871.8" stroke="#333" stroke-width="1.3" stroke-dasharray="3 2"/>
<text x="36.9" y="1899.3" font-size="18.1">Edited Sample 336 to 401 bp</text>
<text x="65.5 73.91 82.33 90.74 99.16 107.57 115.98 124.4 132.81 141.23 149.64 158.05 166.47 174.88 183.3 191.71 200.12 208.54 216.95 225.37 233.78 242.2 250.61 259.02 267.44 275.85 284.27 292.68 301.09 309.51 317.92 326.34 334.75 343.16 351.58 359.99 368.41 376.82 385.23 393.65 402.06 410.48 418.89 427.3 435.72 444.13 452.55 460.96 469.38 477.79 486.2 494.62 503.03 511.45 519.86 528.27 536.69 545.1 553.52 561.93 570.34 578.76 587.17 595.59 604" y="1910" font-size="8.8" fill="#555" text-anchor="middle">ATTACTATTTTTTTACACCATACGTGTATCCAGCCCACGGGCAAAAAGAACATCTTCCGAGAAGC</text>
<text x="45.5" y="1919.06" font-size="8.5" text-anchor="end" fill="#555">400</text>
<text x="45.5" y="1935.06" font-size="8.5" text-anchor="end" fill="#555">200</text>
<text x="45.5" y="1951.56" font-size="8.5" text-anchor="end" fill="#555">0</text>
<line x1="60.94" y1="1948.7" x2="609.74" y2="1948.7" stroke="#3fb1e3" stroke-width="1.25"/>
<path d="M66.54 1948.7l1.4 -0.3 1.4 -1 1.4 -3.1 1.4 -5.5 1.4 -5.4 1.4 -0.9 1.4 4.1 1.4 4.3 1.4 -0.9 1.4 -6.9 1.4 -8.1 1.4 -1.5 1.4 6.8 1.4 9.2 1.4 6 1.4 2.5 1.4 0.7M101.54 1948.7l1.4 -0.9 1.4 -2.3 1.4 -4.3 1.4 -4.6 1.4 -1.2 1.4 3.3 1.4 4.8 1.4 3.4 1.4 1.4 1.4 0.4M116.94 1948.7l1.4 -0.3 1.4 -1.3 1.4 -4 1.4 -7.8 1.4 -8.6 1.4 -2.7 1.4 5.5 1.4 8 1.4 3.2 1.4 -3.5 1.4 -6.1 1.4 -2.2 1.4 4.1 1.4 5.9 1.4 1.2 1.4 -5.9 1.4 -8.6 1.4 -3.2 1.4 5.4 1.4 8.4 1.4 3.1 1.4 -4.6 1.4 -8.1 1.4 -3.3 1.4 5.1 1.4 8.4 1.4 4.3 1.4 -2.3 1.4 -5.3 1.4 -2.4 1.4 3.4 1.4 5.9 1.4 3.1 1.4 -1.4 1.4 -3.6 1.4 -1.7 1.4 2.1 1.4 3.3 1.4 0 1.4 -5.3 1.4 -8 1.4 -3.7 1.4 4.3 1.4 8.5 1.4 6.6 1.4 3 1.4 1.1M227.54 1948.7l1.4 -0.6 1.4 -1.7 1.4 -4 1.4 -5.4 1.4 -3.2 1.4 1.8 1.4 5.2 1.4 4.7 1.4 2.3 1.4 0.9M261.14 1948.7l1.4 -1 1.4 -3 1.4 -7.3 1.4 -10.7 1.4 -7.3 1.4 2.5 1.4 10 1.4 9.6 1.4 5.1 1.4 1.7 1.4 0.4M277.94 1948.7l1.4 -0.4 1.4 -1.2 1.4 -3 1.4 -4.5 1.4 -3.3 1.4 0.8 1.4 4.2 1.4 4.2 1.4 2.2 1.4 1M294.74 1948.7l1.4 -0.5 1.4 -1.5 1.4 -4 1.4 -6.2 1.4 -4.7 1.4 0.9 1.4 5.5 1.4 5.8 1.4 3.3 1.4 1.1 1.4 0.3M338.14 1948.7l1.4 -0.8 1.4 -1.2 1.4 -1.6 1.4 -0.7 1.4 0.7 1.4 1.5 1.4 1.3 1.4 0.8M361.94 1948.7l1.4 -0.4 1.4 -0.7 1.4 -1.3 1.4 -1.2 1.4 0 1.4 1.1 1.4 1.3 1.4 0.8 1.4 0.4M398.34 1948.7l1.4 -0.3 1.4 -0.9 1.4 -1.6 1.4 -1.7 1.4 -0.5 1.4 1.2 1.4 1.8 1.4 1.3 1.4 0.7M429.14 1948.7l1.4 -0.3 1.4 -0.7 1.4 -1.5 1.4 -1.8 1.4 -0.7 1.4 1 1.4 1.8 1.4 1.4 1.4 0.8M483.74 1948.7l1.4 -0.4 1.4 -0.6 1.4 -0.8 1.4 -0.6 1.4 -0.1 1.4 -0.3 1.4 -1.1 1.4 -1 1.4 0.2 1.4 1.6 1.4 1.5 1.4 0.4 1.4 -0.8 1.4 -1.5 1.4 -0.7 1.4 0.7 1.4 1.5 1.4 1.2 1.4 0.8M514.54 1948.7l1.4 -0.3 1.4 -0.7 1.4 -1.6 1.4 -2.1 1.4 -1.1 1.4 0.9 1.4 1.9 1.4 1.2 1.4 -0.4 1.4 -1.3 1.4 -0.8 1.4 0.7 1.4 1.5 1.4 1.2 1.4 0.9M548.14 1948.7l1.4 -0.5 1.4 -0.8 1.4 -1.1 1.4 -0.6 1.4 0.4 1.4 1 1.4 1 1.4 0.6M564.94 1948.7l1.4 -0.6 1.4 -1.2 1.4 -1.6 1.4 -1 1.4 0.5 1.4 1.5 1.4 1.4 1.4 0.6 1.4 0 1.4 -0.4 1.4 -0.5 1.4 -0.3 1.4 0.3 1.4 0.6 1.4 0.4 1.4 0.3M592.94 1948.7l1.4 -0.8 1.4 -1 1.4 -1 1.4 -0.2 1.4 0.8 1.4 1.1 1.4 0.7 1.4 0.4" fill="none" stroke="#e07366" stroke-width="1.25"/>
<path d="M60.94 1928.74l1.4 -16.8 1.4 -13.6 1.4 -2.2 1.4 10.4 1.4 16.6 1.4 14.2 1.4 7.8 1.4 2.8 1.4 0.8M83.34 1948.7l1.4 -0.3 1.4 -1.2 1.4 -3.4 1.4 -6.4 1.4 -6.5 1.4 -1.4 1.4 5.1 1.4 6.9 1.4 4.7 1.4 1.9 1.4 0.6M108.54 1948.7l1.4 -0.3 1.4 -1 1.4 -3.3 1.4 -6.2 1.4 -6.8 1.4 -1.9 1.4 4.7 1.4 7.1 1.4 4.9 1.4 2.1 1.4 0.7M177.14 1948.7l1.4 -0.7 1.4 -1.9 1.4 -3.9 1.4 -5 1.4 -2.3 1.4 2.4 1.4 4.9 1.4 4 1.4 1.8 1.4 0.7M193.94 1948.7l1.4 -1.1 1.4 -2.9 1.4 -6.5 1.4 -8.3 1.4 -4.3 1.4 3.7 1.4 8.2 1.4 6.8 1.4 3.2 1.4 1.2M219.14 1948.7l1.4 -1.1 1.4 -3.1 1.4 -7.1 1.4 -9.6 1.4 -5.5 1.4 3.5 1.4 9.3 1.4 8 1.4 4 1.4 1.3 1.4 0.3M235.94 1948.7l1.4 -0.5 1.4 -1.5 1.4 -3.4 1.4 -4.7 1.4 -3 1.4 1.5 1.4 4.6 1.4 4.1 1.4 2.1 1.4 0.8M286.34 1948.7l1.4 -0.4 1.4 -1.1 1.4 -2.9 1.4 -4.5 1.4 -3.3 1.4 0.7 1.4 4.1 1.4 4.1 1.4 2.3 1.4 1M319.94 1948.7l1.4 -0.6 1.4 -2.2 1.4 -5.6 1.4 -9.2 1.4 -7.5 1.4 0.5 1.4 8 1.4 9 1.4 5.2 1.4 1.9 1.4 0.5M347.94 1948.7l1.4 -0.6 1.4 -0.7 1.4 -0.8 1.4 -0.2 1.4 0.5 1.4 0.6 1.4 -0.3 1.4 -1.5 1.4 -2 1.4 -0.9 1.4 1.1 1.4 1.8 1.4 0.9 1.4 -0.5 1.4 -0.9 1.4 -0.1 1.4 1.1 1.4 1.3 1.4 0.8 1.4 0.4M382.94 1948.7l1.4 -0.6 1.4 -0.5 1.4 -0.2 1.4 0.2 1.4 0.5 1.4 0.6M415.14 1948.7l1.4 -0.8 1.4 -1.1 1.4 -1.2 1.4 -0.3 1.4 0.8 1.4 1.1 1.4 0.3 1.4 -0.7 1.4 -1 1.4 -0.3 1.4 0.7 1.4 0.8 1.4 -0.4 1.4 -2 1.4 -2.4 1.4 -0.8 1.4 1.7 1.4 2.4 1.4 1.2 1.4 -0.4 1.4 -1.2 1.4 -0.5 1.4 0.9 1.4 1.4 1.4 0.8 1.4 0 1.4 -0.5 1.4 -0.2 1.4 0.4 1.4 0.5 1.4 0.3 1.4 -0.4 1.4 -0.9 1.4 -0.9 1.4 -0.1 1.4 0.4 1.4 -0.2 1.4 -1.9 1.4 -2.7 1.4 -1.1 1.4 1.7 1.4 2.8 1.4 1.7 1.4 -0.2 1.4 -1 1.4 -0.6 1.4 0.8 1.4 1.4 1.4 1 1.4 0.7M489.34 1948.7l1.4 -0.4 1.4 -0.9 1.4 -2 1.4 -2.5 1.4 -1.2 1.4 1.2 1.4 2.5 1.4 2 1.4 0.7 1.4 -0.1 1.4 -0.4 1.4 -0.1 1.4 0.3 1.4 0.4 1.4 0.1 1.4 -0.3 1.4 -0.4 1.4 -0.2 1.4 0.1 1.4 0.1 1.4 -0.8 1.4 -1.8 1.4 -1.5 1.4 0 1.4 1.5 1.4 1.6 1.4 0.5 1.4 -0.4 1.4 -0.1 1.4 0.4 1.4 0.4 1.4 -0.2 1.4 -1 1.4 -1 1.4 0.1 1.4 0.8 1.4 0.4 1.4 -1 1.4 -1.8 1.4 -0.8 1.4 1.1 1.4 2.1 1.4 1.6 1.4 0.7 1.4 0.3M557.94 1948.7l1.4 -1 1.4 -1.7 1.4 -2.4 1.4 -1.5 1.4 0.7 1.4 2.3 1.4 2.1 1.4 1.1 1.4 0.4M573.34 1948.7l1.4 -0.3 1.4 -0.8 1.4 -2.1 1.4 -3.1 1.4 -2.1 1.4 0.8 1.4 2.6 1.4 1.9 1.4 -0.6 1.4 -2.4 1.4 -2 1.4 0.7 1.4 2.7 1.4 2.7 1.4 1.4 1.4 0.6M599.94 1948.7l1.4 -0.3 1.4 -0.6 1.4 -1 1.4 -1 1.4 -0.1 1.4 0.8 1.4 1.1" fill="none" stroke="#9fcf45" stroke-width="1.25"/>
<path d="M252.74 1948.7l1.4 -0.7 1.4 -2.3 1.4 -5.4 1.4 -7.7 1.4 -5.2 1.4 2.1 1.4 7.3 1.4 6.8 1.4 3.6 1.4 1.2 1.4 0.3M269.54 1948.7l1.4 -0.3 1.4 -1 1.4 -2.3 1.4 -3.5 1.4 -2.5 1.4 0.7 1.4 3.3 1.4 3.2 1.4 1.7 1.4 0.7M328.34 1948.7l1.4 -0.3 1.4 -0.9 1.4 -2.4 1.4 -4.1 1.4 -3.4 1.4 0.1 1.4 3.5 1.4 4 1.4 2.4 1.4 1.1M370.34 1948.7l1.4 -0.4 1.4 -1.1 1.4 -2.2 1.4 -2.3 1.4 -0.7 1.4 1.6 1.4 2.3 1.4 1.2 1.4 -0.7 1.4 -2.3 1.4 -2.4 1.4 -0.4 1.4 2 1.4 2.5 1.4 1 1.4 -0.5 1.4 -1.1 1.4 -0.2 1.4 0.9 1.4 1.1 1.4 0 1.4 -1.3 1.4 -1.6 1.4 -0.4 1.4 1.3 1.4 1.4 1.4 0 1.4 -1.7 1.4 -1.9 1.4 -0.4 1.4 1.7 1.4 2 1.4 0.9 1.4 -0.6 1.4 -1.2 1.4 -0.4 1.4 0.9 1.4 1.2 1.4 0.6 1.4 -0.5 1.4 -1 1.4 -0.5 1.4 0.6 1.4 1.2 1.4 0.8 1.4 0.6M438.94 1948.7l1.4 -0.5 1.4 -0.7 1.4 -0.9 1.4 -0.4 1.4 0.5 1.4 0.9 1.4 0.7 1.4 0.4M455.74 1948.7l1.4 -0.4 1.4 -1.2 1.4 -2.3 1.4 -2.6 1.4 -1 1.4 1.6 1.4 2.7 1.4 2 1.4 0.9 1.4 0.3M549.54 1948.7l1.4 -0.5 1.4 -0.9 1.4 -1.2 1.4 -0.8 1.4 0.4 1.4 1.2 1.4 1 1.4 0.8M564.94 1948.7l1.4 -0.3 1.4 -0.8 1.4 -1.9 1.4 -2.7 1.4 -1.8 1.4 0.7 1.4 2.6 1.4 2.4 1.4 1.3 1.4 0.5M591.54 1948.7l1.4 -0.5 1.4 -0.9 1.4 -1.4 1.4 -1 1.4 0.3 1.4 1.3 1.4 1.2 1.4 0.7 1.4 0.3" fill="none" stroke="#1a1a1a" stroke-width="1.25"/>
<path d="M91.74 1948.7l1.4 -0.3 1.4 -1.4 1.4 -3.9 1.4 -7.5 1.4 -7.7 1.4 -1.8 1.4 5.8 1.4 8.2 1.4 5.6 1.4 2.3 1.4 0.7M185.54 1948.7l1.4 -0.6 1.4 -1.6 1.4 -3.4 1.4 -4.3 1.4 -2.1 1.4 2 1.4 4.3 1.4 3.5 1.4 1.6 1.4 0.6M202.34 1948.7l1.4 -1.1 1.4 -3.1 1.4 -6.8 1.4 -9 1.4 -4.8 1.4 3.5 1.4 8 1.4 4.4 1.4 -3.2 1.4 -7.8 1.4 -4.8 1.4 3.5 1.4 8.7 1.4 7.5 1.4 3.6 1.4 1.1 1.4 0.3M244.34 1948.7l1.4 -0.5 1.4 -1.5 1.4 -3.5 1.4 -4.9 1.4 -3.2 1.4 1.4 1.4 4.7 1.4 4.4 1.4 2.2 1.4 0.9M303.14 1948.7l1.4 -0.4 1.4 -1.2 1.4 -3.3 1.4 -5.1 1.4 -4 1.4 0.5 1.4 4.2 1.4 3.5 1.4 -0.9 1.4 -4.9 1.4 -4.5 1.4 0.5 1.4 5.2 1.4 5.7 1.4 3.2 1.4 1.2 1.4 0.3M338.14 1948.7l1.4 -0.7 1.4 -1.5 1.4 -2.5 1.4 -2.2 1.4 0 1.4 2.1 1.4 2.4 1.4 1 1.4 -0.2 1.4 -0.6 1.4 0 1.4 0.6 1.4 0.5 1.4 -0.3 1.4 -1.1 1.4 -1.2 1.4 -0.1 1.4 1.1 1.4 1.4 1.4 0.9 1.4 0.4M371.74 1948.7l1.4 -0.6 1.4 -1.4 1.4 -2.4 1.4 -2.3 1.4 -0.3 1.4 2 1.4 2.5 1.4 1.7 1.4 0.8M387.14 1948.7l1.4 -0.4 1.4 -0.8 1.4 -1.5 1.4 -1.4 1.4 -0.2 1.4 1.3 1.4 1.5 1.4 1 1.4 0.5M405.34 1948.7l1.4 -0.6 1.4 -1.4 1.4 -2.7 1.4 -2.7 1.4 -0.6 1.4 2 1.4 3 1.4 1.9 1.4 0.8 1.4 0.3M448.74 1948.7l1.4 -0.5 1.4 -0.4 1.4 -0.1 1.4 0.2 1.4 0.4 1.4 0.4M465.54 1948.7l1.4 -0.3 1.4 -0.5 1.4 -0.5 1.4 -0.2 1.4 0.4 1.4 0.5 1.4 0.2 1.4 -0.2 1.4 -0.7 1.4 -1 1.4 -0.5 1.4 0.1 1.4 -0.1 1.4 -1.6 1.4 -2.4 1.4 -1.2 1.4 1.5 1.4 2.9 1.4 2.2 1.4 1 1.4 0.4M506.14 1948.7l1.4 -0.4 1.4 -1.1 1.4 -2.3 1.4 -2.9 1.4 -1.6 1.4 1.4 1.4 2.9 1.4 2.4 1.4 1.2 1.4 0.4M531.34 1948.7l1.4 -0.3 1.4 -0.7 1.4 -1.6 1.4 -2.3 1.4 -1.2 1.4 0.8 1.4 2 1.4 1.3 1.4 -0.4 1.4 -1.4 1.4 -1 1.4 0.7 1.4 1.6 1.4 1.5 1.4 0.7 1.4 0.3M557.94 1948.7l1.4 -1 1.4 -1.7 1.4 -2.3 1.4 -1.6 1.4 0.7 1.4 2.3 1.4 2.1 1.4 1.1 1.4 0.4M584.54 1948.7l1.4 -0.3 1.4 -0.5 1.4 -0.9 1.4 -0.7 1.4 0.1 1.4 0.8 1.4 0.8 1.4 0.7M599.94 1948.7l1.4 -0.7 1.4 -1.4 1.4 -2.1 1.4 -1.6 1.4 0.4 1.4 1.9 1.4 2" fill="none" stroke="#3fb1e3" stroke-width="1.25"/>
<text x="102.3" y="1957" font-size="8.5" text-anchor="middle" fill="#555">340</text>
<text x="143.55" y="1957" font-size="8.5" text-anchor="middle" fill="#555">345</text>
<text x="184.8" y="1957" font-size="8.5" text-anchor="middle" fill="#555">350</text>
<text x="226.05" y="1957" font-size="8.5" text-anchor="middle" fill="#555">355</text>
<text x="267.3" y="1957" font-size="8.5" text-anchor="middle" fill="#555">360</text>
<text x="308.55" y="1957" font-size="8.5" text-anchor="middle" fill="#555">365</text>
<text x="349.8" y="1957" font-size="8.5" text-anchor="middle" fill="#555">370</text>
<text x="391.05" y="1957" font-size="8.5" text-anchor="middle" fill="#555">375</text>
<text x="432.3" y="1957" font-size="8.5" text-anchor="middle" fill="#555">380</text>
<text x="473.55" y="1957" font-size="8.5" text-anchor="middle" fill="#555">385</text>
<text x="514.8" y="1957" font-size="8.5" text-anchor="middle" fill="#555">390</text>
<text x="556.05" y="1957" font-size="8.5" text-anchor="middle" fill="#555">395</text>
<text x="597.3" y="1957" font-size="8.5" text-anchor="middle" fill="#555">400</text>
<line x1="347.2" y1="1902.7" x2="347.2" y2="1948.7" stroke="#333" stroke-width="1.3" stroke-dasharray="3 2"/>
<text x="40.3" y="2018.4" font-size="18.2">Control Sample 320 to 385 bp</text>
<text x="69 77.28 85.55 93.83 102.11 110.38 118.66 126.94 135.22 143.49 151.77 160.05 168.32 176.6 184.88 193.15 201.43 209.71 217.98 226.26 234.54 242.82 251.09 259.37 267.65 275.92 284.2 292.48 300.75 309.03 317.31 325.58 333.86 342.14 350.42 358.69 366.97 375.25 383.52 391.8 400.08 408.35 416.63 424.91 433.18 441.46 449.74 458.02 466.29 474.57 482.85 491.12 499.4 507.68 515.95 524.23 532.51 540.78 549.06 557.34 565.62 573.89 582.17 590.45 598.72 607" y="2029.2" font-size="8.8" fill="#555" text-anchor="middle">TCCGTGTTGCAGATTACTATTTTTTTACACCATACGTGTATCCAGCCACATGGCCAGAAGATGACA</text>
<line x1="325.4" y1="2031.6" x2="466.3" y2="2031.6" stroke="#111" stroke-width="1.6"/>
<line x1="300.2" y1="2031.6" x2="325.4" y2="2031.6" stroke="#e03a2a" stroke-width="1.6" stroke-dasharray="2 1.5"/>
<text x="52" y="2034.86" font-size="8.5" text-anchor="end" fill="#555">1000</text>
<text x="52" y="2052.66" font-size="8.5" text-anchor="end" fill="#555">500</text>
<text x="52" y="2070.76" font-size="8.5" text-anchor="end" fill="#555">0</text>
<line x1="64" y1="2067.7" x2="614.2" y2="2067.7" stroke="#3fb1e3" stroke-width="1.25"/>
<path d="M64 2065.9l1.4 -4.1 1.4 -7.3 1.4 -6.7 1.4 -0.6 1.4 6.2 1.4 7.5 1.4 4.6 1.4 1.7 1.4 0.5M94.8 2067.7l1.4 -0.8 1.4 -3 1.4 -7.8 1.4 -12.3 1.4 -9.6 1.4 1.6 1.4 11.3 1.4 11.6 1.4 6.3 1.4 2.2 1.4 0.5M111.6 2067.7l1.4 -0.4 1.4 -1.5 1.4 -3.7 1.4 -5.5 1.4 -3.9 1.4 1.2 1.4 4.6 1.4 2.6 1.4 -3.1 1.4 -7.3 1.4 -5.3 1.4 2.3 1.4 7.8 1.4 7.1 1.4 3.7 1.4 1.1 1.4 0.3M170.4 2067.7l1.4 -1.1 1.4 -3.1 1.4 -6.6 1.4 -8 1.4 -3.5 1.4 4.3 1.4 7.4 1.4 3.6 1.4 -2.5 1.4 -5.3 1.4 -2.2 1.4 3.7 1.4 6.2 1.4 4.5 1.4 2 1.4 0.6M204 2067.7l1.4 -0.9 1.4 -2.2 1.4 -4.2 1.4 -4.5 1.4 -1.1 1.4 3.3 1.4 4.8 1.4 3.2 1.4 1.2 1.4 0.4M219.4 2067.7l1.4 -0.4 1.4 -1.5 1.4 -4.3 1.4 -8 1.4 -7.9 1.4 -1.2 1.4 6.4 1.4 7.3 1.4 1.7 1.4 -4.4 1.4 -5.5 1.4 -0.6 1.4 5.1 1.4 4.9 1.4 -1 1.4 -7.3 1.4 -7.6 1.4 -0.3 1.4 7.2 1.4 7 1.4 -0.2 1.4 -7.5 1.4 -7.7 1.4 0.2 1.4 7.9 1.4 7.7 1.4 0.9 1.4 -5.5 1.4 -5.7 1.4 0.5 1.4 6.2 1.4 5.2 1.4 -1 1.4 -6.8 1.4 -6.2 1.4 1 1.4 7.2 1.4 6.5 1.4 1 1.4 -3.7 1.4 -3.4 1.4 0.9 1.4 4.7 1.4 4.6 1.4 2.6 1.4 1M328.6 2067.7l1.4 -0.7 1.4 -1.8 1.4 -4.1 1.4 -5.1 1.4 -2.5 1.4 2.6 1.4 5.1 1.4 4.1 1.4 1.8 1.4 0.6M362.2 2067.7l1.4 -0.8 1.4 -1.9 1.4 -3.9 1.4 -4.3 1.4 -1.3 1.4 2.9 1.4 4.5 1.4 3.1 1.4 1.3 1.4 0.4M379 2067.7l1.4 -1.2 1.4 -3 1.4 -5.6 1.4 -5.7 1.4 -1.2 1.4 4.5 1.4 6.1 1.4 4.1 1.4 1.5 1.4 0.5M394.4 2067.7l1.4 -0.3 1.4 -0.9 1.4 -2.9 1.4 -5.2 1.4 -4.9 1.4 -0.5 1.4 4.4 1.4 5.4 1.4 3.3 1.4 1.2 1.4 0.4M478.4 2067.7l1.4 -0.6 1.4 -2 1.4 -4.5 1.4 -6 1.4 -3.5 1.4 2.4 1.4 6 1.4 5 1.4 2.3 1.4 0.9M569.4 2067.7l1.4 -0.3 1.4 -1.3 1.4 -3.6 1.4 -6.2 1.4 -5.8 1.4 -0.3 1.4 5.3 1.4 6.5 1.4 3.9 1.4 1.4 1.4 0.4" fill="none" stroke="#e07366" stroke-width="1.25"/>
<path d="M145.2 2067.7l1.4 -1.1 1.4 -3.3 1.4 -7.5 1.4 -10.1 1.4 -5.4 1.4 4.1 1.4 9.9 1.4 8.2 1.4 3.8 1.4 1.1 1.4 0.3M162 2067.7l1.4 -1.3 1.4 -3.6 1.4 -7.8 1.4 -9.8 1.4 -4.6 1.4 5 1.4 9.8 1.4 7.7 1.4 3.4 1.4 1.2M187.2 2067.7l1.4 -1 1.4 -2.6 1.4 -5.4 1.4 -6 1.4 -2 1.4 3.9 1.4 6.2 1.4 4.5 1.4 1.8 1.4 0.6M211 2067.7l1.4 -0.3 1.4 -1.3 1.4 -3.8 1.4 -7.2 1.4 -7.3 1.4 -1.5 1.4 5.8 1.4 7.9 1.4 5.1 1.4 2 1.4 0.6M278.2 2067.7l1.4 -0.4 1.4 -1.2 1.4 -3.2 1.4 -4.7 1.4 -3.4 1.4 1 1.4 4.5 1.4 4.3 1.4 2.2 1.4 0.9M295 2067.7l1.4 -0.6 1.4 -1.7 1.4 -4.3 1.4 -6.1 1.4 -3.9 1.4 1.9 1.4 5.9 1.4 5.2 1.4 2.6 1.4 1M320.2 2067.7l1.4 -1 1.4 -3 1.4 -6.8 1.4 -8.7 1.4 -4.6 1.4 4 1.4 8.7 1.4 7 1.4 3.3 1.4 1.1M337 2067.7l1.4 -0.9 1.4 -2.4 1.4 -5.1 1.4 -6.2 1.4 -2.7 1.4 3.4 1.4 6.3 1.4 4.8 1.4 2.1 1.4 0.7M386 2067.7l1.4 -0.3 1.4 -1.1 1.4 -3.4 1.4 -6.2 1.4 -6 1.4 -1 1.4 5.1 1.4 6.6 1.4 4.2 1.4 1.6 1.4 0.5M419.6 2067.7l1.4 -0.6 1.4 -2 1.4 -5.6 1.4 -9.2 1.4 -7.6 1.4 0.5 1.4 8.2 1.4 9 1.4 5.1 1.4 1.7 1.4 0.5M453.2 2067.7l1.4 -0.4 1.4 -1.4 1.4 -3.5 1.4 -5.2 1.4 -3.5 1.4 1.3 1.4 4.9 1.4 4.5 1.4 2.4 1.4 0.9M470 2067.7l1.4 -0.5 1.4 -1.4 1.4 -3.5 1.4 -4.8 1.4 -2.9 1.4 1.7 1.4 4.6 1.4 4.1 1.4 2 1.4 0.7M520.4 2067.7l1.4 -1.1 1.4 -3 1.4 -6.1 1.4 -6.9 1.4 -2.5 1.4 4.3 1.4 7.2 1.4 5.2 1.4 2.2 1.4 0.7M535.8 2067.7l1.4 -0.3 1.4 -1.1 1.4 -3.4 1.4 -6.6 1.4 -7.2 1.4 -1.9 1.4 4.8 1.4 6.2 1.4 0.8 1.4 -6 1.4 -7.8 1.4 -1.7 1.4 6.4 1.4 8.9 1.4 5.9 1.4 2.3 1.4 0.7M561 2067.7l1.4 -0.3 1.4 -1.3 1.4 -3.7 1.4 -6.8 1.4 -6.4 1.4 -0.7 1.4 5.6 1.4 7.1 1.4 4.4 1.4 1.6 1.4 0.5M586.2 2067.7l1.4 -0.3 1.4 -1.1 1.4 -3 1.4 -4.9 1.4 -4.1 1.4 0.2 1.4 4.4 1.4 4.8 1.4 2.8 1.4 0.9 1.4 0.3M603 2067.7l1.4 -0.3 1.4 -1.1 1.4 -2.9 1.4 -4.4 1.4 -3.5 1.4 0.7 1.4 4.1 1.4 4.2" fill="none" stroke="#9fcf45" stroke-width="1.25"/>
<path d="M86.4 2067.7l1.4 -0.3 1.4 -1.1 1.4 -2.9 1.4 -4.7 1.4 -3.8 1.4 0.3 1.4 4.3 1.4 4.5 1.4 2.6 1.4 1.1M103.2 2067.7l1.4 -0.6 1.4 -1.9 1.4 -5 1.4 -7.6 1.4 -5.7 1.4 1.4 1.4 7.1 1.4 7 1.4 3.8 1.4 1.2 1.4 0.3M128.4 2067.7l1.4 -0.6 1.4 -1.9 1.4 -4.5 1.4 -6.5 1.4 -4 1.4 2.1 1.4 6.2 1.4 5.5 1.4 2.7 1.4 1M153.6 2067.7l1.4 -1.1 1.4 -3.3 1.4 -7.2 1.4 -9.3 1.4 -4.8 1.4 4.3 1.4 9.3 1.4 7.5 1.4 3.4 1.4 1.2M353.8 2067.7l1.4 -0.8 1.4 -2 1.4 -4.1 1.4 -4.6 1.4 -1.7 1.4 3 1.4 4.8 1.4 3.5 1.4 1.4 1.4 0.5M370.6 2067.7l1.4 -1.1 1.4 -2.7 1.4 -5.3 1.4 -5.7 1.4 -1.4 1.4 4.1 1.4 6 1.4 4 1.4 1.6 1.4 0.5M428 2067.7l1.4 -0.6 1.4 -2.2 1.4 -5.8 1.4 -9.3 1.4 -7.5 1.4 1 1.4 8.5 1.4 8.9 1.4 4.9 1.4 1.7 1.4 0.4M486.8 2067.7l1.4 -0.5 1.4 -1.5 1.4 -3.5 1.4 -4.5 1.4 -2.4 1.4 1.9 1.4 4 1.4 2.1 1.4 -1.8 1.4 -4 1.4 -2 1.4 2.1 1.4 4.5 1.4 3.5 1.4 1.5 1.4 0.6M528.8 2067.7l1.4 -0.9 1.4 -2.2 1.4 -4.5 1.4 -5 1.4 -1.6 1.4 3.4 1.4 5.2 1.4 3.6 1.4 1.5 1.4 0.5M552.6 2067.7l1.4 -0.4 1.4 -1.4 1.4 -4.4 1.4 -8 1.4 -8 1.4 -1.3 1.4 6.5 1.4 8.7 1.4 5.5 1.4 2.2 1.4 0.6M577.8 2067.7l1.4 -0.4 1.4 -1.4 1.4 -4 1.4 -6.9 1.4 -6 1.4 0 1.4 6 1.4 6.8 1.4 4.1 1.4 1.4 1.4 0.4" fill="none" stroke="#1a1a1a" stroke-width="1.25"/>
<path d="M69.6 2067.7l1.4 -0.4 1.4 -1.6 1.4 -4.5 1.4 -7.7 1.4 -6.9 1.4 -0.2 1.4 6.2 1.4 5.9 1.4 -0.6 1.4 -7.2 1.4 -7.1 1.4 0.3 1.4 7.8 1.4 8.7 1.4 5 1.4 1.8 1.4 0.5M136.8 2067.7l1.4 -0.7 1.4 -2.3 1.4 -5.4 1.4 -7.4 1.4 -4.3 1.4 2.7 1.4 7.2 1.4 6.1 1.4 3 1.4 1.1M195.6 2067.7l1.4 -1.3 1.4 -3.2 1.4 -6.4 1.4 -6.9 1.4 -2.1 1.4 4.9 1.4 7.3 1.4 5 1.4 2.1 1.4 0.6M286.6 2067.7l1.4 -0.9 1.4 -2.7 1.4 -6.9 1.4 -10.1 1.4 -6.8 1.4 2.7 1.4 9.6 1.4 8.8 1.4 4.5 1.4 1.5 1.4 0.3M303.4 2067.7l1.4 -0.6 1.4 -1.7 1.4 -4.1 1.4 -5.8 1.4 -3.4 1.4 1.9 1.4 4.7 1.4 1.6 1.4 -4.8 1.4 -8.9 1.4 -5.3 1.4 4 1.4 9.4 1.4 7.9 1.4 3.7 1.4 1.4M345.4 2067.7l1.4 -0.9 1.4 -2.3 1.4 -4.9 1.4 -5.7 1.4 -2.2 1.4 3.3 1.4 5.9 1.4 4.3 1.4 1.9 1.4 0.6M402.8 2067.7l1.4 -0.3 1.4 -0.9 1.4 -2.8 1.4 -4.8 1.4 -4.4 1.4 -0.3 1.4 4 1.4 4 1.4 0.3 1.4 -3.4 1.4 -3.6 1.4 0.1 1.4 3.9 1.4 4.4 1.4 2.6 1.4 1.2M436.4 2067.7l1.4 -0.4 1.4 -1.2 1.4 -3.3 1.4 -5.1 1.4 -3.9 1.4 0.8 1.4 4.3 1.4 3.4 1.4 -0.9 1.4 -4.5 1.4 -3.6 1.4 1.1 1.4 5 1.4 4.8 1.4 2.5 1.4 1M461.6 2067.7l1.4 -0.6 1.4 -1.8 1.4 -4.4 1.4 -6.3 1.4 -4 1.4 1.9 1.4 6 1.4 5.4 1.4 2.8 1.4 1M503.6 2067.7l1.4 -1.1 1.4 -3.1 1.4 -6.6 1.4 -8.1 1.4 -3.7 1.4 4.2 1.4 7.4 1.4 3.5 1.4 -3.1 1.4 -6.2 1.4 -2.6 1.4 4 1.4 7.1 1.4 5.3 1.4 2.3 1.4 0.7M594.6 2067.7l1.4 -0.6 1.4 -2.1 1.4 -5.8 1.4 -9.2 1.4 -7.5 1.4 0.9 1.4 8.4 1.4 8.8 1.4 5 1.4 1.7 1.4 0.4" fill="none" stroke="#3fb1e3" stroke-width="1.25"/>
<text x="73.8" y="2076.1" font-size="8.5" text-anchor="middle" fill="#555">320</text>
<text x="115.1" y="2076.1" font-size="8.5" text-anchor="middle" fill="#555">325</text>
<text x="156.4" y="2076.1" font-size="8.5" text-anchor="middle" fill="#555">330</text>
<text x="197.7" y="2076.1" font-size="8.5" text-anchor="middle" fill="#555">335</text>
<text x="239" y="2076.1" font-size="8.5" text-anchor="middle" fill="#555">340</text>
<text x="280.3" y="2076.1" font-size="8.5" text-anchor="middle" fill="#555">345</text>
<text x="321.6" y="2076.1" font-size="8.5" text-anchor="middle" fill="#555">350</text>
<text x="362.9" y="2076.1" font-size="8.5" text-anchor="middle" fill="#555">355</text>
<text x="404.2" y="2076.1" font-size="8.5" text-anchor="middle" fill="#555">360</text>
<text x="445.5" y="2076.1" font-size="8.5" text-anchor="middle" fill="#555">365</text>
<text x="486.8" y="2076.1" font-size="8.5" text-anchor="middle" fill="#555">370</text>
<text x="528.1" y="2076.1" font-size="8.5" text-anchor="middle" fill="#555">375</text>
<text x="569.4" y="2076.1" font-size="8.5" text-anchor="middle" fill="#555">380</text>
<text x="610.7" y="2076.1" font-size="8.5" text-anchor="middle" fill="#555">385</text>
<line x1="350.6" y1="2021.8" x2="350.6" y2="2067.7" stroke="#333" stroke-width="1.3" stroke-dasharray="3 2"/>
<text x="35.9" y="2100.6" font-size="18.2">Edited Sample 321 to 386 bp</text>
<text x="64 72.31 80.62 88.92 97.23 105.54 113.85 122.15 130.46 138.77 147.08 155.38 163.69 172 180.31 188.62 196.92 205.23 213.54 221.85 230.15 238.46 246.77 255.08 263.38 271.69 280 288.31 296.62 304.92 313.23 321.54 329.85 338.15 346.46 354.77 363.08 371.38 379.69 388 396.31 404.62 412.92 421.23 429.54 437.85 446.15 454.46 462.77 471.08 479.38 487.69 496 504.31 512.62 520.92 529.23 537.54 545.85 554.15 562.46 570.77 579.08 587.38 595.69 604" y="2111.4" font-size="8.8" fill="#555" text-anchor="middle">TCCGTGTTGCAGATTACTATTTTTTTACACCATACGGTGTATCCCGCCACATGGCCAGAAGATGAC</text>
<text x="47" y="2115.46" font-size="8.5" text-anchor="end" fill="#555">1000</text>
<text x="47" y="2134.06" font-size="8.5" text-anchor="end" fill="#555">500</text>
<text x="47" y="2153.06" font-size="8.5" text-anchor="end" fill="#555">0</text>
<line x1="58" y1="2150.3" x2="609.6" y2="2150.3" stroke="#3fb1e3" stroke-width="1.25"/>
<path d="M58 2148.46l1.4 -4.2 1.4 -7.5 1.4 -6.9 1.4 -0.6 1.4 6.3 1.4 7.7 1.4 4.8 1.4 1.7 1.4 0.5M88.8 2150.3l1.4 -0.8 1.4 -2.8 1.4 -7.4 1.4 -11.9 1.4 -9.6 1.4 1.3 1.4 10.8 1.4 11.4 1.4 6.3 1.4 2.1 1.4 0.6M105.6 2150.3l1.4 -0.6 1.4 -1.8 1.4 -4.7 1.4 -7.3 1.4 -5.3 1.4 1.4 1.4 6.2 1.4 4.9 1.4 -0.9 1.4 -5.4 1.4 -4.3 1.4 1.5 1.4 6.2 1.4 5.8 1.4 3.1 1.4 1.2M164.4 2150.3l1.4 -1.2 1.4 -3.3 1.4 -7.2 1.4 -9.3 1.4 -4.5 1.4 4.4 1.4 8.6 1.4 5.4 1.4 -0.9 1.4 -4.3 1.4 -2.1 1.4 2.7 1.4 5.3 1.4 4 1.4 1.8 1.4 0.6M198 2150.3l1.4 -1.3 1.4 -3.4 1.4 -6.9 1.4 -7.8 1.4 -2.6 1.4 5 1.4 8.1 1.4 5.7 1.4 2.4 1.4 0.8M213.4 2150.3l1.4 -0.3 1.4 -1.5 1.4 -4.4 1.4 -8.4 1.4 -9 1.4 -2.4 1.4 6.3 1.4 7.9 1.4 1.4 1.4 -6.7 1.4 -9 1.4 -1.9 1.4 7.2 1.4 8.9 1.4 2.6 1.4 -4.9 1.4 -6.9 1.4 -1.2 1.4 5.9 1.4 6.7 1.4 0.8 1.4 -6 1.4 -7.1 1.4 -0.9 1.4 6.4 1.4 7.2 1.4 1.8 1.4 -4.2 1.4 -5.1 1.4 -0.4 1.4 4.9 1.4 5 1.4 0.2 1.4 -4.9 1.4 -5.3 1.4 -0.1 1.4 5.2 1.4 5.1 1.4 0.3 1.4 -4.3 1.4 -4.6 1.4 0.2 1.4 5.1 1.4 5.6 1.4 3.3 1.4 1.2 1.4 0.3M322.6 2150.3l1.4 -0.9 1.4 -2.9 1.4 -6.9 1.4 -9.7 1.4 -6 1.4 3.2 1.4 9.3 1.4 8.3 1.4 4.1 1.4 1.2 1.4 0.3M364.6 2150.3l1.4 -0.4 1.4 -1 1.4 -2.2 1.4 -2.8 1.4 -1.2 1.4 1.5 1.4 2.7 1.4 2.1 1.4 1 1.4 0.3M382.8 2150.3l1.4 -0.6 1.4 -0.8 1.4 -1 1.4 -0.4 1.4 0.6 1.4 1 1.4 0.8 1.4 0.4M398.2 2150.3l1.4 -0.3 1.4 -0.6 1.4 -1.3 1.4 -1.4 1.4 -0.4 1.4 0.9 1.4 1.4 1.4 0.3 1.4 -1.2 1.4 -2.5 1.4 -1.9 1.4 0.4 1.4 2.4 1.4 2.4 1.4 1.3 1.4 0.5M441.6 2150.3l1.4 -0.9 1.4 -1.3 1.4 -1.5 1.4 -0.6 1.4 0.9 1.4 1.6 1.4 1.1 1.4 0.7M457 2150.3l1.4 -0.5 1.4 -1.1 1.4 -2.1 1.4 -1.8 1.4 -0.2 1.4 1.7 1.4 1.9 1.4 0.8 1.4 -0.9 1.4 -2 1.4 -1.6 1.4 0.3 1.4 1.9 1.4 2 1.4 1.1 1.4 0.5M482.2 2150.3l1.4 -0.9 1.4 -1.9 1.4 -2.8 1.4 -2.1 1.4 0.5 1.4 2.6 1.4 2.6 1.4 1.4 1.4 0.6M499 2150.3l1.4 -0.4 1.4 -1 1.4 -2.1 1.4 -2.3 1.4 -0.7 1.4 1.5 1.4 2.4 1.4 1.5 1.4 0.4 1.4 -0.2 1.4 -0.4 1.4 0 1.4 0 1.4 -0.5 1.4 -1.1 1.4 -0.7 1.4 0.5 1.4 1.3 1.4 1.1 1.4 0.7M542.4 2150.3l1.4 -0.5 1.4 -0.8 1.4 -1.1 1.4 -0.7 1.4 0.4 1.4 0.9 1.4 0.5 1.4 -0.2 1.4 -0.4 1.4 0.2 1.4 0.5 1.4 0.2 1.4 -0.6 1.4 -1 1.4 -0.4 1.4 0.5 1.4 1.1 1.4 0.9 1.4 0.5M573.2 2150.3l1.4 -0.3 1.4 -0.8 1.4 -1.7 1.4 -1.9 1.4 -0.7 1.4 1.2 1.4 2 1.4 1.4 1.4 0.8M598.4 2150.3l1.4 -0.8 1.4 -1 1.4 -1 1.4 -0.1 1.4 0.8 1.4 1.1 1.4 0.7 1.4 0.3" fill="none" stroke="#e07366" stroke-width="1.25"/>
<path d="M139.2 2150.3l1.4 -0.6 1.4 -1.7 1.4 -4.1 1.4 -5.7 1.4 -3.4 1.4 2.1 1.4 5.5 1.4 4.7 1.4 2.3 1.4 0.9M156 2150.3l1.4 -1.1 1.4 -3.2 1.4 -7.2 1.4 -9.4 1.4 -5 1.4 4.2 1.4 9.3 1.4 7.6 1.4 3.5 1.4 1.3M181.2 2150.3l1.4 -0.7 1.4 -2 1.4 -4.2 1.4 -5 1.4 -2 1.4 2.8 1.4 5.1 1.4 3.8 1.4 1.6 1.4 0.6M205 2150.3l1.4 -0.3 1.4 -1.4 1.4 -4.3 1.4 -8.6 1.4 -9.3 1.4 -2.8 1.4 6.5 1.4 9.8 1.4 6.8 1.4 2.7 1.4 0.9M272.2 2150.3l1.4 -0.5 1.4 -1.7 1.4 -4.8 1.4 -7.7 1.4 -6.4 1.4 0.6 1.4 6.9 1.4 7.5 1.4 4.2 1.4 1.5 1.4 0.4M289 2150.3l1.4 -0.6 1.4 -2 1.4 -5.2 1.4 -8.1 1.4 -6.1 1.4 1.3 1.4 7.5 1.4 7.5 1.4 4 1.4 1.4 1.4 0.3M314.2 2150.3l1.4 -0.6 1.4 -1.7 1.4 -4.3 1.4 -6.3 1.4 -4 1.4 1.8 1.4 5.9 1.4 5.4 1.4 2.7 1.4 1.1M331 2150.3l1.4 -0.8 1.4 -2.6 1.4 -6.1 1.4 -8.2 1.4 -4.9 1.4 3.1 1.4 8.1 1.4 6.8 1.4 3.4 1.4 1.2M357.6 2150.3l1.4 -0.3 1.4 -0.6 1.4 -1.2 1.4 -1.2 1.4 -0.3 1.4 1 1.4 1.3 1.4 0.9 1.4 0.4M391.2 2150.3l1.4 -0.9 1.4 -1.3 1.4 -1.5 1.4 -0.4 1.4 0.8 1.4 1.1 1.4 -0.2 1.4 -1.8 1.4 -1.9 1.4 -0.1 1.4 1.9 1.4 2.3 1.4 1.4 1.4 0.6M448.6 2150.3l1.4 -0.8 1.4 -1.2 1.4 -1.6 1.4 -0.7 1.4 0.8 1.4 1.4 1.4 0.5 1.4 -1.4 1.4 -3 1.4 -2.7 1.4 0.1 1.4 2.9 1.4 3.1 1.4 1.8 1.4 0.8M473.8 2150.3l1.4 -0.6 1.4 -1.2 1.4 -1.9 1.4 -1.5 1.4 0.2 1.4 1.5 1.4 1.1 1.4 -0.2 1.4 -0.5 1.4 0.1 1.4 1 1.4 0.7 1.4 -0.3 1.4 -1.7 1.4 -2 1.4 -0.5 1.4 1.5 1.4 2.1 1.4 1.5 1.4 0.7M524.2 2150.3l1.4 -0.4 1.4 -0.8 1.4 -1.1 1.4 -0.6 1.4 0.4 1.4 1 1.4 0.7 1.4 -0.2 1.4 -1.1 1.4 -1.3 1.4 -0.6 1.4 0.8 1.4 1 1.4 0 1.4 -0.8 1.4 -0.5 1.4 0.6 1.4 1 1.4 0.1 1.4 -1.5 1.4 -2.4 1.4 -1.1 1.4 1.2 1.4 2.5 1.4 1.9 1.4 0.9 1.4 0.3M566.2 2150.3l1.4 -0.5 1.4 -0.8 1.4 -1 1.4 -0.4 1.4 0.6 1.4 1 1.4 0.7 1.4 0.4M584.4 2150.3l1.4 -0.7 1.4 -1 1.4 -1.1 1.4 -0.5 1.4 0.3 1.4 -0.1 1.4 -1.6 1.4 -2.2 1.4 -0.7 1.4 1.9 1.4 2.8 1.4 1.9 1.4 1" fill="none" stroke="#9fcf45" stroke-width="1.25"/>
<path d="M80.4 2150.3l1.4 -0.5 1.4 -1.8 1.4 -4.8 1.4 -7.8 1.4 -6.6 1.4 0.5 1.4 7 1.4 7.7 1.4 4.4 1.4 1.5 1.4 0.4M97.2 2150.3l1.4 -0.6 1.4 -2 1.4 -5.3 1.4 -8.2 1.4 -6.3 1.4 1.2 1.4 7.6 1.4 7.7 1.4 4.1 1.4 1.4 1.4 0.4M122.4 2150.3l1.4 -0.4 1.4 -1.2 1.4 -2.9 1.4 -4.2 1.4 -2.8 1.4 1.2 1.4 4 1.4 3.7 1.4 1.9 1.4 0.7M147.6 2150.3l1.4 -1.1 1.4 -3.3 1.4 -7.6 1.4 -10.1 1.4 -5.7 1.4 4.1 1.4 9.9 1.4 8.4 1.4 3.9 1.4 1.2 1.4 0.3M347.8 2150.3l1.4 -0.3 1.4 -1 1.4 -2.2 1.4 -2.9 1.4 -1.5 1.4 1.3 1.4 2.5 1.4 1.1 1.4 -1.4 1.4 -2.8 1.4 -1.4 1.4 1.5 1.4 3.2 1.4 2.4 1.4 1.1 1.4 0.4M373 2150.3l1.4 -0.3 1.4 -0.8 1.4 -1.7 1.4 -2.1 1.4 -0.8 1.4 1.2 1.4 2.1 1.4 1.5 1.4 0.9M389.8 2150.3l1.4 -0.3 1.4 -0.7 1.4 -1.5 1.4 -1.7 1.4 -0.6 1.4 1.1 1.4 1.7 1.4 1.3 1.4 0.7M413.6 2150.3l1.4 -0.4 1.4 -1.1 1.4 -1.9 1.4 -1.9 1.4 -0.3 1.4 1.6 1.4 1.9 1.4 1 1.4 -0.2 1.4 -0.7 1.4 -0.3 1.4 0.5 1.4 0.8 1.4 0.3 1.4 -0.7 1.4 -1.6 1.4 -1.6 1.4 -0.2 1.4 1.4 1.4 1.8 1.4 1.1 1.4 0.5M490.6 2150.3l1.4 -0.4 1.4 -0.7 1.4 -1.2 1.4 -0.8 1.4 0.2 1.4 0.9 1.4 0.3 1.4 -1.2 1.4 -2.4 1.4 -1.7 1.4 0.7 1.4 2.4 1.4 2.3 1.4 1.1 1.4 0.5M524.2 2150.3l1.4 -0.9 1.4 -1.3 1.4 -1.6 1.4 -0.6 1.4 0.9 1.4 1.3 1.4 0.2 1.4 -1.8 1.4 -2.9 1.4 -1.6 1.4 1.3 1.4 3 1.4 2.4 1.4 1.2 1.4 0.4M557.8 2150.3l1.4 -0.7 1.4 -1 1.4 -1.3 1.4 -0.6 1.4 0.7 1.4 1.3 1.4 1 1.4 0.6M573.2 2150.3l1.4 -0.5 1.4 -1 1.4 -1.6 1.4 -1.2 1.4 0.2 1.4 1.4 1.4 1.2 1.4 -0.1 1.4 -1.5 1.4 -1.9 1.4 -0.7 1.4 1.3 1.4 2 1.4 0.8 1.4 -1.1 1.4 -2.4 1.4 -2 1.4 0.3 1.4 2.4 1.4 2.5 1.4 1.3 1.4 0.6" fill="none" stroke="#1a1a1a" stroke-width="1.25"/>
<path d="M63.6 2150.3l1.4 -0.4 1.4 -1.6 1.4 -4.6 1.4 -7.8 1.4 -7.1 1.4 -0.3 1.4 6.3 1.4 5.9 1.4 -0.8 1.4 -7.7 1.4 -7.8 1.4 0.3 1.4 8.3 1.4 9.3 1.4 5.5 1.4 2 1.4 0.5M130.8 2150.3l1.4 -0.7 1.4 -2.3 1.4 -5.6 1.4 -7.8 1.4 -4.9 1.4 2.5 1.4 7.5 1.4 6.7 1.4 3.3 1.4 1.3M189.6 2150.3l1.4 -1 1.4 -2.5 1.4 -5.2 1.4 -6.2 1.4 -2.2 1.4 3.7 1.4 6.2 1.4 4.6 1.4 2 1.4 0.6M280.6 2150.3l1.4 -0.6 1.4 -1.9 1.4 -5.2 1.4 -8.2 1.4 -6.5 1.4 1 1.4 7.5 1.4 7.7 1.4 4.4 1.4 1.4 1.4 0.4M297.4 2150.3l1.4 -0.5 1.4 -1.9 1.4 -4.6 1.4 -7.1 1.4 -5.1 1.4 1.4 1.4 6.1 1.4 4.4 1.4 -1.6 1.4 -6.1 1.4 -4.8 1.4 1.8 1.4 6.9 1.4 6.4 1.4 3.4 1.4 1 1.4 0.3M339.4 2150.3l1.4 -1 1.4 -3.1 1.4 -6.9 1.4 -9.3 1.4 -5.1 1.4 3.8 1.4 8.9 1.4 6.8 1.4 2.1 1.4 -0.6 1.4 -0.4 1.4 1.1 1.4 1.8 1.4 1.2 1.4 0.7M364.6 2150.3l1.4 -0.4 1.4 -1 1.4 -2.2 1.4 -2.4 1.4 -0.8 1.4 1.5 1.4 2.3 1.4 1.1 1.4 -0.6 1.4 -1.2 1.4 -0.3 1.4 1 1.4 1.2 1.4 0.3 1.4 -0.3 1.4 -0.3 1.4 0.4 1.4 0.7 1.4 0.6 1.4 0.4M406.6 2150.3l1.4 -0.5 1.4 -1.3 1.4 -2.4 1.4 -2.6 1.4 -0.6 1.4 1.8 1.4 2.4 1.4 0.7 1.4 -1.4 1.4 -1.9 1.4 -0.5 1.4 1.7 1.4 2 1.4 0.7 1.4 -0.9 1.4 -1.2 1.4 -0.2 1.4 1.1 1.4 1.3 1.4 0.3 1.4 -0.7 1.4 -0.6 1.4 0.2 1.4 0.8 1.4 0.4 1.4 -1.3 1.4 -2.8 1.4 -2.8 1.4 -0.1 1.4 2.4 1.4 2.5 1.4 0.3 1.4 -1.9 1.4 -2.2 1.4 0 1.4 2.3 1.4 2.7 1.4 1.6 1.4 0.7M465.4 2150.3l1.4 -0.4 1.4 -0.8 1.4 -1.3 1.4 -1.1 1.4 0.1 1.4 1.2 1.4 1.2 1.4 0.5 1.4 -0.5 1.4 -1.1 1.4 -1 1.4 -0.1 1.4 1 1.4 1.2 1.4 0.8 1.4 0.3M507.4 2150.3l1.4 -0.9 1.4 -1.6 1.4 -2.3 1.4 -1.5 1.4 0.7 1.4 1.9 1.4 1.2 1.4 -1.1 1.4 -2.6 1.4 -1.7 1.4 1 1.4 2.8 1.4 2.4 1.4 1.2 1.4 0.5M566.2 2150.3l1.4 -0.4 1.4 -0.9 1.4 -1.9 1.4 -2.1 1.4 -0.6 1.4 1.4 1.4 2.2 1.4 1.5 1.4 0.8M598.4 2150.3l1.4 -0.3 1.4 -0.8 1.4 -1.4 1.4 -1.5 1.4 -0.4 1.4 1.2 1.4 1.6 1.4 1" fill="none" stroke="#3fb1e3" stroke-width="1.25"/>
<text x="102.3" y="2158.6" font-size="8.5" text-anchor="middle" fill="#555">325</text>
<text x="143.5" y="2158.6" font-size="8.5" text-anchor="middle" fill="#555">330</text>
<text x="184.7" y="2158.6" font-size="8.5" text-anchor="middle" fill="#555">335</text>
<text x="225.9" y="2158.6" font-size="8.5" text-anchor="middle" fill="#555">340</text>
<text x="267.1" y="2158.6" font-size="8.5" text-anchor="middle" fill="#555">345</text>
<text x="308.3" y="2158.6" font-size="8.5" text-anchor="middle" fill="#555">350</text>
<text x="349.5" y="2158.6" font-size="8.5" text-anchor="middle" fill="#555">355</text>
<text x="390.7" y="2158.6" font-size="8.5" text-anchor="middle" fill="#555">360</text>
<text x="431.9" y="2158.6" font-size="8.5" text-anchor="middle" fill="#555">365</text>
<text x="473.1" y="2158.6" font-size="8.5" text-anchor="middle" fill="#555">370</text>
<text x="514.3" y="2158.6" font-size="8.5" text-anchor="middle" fill="#555">375</text>
<text x="555.5" y="2158.6" font-size="8.5" text-anchor="middle" fill="#555">380</text>
<text x="596.7" y="2158.6" font-size="8.5" text-anchor="middle" fill="#555">385</text>
<line x1="348.9" y1="2104" x2="348.9" y2="2150.3" stroke="#333" stroke-width="1.3" stroke-dasharray="3 2"/>
<text x="0" y="0" font-size="40" font-weight="bold" transform="translate(663 1801) scale(1.13 0.95)">j</text>
<polyline points="803.5,1913.1 805.93,1913.1 808.36,1913.1 810.79,1913.1 813.22,1913.1 815.65,1913.1 818.08,1913.1 820.51,1913.1 822.94,1913.1 825.37,1913.1 827.8,1913.1 830.23,1913.1 832.66,1913.1 835.09,1913.1 837.52,1913.1 839.95,1913.1 842.38,1913.1 844.81,1913.1 847.24,1913.1 849.67,1913.1 852.1,1913.1 854.53,1913.11 856.96,1913.11 859.39,1913.11 861.82,1913.11 864.25,1913.11 866.68,1913.12 869.11,1913.13 871.54,1913.13 873.97,1913.15 876.4,1913.16 878.83,1913.18 881.26,1913.21 883.69,1913.25 886.12,1913.3 888.55,1913.37 890.98,1913.47 893.41,1913.6 895.84,1913.78 898.27,1914.03 900.7,1914.36 903.13,1914.81 905.56,1915.41 907.99,1916.23 910.42,1917.33 912.85,1918.8 915.28,1920.76 917.71,1923.37 920.14,1926.78 922.57,1931.22 925,1936.9 927.43,1944.03 929.86,1952.77 932.29,1963.19 934.72,1975.18 937.15,1988.45 939.58,2002.51 942.01,2016.74 944.44,2030.48 946.87,2043.16 949.3,2054.4 951.73,2063.99 954.16,2071.91 956.59,2078.3 959.02,2083.33 961.45,2087.24 963.88,2090.22 966.31,2092.49 968.74,2094.19 971.17,2095.47 973.6,2096.41 976.03,2097.12 978.46,2097.64 980.89,2098.02 983.32,2098.31 985.75,2098.52 988.18,2098.67 990.61,2098.79 993.04,2098.87 995.47,2098.93 997.9,2098.98 1000.33,2099.01 1002.76,2099.04 1005.19,2099.06 1007.62,2099.07 1010.05,2099.08 1012.48,2099.09 1014.91,2099.09 1017.34,2099.1 1019.77,2099.1 1022.2,2099.1 1024.63,2099.1 1027.06,2099.1 1029.49,2099.1 1031.92,2099.1 1034.35,2099.1 1036.78,2099.11 1039.21,2099.11 1041.64,2099.11 1044.07,2099.11 1046.5,2099.11 1048.93,2099.11 1051.36,2099.11 1053.79,2099.11 1056.22,2099.11 1058.65,2099.11 1061.08,2099.11 1063.51,2099.11 1065.94,2099.11 1068.37,2099.11 1070.8,2099.11 1073.23,2099.11 1075.66,2099.11 1078.09,2099.11 1080.52,2099.11 1082.95,2099.11 1085.38,2099.11 1087.81,2099.11 1090.24,2099.11 1092.67,2099.11 1095.1,2099.11" fill="none" stroke="#111111" stroke-width="2.6"/>
<polyline points="803.5,1913.1 805.93,1913.1 808.36,1913.1 810.79,1913.1 813.22,1913.1 815.65,1913.1 818.08,1913.1 820.51,1913.1 822.94,1913.1 825.37,1913.1 827.8,1913.1 830.23,1913.1 832.66,1913.1 835.09,1913.1 837.52,1913.1 839.95,1913.1 842.38,1913.1 844.81,1913.1 847.24,1913.11 849.67,1913.11 852.1,1913.11 854.53,1913.11 856.96,1913.11 859.39,1913.12 861.82,1913.12 864.25,1913.13 866.68,1913.14 869.11,1913.15 871.54,1913.17 873.97,1913.2 876.4,1913.23 878.83,1913.28 881.26,1913.34 883.69,1913.43 886.12,1913.54 888.55,1913.7 890.98,1913.91 893.41,1914.2 895.84,1914.6 898.27,1915.13 900.7,1915.84 903.13,1916.81 905.56,1918.11 907.99,1919.84 910.42,1922.15 912.85,1925.19 915.28,1929.17 917.71,1934.3 920.14,1940.82 922.57,1948.91 925,1958.7 927.43,1970.18 929.86,1983.16 932.29,1997.23 934.72,2011.82 937.15,2026.25 939.58,2039.88 942.01,2052.22 944.44,2062.94 946.87,2071.95 949.3,2079.29 951.73,2085.15 954.16,2089.73 956.59,2093.25 959.02,2095.94 961.45,2097.97 963.88,2099.49 966.31,2100.62 968.74,2101.46 971.17,2102.09 973.6,2102.55 976.03,2102.89 978.46,2103.15 980.89,2103.33 983.32,2103.47 985.75,2103.57 988.18,2103.64 990.61,2103.7 993.04,2103.74 995.47,2103.77 997.9,2103.79 1000.33,2103.81 1002.76,2103.82 1005.19,2103.83 1007.62,2103.83 1010.05,2103.84 1012.48,2103.84 1014.91,2103.84 1017.34,2103.85 1019.77,2103.85 1022.2,2103.85 1024.63,2103.85 1027.06,2103.85 1029.49,2103.85 1031.92,2103.85 1034.35,2103.85 1036.78,2103.85 1039.21,2103.85 1041.64,2103.85 1044.07,2103.85 1046.5,2103.85 1048.93,2103.85 1051.36,2103.85 1053.79,2103.85 1056.22,2103.85 1058.65,2103.85 1061.08,2103.85 1063.51,2103.85 1065.94,2103.85 1068.37,2103.85 1070.8,2103.85 1073.23,2103.85 1075.66,2103.85 1078.09,2103.85 1080.52,2103.85 1082.95,2103.85 1085.38,2103.85 1087.81,2103.85 1090.24,2103.85 1092.67,2103.85 1095.1,2103.85" fill="none" stroke="#e2331f" stroke-width="2.6"/>
<polyline points="803.5,1924.5 805.93,1924.5 808.36,1924.5 810.79,1924.5 813.22,1924.51 815.65,1924.51 818.08,1924.51 820.51,1924.52 822.94,1924.52 825.37,1924.53 827.8,1924.54 830.23,1924.55 832.66,1924.57 835.09,1924.58 837.52,1924.6 839.95,1924.63 842.38,1924.66 844.81,1924.69 847.24,1924.74 849.67,1924.8 852.1,1924.86 854.53,1924.94 856.96,1925.04 859.39,1925.17 861.82,1925.32 864.25,1925.5 866.68,1925.72 869.11,1925.99 871.54,1926.31 873.97,1926.71 876.4,1927.19 878.83,1927.78 881.26,1928.49 883.69,1929.35 886.12,1930.39 888.55,1931.64 890.98,1933.15 893.41,1934.95 895.84,1937.1 898.27,1939.65 900.7,1942.66 903.13,1946.18 905.56,1950.29 907.99,1955.02 910.42,1960.42 912.85,1966.51 915.28,1973.28 917.71,1980.7 920.14,1988.69 922.57,1997.16 925,2005.95 927.43,2014.92 929.86,2023.89 932.29,2032.67 934.72,2041.11 937.15,2049.07 939.58,2056.45 942.01,2063.18 944.44,2069.22 946.87,2074.58 949.3,2079.27 951.73,2083.34 954.16,2086.83 956.59,2089.81 959.02,2092.34 961.45,2094.46 963.88,2096.24 966.31,2097.73 968.74,2098.97 971.17,2100 973.6,2100.85 976.03,2101.55 978.46,2102.13 980.89,2102.61 983.32,2103 985.75,2103.32 988.18,2103.59 990.61,2103.81 993.04,2103.98 995.47,2104.13 997.9,2104.25 1000.33,2104.35 1002.76,2104.43 1005.19,2104.5 1007.62,2104.55 1010.05,2104.6 1012.48,2104.63 1014.91,2104.66 1017.34,2104.69 1019.77,2104.71 1022.2,2104.73 1024.63,2104.74 1027.06,2104.75 1029.49,2104.76 1031.92,2104.77 1034.35,2104.77 1036.78,2104.78 1039.21,2104.78 1041.64,2104.78 1044.07,2104.79 1046.5,2104.79 1048.93,2104.79 1051.36,2104.79 1053.79,2104.79 1056.22,2104.8 1058.65,2104.8 1061.08,2104.8 1063.51,2104.8 1065.94,2104.8 1068.37,2104.8 1070.8,2104.8 1073.23,2104.8 1075.66,2104.8 1078.09,2104.8 1080.52,2104.8 1082.95,2104.8 1085.38,2104.8 1087.81,2104.8 1090.24,2104.8 1092.67,2104.8 1095.1,2104.8" fill="none" stroke="#e2331f" stroke-width="2.6"/>
<line x1="876.4" y1="1920.69" x2="876.4" y2="1903.61" stroke="#111111" stroke-width="2.2"/>
<line x1="869.4" y1="1920.69" x2="883.4" y2="1920.69" stroke="#111111" stroke-width="2.2"/>
<line x1="869.4" y1="1903.61" x2="883.4" y2="1903.61" stroke="#111111" stroke-width="2.2"/>
<line x1="971.25" y1="2083.92" x2="971.25" y2="2064.94" stroke="#111111" stroke-width="2.2"/>
<line x1="964.25" y1="2083.92" x2="978.25" y2="2083.92" stroke="#111111" stroke-width="2.2"/>
<line x1="964.25" y1="2064.94" x2="978.25" y2="2064.94" stroke="#111111" stroke-width="2.2"/>
<line x1="803.5" y1="1933.98" x2="803.5" y2="1896.02" stroke="#ef7f80" stroke-width="2.2"/>
<line x1="796.5" y1="1933.98" x2="810.5" y2="1933.98" stroke="#ef7f80" stroke-width="2.2"/>
<line x1="796.5" y1="1896.02" x2="810.5" y2="1896.02" stroke="#ef7f80" stroke-width="2.2"/>
<line x1="927.35" y1="2004.21" x2="927.35" y2="1956.76" stroke="#ef7f80" stroke-width="2.2"/>
<line x1="920.35" y1="2004.21" x2="934.35" y2="2004.21" stroke="#ef7f80" stroke-width="2.2"/>
<line x1="920.35" y1="1956.76" x2="934.35" y2="1956.76" stroke="#ef7f80" stroke-width="2.2"/>
<line x1="803.5" y1="1932.08" x2="803.5" y2="1897.92" stroke="#e2331f" stroke-width="2.2"/>
<line x1="796.5" y1="1932.08" x2="810.5" y2="1932.08" stroke="#e2331f" stroke-width="2.2"/>
<line x1="796.5" y1="1897.92" x2="810.5" y2="1897.92" stroke="#e2331f" stroke-width="2.2"/>
<line x1="876.4" y1="1960.55" x2="876.4" y2="1943.47" stroke="#e2331f" stroke-width="2.2"/>
<line x1="869.4" y1="1960.55" x2="883.4" y2="1960.55" stroke="#e2331f" stroke-width="2.2"/>
<line x1="869.4" y1="1943.47" x2="883.4" y2="1943.47" stroke="#e2331f" stroke-width="2.2"/>
<line x1="927.35" y1="2019.39" x2="927.35" y2="2004.21" stroke="#e2331f" stroke-width="2.2"/>
<line x1="920.35" y1="2019.39" x2="934.35" y2="2019.39" stroke="#e2331f" stroke-width="2.2"/>
<line x1="920.35" y1="2004.21" x2="934.35" y2="2004.21" stroke="#e2331f" stroke-width="2.2"/>
<polygon points="803.5,1908.8 808.46,1915 803.5,1921.2 798.54,1915" fill="#e2331f"/>
<polygon points="876.4,1946.76 881.36,1952.96 876.4,1959.16 871.44,1952.96" fill="#e2331f"/>
<polygon points="927.35,2005.6 932.31,2011.8 927.35,2018 922.39,2011.8" fill="#e2331f"/>
<polygon points="949.3,2087.21 954.26,2093.41 949.3,2099.61 944.34,2093.41" fill="#e2331f"/>
<polygon points="971.25,2096.7 976.21,2102.9 971.25,2109.1 966.29,2102.9" fill="#e2331f"/>
<polygon points="1000.25,2098.6 1005.21,2104.8 1000.25,2111 995.29,2104.8" fill="#e2331f"/>
<polygon points="1022.2,2098.6 1027.16,2104.8 1022.2,2111 1017.24,2104.8" fill="#e2331f"/>
<polygon points="1095.1,2098.6 1100.06,2104.8 1095.1,2111 1090.14,2104.8" fill="#e2331f"/>
<polygon points="797.3,1910.35 809.7,1910.35 803.5,1920.27" fill="#ef7f80"/>
<polygon points="870.2,1910.35 882.6,1910.35 876.4,1920.27" fill="#ef7f80"/>
<polygon points="921.15,1972.98 933.55,1972.98 927.35,1982.9" fill="#ef7f80"/>
<polygon points="943.1,2083.07 955.5,2083.07 949.3,2092.99" fill="#ef7f80"/>
<polygon points="965.05,2096.35 977.45,2096.35 971.25,2106.27" fill="#ef7f80"/>
<polygon points="994.05,2100.15 1006.45,2100.15 1000.25,2110.07" fill="#ef7f80"/>
<polygon points="1016,2100.15 1028.4,2100.15 1022.2,2110.07" fill="#ef7f80"/>
<polygon points="1088.9,2100.15 1101.3,2100.15 1095.1,2110.07" fill="#ef7f80"/>
<circle cx="803.5" cy="1915" r="5.6" fill="#111111"/>
<circle cx="876.4" cy="1913.1" r="5.6" fill="#111111"/>
<circle cx="927.35" cy="1951.06" r="5.6" fill="#111111"/>
<circle cx="949.3" cy="2059.25" r="5.6" fill="#111111"/>
<circle cx="971.25" cy="2074.43" r="5.6" fill="#111111"/>
<circle cx="1000.25" cy="2104.8" r="5.6" fill="#111111"/>
<circle cx="1022.2" cy="2104.8" r="5.6" fill="#111111"/>
<circle cx="1095.1" cy="2104.8" r="5.6" fill="#111111"/>
<line x1="803.5" y1="1820.1" x2="803.5" y2="2105.8" stroke="#000" stroke-width="1.6"/>
<line x1="790.5" y1="2104.8" x2="1097.9" y2="2104.8" stroke="#000" stroke-width="1.6"/>
<line x1="790.5" y1="2104.8" x2="803.5" y2="2104.8" stroke="#000" stroke-width="1.6"/>
<text x="787.5" y="2113.62" font-size="24.5" text-anchor="end">0</text>
<line x1="790.5" y1="2009.9" x2="803.5" y2="2009.9" stroke="#000" stroke-width="1.6"/>
<text x="787.5" y="2018.72" font-size="24.5" text-anchor="end">50</text>
<line x1="790.5" y1="1915" x2="803.5" y2="1915" stroke="#000" stroke-width="1.6"/>
<text x="787.5" y="1923.82" font-size="24.5" text-anchor="end">100</text>
<line x1="790.5" y1="1820.1" x2="803.5" y2="1820.1" stroke="#000" stroke-width="1.6"/>
<text x="787.5" y="1828.92" font-size="24.5" text-anchor="end">150</text>
<line x1="803.5" y1="2104.8" x2="803.5" y2="2116.8" stroke="#000" stroke-width="1.6"/>
<line x1="825.45" y1="2104.8" x2="825.45" y2="2111.8" stroke="#000" stroke-width="1.3"/>
<line x1="838.28" y1="2104.8" x2="838.28" y2="2111.8" stroke="#000" stroke-width="1.3"/>
<line x1="847.39" y1="2104.8" x2="847.39" y2="2111.8" stroke="#000" stroke-width="1.3"/>
<line x1="854.45" y1="2104.8" x2="854.45" y2="2111.8" stroke="#000" stroke-width="1.3"/>
<line x1="860.23" y1="2104.8" x2="860.23" y2="2111.8" stroke="#000" stroke-width="1.3"/>
<line x1="865.11" y1="2104.8" x2="865.11" y2="2111.8" stroke="#000" stroke-width="1.3"/>
<line x1="869.34" y1="2104.8" x2="869.34" y2="2111.8" stroke="#000" stroke-width="1.3"/>
<line x1="873.06" y1="2104.8" x2="873.06" y2="2111.8" stroke="#000" stroke-width="1.3"/>
<line x1="876.4" y1="2104.8" x2="876.4" y2="2116.8" stroke="#000" stroke-width="1.6"/>
<line x1="898.35" y1="2104.8" x2="898.35" y2="2111.8" stroke="#000" stroke-width="1.3"/>
<line x1="911.18" y1="2104.8" x2="911.18" y2="2111.8" stroke="#000" stroke-width="1.3"/>
<line x1="920.29" y1="2104.8" x2="920.29" y2="2111.8" stroke="#000" stroke-width="1.3"/>
<line x1="927.35" y1="2104.8" x2="927.35" y2="2111.8" stroke="#000" stroke-width="1.3"/>
<line x1="933.13" y1="2104.8" x2="933.13" y2="2111.8" stroke="#000" stroke-width="1.3"/>
<line x1="938.01" y1="2104.8" x2="938.01" y2="2111.8" stroke="#000" stroke-width="1.3"/>
<line x1="942.24" y1="2104.8" x2="942.24" y2="2111.8" stroke="#000" stroke-width="1.3"/>
<line x1="945.96" y1="2104.8" x2="945.96" y2="2111.8" stroke="#000" stroke-width="1.3"/>
<line x1="949.3" y1="2104.8" x2="949.3" y2="2116.8" stroke="#000" stroke-width="1.6"/>
<line x1="971.25" y1="2104.8" x2="971.25" y2="2111.8" stroke="#000" stroke-width="1.3"/>
<line x1="984.08" y1="2104.8" x2="984.08" y2="2111.8" stroke="#000" stroke-width="1.3"/>
<line x1="993.19" y1="2104.8" x2="993.19" y2="2111.8" stroke="#000" stroke-width="1.3"/>
<line x1="1000.25" y1="2104.8" x2="1000.25" y2="2111.8" stroke="#000" stroke-width="1.3"/>
<line x1="1006.03" y1="2104.8" x2="1006.03" y2="2111.8" stroke="#000" stroke-width="1.3"/>
<line x1="1010.91" y1="2104.8" x2="1010.91" y2="2111.8" stroke="#000" stroke-width="1.3"/>
<line x1="1015.14" y1="2104.8" x2="1015.14" y2="2111.8" stroke="#000" stroke-width="1.3"/>
<line x1="1018.86" y1="2104.8" x2="1018.86" y2="2111.8" stroke="#000" stroke-width="1.3"/>
<line x1="1022.2" y1="2104.8" x2="1022.2" y2="2116.8" stroke="#000" stroke-width="1.6"/>
<line x1="1044.15" y1="2104.8" x2="1044.15" y2="2111.8" stroke="#000" stroke-width="1.3"/>
<line x1="1056.98" y1="2104.8" x2="1056.98" y2="2111.8" stroke="#000" stroke-width="1.3"/>
<line x1="1066.09" y1="2104.8" x2="1066.09" y2="2111.8" stroke="#000" stroke-width="1.3"/>
<line x1="1073.15" y1="2104.8" x2="1073.15" y2="2111.8" stroke="#000" stroke-width="1.3"/>
<line x1="1078.93" y1="2104.8" x2="1078.93" y2="2111.8" stroke="#000" stroke-width="1.3"/>
<line x1="1083.81" y1="2104.8" x2="1083.81" y2="2111.8" stroke="#000" stroke-width="1.3"/>
<line x1="1088.04" y1="2104.8" x2="1088.04" y2="2111.8" stroke="#000" stroke-width="1.3"/>
<line x1="1091.76" y1="2104.8" x2="1091.76" y2="2111.8" stroke="#000" stroke-width="1.3"/>
<line x1="1095.1" y1="2104.8" x2="1095.1" y2="2116.8" stroke="#000" stroke-width="1.6"/>
<g fill="#111"><circle cx="803.5" cy="2104.8" r="2.3"/><circle cx="813.9" cy="2104.8" r="2.3"/><circle cx="824.3" cy="2104.8" r="2.3"/><circle cx="834.7" cy="2104.8" r="2.3"/><circle cx="845.1" cy="2104.8" r="2.3"/><circle cx="855.5" cy="2104.8" r="2.3"/><circle cx="865.9" cy="2104.8" r="2.3"/><circle cx="876.3" cy="2104.8" r="2.3"/><circle cx="886.7" cy="2104.8" r="2.3"/><circle cx="897.1" cy="2104.8" r="2.3"/><circle cx="907.5" cy="2104.8" r="2.3"/><circle cx="917.9" cy="2104.8" r="2.3"/><circle cx="928.3" cy="2104.8" r="2.3"/><circle cx="938.7" cy="2104.8" r="2.3"/><circle cx="949.1" cy="2104.8" r="2.3"/><circle cx="959.5" cy="2104.8" r="2.3"/><circle cx="969.9" cy="2104.8" r="2.3"/><circle cx="980.3" cy="2104.8" r="2.3"/><circle cx="990.7" cy="2104.8" r="2.3"/><circle cx="1001.1" cy="2104.8" r="2.3"/><circle cx="1011.5" cy="2104.8" r="2.3"/><circle cx="1021.9" cy="2104.8" r="2.3"/><circle cx="1032.3" cy="2104.8" r="2.3"/><circle cx="1042.7" cy="2104.8" r="2.3"/><circle cx="1053.1" cy="2104.8" r="2.3"/><circle cx="1063.5" cy="2104.8" r="2.3"/><circle cx="1073.9" cy="2104.8" r="2.3"/><circle cx="1084.3" cy="2104.8" r="2.3"/><circle cx="1094.7" cy="2104.8" r="2.3"/></g>
<text x="803.5" y="2146.5" font-size="24.5" text-anchor="middle">0.1</text>
<text x="876.4" y="2146.5" font-size="24.5" text-anchor="middle">1</text>
<text x="949.3" y="2146.5" font-size="24.5" text-anchor="middle">10</text>
<text x="1022.2" y="2146.5" font-size="24.5" text-anchor="middle">100</text>
<text x="1095.1" y="2146.5" font-size="24.5" text-anchor="middle">1000</text>
<text x="820" y="1828.8" font-size="30.5">KP4</text>
<line x1="971.7" y1="1814.8" x2="1006.9" y2="1814.8" stroke="#111111" stroke-width="2.4"/>
<circle cx="989.3" cy="1814.8" r="5.6" fill="#111111"/>
<text x="1025" y="1823.3" font-size="25">sgNT</text>
<line x1="971.7" y1="1842.7" x2="1006.9" y2="1842.7" stroke="#e2331f" stroke-width="2.4"/>
<polygon points="983.1,1838.05 995.5,1838.05 989.3,1847.97" fill="#ef7f80"/>
<text x="1025" y="1851.2" font-size="25">sgSC5D_1</text>
<line x1="971.7" y1="1876.5" x2="1006.9" y2="1876.5" stroke="#e2331f" stroke-width="2.4"/>
<polygon points="989.3,1870.3 994.26,1876.5 989.3,1882.7 984.34,1876.5" fill="#e2331f"/>
<text x="1025" y="1885" font-size="25">sgSC5D_2</text>
<text x="716.3" y="1963" font-size="26" text-anchor="middle" transform="rotate(-90 716.3 1963)" dy="9.36">Confluency (%)</text>
<text x="955.5" y="2180.3" font-size="25" text-anchor="middle">log<tspan font-size="16" dy="6">10</tspan><tspan dy="-6">[RSL3 nM]</tspan></text>
<polyline points="1283.3,1917.89 1285.37,1917.89 1287.43,1917.9 1289.5,1917.91 1291.57,1917.91 1293.63,1917.92 1295.7,1917.93 1297.77,1917.94 1299.83,1917.95 1301.9,1917.97 1303.96,1917.98 1306.03,1918 1308.1,1918.01 1310.16,1918.03 1312.23,1918.05 1314.3,1918.07 1316.36,1918.1 1318.43,1918.12 1320.5,1918.15 1322.56,1918.18 1324.63,1918.21 1326.7,1918.25 1328.76,1918.29 1330.83,1918.34 1332.89,1918.38 1334.96,1918.44 1337.03,1918.5 1339.09,1918.56 1341.16,1918.63 1343.23,1918.7 1345.29,1918.79 1347.36,1918.88 1349.43,1918.97 1351.49,1919.08 1353.56,1919.2 1355.63,1919.33 1357.69,1919.47 1359.76,1919.62 1361.83,1919.79 1363.89,1919.97 1365.96,1920.17 1368.02,1920.39 1370.09,1920.63 1372.16,1920.89 1374.22,1921.17 1376.29,1921.48 1378.36,1921.82 1380.42,1922.18 1382.49,1922.58 1384.56,1923.02 1386.62,1923.49 1388.69,1924.01 1390.76,1924.57 1392.82,1925.18 1394.89,1925.84 1396.96,1926.56 1399.02,1927.34 1401.09,1928.19 1403.15,1929.1 1405.22,1930.09 1407.29,1931.17 1409.35,1932.32 1411.42,1933.57 1413.49,1934.92 1415.55,1936.37 1417.62,1937.93 1419.69,1939.6 1421.75,1941.39 1423.82,1943.31 1425.89,1945.36 1427.95,1947.54 1430.02,1949.86 1432.09,1952.32 1434.15,1954.93 1436.22,1957.68 1438.28,1960.58 1440.35,1963.63 1442.42,1966.82 1444.48,1970.15 1446.55,1973.62 1448.62,1977.22 1450.68,1980.94 1452.75,1984.77 1454.82,1988.71 1456.88,1992.74 1458.95,1996.84 1461.02,2001.01 1463.08,2005.22 1465.15,2009.46 1467.21,2013.71 1469.28,2017.96 1471.35,2022.19 1473.41,2026.38 1475.48,2030.51 1477.55,2034.57 1479.61,2038.56 1481.68,2042.44 1483.75,2046.21 1485.81,2049.87 1487.88,2053.4 1489.95,2056.8 1492.01,2060.05 1494.08,2063.17 1496.15,2066.13 1498.21,2068.96 1500.28,2071.63 1502.34,2074.16 1504.41,2076.54 1506.48,2078.79 1508.54,2080.9 1510.61,2082.87 1512.68,2084.72 1514.74,2086.45 1516.81,2088.06 1518.88,2089.56 1520.94,2090.95 1523.01,2092.24 1525.08,2093.44 1527.14,2094.56 1529.21,2095.58 1531.27,2096.53" fill="none" stroke="#111111" stroke-width="2.6"/>
<polyline points="1283.3,1920.96 1285.39,1920.96 1287.47,1920.97 1289.56,1920.97 1291.64,1920.97 1293.73,1920.97 1295.81,1920.97 1297.9,1920.98 1299.98,1920.98 1302.07,1920.98 1304.16,1920.99 1306.24,1920.99 1308.33,1920.99 1310.41,1921 1312.5,1921.01 1314.58,1921.01 1316.67,1921.02 1318.75,1921.03 1320.84,1921.04 1322.93,1921.05 1325.01,1921.06 1327.1,1921.07 1329.18,1921.09 1331.27,1921.1 1333.35,1921.12 1335.44,1921.14 1337.52,1921.17 1339.61,1921.19 1341.69,1921.22 1343.78,1921.26 1345.87,1921.29 1347.95,1921.34 1350.04,1921.39 1352.12,1921.44 1354.21,1921.5 1356.29,1921.57 1358.38,1921.64 1360.46,1921.73 1362.55,1921.83 1364.64,1921.94 1366.72,1922.06 1368.81,1922.19 1370.89,1922.35 1372.98,1922.52 1375.06,1922.71 1377.15,1922.93 1379.23,1923.18 1381.32,1923.45 1383.41,1923.76 1385.49,1924.1 1387.58,1924.49 1389.66,1924.92 1391.75,1925.4 1393.83,1925.94 1395.92,1926.55 1398,1927.22 1400.09,1927.98 1402.18,1928.81 1404.26,1929.75 1406.35,1930.79 1408.43,1931.95 1410.52,1933.23 1412.6,1934.65 1414.69,1936.22 1416.77,1937.95 1418.86,1939.85 1420.95,1941.94 1423.03,1944.24 1425.12,1946.74 1427.2,1949.46 1429.29,1952.41 1431.37,1955.61 1433.46,1959.04 1435.54,1962.72 1437.63,1966.65 1439.71,1970.82 1441.8,1975.21 1443.89,1979.83 1445.97,1984.65 1448.06,1989.65 1450.14,1994.8 1452.23,2000.07 1454.31,2005.43 1456.4,2010.85 1458.48,2016.28 1460.57,2021.69 1462.66,2027.05 1464.74,2032.31 1466.83,2037.44 1468.91,2042.43 1471,2047.23 1473.08,2051.82 1475.17,2056.2 1477.25,2060.34 1479.34,2064.25 1481.43,2067.9 1483.51,2071.32 1485.6,2074.49 1487.68,2077.42 1489.77,2080.12 1491.85,2082.6 1493.94,2084.87 1496.02,2086.95 1498.11,2088.83 1500.2,2090.55 1502.28,2092.1 1504.37,2093.51 1506.45,2094.78 1508.54,2095.92 1510.62,2096.95 1512.71,2097.88 1514.79,2098.71 1516.88,2099.45 1518.97,2100.12 1521.05,2100.72 1523.14,2101.25 1525.22,2101.73 1527.31,2102.16 1529.39,2102.54 1531.48,2102.88 1533.56,2103.19" fill="none" stroke="#e2331f" stroke-width="2.6"/>
<polyline points="1283.3,1913.59 1285.39,1913.59 1287.47,1913.59 1289.56,1913.6 1291.64,1913.6 1293.73,1913.6 1295.81,1913.6 1297.9,1913.61 1299.98,1913.61 1302.07,1913.61 1304.16,1913.62 1306.24,1913.62 1308.33,1913.63 1310.41,1913.63 1312.5,1913.64 1314.58,1913.65 1316.67,1913.65 1318.75,1913.66 1320.84,1913.67 1322.93,1913.69 1325.01,1913.7 1327.1,1913.71 1329.18,1913.73 1331.27,1913.75 1333.35,1913.77 1335.44,1913.79 1337.52,1913.82 1339.61,1913.85 1341.69,1913.88 1343.78,1913.92 1345.87,1913.96 1347.95,1914.01 1350.04,1914.06 1352.12,1914.12 1354.21,1914.18 1356.29,1914.26 1358.38,1914.34 1360.46,1914.43 1362.55,1914.54 1364.64,1914.66 1366.72,1914.79 1368.81,1914.94 1370.89,1915.1 1372.98,1915.29 1375.06,1915.5 1377.15,1915.73 1379.23,1915.99 1381.32,1916.29 1383.41,1916.62 1385.49,1916.99 1387.58,1917.4 1389.66,1917.86 1391.75,1918.37 1393.83,1918.95 1395.92,1919.59 1398,1920.31 1400.09,1921.11 1402.18,1922 1404.26,1922.98 1406.35,1924.08 1408.43,1925.3 1410.52,1926.65 1412.6,1928.14 1414.69,1929.78 1416.77,1931.6 1418.86,1933.59 1420.95,1935.77 1423.03,1938.16 1425.12,1940.77 1427.2,1943.6 1429.29,1946.66 1431.37,1949.97 1433.46,1953.53 1435.54,1957.34 1437.63,1961.39 1439.71,1965.69 1441.8,1970.22 1443.89,1974.97 1445.97,1979.93 1448.06,1985.06 1450.14,1990.35 1452.23,1995.76 1454.31,2001.26 1456.4,2006.82 1458.48,2012.39 1460.57,2017.95 1462.66,2023.44 1464.74,2028.84 1466.83,2034.12 1468.91,2039.24 1471,2044.17 1473.08,2048.9 1475.17,2053.41 1477.25,2057.69 1479.34,2061.72 1481.43,2065.5 1483.51,2069.03 1485.6,2072.32 1487.68,2075.36 1489.77,2078.17 1491.85,2080.76 1493.94,2083.13 1496.02,2085.29 1498.11,2087.27 1500.2,2089.06 1502.28,2090.69 1504.37,2092.17 1506.45,2093.5 1508.54,2094.71 1510.62,2095.8 1512.71,2096.78 1514.79,2097.65 1516.88,2098.45 1518.97,2099.15 1521.05,2099.79 1523.14,2100.36 1525.22,2100.87 1527.31,2101.33 1529.39,2101.73 1531.48,2102.1 1533.56,2102.42" fill="none" stroke="#e2331f" stroke-width="2.6"/>
<line x1="1283.3" y1="1933.86" x2="1283.3" y2="1900.68" stroke="#111111" stroke-width="2.2"/>
<line x1="1276.3" y1="1933.86" x2="1290.3" y2="1933.86" stroke="#111111" stroke-width="2.2"/>
<line x1="1276.3" y1="1900.68" x2="1290.3" y2="1900.68" stroke="#111111" stroke-width="2.2"/>
<line x1="1435.9" y1="1974.41" x2="1435.9" y2="1955.98" stroke="#111111" stroke-width="2.2"/>
<line x1="1428.9" y1="1974.41" x2="1442.9" y2="1974.41" stroke="#111111" stroke-width="2.2"/>
<line x1="1428.9" y1="1955.98" x2="1442.9" y2="1955.98" stroke="#111111" stroke-width="2.2"/>
<line x1="1458.87" y1="2005.75" x2="1458.87" y2="1991" stroke="#111111" stroke-width="2.2"/>
<line x1="1451.87" y1="2005.75" x2="1465.87" y2="2005.75" stroke="#111111" stroke-width="2.2"/>
<line x1="1451.87" y1="1991" x2="1465.87" y2="1991" stroke="#111111" stroke-width="2.2"/>
<line x1="1489.23" y1="2061.05" x2="1489.23" y2="2031.55" stroke="#111111" stroke-width="2.2"/>
<line x1="1482.23" y1="2061.05" x2="1496.23" y2="2061.05" stroke="#111111" stroke-width="2.2"/>
<line x1="1482.23" y1="2031.55" x2="1496.23" y2="2031.55" stroke="#111111" stroke-width="2.2"/>
<line x1="1283.3" y1="1957.82" x2="1283.3" y2="1873.03" stroke="#ef7f80" stroke-width="2.2"/>
<line x1="1276.3" y1="1957.82" x2="1290.3" y2="1957.82" stroke="#ef7f80" stroke-width="2.2"/>
<line x1="1276.3" y1="1873.03" x2="1290.3" y2="1873.03" stroke="#ef7f80" stroke-width="2.2"/>
<line x1="1359.6" y1="1937.54" x2="1359.6" y2="1917.27" stroke="#ef7f80" stroke-width="2.2"/>
<line x1="1352.6" y1="1937.54" x2="1366.6" y2="1937.54" stroke="#ef7f80" stroke-width="2.2"/>
<line x1="1352.6" y1="1917.27" x2="1366.6" y2="1917.27" stroke="#ef7f80" stroke-width="2.2"/>
<line x1="1458.87" y1="2018.65" x2="1458.87" y2="2003.9" stroke="#ef7f80" stroke-width="2.2"/>
<line x1="1451.87" y1="2018.65" x2="1465.87" y2="2018.65" stroke="#ef7f80" stroke-width="2.2"/>
<line x1="1451.87" y1="2003.9" x2="1465.87" y2="2003.9" stroke="#ef7f80" stroke-width="2.2"/>
<line x1="1489.23" y1="2083.17" x2="1489.23" y2="2068.42" stroke="#ef7f80" stroke-width="2.2"/>
<line x1="1482.23" y1="2083.17" x2="1496.23" y2="2083.17" stroke="#ef7f80" stroke-width="2.2"/>
<line x1="1482.23" y1="2068.42" x2="1496.23" y2="2068.42" stroke="#ef7f80" stroke-width="2.2"/>
<line x1="1283.3" y1="1939.39" x2="1283.3" y2="1893.3" stroke="#e2331f" stroke-width="2.2"/>
<line x1="1276.3" y1="1939.39" x2="1290.3" y2="1939.39" stroke="#e2331f" stroke-width="2.2"/>
<line x1="1276.3" y1="1893.3" x2="1290.3" y2="1893.3" stroke="#e2331f" stroke-width="2.2"/>
<line x1="1359.6" y1="1926.48" x2="1359.6" y2="1884.09" stroke="#e2331f" stroke-width="2.2"/>
<line x1="1352.6" y1="1926.48" x2="1366.6" y2="1926.48" stroke="#e2331f" stroke-width="2.2"/>
<line x1="1352.6" y1="1884.09" x2="1366.6" y2="1884.09" stroke="#e2331f" stroke-width="2.2"/>
<line x1="1435.9" y1="1991" x2="1435.9" y2="1926.48" stroke="#e2331f" stroke-width="2.2"/>
<line x1="1428.9" y1="1991" x2="1442.9" y2="1991" stroke="#e2331f" stroke-width="2.2"/>
<line x1="1428.9" y1="1926.48" x2="1442.9" y2="1926.48" stroke="#e2331f" stroke-width="2.2"/>
<line x1="1458.87" y1="2024.18" x2="1458.87" y2="2009.43" stroke="#e2331f" stroke-width="2.2"/>
<line x1="1451.87" y1="2024.18" x2="1465.87" y2="2024.18" stroke="#e2331f" stroke-width="2.2"/>
<line x1="1451.87" y1="2009.43" x2="1465.87" y2="2009.43" stroke="#e2331f" stroke-width="2.2"/>
<line x1="1489.23" y1="2088.7" x2="1489.23" y2="2075.79" stroke="#e2331f" stroke-width="2.2"/>
<line x1="1482.23" y1="2088.7" x2="1496.23" y2="2088.7" stroke="#e2331f" stroke-width="2.2"/>
<line x1="1482.23" y1="2075.79" x2="1496.23" y2="2075.79" stroke="#e2331f" stroke-width="2.2"/>
<polygon points="1283.3,1911.07 1288.26,1917.27 1283.3,1923.47 1278.34,1917.27" fill="#e2331f"/>
<polygon points="1359.6,1905.54 1364.56,1911.74 1359.6,1917.94 1354.64,1911.74" fill="#e2331f"/>
<polygon points="1435.9,1962.68 1440.86,1968.88 1435.9,1975.08 1430.94,1968.88" fill="#e2331f"/>
<polygon points="1458.87,2010.61 1463.83,2016.81 1458.87,2023.01 1453.91,2016.81" fill="#e2331f"/>
<polygon points="1489.23,2076.97 1494.19,2083.17 1489.23,2089.37 1484.27,2083.17" fill="#e2331f"/>
<polygon points="1512.2,2095.4 1517.16,2101.6 1512.2,2107.8 1507.24,2101.6" fill="#e2331f"/>
<polygon points="1277.1,1912.62 1289.5,1912.62 1283.3,1922.54" fill="#ef7f80"/>
<polygon points="1353.4,1921.83 1365.8,1921.83 1359.6,1931.75" fill="#ef7f80"/>
<polygon points="1429.7,1964.23 1442.1,1964.23 1435.9,1974.15" fill="#ef7f80"/>
<polygon points="1452.67,2006.63 1465.07,2006.63 1458.87,2016.55" fill="#ef7f80"/>
<polygon points="1483.03,2071.14 1495.43,2071.14 1489.23,2081.06" fill="#ef7f80"/>
<polygon points="1506,2096.95 1518.4,2096.95 1512.2,2106.87" fill="#ef7f80"/>
<circle cx="1283.3" cy="1917.27" r="5.6" fill="#111111"/>
<circle cx="1359.6" cy="1917.27" r="5.6" fill="#111111"/>
<circle cx="1435.9" cy="1965.19" r="5.6" fill="#111111"/>
<circle cx="1458.87" cy="1998.37" r="5.6" fill="#111111"/>
<circle cx="1489.23" cy="2046.3" r="5.6" fill="#111111"/>
<circle cx="1512.2" cy="2097.91" r="5.6" fill="#111111"/>
<circle cx="1565.53" cy="2101.6" r="5.6" fill="#111111"/>
<circle cx="1588.5" cy="2101.6" r="5.6" fill="#111111"/>
<line x1="1283.3" y1="1825.1" x2="1283.3" y2="2102.6" stroke="#000" stroke-width="1.6"/>
<line x1="1270.3" y1="2101.6" x2="1588.5" y2="2101.6" stroke="#000" stroke-width="1.6"/>
<line x1="1270.3" y1="2101.6" x2="1283.3" y2="2101.6" stroke="#000" stroke-width="1.6"/>
<text x="1267.3" y="2109.88" font-size="23" text-anchor="end">0</text>
<line x1="1270.3" y1="2009.43" x2="1283.3" y2="2009.43" stroke="#000" stroke-width="1.6"/>
<text x="1267.3" y="2017.71" font-size="23" text-anchor="end">50</text>
<line x1="1270.3" y1="1917.27" x2="1283.3" y2="1917.27" stroke="#000" stroke-width="1.6"/>
<text x="1267.3" y="1925.55" font-size="23" text-anchor="end">100</text>
<line x1="1270.3" y1="1825.1" x2="1283.3" y2="1825.1" stroke="#000" stroke-width="1.6"/>
<text x="1267.3" y="1833.38" font-size="23" text-anchor="end">150</text>
<line x1="1283.3" y1="2101.6" x2="1283.3" y2="2113.6" stroke="#000" stroke-width="1.6"/>
<line x1="1306.27" y1="2101.6" x2="1306.27" y2="2108.6" stroke="#000" stroke-width="1.3"/>
<line x1="1319.7" y1="2101.6" x2="1319.7" y2="2108.6" stroke="#000" stroke-width="1.3"/>
<line x1="1329.24" y1="2101.6" x2="1329.24" y2="2108.6" stroke="#000" stroke-width="1.3"/>
<line x1="1336.63" y1="2101.6" x2="1336.63" y2="2108.6" stroke="#000" stroke-width="1.3"/>
<line x1="1342.67" y1="2101.6" x2="1342.67" y2="2108.6" stroke="#000" stroke-width="1.3"/>
<line x1="1347.78" y1="2101.6" x2="1347.78" y2="2108.6" stroke="#000" stroke-width="1.3"/>
<line x1="1352.21" y1="2101.6" x2="1352.21" y2="2108.6" stroke="#000" stroke-width="1.3"/>
<line x1="1356.11" y1="2101.6" x2="1356.11" y2="2108.6" stroke="#000" stroke-width="1.3"/>
<line x1="1359.6" y1="2101.6" x2="1359.6" y2="2113.6" stroke="#000" stroke-width="1.6"/>
<line x1="1382.57" y1="2101.6" x2="1382.57" y2="2108.6" stroke="#000" stroke-width="1.3"/>
<line x1="1396" y1="2101.6" x2="1396" y2="2108.6" stroke="#000" stroke-width="1.3"/>
<line x1="1405.54" y1="2101.6" x2="1405.54" y2="2108.6" stroke="#000" stroke-width="1.3"/>
<line x1="1412.93" y1="2101.6" x2="1412.93" y2="2108.6" stroke="#000" stroke-width="1.3"/>
<line x1="1418.97" y1="2101.6" x2="1418.97" y2="2108.6" stroke="#000" stroke-width="1.3"/>
<line x1="1424.08" y1="2101.6" x2="1424.08" y2="2108.6" stroke="#000" stroke-width="1.3"/>
<line x1="1428.51" y1="2101.6" x2="1428.51" y2="2108.6" stroke="#000" stroke-width="1.3"/>
<line x1="1432.41" y1="2101.6" x2="1432.41" y2="2108.6" stroke="#000" stroke-width="1.3"/>
<line x1="1435.9" y1="2101.6" x2="1435.9" y2="2113.6" stroke="#000" stroke-width="1.6"/>
<line x1="1458.87" y1="2101.6" x2="1458.87" y2="2108.6" stroke="#000" stroke-width="1.3"/>
<line x1="1472.3" y1="2101.6" x2="1472.3" y2="2108.6" stroke="#000" stroke-width="1.3"/>
<line x1="1481.84" y1="2101.6" x2="1481.84" y2="2108.6" stroke="#000" stroke-width="1.3"/>
<line x1="1489.23" y1="2101.6" x2="1489.23" y2="2108.6" stroke="#000" stroke-width="1.3"/>
<line x1="1495.27" y1="2101.6" x2="1495.27" y2="2108.6" stroke="#000" stroke-width="1.3"/>
<line x1="1500.38" y1="2101.6" x2="1500.38" y2="2108.6" stroke="#000" stroke-width="1.3"/>
<line x1="1504.81" y1="2101.6" x2="1504.81" y2="2108.6" stroke="#000" stroke-width="1.3"/>
<line x1="1508.71" y1="2101.6" x2="1508.71" y2="2108.6" stroke="#000" stroke-width="1.3"/>
<line x1="1512.2" y1="2101.6" x2="1512.2" y2="2113.6" stroke="#000" stroke-width="1.6"/>
<line x1="1535.17" y1="2101.6" x2="1535.17" y2="2108.6" stroke="#000" stroke-width="1.3"/>
<line x1="1548.6" y1="2101.6" x2="1548.6" y2="2108.6" stroke="#000" stroke-width="1.3"/>
<line x1="1558.14" y1="2101.6" x2="1558.14" y2="2108.6" stroke="#000" stroke-width="1.3"/>
<line x1="1565.53" y1="2101.6" x2="1565.53" y2="2108.6" stroke="#000" stroke-width="1.3"/>
<line x1="1571.57" y1="2101.6" x2="1571.57" y2="2108.6" stroke="#000" stroke-width="1.3"/>
<line x1="1576.68" y1="2101.6" x2="1576.68" y2="2108.6" stroke="#000" stroke-width="1.3"/>
<line x1="1581.11" y1="2101.6" x2="1581.11" y2="2108.6" stroke="#000" stroke-width="1.3"/>
<line x1="1585.01" y1="2101.6" x2="1585.01" y2="2108.6" stroke="#000" stroke-width="1.3"/>
<line x1="1588.5" y1="2101.6" x2="1588.5" y2="2113.6" stroke="#000" stroke-width="1.6"/>
<g fill="#111"><circle cx="1283.3" cy="2101.6" r="2.3"/><circle cx="1293.7" cy="2101.6" r="2.3"/><circle cx="1304.1" cy="2101.6" r="2.3"/><circle cx="1314.5" cy="2101.6" r="2.3"/><circle cx="1324.9" cy="2101.6" r="2.3"/><circle cx="1335.3" cy="2101.6" r="2.3"/><circle cx="1345.7" cy="2101.6" r="2.3"/><circle cx="1356.1" cy="2101.6" r="2.3"/><circle cx="1366.5" cy="2101.6" r="2.3"/><circle cx="1376.9" cy="2101.6" r="2.3"/><circle cx="1387.3" cy="2101.6" r="2.3"/><circle cx="1397.7" cy="2101.6" r="2.3"/><circle cx="1408.1" cy="2101.6" r="2.3"/><circle cx="1418.5" cy="2101.6" r="2.3"/><circle cx="1428.9" cy="2101.6" r="2.3"/><circle cx="1439.3" cy="2101.6" r="2.3"/><circle cx="1449.7" cy="2101.6" r="2.3"/><circle cx="1460.1" cy="2101.6" r="2.3"/><circle cx="1470.5" cy="2101.6" r="2.3"/><circle cx="1480.9" cy="2101.6" r="2.3"/><circle cx="1491.3" cy="2101.6" r="2.3"/><circle cx="1501.7" cy="2101.6" r="2.3"/><circle cx="1512.1" cy="2101.6" r="2.3"/><circle cx="1522.5" cy="2101.6" r="2.3"/><circle cx="1532.9" cy="2101.6" r="2.3"/><circle cx="1543.3" cy="2101.6" r="2.3"/><circle cx="1553.7" cy="2101.6" r="2.3"/><circle cx="1564.1" cy="2101.6" r="2.3"/><circle cx="1574.5" cy="2101.6" r="2.3"/><circle cx="1584.9" cy="2101.6" r="2.3"/></g>
<text x="1283.3" y="2139.2" font-size="23" text-anchor="middle">0.1</text>
<text x="1359.6" y="2139.2" font-size="23" text-anchor="middle">1</text>
<text x="1435.9" y="2139.2" font-size="23" text-anchor="middle">10</text>
<text x="1512.2" y="2139.2" font-size="23" text-anchor="middle">100</text>
<text x="1588.5" y="2139.2" font-size="23" text-anchor="middle">1000</text>
<text x="0" y="0" font-size="27"></text>
<line x1="1486.4" y1="1828" x2="1519.6" y2="1828" stroke="#111111" stroke-width="2.4"/>
<circle cx="1503" cy="1828" r="5.6" fill="#111111"/>
<text x="1537.2" y="1836.5" font-size="25">sgNT</text>
<line x1="1486.4" y1="1858.9" x2="1519.6" y2="1858.9" stroke="#e2331f" stroke-width="2.4"/>
<polygon points="1496.8,1854.25 1509.2,1854.25 1503,1864.17" fill="#ef7f80"/>
<text x="1537.2" y="1867.4" font-size="25">sgSC5D_1</text>
<line x1="1486.4" y1="1890.3" x2="1519.6" y2="1890.3" stroke="#e2331f" stroke-width="2.4"/>
<polygon points="1503,1884.1 1507.96,1890.3 1503,1896.5 1498.04,1890.3" fill="#e2331f"/>
<text x="1537.2" y="1898.8" font-size="25">sgSC5D_2</text>
<text x="1202.6" y="1957.2" font-size="26" text-anchor="middle" transform="rotate(-90 1202.6 1957.2)" dy="9.36">Confluency (%)</text>
<text x="1419.8" y="2183.2" font-size="25" text-anchor="middle">log<tspan font-size="16" dy="6">10</tspan><tspan dy="-6">[ML210 nM]</tspan></text>
<text x="0" y="0" font-size="40" font-weight="bold" transform="translate(1733.5 1797.7) scale(1.13 0.95)">k</text>
<text x="1990.8" y="1786" font-size="28.6" text-anchor="middle">PCSK9 low</text>
<line x1="1824.8" y1="1809.5" x2="1824.8" y2="2186.3" stroke="#000" stroke-width="1.6"/>
<line x1="1820.8" y1="2186.3" x2="1824.8" y2="2186.3" stroke="#000" stroke-width="1.2"/>
<text x="1820.8" y="2194.8" font-size="23.5" text-anchor="end">-8</text>
<line x1="1820.8" y1="2132.47" x2="1824.8" y2="2132.47" stroke="#000" stroke-width="1.2"/>
<text x="1820.8" y="2140.97" font-size="23.5" text-anchor="end">-6</text>
<line x1="1820.8" y1="2078.64" x2="1824.8" y2="2078.64" stroke="#000" stroke-width="1.2"/>
<text x="1820.8" y="2087.14" font-size="23.5" text-anchor="end">-4</text>
<line x1="1820.8" y1="2024.81" x2="1824.8" y2="2024.81" stroke="#000" stroke-width="1.2"/>
<text x="1820.8" y="2033.31" font-size="23.5" text-anchor="end">-2</text>
<line x1="1820.8" y1="1970.99" x2="1824.8" y2="1970.99" stroke="#000" stroke-width="1.2"/>
<text x="1820.8" y="1979.49" font-size="23.5" text-anchor="end">0</text>
<line x1="1820.8" y1="1917.16" x2="1824.8" y2="1917.16" stroke="#000" stroke-width="1.2"/>
<text x="1820.8" y="1925.66" font-size="23.5" text-anchor="end">2</text>
<line x1="1820.8" y1="1863.33" x2="1824.8" y2="1863.33" stroke="#000" stroke-width="1.2"/>
<text x="1820.8" y="1871.83" font-size="23.5" text-anchor="end">4</text>
<line x1="1820.8" y1="1809.5" x2="1824.8" y2="1809.5" stroke="#000" stroke-width="1.2"/>
<text x="1820.8" y="1818" font-size="23.5" text-anchor="end">6</text>
<text x="1768.3" y="1982.5" font-size="24.5" text-anchor="middle" transform="rotate(-90 1768.3 1982.5)" dy="9">Pearson correlation z-score</text>
<line x1="1867.9" y1="1917.16" x2="2114.5" y2="1917.16" stroke="#000" stroke-width="1.4"/>
<line x1="1867.9" y1="2024.81" x2="2114.5" y2="2024.81" stroke="#000" stroke-width="1.4"/>
<rect x="1867.9" y="1944.07" width="246.6" height="53.83" fill="#fff" stroke="#111" stroke-width="1.4"/>
<line x1="1867.9" y1="1967.99" x2="2114.5" y2="1967.99" stroke="#000" stroke-width="1.4"/>
<line x1="1991.3" y1="1917.16" x2="1991.3" y2="1944.07" stroke="#000" stroke-width="1.3" stroke-dasharray="2.5 2"/>
<line x1="1991.3" y1="1997.9" x2="1991.3" y2="2024.81" stroke="#000" stroke-width="1.3" stroke-dasharray="2.5 2"/>
<text x="2120" y="1920.16" font-size="7.5" fill="#222">2</text>
<text x="2118" y="2027.81" font-size="7.5" fill="#222">-2</text>
<text x="2120" y="1970.99" font-size="7.5" fill="#222">0</text>
<text x="1857" y="1945.07" font-size="7.5" fill="#222">1</text>
<text x="1853" y="1999.9" font-size="7.5" fill="#222">-1</text>
<g fill="#d23a28" stroke="#3a1410" stroke-width="0.8"><circle cx="1997.91" cy="1824.79" r="3.4"/><circle cx="1990.84" cy="1829.5" r="3.4"/><circle cx="1990.84" cy="1840.09" r="3.4"/><circle cx="1997.91" cy="1837.03" r="3.4"/><circle cx="1997.91" cy="1853.05" r="3.4"/><circle cx="1990.84" cy="1858.94" r="3.4"/><circle cx="1990.84" cy="1870.24" r="3.4"/><circle cx="1976.71" cy="1878.95" r="3.4"/><circle cx="2004.97" cy="1879.43" r="3.4"/><circle cx="2012.04" cy="1878.48" r="3.4"/><circle cx="1983.78" cy="1882.49" r="3.4"/><circle cx="1997.91" cy="1883.66" r="3.4"/><circle cx="1976.71" cy="1887.2" r="3.4"/><circle cx="1983.78" cy="1888.85" r="3.4"/><circle cx="1990.84" cy="1886.02" r="3.4"/><circle cx="1997.91" cy="1887.2" r="3.4"/><circle cx="2004.97" cy="1887.2" r="3.4"/><circle cx="2012.04" cy="1886.49" r="3.4"/><circle cx="1990.84" cy="1893.09" r="3.4"/><circle cx="1997.91" cy="1892.61" r="3.4"/><circle cx="1962.58" cy="1894.26" r="3.4"/><circle cx="1969.65" cy="1895.44" r="3.4"/><circle cx="1976.71" cy="1896.62" r="3.4"/><circle cx="1983.78" cy="1895.44" r="3.4"/><circle cx="2004.97" cy="1896.62" r="3.4"/><circle cx="2012.04" cy="1896.62" r="3.4"/><circle cx="2019.11" cy="1894.97" r="3.4"/><circle cx="2026.17" cy="1893.56" r="3.4"/><circle cx="1955.52" cy="1901.33" r="3.4"/><circle cx="1962.58" cy="1902.51" r="3.4"/><circle cx="1969.65" cy="1901.33" r="3.4"/><circle cx="1976.71" cy="1900.62" r="3.4"/><circle cx="1983.78" cy="1900.15" r="3.4"/><circle cx="1990.84" cy="1900.15" r="3.4"/><circle cx="1997.91" cy="1900.62" r="3.4"/><circle cx="2004.97" cy="1901.33" r="3.4"/><circle cx="2012.04" cy="1902.03" r="3.4"/><circle cx="2019.11" cy="1902.51" r="3.4"/><circle cx="2026.17" cy="1902.03" r="3.4"/><circle cx="2033.24" cy="1901.33" r="3.4"/><circle cx="1962.58" cy="1904.86" r="3.4"/><circle cx="1969.65" cy="1906.04" r="3.4"/><circle cx="1976.71" cy="1906.75" r="3.4"/><circle cx="1983.78" cy="1906.04" r="3.4"/><circle cx="1990.84" cy="1907.22" r="3.4"/><circle cx="1997.91" cy="1906.75" r="3.4"/><circle cx="2004.97" cy="1906.04" r="3.4"/><circle cx="2012.04" cy="1906.04" r="3.4"/><circle cx="2019.11" cy="1907.69" r="3.4"/><circle cx="1969.65" cy="1910.75" r="3.4"/><circle cx="1976.71" cy="1911.93" r="3.4"/><circle cx="1983.78" cy="1913.1" r="3.4"/><circle cx="1990.84" cy="1911.46" r="3.4"/><circle cx="1997.91" cy="1912.63" r="3.4"/><circle cx="2004.97" cy="1911.93" r="3.4"/><circle cx="2012.04" cy="1911.46" r="3.4"/><circle cx="1983.78" cy="1914.28" r="3.4"/><circle cx="1990.84" cy="1914.99" r="3.4"/><circle cx="1997.91" cy="1915.46" r="3.4"/><circle cx="2004.97" cy="1913.81" r="3.4"/><circle cx="1955.52" cy="2027.8" r="3.4"/><circle cx="1962.58" cy="2028.51" r="3.4"/><circle cx="1969.65" cy="2029.21" r="3.4"/><circle cx="1976.71" cy="2029.68" r="3.4"/><circle cx="1983.78" cy="2031.33" r="3.4"/><circle cx="1990.84" cy="2032.75" r="3.4"/><circle cx="1997.91" cy="2032.04" r="3.4"/><circle cx="2004.97" cy="2031.33" r="3.4"/><circle cx="2012.04" cy="2030.63" r="3.4"/><circle cx="2019.11" cy="2029.21" r="3.4"/><circle cx="2026.17" cy="2028.51" r="3.4"/><circle cx="1955.52" cy="2034.39" r="3.4"/><circle cx="1962.58" cy="2035.1" r="3.4"/><circle cx="1969.65" cy="2035.57" r="3.4"/><circle cx="1976.71" cy="2036.28" r="3.4"/><circle cx="1983.78" cy="2037.22" r="3.4"/><circle cx="1990.84" cy="2038.63" r="3.4"/><circle cx="1997.91" cy="2038.63" r="3.4"/><circle cx="2004.97" cy="2037.22" r="3.4"/><circle cx="2012.04" cy="2036.28" r="3.4"/><circle cx="2019.11" cy="2035.57" r="3.4"/><circle cx="2026.17" cy="2034.87" r="3.4"/><circle cx="2033.24" cy="2033.92" r="3.4"/><circle cx="1983.78" cy="2040.28" r="3.4"/><circle cx="1990.84" cy="2040.99" r="3.4"/><circle cx="1997.91" cy="2039.81" r="3.4"/><circle cx="1983.78" cy="2048.53" r="3.4"/><circle cx="1990.84" cy="2048.05" r="3.4"/><circle cx="1997.91" cy="2048.53" r="3.4"/><circle cx="1969.65" cy="2052.06" r="3.4"/><circle cx="1976.71" cy="2054.41" r="3.4"/><circle cx="1983.78" cy="2055.59" r="3.4"/><circle cx="1990.84" cy="2055.12" r="3.4"/><circle cx="1997.91" cy="2055.12" r="3.4"/><circle cx="2004.97" cy="2054.41" r="3.4"/><circle cx="2012.04" cy="2053.71" r="3.4"/><circle cx="2019.11" cy="2051.35" r="3.4"/><circle cx="1969.65" cy="2059.83" r="3.4"/><circle cx="1976.71" cy="2060.77" r="3.4"/><circle cx="1983.78" cy="2061.48" r="3.4"/><circle cx="1990.84" cy="2062.19" r="3.4"/><circle cx="1997.91" cy="2060.77" r="3.4"/><circle cx="2004.97" cy="2060.3" r="3.4"/><circle cx="2012.04" cy="2059.12" r="3.4"/><circle cx="2019.11" cy="2057.95" r="3.4"/><circle cx="1976.71" cy="2066.19" r="3.4"/><circle cx="1983.78" cy="2066.9" r="3.4"/><circle cx="1990.84" cy="2065.48" r="3.4"/><circle cx="1997.91" cy="2066.19" r="3.4"/><circle cx="2004.97" cy="2066.9" r="3.4"/><circle cx="2012.04" cy="2065.72" r="3.4"/><circle cx="1983.78" cy="2072.55" r="3.4"/><circle cx="1990.84" cy="2071.61" r="3.4"/><circle cx="1997.91" cy="2070.9" r="3.4"/><circle cx="1983.78" cy="2077.97" r="3.4"/><circle cx="1997.91" cy="2081.5" r="3.4"/><circle cx="2004.97" cy="2077.26" r="3.4"/><circle cx="1990.84" cy="2084.32" r="3.4"/><circle cx="1997.91" cy="2087.86" r="3.4"/><circle cx="1990.84" cy="2092.57" r="3.4"/><circle cx="1983.78" cy="2100.34" r="3.4"/><circle cx="1990.84" cy="2103.17" r="3.4"/><circle cx="1997.91" cy="2100.34" r="3.4"/><circle cx="1997.91" cy="2113.29" r="3.4"/><circle cx="1990.84" cy="2116.35" r="3.4"/><circle cx="1997.91" cy="2130.96" r="3.4"/><circle cx="1990.84" cy="2138.02" r="3.4"/><circle cx="1990.84" cy="2146.26" r="3.4"/><circle cx="1997.91" cy="2153.33" r="3.4"/><circle cx="1990.84" cy="2155.69" r="3.4"/><circle cx="1990.84" cy="2169.11" r="3.4"/></g>
<line x1="1999" y1="1824.3" x2="2043.8" y2="1824.3" stroke="#000" stroke-width="1.6"/>
<line x1="1943.7" y1="1840.6" x2="1990.8" y2="1840.6" stroke="#000" stroke-width="1.6"/>
<line x1="1999" y1="1853" x2="2043.8" y2="1853" stroke="#000" stroke-width="1.6"/>
<text x="2051" y="1830.7" font-size="25">ML210</text>
<text x="1937.8" y="1846" font-size="25" text-anchor="end">ML162</text>
<text x="2049.7" y="1861.3" font-size="25">RSL3</text>
</svg>
</body></html>
